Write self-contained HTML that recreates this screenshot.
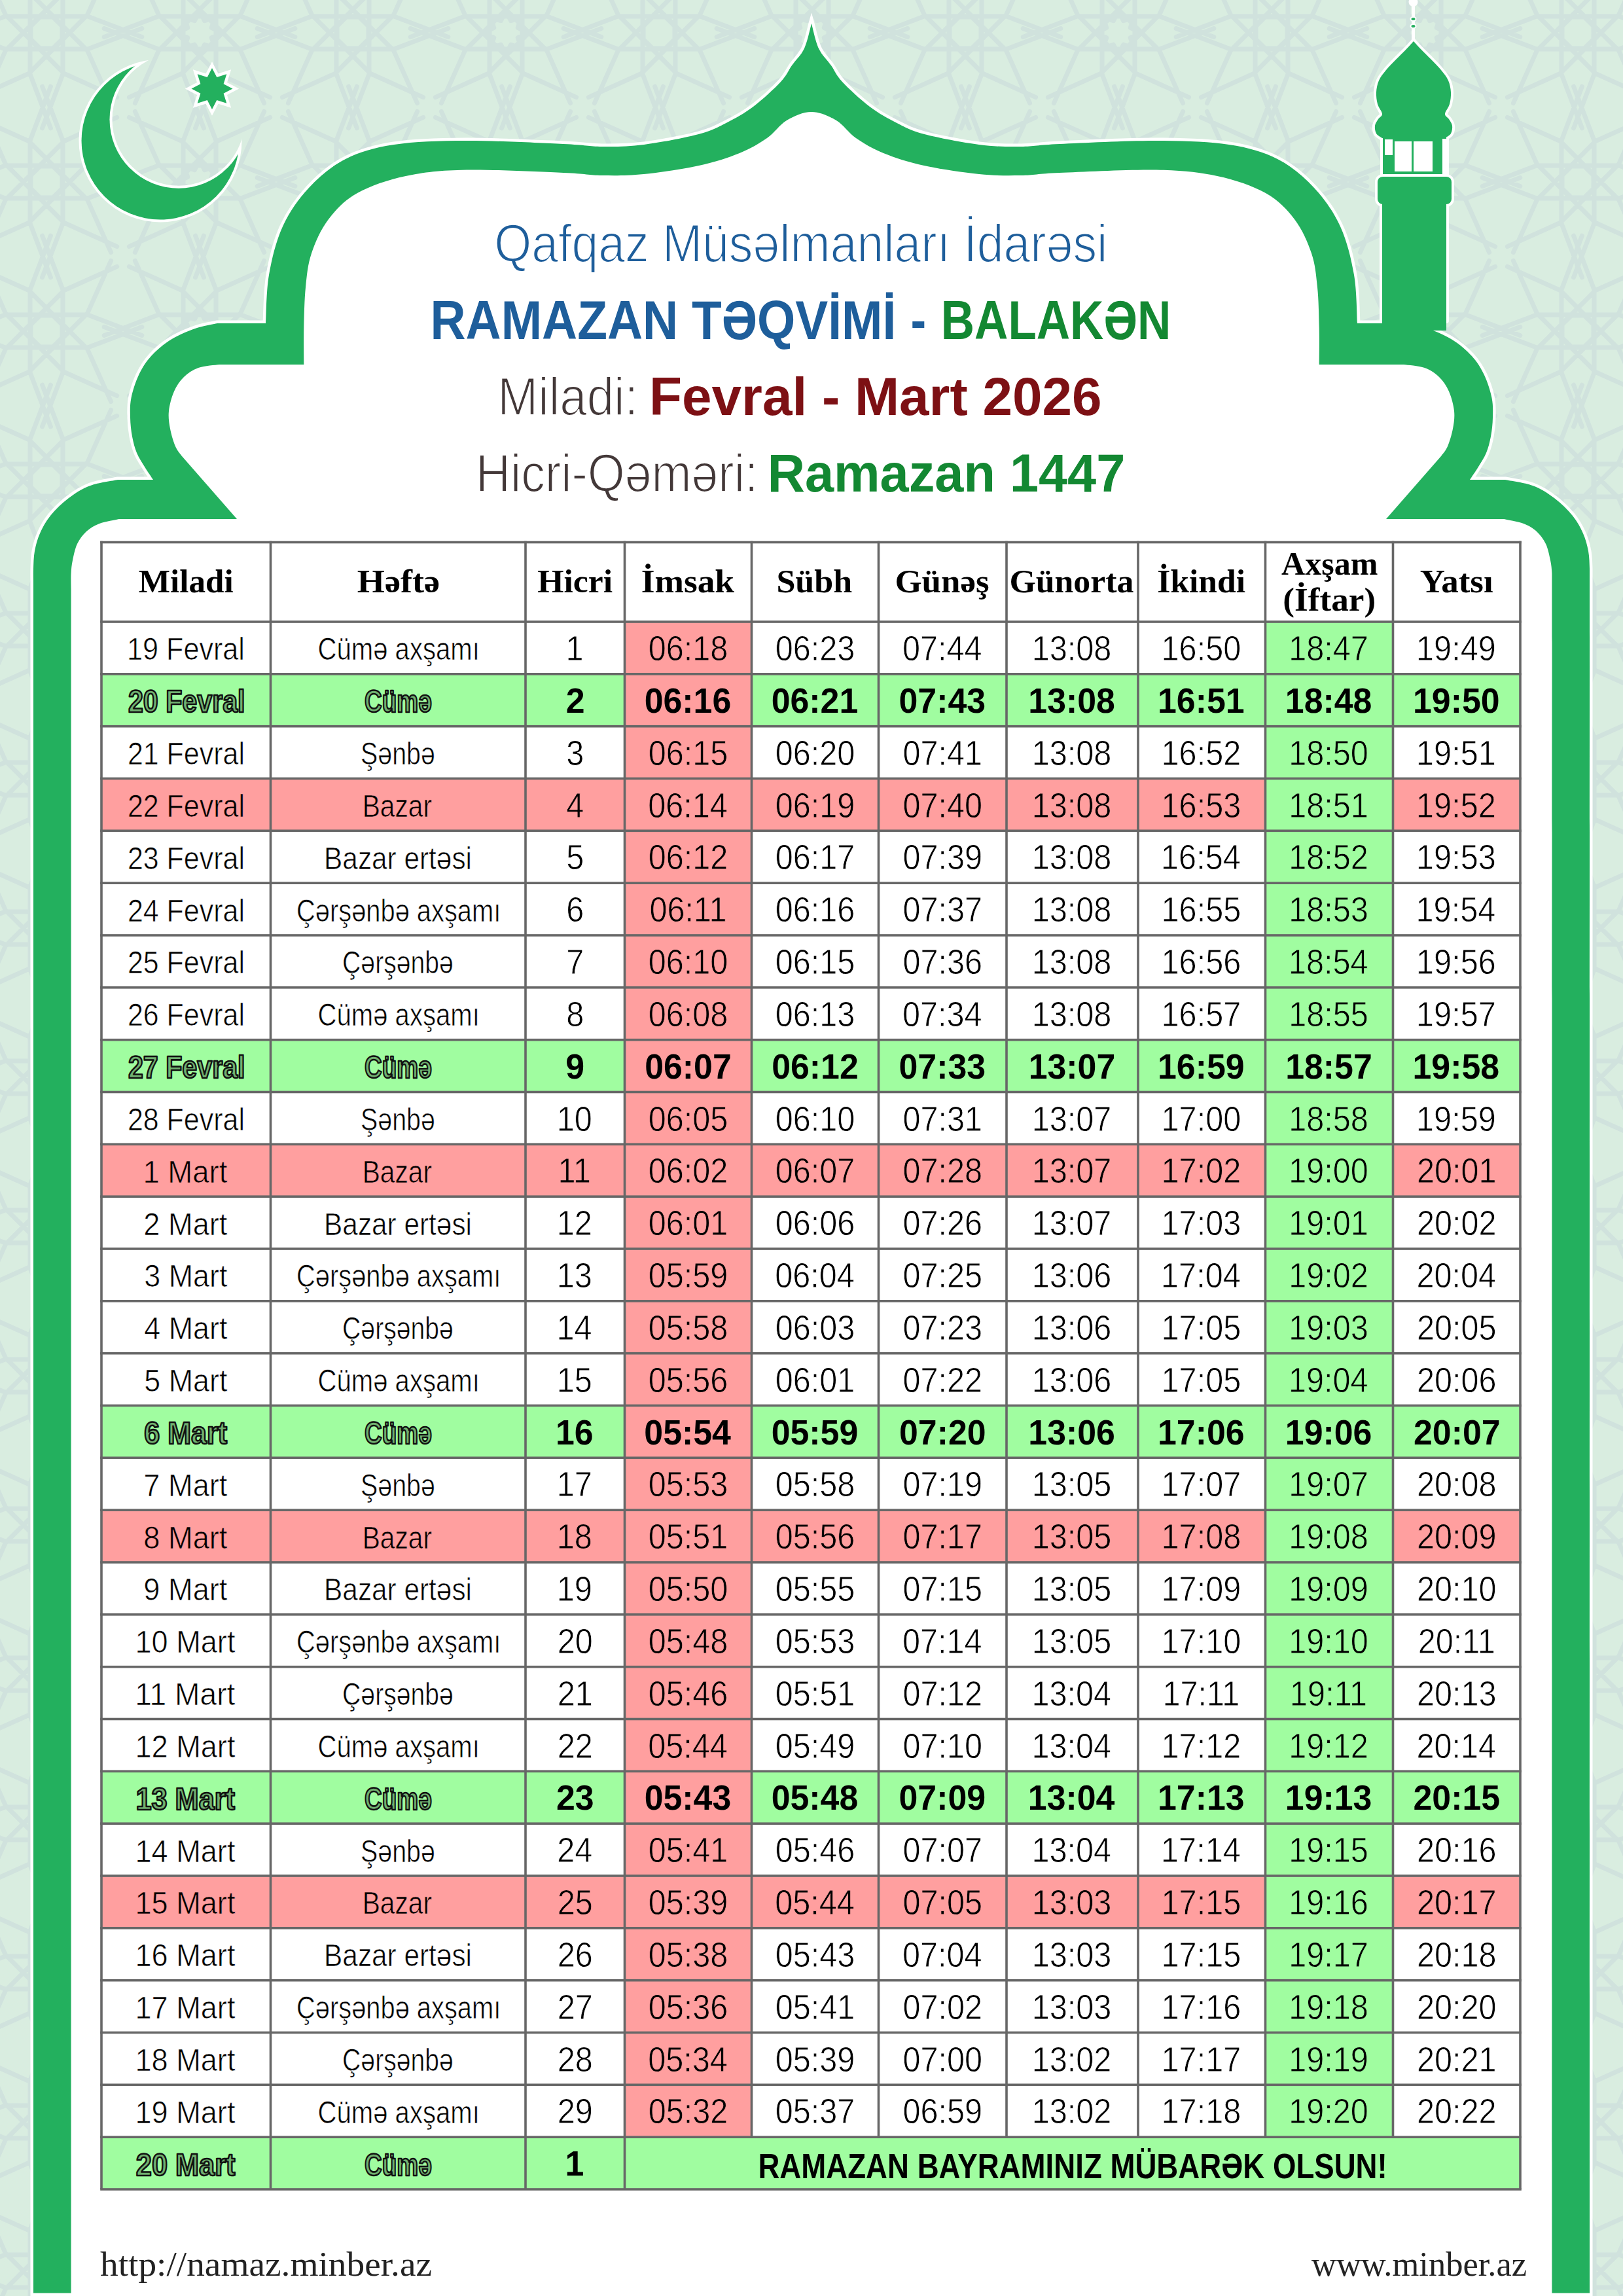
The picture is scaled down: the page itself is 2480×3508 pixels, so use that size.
<!DOCTYPE html>
<html><head><meta charset="utf-8"><style>
html,body{margin:0;padding:0;}
body{width:2480px;height:3508px;overflow:hidden;position:relative;background:#d9ede0;}
svg{position:absolute;left:0;top:0;}
</style></head><body>
<svg width="2480" height="3508" viewBox="0 0 2480 3508">
<rect width="2480" height="3508" fill="#d9ede0"/>
<path d="M-225 -153L-101 -153M-225 -203L-101 -203M-224.5 -204.2L-136.8 -116.5M-189.2 -239.5L-101.5 -151.8M-188 -240L-188 -116M-138 -240L-138 -116M-136.8 -239.5L-224.5 -151.8M-101.5 -204.2L-189.2 -116.5M-101.2 -152.4L-17.2 -184.4M-101.2 -152.4L-64.4 -70.4M-137.4 -116.2L-55.4 -79.4M-137.4 -116.2L-169.4 -32.2M-188.6 -116.2L-156.6 -32.2M-188.6 -116.2L-270.6 -79.4M-224.8 -152.4L-261.6 -70.4M-224.8 -152.4L-308.8 -184.4M-224.8 -203.6L-308.8 -171.6M-224.8 -203.6L-261.6 -285.6M-188.6 -239.8L-270.6 -276.6M-188.6 -239.8L-156.6 -323.8M-137.4 -239.8L-169.4 -323.8M-137.4 -239.8L-55.4 -276.6M-101.2 -203.6L-64.4 -285.6M-101.2 -203.6L-17.2 -171.6M-163 -211L-155.4 -196.3M-155.4 -196.3L-139.7 -201.3M-139.7 -201.3L-144.7 -185.6M-144.7 -185.6L-130 -178M-130 -178L-144.7 -170.4M-144.7 -170.4L-139.7 -154.7M-139.7 -154.7L-155.4 -159.7M-155.4 -159.7L-163 -145M-163 -145L-170.6 -159.7M-170.6 -159.7L-186.3 -154.7M-186.3 -154.7L-181.3 -170.4M-181.3 -170.4L-196 -178M-196 -178L-181.3 -185.6M-181.3 -185.6L-186.3 -201.3M-186.3 -201.3L-170.6 -196.3M-170.6 -196.3L-163 -211M-225 75L-101 75M-225 25L-101 25M-224.5 23.8L-136.8 111.5M-189.2 -11.5L-101.5 76.2M-188 -12L-188 112M-138 -12L-138 112M-136.8 -11.5L-224.5 76.2M-101.5 23.8L-189.2 111.5M-101.2 75.6L-17.2 43.6M-101.2 75.6L-64.4 157.6M-137.4 111.8L-55.4 148.6M-137.4 111.8L-169.4 195.8M-188.6 111.8L-156.6 195.8M-188.6 111.8L-270.6 148.6M-224.8 75.6L-261.6 157.6M-224.8 75.6L-308.8 43.6M-224.8 24.4L-308.8 56.4M-224.8 24.4L-261.6 -57.6M-188.6 -11.8L-270.6 -48.6M-188.6 -11.8L-156.6 -95.8M-137.4 -11.8L-169.4 -95.8M-137.4 -11.8L-55.4 -48.6M-101.2 24.4L-64.4 -57.6M-101.2 24.4L-17.2 56.4M-163 17L-155.4 31.7M-155.4 31.7L-139.7 26.7M-139.7 26.7L-144.7 42.4M-144.7 42.4L-130 50M-130 50L-144.7 57.6M-144.7 57.6L-139.7 73.3M-139.7 73.3L-155.4 68.3M-155.4 68.3L-163 83M-163 83L-170.6 68.3M-170.6 68.3L-186.3 73.3M-186.3 73.3L-181.3 57.6M-181.3 57.6L-196 50M-196 50L-181.3 42.4M-181.3 42.4L-186.3 26.7M-186.3 26.7L-170.6 31.7M-170.6 31.7L-163 17M-225 303L-101 303M-225 253L-101 253M-224.5 251.8L-136.8 339.5M-189.2 216.5L-101.5 304.2M-188 216L-188 340M-138 216L-138 340M-136.8 216.5L-224.5 304.2M-101.5 251.8L-189.2 339.5M-101.2 303.6L-17.2 271.6M-101.2 303.6L-64.4 385.6M-137.4 339.8L-55.4 376.6M-137.4 339.8L-169.4 423.8M-188.6 339.8L-156.6 423.8M-188.6 339.8L-270.6 376.6M-224.8 303.6L-261.6 385.6M-224.8 303.6L-308.8 271.6M-224.8 252.4L-308.8 284.4M-224.8 252.4L-261.6 170.4M-188.6 216.2L-270.6 179.4M-188.6 216.2L-156.6 132.2M-137.4 216.2L-169.4 132.2M-137.4 216.2L-55.4 179.4M-101.2 252.4L-64.4 170.4M-101.2 252.4L-17.2 284.4M-163 245L-155.4 259.7M-155.4 259.7L-139.7 254.7M-139.7 254.7L-144.7 270.4M-144.7 270.4L-130 278M-130 278L-144.7 285.6M-144.7 285.6L-139.7 301.3M-139.7 301.3L-155.4 296.3M-155.4 296.3L-163 311M-163 311L-170.6 296.3M-170.6 296.3L-186.3 301.3M-186.3 301.3L-181.3 285.6M-181.3 285.6L-196 278M-196 278L-181.3 270.4M-181.3 270.4L-186.3 254.7M-186.3 254.7L-170.6 259.7M-170.6 259.7L-163 245M-225 531L-101 531M-225 481L-101 481M-224.5 479.8L-136.8 567.5M-189.2 444.5L-101.5 532.2M-188 444L-188 568M-138 444L-138 568M-136.8 444.5L-224.5 532.2M-101.5 479.8L-189.2 567.5M-101.2 531.6L-17.2 499.6M-101.2 531.6L-64.4 613.6M-137.4 567.8L-55.4 604.6M-137.4 567.8L-169.4 651.8M-188.6 567.8L-156.6 651.8M-188.6 567.8L-270.6 604.6M-224.8 531.6L-261.6 613.6M-224.8 531.6L-308.8 499.6M-224.8 480.4L-308.8 512.4M-224.8 480.4L-261.6 398.4M-188.6 444.2L-270.6 407.4M-188.6 444.2L-156.6 360.2M-137.4 444.2L-169.4 360.2M-137.4 444.2L-55.4 407.4M-101.2 480.4L-64.4 398.4M-101.2 480.4L-17.2 512.4M-163 473L-155.4 487.7M-155.4 487.7L-139.7 482.7M-139.7 482.7L-144.7 498.4M-144.7 498.4L-130 506M-130 506L-144.7 513.6M-144.7 513.6L-139.7 529.3M-139.7 529.3L-155.4 524.3M-155.4 524.3L-163 539M-163 539L-170.6 524.3M-170.6 524.3L-186.3 529.3M-186.3 529.3L-181.3 513.6M-181.3 513.6L-196 506M-196 506L-181.3 498.4M-181.3 498.4L-186.3 482.7M-186.3 482.7L-170.6 487.7M-170.6 487.7L-163 473M-225 759L-101 759M-225 709L-101 709M-224.5 707.8L-136.8 795.5M-189.2 672.5L-101.5 760.2M-188 672L-188 796M-138 672L-138 796M-136.8 672.5L-224.5 760.2M-101.5 707.8L-189.2 795.5M-101.2 759.6L-17.2 727.6M-101.2 759.6L-64.4 841.6M-137.4 795.8L-55.4 832.6M-137.4 795.8L-169.4 879.8M-188.6 795.8L-156.6 879.8M-188.6 795.8L-270.6 832.6M-224.8 759.6L-261.6 841.6M-224.8 759.6L-308.8 727.6M-224.8 708.4L-308.8 740.4M-224.8 708.4L-261.6 626.4M-188.6 672.2L-270.6 635.4M-188.6 672.2L-156.6 588.2M-137.4 672.2L-169.4 588.2M-137.4 672.2L-55.4 635.4M-101.2 708.4L-64.4 626.4M-101.2 708.4L-17.2 740.4M-163 701L-155.4 715.7M-155.4 715.7L-139.7 710.7M-139.7 710.7L-144.7 726.4M-144.7 726.4L-130 734M-130 734L-144.7 741.6M-144.7 741.6L-139.7 757.3M-139.7 757.3L-155.4 752.3M-155.4 752.3L-163 767M-163 767L-170.6 752.3M-170.6 752.3L-186.3 757.3M-186.3 757.3L-181.3 741.6M-181.3 741.6L-196 734M-196 734L-181.3 726.4M-181.3 726.4L-186.3 710.7M-186.3 710.7L-170.6 715.7M-170.6 715.7L-163 701M-225 987L-101 987M-225 937L-101 937M-224.5 935.8L-136.8 1023.5M-189.2 900.5L-101.5 988.2M-188 900L-188 1024M-138 900L-138 1024M-136.8 900.5L-224.5 988.2M-101.5 935.8L-189.2 1023.5M-101.2 987.6L-17.2 955.6M-101.2 987.6L-64.4 1069.6M-137.4 1023.8L-55.4 1060.6M-137.4 1023.8L-169.4 1107.8M-188.6 1023.8L-156.6 1107.8M-188.6 1023.8L-270.6 1060.6M-224.8 987.6L-261.6 1069.6M-224.8 987.6L-308.8 955.6M-224.8 936.4L-308.8 968.4M-224.8 936.4L-261.6 854.4M-188.6 900.2L-270.6 863.4M-188.6 900.2L-156.6 816.2M-137.4 900.2L-169.4 816.2M-137.4 900.2L-55.4 863.4M-101.2 936.4L-64.4 854.4M-101.2 936.4L-17.2 968.4M-163 929L-155.4 943.7M-155.4 943.7L-139.7 938.7M-139.7 938.7L-144.7 954.4M-144.7 954.4L-130 962M-130 962L-144.7 969.6M-144.7 969.6L-139.7 985.3M-139.7 985.3L-155.4 980.3M-155.4 980.3L-163 995M-163 995L-170.6 980.3M-170.6 980.3L-186.3 985.3M-186.3 985.3L-181.3 969.6M-181.3 969.6L-196 962M-196 962L-181.3 954.4M-181.3 954.4L-186.3 938.7M-186.3 938.7L-170.6 943.7M-170.6 943.7L-163 929M-225 1215L-101 1215M-225 1165L-101 1165M-224.5 1163.8L-136.8 1251.5M-189.2 1128.5L-101.5 1216.2M-188 1128L-188 1252M-138 1128L-138 1252M-136.8 1128.5L-224.5 1216.2M-101.5 1163.8L-189.2 1251.5M-101.2 1215.6L-17.2 1183.6M-101.2 1215.6L-64.4 1297.6M-137.4 1251.8L-55.4 1288.6M-137.4 1251.8L-169.4 1335.8M-188.6 1251.8L-156.6 1335.8M-188.6 1251.8L-270.6 1288.6M-224.8 1215.6L-261.6 1297.6M-224.8 1215.6L-308.8 1183.6M-224.8 1164.4L-308.8 1196.4M-224.8 1164.4L-261.6 1082.4M-188.6 1128.2L-270.6 1091.4M-188.6 1128.2L-156.6 1044.2M-137.4 1128.2L-169.4 1044.2M-137.4 1128.2L-55.4 1091.4M-101.2 1164.4L-64.4 1082.4M-101.2 1164.4L-17.2 1196.4M-163 1157L-155.4 1171.7M-155.4 1171.7L-139.7 1166.7M-139.7 1166.7L-144.7 1182.4M-144.7 1182.4L-130 1190M-130 1190L-144.7 1197.6M-144.7 1197.6L-139.7 1213.3M-139.7 1213.3L-155.4 1208.3M-155.4 1208.3L-163 1223M-163 1223L-170.6 1208.3M-170.6 1208.3L-186.3 1213.3M-186.3 1213.3L-181.3 1197.6M-181.3 1197.6L-196 1190M-196 1190L-181.3 1182.4M-181.3 1182.4L-186.3 1166.7M-186.3 1166.7L-170.6 1171.7M-170.6 1171.7L-163 1157M-225 1443L-101 1443M-225 1393L-101 1393M-224.5 1391.8L-136.8 1479.5M-189.2 1356.5L-101.5 1444.2M-188 1356L-188 1480M-138 1356L-138 1480M-136.8 1356.5L-224.5 1444.2M-101.5 1391.8L-189.2 1479.5M-101.2 1443.6L-17.2 1411.6M-101.2 1443.6L-64.4 1525.6M-137.4 1479.8L-55.4 1516.6M-137.4 1479.8L-169.4 1563.8M-188.6 1479.8L-156.6 1563.8M-188.6 1479.8L-270.6 1516.6M-224.8 1443.6L-261.6 1525.6M-224.8 1443.6L-308.8 1411.6M-224.8 1392.4L-308.8 1424.4M-224.8 1392.4L-261.6 1310.4M-188.6 1356.2L-270.6 1319.4M-188.6 1356.2L-156.6 1272.2M-137.4 1356.2L-169.4 1272.2M-137.4 1356.2L-55.4 1319.4M-101.2 1392.4L-64.4 1310.4M-101.2 1392.4L-17.2 1424.4M-163 1385L-155.4 1399.7M-155.4 1399.7L-139.7 1394.7M-139.7 1394.7L-144.7 1410.4M-144.7 1410.4L-130 1418M-130 1418L-144.7 1425.6M-144.7 1425.6L-139.7 1441.3M-139.7 1441.3L-155.4 1436.3M-155.4 1436.3L-163 1451M-163 1451L-170.6 1436.3M-170.6 1436.3L-186.3 1441.3M-186.3 1441.3L-181.3 1425.6M-181.3 1425.6L-196 1418M-196 1418L-181.3 1410.4M-181.3 1410.4L-186.3 1394.7M-186.3 1394.7L-170.6 1399.7M-170.6 1399.7L-163 1385M-225 1671L-101 1671M-225 1621L-101 1621M-224.5 1619.8L-136.8 1707.5M-189.2 1584.5L-101.5 1672.2M-188 1584L-188 1708M-138 1584L-138 1708M-136.8 1584.5L-224.5 1672.2M-101.5 1619.8L-189.2 1707.5M-101.2 1671.6L-17.2 1639.6M-101.2 1671.6L-64.4 1753.6M-137.4 1707.8L-55.4 1744.6M-137.4 1707.8L-169.4 1791.8M-188.6 1707.8L-156.6 1791.8M-188.6 1707.8L-270.6 1744.6M-224.8 1671.6L-261.6 1753.6M-224.8 1671.6L-308.8 1639.6M-224.8 1620.4L-308.8 1652.4M-224.8 1620.4L-261.6 1538.4M-188.6 1584.2L-270.6 1547.4M-188.6 1584.2L-156.6 1500.2M-137.4 1584.2L-169.4 1500.2M-137.4 1584.2L-55.4 1547.4M-101.2 1620.4L-64.4 1538.4M-101.2 1620.4L-17.2 1652.4M-163 1613L-155.4 1627.7M-155.4 1627.7L-139.7 1622.7M-139.7 1622.7L-144.7 1638.4M-144.7 1638.4L-130 1646M-130 1646L-144.7 1653.6M-144.7 1653.6L-139.7 1669.3M-139.7 1669.3L-155.4 1664.3M-155.4 1664.3L-163 1679M-163 1679L-170.6 1664.3M-170.6 1664.3L-186.3 1669.3M-186.3 1669.3L-181.3 1653.6M-181.3 1653.6L-196 1646M-196 1646L-181.3 1638.4M-181.3 1638.4L-186.3 1622.7M-186.3 1622.7L-170.6 1627.7M-170.6 1627.7L-163 1613M-225 1899L-101 1899M-225 1849L-101 1849M-224.5 1847.8L-136.8 1935.5M-189.2 1812.5L-101.5 1900.2M-188 1812L-188 1936M-138 1812L-138 1936M-136.8 1812.5L-224.5 1900.2M-101.5 1847.8L-189.2 1935.5M-101.2 1899.6L-17.2 1867.6M-101.2 1899.6L-64.4 1981.6M-137.4 1935.8L-55.4 1972.6M-137.4 1935.8L-169.4 2019.8M-188.6 1935.8L-156.6 2019.8M-188.6 1935.8L-270.6 1972.6M-224.8 1899.6L-261.6 1981.6M-224.8 1899.6L-308.8 1867.6M-224.8 1848.4L-308.8 1880.4M-224.8 1848.4L-261.6 1766.4M-188.6 1812.2L-270.6 1775.4M-188.6 1812.2L-156.6 1728.2M-137.4 1812.2L-169.4 1728.2M-137.4 1812.2L-55.4 1775.4M-101.2 1848.4L-64.4 1766.4M-101.2 1848.4L-17.2 1880.4M-163 1841L-155.4 1855.7M-155.4 1855.7L-139.7 1850.7M-139.7 1850.7L-144.7 1866.4M-144.7 1866.4L-130 1874M-130 1874L-144.7 1881.6M-144.7 1881.6L-139.7 1897.3M-139.7 1897.3L-155.4 1892.3M-155.4 1892.3L-163 1907M-163 1907L-170.6 1892.3M-170.6 1892.3L-186.3 1897.3M-186.3 1897.3L-181.3 1881.6M-181.3 1881.6L-196 1874M-196 1874L-181.3 1866.4M-181.3 1866.4L-186.3 1850.7M-186.3 1850.7L-170.6 1855.7M-170.6 1855.7L-163 1841M-225 2127L-101 2127M-225 2077L-101 2077M-224.5 2075.8L-136.8 2163.5M-189.2 2040.5L-101.5 2128.2M-188 2040L-188 2164M-138 2040L-138 2164M-136.8 2040.5L-224.5 2128.2M-101.5 2075.8L-189.2 2163.5M-101.2 2127.6L-17.2 2095.6M-101.2 2127.6L-64.4 2209.6M-137.4 2163.8L-55.4 2200.6M-137.4 2163.8L-169.4 2247.8M-188.6 2163.8L-156.6 2247.8M-188.6 2163.8L-270.6 2200.6M-224.8 2127.6L-261.6 2209.6M-224.8 2127.6L-308.8 2095.6M-224.8 2076.4L-308.8 2108.4M-224.8 2076.4L-261.6 1994.4M-188.6 2040.2L-270.6 2003.4M-188.6 2040.2L-156.6 1956.2M-137.4 2040.2L-169.4 1956.2M-137.4 2040.2L-55.4 2003.4M-101.2 2076.4L-64.4 1994.4M-101.2 2076.4L-17.2 2108.4M-163 2069L-155.4 2083.7M-155.4 2083.7L-139.7 2078.7M-139.7 2078.7L-144.7 2094.4M-144.7 2094.4L-130 2102M-130 2102L-144.7 2109.6M-144.7 2109.6L-139.7 2125.3M-139.7 2125.3L-155.4 2120.3M-155.4 2120.3L-163 2135M-163 2135L-170.6 2120.3M-170.6 2120.3L-186.3 2125.3M-186.3 2125.3L-181.3 2109.6M-181.3 2109.6L-196 2102M-196 2102L-181.3 2094.4M-181.3 2094.4L-186.3 2078.7M-186.3 2078.7L-170.6 2083.7M-170.6 2083.7L-163 2069M-225 2355L-101 2355M-225 2305L-101 2305M-224.5 2303.8L-136.8 2391.5M-189.2 2268.5L-101.5 2356.2M-188 2268L-188 2392M-138 2268L-138 2392M-136.8 2268.5L-224.5 2356.2M-101.5 2303.8L-189.2 2391.5M-101.2 2355.6L-17.2 2323.6M-101.2 2355.6L-64.4 2437.6M-137.4 2391.8L-55.4 2428.6M-137.4 2391.8L-169.4 2475.8M-188.6 2391.8L-156.6 2475.8M-188.6 2391.8L-270.6 2428.6M-224.8 2355.6L-261.6 2437.6M-224.8 2355.6L-308.8 2323.6M-224.8 2304.4L-308.8 2336.4M-224.8 2304.4L-261.6 2222.4M-188.6 2268.2L-270.6 2231.4M-188.6 2268.2L-156.6 2184.2M-137.4 2268.2L-169.4 2184.2M-137.4 2268.2L-55.4 2231.4M-101.2 2304.4L-64.4 2222.4M-101.2 2304.4L-17.2 2336.4M-163 2297L-155.4 2311.7M-155.4 2311.7L-139.7 2306.7M-139.7 2306.7L-144.7 2322.4M-144.7 2322.4L-130 2330M-130 2330L-144.7 2337.6M-144.7 2337.6L-139.7 2353.3M-139.7 2353.3L-155.4 2348.3M-155.4 2348.3L-163 2363M-163 2363L-170.6 2348.3M-170.6 2348.3L-186.3 2353.3M-186.3 2353.3L-181.3 2337.6M-181.3 2337.6L-196 2330M-196 2330L-181.3 2322.4M-181.3 2322.4L-186.3 2306.7M-186.3 2306.7L-170.6 2311.7M-170.6 2311.7L-163 2297M-225 2583L-101 2583M-225 2533L-101 2533M-224.5 2531.8L-136.8 2619.5M-189.2 2496.5L-101.5 2584.2M-188 2496L-188 2620M-138 2496L-138 2620M-136.8 2496.5L-224.5 2584.2M-101.5 2531.8L-189.2 2619.5M-101.2 2583.6L-17.2 2551.6M-101.2 2583.6L-64.4 2665.6M-137.4 2619.8L-55.4 2656.6M-137.4 2619.8L-169.4 2703.8M-188.6 2619.8L-156.6 2703.8M-188.6 2619.8L-270.6 2656.6M-224.8 2583.6L-261.6 2665.6M-224.8 2583.6L-308.8 2551.6M-224.8 2532.4L-308.8 2564.4M-224.8 2532.4L-261.6 2450.4M-188.6 2496.2L-270.6 2459.4M-188.6 2496.2L-156.6 2412.2M-137.4 2496.2L-169.4 2412.2M-137.4 2496.2L-55.4 2459.4M-101.2 2532.4L-64.4 2450.4M-101.2 2532.4L-17.2 2564.4M-163 2525L-155.4 2539.7M-155.4 2539.7L-139.7 2534.7M-139.7 2534.7L-144.7 2550.4M-144.7 2550.4L-130 2558M-130 2558L-144.7 2565.6M-144.7 2565.6L-139.7 2581.3M-139.7 2581.3L-155.4 2576.3M-155.4 2576.3L-163 2591M-163 2591L-170.6 2576.3M-170.6 2576.3L-186.3 2581.3M-186.3 2581.3L-181.3 2565.6M-181.3 2565.6L-196 2558M-196 2558L-181.3 2550.4M-181.3 2550.4L-186.3 2534.7M-186.3 2534.7L-170.6 2539.7M-170.6 2539.7L-163 2525M-225 2811L-101 2811M-225 2761L-101 2761M-224.5 2759.8L-136.8 2847.5M-189.2 2724.5L-101.5 2812.2M-188 2724L-188 2848M-138 2724L-138 2848M-136.8 2724.5L-224.5 2812.2M-101.5 2759.8L-189.2 2847.5M-101.2 2811.6L-17.2 2779.6M-101.2 2811.6L-64.4 2893.6M-137.4 2847.8L-55.4 2884.6M-137.4 2847.8L-169.4 2931.8M-188.6 2847.8L-156.6 2931.8M-188.6 2847.8L-270.6 2884.6M-224.8 2811.6L-261.6 2893.6M-224.8 2811.6L-308.8 2779.6M-224.8 2760.4L-308.8 2792.4M-224.8 2760.4L-261.6 2678.4M-188.6 2724.2L-270.6 2687.4M-188.6 2724.2L-156.6 2640.2M-137.4 2724.2L-169.4 2640.2M-137.4 2724.2L-55.4 2687.4M-101.2 2760.4L-64.4 2678.4M-101.2 2760.4L-17.2 2792.4M-163 2753L-155.4 2767.7M-155.4 2767.7L-139.7 2762.7M-139.7 2762.7L-144.7 2778.4M-144.7 2778.4L-130 2786M-130 2786L-144.7 2793.6M-144.7 2793.6L-139.7 2809.3M-139.7 2809.3L-155.4 2804.3M-155.4 2804.3L-163 2819M-163 2819L-170.6 2804.3M-170.6 2804.3L-186.3 2809.3M-186.3 2809.3L-181.3 2793.6M-181.3 2793.6L-196 2786M-196 2786L-181.3 2778.4M-181.3 2778.4L-186.3 2762.7M-186.3 2762.7L-170.6 2767.7M-170.6 2767.7L-163 2753M-225 3039L-101 3039M-225 2989L-101 2989M-224.5 2987.8L-136.8 3075.5M-189.2 2952.5L-101.5 3040.2M-188 2952L-188 3076M-138 2952L-138 3076M-136.8 2952.5L-224.5 3040.2M-101.5 2987.8L-189.2 3075.5M-101.2 3039.6L-17.2 3007.6M-101.2 3039.6L-64.4 3121.6M-137.4 3075.8L-55.4 3112.6M-137.4 3075.8L-169.4 3159.8M-188.6 3075.8L-156.6 3159.8M-188.6 3075.8L-270.6 3112.6M-224.8 3039.6L-261.6 3121.6M-224.8 3039.6L-308.8 3007.6M-224.8 2988.4L-308.8 3020.4M-224.8 2988.4L-261.6 2906.4M-188.6 2952.2L-270.6 2915.4M-188.6 2952.2L-156.6 2868.2M-137.4 2952.2L-169.4 2868.2M-137.4 2952.2L-55.4 2915.4M-101.2 2988.4L-64.4 2906.4M-101.2 2988.4L-17.2 3020.4M-163 2981L-155.4 2995.7M-155.4 2995.7L-139.7 2990.7M-139.7 2990.7L-144.7 3006.4M-144.7 3006.4L-130 3014M-130 3014L-144.7 3021.6M-144.7 3021.6L-139.7 3037.3M-139.7 3037.3L-155.4 3032.3M-155.4 3032.3L-163 3047M-163 3047L-170.6 3032.3M-170.6 3032.3L-186.3 3037.3M-186.3 3037.3L-181.3 3021.6M-181.3 3021.6L-196 3014M-196 3014L-181.3 3006.4M-181.3 3006.4L-186.3 2990.7M-186.3 2990.7L-170.6 2995.7M-170.6 2995.7L-163 2981M-225 3267L-101 3267M-225 3217L-101 3217M-224.5 3215.8L-136.8 3303.5M-189.2 3180.5L-101.5 3268.2M-188 3180L-188 3304M-138 3180L-138 3304M-136.8 3180.5L-224.5 3268.2M-101.5 3215.8L-189.2 3303.5M-101.2 3267.6L-17.2 3235.6M-101.2 3267.6L-64.4 3349.6M-137.4 3303.8L-55.4 3340.6M-137.4 3303.8L-169.4 3387.8M-188.6 3303.8L-156.6 3387.8M-188.6 3303.8L-270.6 3340.6M-224.8 3267.6L-261.6 3349.6M-224.8 3267.6L-308.8 3235.6M-224.8 3216.4L-308.8 3248.4M-224.8 3216.4L-261.6 3134.4M-188.6 3180.2L-270.6 3143.4M-188.6 3180.2L-156.6 3096.2M-137.4 3180.2L-169.4 3096.2M-137.4 3180.2L-55.4 3143.4M-101.2 3216.4L-64.4 3134.4M-101.2 3216.4L-17.2 3248.4M-163 3209L-155.4 3223.7M-155.4 3223.7L-139.7 3218.7M-139.7 3218.7L-144.7 3234.4M-144.7 3234.4L-130 3242M-130 3242L-144.7 3249.6M-144.7 3249.6L-139.7 3265.3M-139.7 3265.3L-155.4 3260.3M-155.4 3260.3L-163 3275M-163 3275L-170.6 3260.3M-170.6 3260.3L-186.3 3265.3M-186.3 3265.3L-181.3 3249.6M-181.3 3249.6L-196 3242M-196 3242L-181.3 3234.4M-181.3 3234.4L-186.3 3218.7M-186.3 3218.7L-170.6 3223.7M-170.6 3223.7L-163 3209M-225 3495L-101 3495M-225 3445L-101 3445M-224.5 3443.8L-136.8 3531.5M-189.2 3408.5L-101.5 3496.2M-188 3408L-188 3532M-138 3408L-138 3532M-136.8 3408.5L-224.5 3496.2M-101.5 3443.8L-189.2 3531.5M-101.2 3495.6L-17.2 3463.6M-101.2 3495.6L-64.4 3577.6M-137.4 3531.8L-55.4 3568.6M-137.4 3531.8L-169.4 3615.8M-188.6 3531.8L-156.6 3615.8M-188.6 3531.8L-270.6 3568.6M-224.8 3495.6L-261.6 3577.6M-224.8 3495.6L-308.8 3463.6M-224.8 3444.4L-308.8 3476.4M-224.8 3444.4L-261.6 3362.4M-188.6 3408.2L-270.6 3371.4M-188.6 3408.2L-156.6 3324.2M-137.4 3408.2L-169.4 3324.2M-137.4 3408.2L-55.4 3371.4M-101.2 3444.4L-64.4 3362.4M-101.2 3444.4L-17.2 3476.4M-163 3437L-155.4 3451.7M-155.4 3451.7L-139.7 3446.7M-139.7 3446.7L-144.7 3462.4M-144.7 3462.4L-130 3470M-130 3470L-144.7 3477.6M-144.7 3477.6L-139.7 3493.3M-139.7 3493.3L-155.4 3488.3M-155.4 3488.3L-163 3503M-163 3503L-170.6 3488.3M-170.6 3488.3L-186.3 3493.3M-186.3 3493.3L-181.3 3477.6M-181.3 3477.6L-196 3470M-196 3470L-181.3 3462.4M-181.3 3462.4L-186.3 3446.7M-186.3 3446.7L-170.6 3451.7M-170.6 3451.7L-163 3437M-225 3723L-101 3723M-225 3673L-101 3673M-224.5 3671.8L-136.8 3759.5M-189.2 3636.5L-101.5 3724.2M-188 3636L-188 3760M-138 3636L-138 3760M-136.8 3636.5L-224.5 3724.2M-101.5 3671.8L-189.2 3759.5M-101.2 3723.6L-17.2 3691.6M-101.2 3723.6L-64.4 3805.6M-137.4 3759.8L-55.4 3796.6M-137.4 3759.8L-169.4 3843.8M-188.6 3759.8L-156.6 3843.8M-188.6 3759.8L-270.6 3796.6M-224.8 3723.6L-261.6 3805.6M-224.8 3723.6L-308.8 3691.6M-224.8 3672.4L-308.8 3704.4M-224.8 3672.4L-261.6 3590.4M-188.6 3636.2L-270.6 3599.4M-188.6 3636.2L-156.6 3552.2M-137.4 3636.2L-169.4 3552.2M-137.4 3636.2L-55.4 3599.4M-101.2 3672.4L-64.4 3590.4M-101.2 3672.4L-17.2 3704.4M-163 3665L-155.4 3679.7M-155.4 3679.7L-139.7 3674.7M-139.7 3674.7L-144.7 3690.4M-144.7 3690.4L-130 3698M-130 3698L-144.7 3705.6M-144.7 3705.6L-139.7 3721.3M-139.7 3721.3L-155.4 3716.3M-155.4 3716.3L-163 3731M-163 3731L-170.6 3716.3M-170.6 3716.3L-186.3 3721.3M-186.3 3721.3L-181.3 3705.6M-181.3 3705.6L-196 3698M-196 3698L-181.3 3690.4M-181.3 3690.4L-186.3 3674.7M-186.3 3674.7L-170.6 3679.7M-170.6 3679.7L-163 3665M9 -153L133 -153M9 -203L133 -203M9.5 -204.2L97.2 -116.5M44.8 -239.5L132.5 -151.8M46 -240L46 -116M96 -240L96 -116M97.2 -239.5L9.5 -151.8M132.5 -204.2L44.8 -116.5M132.8 -152.4L216.8 -184.4M132.8 -152.4L169.6 -70.4M96.6 -116.2L178.6 -79.4M96.6 -116.2L64.6 -32.2M45.4 -116.2L77.4 -32.2M45.4 -116.2L-36.6 -79.4M9.2 -152.4L-27.6 -70.4M9.2 -152.4L-74.8 -184.4M9.2 -203.6L-74.8 -171.6M9.2 -203.6L-27.6 -285.6M45.4 -239.8L-36.6 -276.6M45.4 -239.8L77.4 -323.8M96.6 -239.8L64.6 -323.8M96.6 -239.8L178.6 -276.6M132.8 -203.6L169.6 -285.6M132.8 -203.6L216.8 -171.6M95 -168.1L80.9 -154M80.9 -154L61.1 -154M61.1 -154L47 -168.1M47 -168.1L47 -187.9M47 -187.9L61.1 -202M61.1 -202L80.9 -202M80.9 -202L95 -187.9M95 -187.9L95 -168.1M9 75L133 75M9 25L133 25M9.5 23.8L97.2 111.5M44.8 -11.5L132.5 76.2M46 -12L46 112M96 -12L96 112M97.2 -11.5L9.5 76.2M132.5 23.8L44.8 111.5M132.8 75.6L216.8 43.6M132.8 75.6L169.6 157.6M96.6 111.8L178.6 148.6M96.6 111.8L64.6 195.8M45.4 111.8L77.4 195.8M45.4 111.8L-36.6 148.6M9.2 75.6L-27.6 157.6M9.2 75.6L-74.8 43.6M9.2 24.4L-74.8 56.4M9.2 24.4L-27.6 -57.6M45.4 -11.8L-36.6 -48.6M45.4 -11.8L77.4 -95.8M96.6 -11.8L64.6 -95.8M96.6 -11.8L178.6 -48.6M132.8 24.4L169.6 -57.6M132.8 24.4L216.8 56.4M95 59.9L80.9 74M80.9 74L61.1 74M61.1 74L47 59.9M47 59.9L47 40.1M47 40.1L61.1 26M61.1 26L80.9 26M80.9 26L95 40.1M95 40.1L95 59.9M9 303L133 303M9 253L133 253M9.5 251.8L97.2 339.5M44.8 216.5L132.5 304.2M46 216L46 340M96 216L96 340M97.2 216.5L9.5 304.2M132.5 251.8L44.8 339.5M132.8 303.6L216.8 271.6M132.8 303.6L169.6 385.6M96.6 339.8L178.6 376.6M96.6 339.8L64.6 423.8M45.4 339.8L77.4 423.8M45.4 339.8L-36.6 376.6M9.2 303.6L-27.6 385.6M9.2 303.6L-74.8 271.6M9.2 252.4L-74.8 284.4M9.2 252.4L-27.6 170.4M45.4 216.2L-36.6 179.4M45.4 216.2L77.4 132.2M96.6 216.2L64.6 132.2M96.6 216.2L178.6 179.4M132.8 252.4L169.6 170.4M132.8 252.4L216.8 284.4M95 287.9L80.9 302M80.9 302L61.1 302M61.1 302L47 287.9M47 287.9L47 268.1M47 268.1L61.1 254M61.1 254L80.9 254M80.9 254L95 268.1M95 268.1L95 287.9M9 531L133 531M9 481L133 481M9.5 479.8L97.2 567.5M44.8 444.5L132.5 532.2M46 444L46 568M96 444L96 568M97.2 444.5L9.5 532.2M132.5 479.8L44.8 567.5M132.8 531.6L216.8 499.6M132.8 531.6L169.6 613.6M96.6 567.8L178.6 604.6M96.6 567.8L64.6 651.8M45.4 567.8L77.4 651.8M45.4 567.8L-36.6 604.6M9.2 531.6L-27.6 613.6M9.2 531.6L-74.8 499.6M9.2 480.4L-74.8 512.4M9.2 480.4L-27.6 398.4M45.4 444.2L-36.6 407.4M45.4 444.2L77.4 360.2M96.6 444.2L64.6 360.2M96.6 444.2L178.6 407.4M132.8 480.4L169.6 398.4M132.8 480.4L216.8 512.4M95 515.9L80.9 530M80.9 530L61.1 530M61.1 530L47 515.9M47 515.9L47 496.1M47 496.1L61.1 482M61.1 482L80.9 482M80.9 482L95 496.1M95 496.1L95 515.9M9 759L133 759M9 709L133 709M9.5 707.8L97.2 795.5M44.8 672.5L132.5 760.2M46 672L46 796M96 672L96 796M97.2 672.5L9.5 760.2M132.5 707.8L44.8 795.5M132.8 759.6L216.8 727.6M132.8 759.6L169.6 841.6M96.6 795.8L178.6 832.6M96.6 795.8L64.6 879.8M45.4 795.8L77.4 879.8M45.4 795.8L-36.6 832.6M9.2 759.6L-27.6 841.6M9.2 759.6L-74.8 727.6M9.2 708.4L-74.8 740.4M9.2 708.4L-27.6 626.4M45.4 672.2L-36.6 635.4M45.4 672.2L77.4 588.2M96.6 672.2L64.6 588.2M96.6 672.2L178.6 635.4M132.8 708.4L169.6 626.4M132.8 708.4L216.8 740.4M95 743.9L80.9 758M80.9 758L61.1 758M61.1 758L47 743.9M47 743.9L47 724.1M47 724.1L61.1 710M61.1 710L80.9 710M80.9 710L95 724.1M95 724.1L95 743.9M9 987L133 987M9 937L133 937M9.5 935.8L97.2 1023.5M44.8 900.5L132.5 988.2M46 900L46 1024M96 900L96 1024M97.2 900.5L9.5 988.2M132.5 935.8L44.8 1023.5M132.8 987.6L216.8 955.6M132.8 987.6L169.6 1069.6M96.6 1023.8L178.6 1060.6M96.6 1023.8L64.6 1107.8M45.4 1023.8L77.4 1107.8M45.4 1023.8L-36.6 1060.6M9.2 987.6L-27.6 1069.6M9.2 987.6L-74.8 955.6M9.2 936.4L-74.8 968.4M9.2 936.4L-27.6 854.4M45.4 900.2L-36.6 863.4M45.4 900.2L77.4 816.2M96.6 900.2L64.6 816.2M96.6 900.2L178.6 863.4M132.8 936.4L169.6 854.4M132.8 936.4L216.8 968.4M95 971.9L80.9 986M80.9 986L61.1 986M61.1 986L47 971.9M47 971.9L47 952.1M47 952.1L61.1 938M61.1 938L80.9 938M80.9 938L95 952.1M95 952.1L95 971.9M9 1215L133 1215M9 1165L133 1165M9.5 1163.8L97.2 1251.5M44.8 1128.5L132.5 1216.2M46 1128L46 1252M96 1128L96 1252M97.2 1128.5L9.5 1216.2M132.5 1163.8L44.8 1251.5M132.8 1215.6L216.8 1183.6M132.8 1215.6L169.6 1297.6M96.6 1251.8L178.6 1288.6M96.6 1251.8L64.6 1335.8M45.4 1251.8L77.4 1335.8M45.4 1251.8L-36.6 1288.6M9.2 1215.6L-27.6 1297.6M9.2 1215.6L-74.8 1183.6M9.2 1164.4L-74.8 1196.4M9.2 1164.4L-27.6 1082.4M45.4 1128.2L-36.6 1091.4M45.4 1128.2L77.4 1044.2M96.6 1128.2L64.6 1044.2M96.6 1128.2L178.6 1091.4M132.8 1164.4L169.6 1082.4M132.8 1164.4L216.8 1196.4M95 1199.9L80.9 1214M80.9 1214L61.1 1214M61.1 1214L47 1199.9M47 1199.9L47 1180.1M47 1180.1L61.1 1166M61.1 1166L80.9 1166M80.9 1166L95 1180.1M95 1180.1L95 1199.9M9 1443L133 1443M9 1393L133 1393M9.5 1391.8L97.2 1479.5M44.8 1356.5L132.5 1444.2M46 1356L46 1480M96 1356L96 1480M97.2 1356.5L9.5 1444.2M132.5 1391.8L44.8 1479.5M132.8 1443.6L216.8 1411.6M132.8 1443.6L169.6 1525.6M96.6 1479.8L178.6 1516.6M96.6 1479.8L64.6 1563.8M45.4 1479.8L77.4 1563.8M45.4 1479.8L-36.6 1516.6M9.2 1443.6L-27.6 1525.6M9.2 1443.6L-74.8 1411.6M9.2 1392.4L-74.8 1424.4M9.2 1392.4L-27.6 1310.4M45.4 1356.2L-36.6 1319.4M45.4 1356.2L77.4 1272.2M96.6 1356.2L64.6 1272.2M96.6 1356.2L178.6 1319.4M132.8 1392.4L169.6 1310.4M132.8 1392.4L216.8 1424.4M95 1427.9L80.9 1442M80.9 1442L61.1 1442M61.1 1442L47 1427.9M47 1427.9L47 1408.1M47 1408.1L61.1 1394M61.1 1394L80.9 1394M80.9 1394L95 1408.1M95 1408.1L95 1427.9M9 1671L133 1671M9 1621L133 1621M9.5 1619.8L97.2 1707.5M44.8 1584.5L132.5 1672.2M46 1584L46 1708M96 1584L96 1708M97.2 1584.5L9.5 1672.2M132.5 1619.8L44.8 1707.5M132.8 1671.6L216.8 1639.6M132.8 1671.6L169.6 1753.6M96.6 1707.8L178.6 1744.6M96.6 1707.8L64.6 1791.8M45.4 1707.8L77.4 1791.8M45.4 1707.8L-36.6 1744.6M9.2 1671.6L-27.6 1753.6M9.2 1671.6L-74.8 1639.6M9.2 1620.4L-74.8 1652.4M9.2 1620.4L-27.6 1538.4M45.4 1584.2L-36.6 1547.4M45.4 1584.2L77.4 1500.2M96.6 1584.2L64.6 1500.2M96.6 1584.2L178.6 1547.4M132.8 1620.4L169.6 1538.4M132.8 1620.4L216.8 1652.4M95 1655.9L80.9 1670M80.9 1670L61.1 1670M61.1 1670L47 1655.9M47 1655.9L47 1636.1M47 1636.1L61.1 1622M61.1 1622L80.9 1622M80.9 1622L95 1636.1M95 1636.1L95 1655.9M9 1899L133 1899M9 1849L133 1849M9.5 1847.8L97.2 1935.5M44.8 1812.5L132.5 1900.2M46 1812L46 1936M96 1812L96 1936M97.2 1812.5L9.5 1900.2M132.5 1847.8L44.8 1935.5M132.8 1899.6L216.8 1867.6M132.8 1899.6L169.6 1981.6M96.6 1935.8L178.6 1972.6M96.6 1935.8L64.6 2019.8M45.4 1935.8L77.4 2019.8M45.4 1935.8L-36.6 1972.6M9.2 1899.6L-27.6 1981.6M9.2 1899.6L-74.8 1867.6M9.2 1848.4L-74.8 1880.4M9.2 1848.4L-27.6 1766.4M45.4 1812.2L-36.6 1775.4M45.4 1812.2L77.4 1728.2M96.6 1812.2L64.6 1728.2M96.6 1812.2L178.6 1775.4M132.8 1848.4L169.6 1766.4M132.8 1848.4L216.8 1880.4M95 1883.9L80.9 1898M80.9 1898L61.1 1898M61.1 1898L47 1883.9M47 1883.9L47 1864.1M47 1864.1L61.1 1850M61.1 1850L80.9 1850M80.9 1850L95 1864.1M95 1864.1L95 1883.9M9 2127L133 2127M9 2077L133 2077M9.5 2075.8L97.2 2163.5M44.8 2040.5L132.5 2128.2M46 2040L46 2164M96 2040L96 2164M97.2 2040.5L9.5 2128.2M132.5 2075.8L44.8 2163.5M132.8 2127.6L216.8 2095.6M132.8 2127.6L169.6 2209.6M96.6 2163.8L178.6 2200.6M96.6 2163.8L64.6 2247.8M45.4 2163.8L77.4 2247.8M45.4 2163.8L-36.6 2200.6M9.2 2127.6L-27.6 2209.6M9.2 2127.6L-74.8 2095.6M9.2 2076.4L-74.8 2108.4M9.2 2076.4L-27.6 1994.4M45.4 2040.2L-36.6 2003.4M45.4 2040.2L77.4 1956.2M96.6 2040.2L64.6 1956.2M96.6 2040.2L178.6 2003.4M132.8 2076.4L169.6 1994.4M132.8 2076.4L216.8 2108.4M95 2111.9L80.9 2126M80.9 2126L61.1 2126M61.1 2126L47 2111.9M47 2111.9L47 2092.1M47 2092.1L61.1 2078M61.1 2078L80.9 2078M80.9 2078L95 2092.1M95 2092.1L95 2111.9M9 2355L133 2355M9 2305L133 2305M9.5 2303.8L97.2 2391.5M44.8 2268.5L132.5 2356.2M46 2268L46 2392M96 2268L96 2392M97.2 2268.5L9.5 2356.2M132.5 2303.8L44.8 2391.5M132.8 2355.6L216.8 2323.6M132.8 2355.6L169.6 2437.6M96.6 2391.8L178.6 2428.6M96.6 2391.8L64.6 2475.8M45.4 2391.8L77.4 2475.8M45.4 2391.8L-36.6 2428.6M9.2 2355.6L-27.6 2437.6M9.2 2355.6L-74.8 2323.6M9.2 2304.4L-74.8 2336.4M9.2 2304.4L-27.6 2222.4M45.4 2268.2L-36.6 2231.4M45.4 2268.2L77.4 2184.2M96.6 2268.2L64.6 2184.2M96.6 2268.2L178.6 2231.4M132.8 2304.4L169.6 2222.4M132.8 2304.4L216.8 2336.4M95 2339.9L80.9 2354M80.9 2354L61.1 2354M61.1 2354L47 2339.9M47 2339.9L47 2320.1M47 2320.1L61.1 2306M61.1 2306L80.9 2306M80.9 2306L95 2320.1M95 2320.1L95 2339.9M9 2583L133 2583M9 2533L133 2533M9.5 2531.8L97.2 2619.5M44.8 2496.5L132.5 2584.2M46 2496L46 2620M96 2496L96 2620M97.2 2496.5L9.5 2584.2M132.5 2531.8L44.8 2619.5M132.8 2583.6L216.8 2551.6M132.8 2583.6L169.6 2665.6M96.6 2619.8L178.6 2656.6M96.6 2619.8L64.6 2703.8M45.4 2619.8L77.4 2703.8M45.4 2619.8L-36.6 2656.6M9.2 2583.6L-27.6 2665.6M9.2 2583.6L-74.8 2551.6M9.2 2532.4L-74.8 2564.4M9.2 2532.4L-27.6 2450.4M45.4 2496.2L-36.6 2459.4M45.4 2496.2L77.4 2412.2M96.6 2496.2L64.6 2412.2M96.6 2496.2L178.6 2459.4M132.8 2532.4L169.6 2450.4M132.8 2532.4L216.8 2564.4M95 2567.9L80.9 2582M80.9 2582L61.1 2582M61.1 2582L47 2567.9M47 2567.9L47 2548.1M47 2548.1L61.1 2534M61.1 2534L80.9 2534M80.9 2534L95 2548.1M95 2548.1L95 2567.9M9 2811L133 2811M9 2761L133 2761M9.5 2759.8L97.2 2847.5M44.8 2724.5L132.5 2812.2M46 2724L46 2848M96 2724L96 2848M97.2 2724.5L9.5 2812.2M132.5 2759.8L44.8 2847.5M132.8 2811.6L216.8 2779.6M132.8 2811.6L169.6 2893.6M96.6 2847.8L178.6 2884.6M96.6 2847.8L64.6 2931.8M45.4 2847.8L77.4 2931.8M45.4 2847.8L-36.6 2884.6M9.2 2811.6L-27.6 2893.6M9.2 2811.6L-74.8 2779.6M9.2 2760.4L-74.8 2792.4M9.2 2760.4L-27.6 2678.4M45.4 2724.2L-36.6 2687.4M45.4 2724.2L77.4 2640.2M96.6 2724.2L64.6 2640.2M96.6 2724.2L178.6 2687.4M132.8 2760.4L169.6 2678.4M132.8 2760.4L216.8 2792.4M95 2795.9L80.9 2810M80.9 2810L61.1 2810M61.1 2810L47 2795.9M47 2795.9L47 2776.1M47 2776.1L61.1 2762M61.1 2762L80.9 2762M80.9 2762L95 2776.1M95 2776.1L95 2795.9M9 3039L133 3039M9 2989L133 2989M9.5 2987.8L97.2 3075.5M44.8 2952.5L132.5 3040.2M46 2952L46 3076M96 2952L96 3076M97.2 2952.5L9.5 3040.2M132.5 2987.8L44.8 3075.5M132.8 3039.6L216.8 3007.6M132.8 3039.6L169.6 3121.6M96.6 3075.8L178.6 3112.6M96.6 3075.8L64.6 3159.8M45.4 3075.8L77.4 3159.8M45.4 3075.8L-36.6 3112.6M9.2 3039.6L-27.6 3121.6M9.2 3039.6L-74.8 3007.6M9.2 2988.4L-74.8 3020.4M9.2 2988.4L-27.6 2906.4M45.4 2952.2L-36.6 2915.4M45.4 2952.2L77.4 2868.2M96.6 2952.2L64.6 2868.2M96.6 2952.2L178.6 2915.4M132.8 2988.4L169.6 2906.4M132.8 2988.4L216.8 3020.4M95 3023.9L80.9 3038M80.9 3038L61.1 3038M61.1 3038L47 3023.9M47 3023.9L47 3004.1M47 3004.1L61.1 2990M61.1 2990L80.9 2990M80.9 2990L95 3004.1M95 3004.1L95 3023.9M9 3267L133 3267M9 3217L133 3217M9.5 3215.8L97.2 3303.5M44.8 3180.5L132.5 3268.2M46 3180L46 3304M96 3180L96 3304M97.2 3180.5L9.5 3268.2M132.5 3215.8L44.8 3303.5M132.8 3267.6L216.8 3235.6M132.8 3267.6L169.6 3349.6M96.6 3303.8L178.6 3340.6M96.6 3303.8L64.6 3387.8M45.4 3303.8L77.4 3387.8M45.4 3303.8L-36.6 3340.6M9.2 3267.6L-27.6 3349.6M9.2 3267.6L-74.8 3235.6M9.2 3216.4L-74.8 3248.4M9.2 3216.4L-27.6 3134.4M45.4 3180.2L-36.6 3143.4M45.4 3180.2L77.4 3096.2M96.6 3180.2L64.6 3096.2M96.6 3180.2L178.6 3143.4M132.8 3216.4L169.6 3134.4M132.8 3216.4L216.8 3248.4M95 3251.9L80.9 3266M80.9 3266L61.1 3266M61.1 3266L47 3251.9M47 3251.9L47 3232.1M47 3232.1L61.1 3218M61.1 3218L80.9 3218M80.9 3218L95 3232.1M95 3232.1L95 3251.9M9 3495L133 3495M9 3445L133 3445M9.5 3443.8L97.2 3531.5M44.8 3408.5L132.5 3496.2M46 3408L46 3532M96 3408L96 3532M97.2 3408.5L9.5 3496.2M132.5 3443.8L44.8 3531.5M132.8 3495.6L216.8 3463.6M132.8 3495.6L169.6 3577.6M96.6 3531.8L178.6 3568.6M96.6 3531.8L64.6 3615.8M45.4 3531.8L77.4 3615.8M45.4 3531.8L-36.6 3568.6M9.2 3495.6L-27.6 3577.6M9.2 3495.6L-74.8 3463.6M9.2 3444.4L-74.8 3476.4M9.2 3444.4L-27.6 3362.4M45.4 3408.2L-36.6 3371.4M45.4 3408.2L77.4 3324.2M96.6 3408.2L64.6 3324.2M96.6 3408.2L178.6 3371.4M132.8 3444.4L169.6 3362.4M132.8 3444.4L216.8 3476.4M95 3479.9L80.9 3494M80.9 3494L61.1 3494M61.1 3494L47 3479.9M47 3479.9L47 3460.1M47 3460.1L61.1 3446M61.1 3446L80.9 3446M80.9 3446L95 3460.1M95 3460.1L95 3479.9M9 3723L133 3723M9 3673L133 3673M9.5 3671.8L97.2 3759.5M44.8 3636.5L132.5 3724.2M46 3636L46 3760M96 3636L96 3760M97.2 3636.5L9.5 3724.2M132.5 3671.8L44.8 3759.5M132.8 3723.6L216.8 3691.6M132.8 3723.6L169.6 3805.6M96.6 3759.8L178.6 3796.6M96.6 3759.8L64.6 3843.8M45.4 3759.8L77.4 3843.8M45.4 3759.8L-36.6 3796.6M9.2 3723.6L-27.6 3805.6M9.2 3723.6L-74.8 3691.6M9.2 3672.4L-74.8 3704.4M9.2 3672.4L-27.6 3590.4M45.4 3636.2L-36.6 3599.4M45.4 3636.2L77.4 3552.2M96.6 3636.2L64.6 3552.2M96.6 3636.2L178.6 3599.4M132.8 3672.4L169.6 3590.4M132.8 3672.4L216.8 3704.4M95 3707.9L80.9 3722M80.9 3722L61.1 3722M61.1 3722L47 3707.9M47 3707.9L47 3688.1M47 3688.1L61.1 3674M61.1 3674L80.9 3674M80.9 3674L95 3688.1M95 3688.1L95 3707.9M243 -153L367 -153M243 -203L367 -203M243.5 -204.2L331.2 -116.5M278.8 -239.5L366.5 -151.8M280 -240L280 -116M330 -240L330 -116M331.2 -239.5L243.5 -151.8M366.5 -204.2L278.8 -116.5M366.8 -152.4L450.8 -184.4M366.8 -152.4L403.6 -70.4M330.6 -116.2L412.6 -79.4M330.6 -116.2L298.6 -32.2M279.4 -116.2L311.4 -32.2M279.4 -116.2L197.4 -79.4M243.2 -152.4L206.4 -70.4M243.2 -152.4L159.2 -184.4M243.2 -203.6L159.2 -171.6M243.2 -203.6L206.4 -285.6M279.4 -239.8L197.4 -276.6M279.4 -239.8L311.4 -323.8M330.6 -239.8L298.6 -323.8M330.6 -239.8L412.6 -276.6M366.8 -203.6L403.6 -285.6M366.8 -203.6L450.8 -171.6M305 -211L312.6 -196.3M312.6 -196.3L328.3 -201.3M328.3 -201.3L323.3 -185.6M323.3 -185.6L338 -178M338 -178L323.3 -170.4M323.3 -170.4L328.3 -154.7M328.3 -154.7L312.6 -159.7M312.6 -159.7L305 -145M305 -145L297.4 -159.7M297.4 -159.7L281.7 -154.7M281.7 -154.7L286.7 -170.4M286.7 -170.4L272 -178M272 -178L286.7 -185.6M286.7 -185.6L281.7 -201.3M281.7 -201.3L297.4 -196.3M297.4 -196.3L305 -211M243 75L367 75M243 25L367 25M243.5 23.8L331.2 111.5M278.8 -11.5L366.5 76.2M280 -12L280 112M330 -12L330 112M331.2 -11.5L243.5 76.2M366.5 23.8L278.8 111.5M366.8 75.6L450.8 43.6M366.8 75.6L403.6 157.6M330.6 111.8L412.6 148.6M330.6 111.8L298.6 195.8M279.4 111.8L311.4 195.8M279.4 111.8L197.4 148.6M243.2 75.6L206.4 157.6M243.2 75.6L159.2 43.6M243.2 24.4L159.2 56.4M243.2 24.4L206.4 -57.6M279.4 -11.8L197.4 -48.6M279.4 -11.8L311.4 -95.8M330.6 -11.8L298.6 -95.8M330.6 -11.8L412.6 -48.6M366.8 24.4L403.6 -57.6M366.8 24.4L450.8 56.4M305 17L312.6 31.7M312.6 31.7L328.3 26.7M328.3 26.7L323.3 42.4M323.3 42.4L338 50M338 50L323.3 57.6M323.3 57.6L328.3 73.3M328.3 73.3L312.6 68.3M312.6 68.3L305 83M305 83L297.4 68.3M297.4 68.3L281.7 73.3M281.7 73.3L286.7 57.6M286.7 57.6L272 50M272 50L286.7 42.4M286.7 42.4L281.7 26.7M281.7 26.7L297.4 31.7M297.4 31.7L305 17M243 303L367 303M243 253L367 253M243.5 251.8L331.2 339.5M278.8 216.5L366.5 304.2M280 216L280 340M330 216L330 340M331.2 216.5L243.5 304.2M366.5 251.8L278.8 339.5M366.8 303.6L450.8 271.6M366.8 303.6L403.6 385.6M330.6 339.8L412.6 376.6M330.6 339.8L298.6 423.8M279.4 339.8L311.4 423.8M279.4 339.8L197.4 376.6M243.2 303.6L206.4 385.6M243.2 303.6L159.2 271.6M243.2 252.4L159.2 284.4M243.2 252.4L206.4 170.4M279.4 216.2L197.4 179.4M279.4 216.2L311.4 132.2M330.6 216.2L298.6 132.2M330.6 216.2L412.6 179.4M366.8 252.4L403.6 170.4M366.8 252.4L450.8 284.4M305 245L312.6 259.7M312.6 259.7L328.3 254.7M328.3 254.7L323.3 270.4M323.3 270.4L338 278M338 278L323.3 285.6M323.3 285.6L328.3 301.3M328.3 301.3L312.6 296.3M312.6 296.3L305 311M305 311L297.4 296.3M297.4 296.3L281.7 301.3M281.7 301.3L286.7 285.6M286.7 285.6L272 278M272 278L286.7 270.4M286.7 270.4L281.7 254.7M281.7 254.7L297.4 259.7M297.4 259.7L305 245M243 531L367 531M243 481L367 481M243.5 479.8L331.2 567.5M278.8 444.5L366.5 532.2M280 444L280 568M330 444L330 568M331.2 444.5L243.5 532.2M366.5 479.8L278.8 567.5M366.8 531.6L450.8 499.6M366.8 531.6L403.6 613.6M330.6 567.8L412.6 604.6M330.6 567.8L298.6 651.8M279.4 567.8L311.4 651.8M279.4 567.8L197.4 604.6M243.2 531.6L206.4 613.6M243.2 531.6L159.2 499.6M243.2 480.4L159.2 512.4M243.2 480.4L206.4 398.4M279.4 444.2L197.4 407.4M279.4 444.2L311.4 360.2M330.6 444.2L298.6 360.2M330.6 444.2L412.6 407.4M366.8 480.4L403.6 398.4M366.8 480.4L450.8 512.4M305 473L312.6 487.7M312.6 487.7L328.3 482.7M328.3 482.7L323.3 498.4M323.3 498.4L338 506M338 506L323.3 513.6M323.3 513.6L328.3 529.3M328.3 529.3L312.6 524.3M312.6 524.3L305 539M305 539L297.4 524.3M297.4 524.3L281.7 529.3M281.7 529.3L286.7 513.6M286.7 513.6L272 506M272 506L286.7 498.4M286.7 498.4L281.7 482.7M281.7 482.7L297.4 487.7M297.4 487.7L305 473M243 759L367 759M243 709L367 709M243.5 707.8L331.2 795.5M278.8 672.5L366.5 760.2M280 672L280 796M330 672L330 796M331.2 672.5L243.5 760.2M366.5 707.8L278.8 795.5M366.8 759.6L450.8 727.6M366.8 759.6L403.6 841.6M330.6 795.8L412.6 832.6M330.6 795.8L298.6 879.8M279.4 795.8L311.4 879.8M279.4 795.8L197.4 832.6M243.2 759.6L206.4 841.6M243.2 759.6L159.2 727.6M243.2 708.4L159.2 740.4M243.2 708.4L206.4 626.4M279.4 672.2L197.4 635.4M279.4 672.2L311.4 588.2M330.6 672.2L298.6 588.2M330.6 672.2L412.6 635.4M366.8 708.4L403.6 626.4M366.8 708.4L450.8 740.4M305 701L312.6 715.7M312.6 715.7L328.3 710.7M328.3 710.7L323.3 726.4M323.3 726.4L338 734M338 734L323.3 741.6M323.3 741.6L328.3 757.3M328.3 757.3L312.6 752.3M312.6 752.3L305 767M305 767L297.4 752.3M297.4 752.3L281.7 757.3M281.7 757.3L286.7 741.6M286.7 741.6L272 734M272 734L286.7 726.4M286.7 726.4L281.7 710.7M281.7 710.7L297.4 715.7M297.4 715.7L305 701M243 987L367 987M243 937L367 937M243.5 935.8L331.2 1023.5M278.8 900.5L366.5 988.2M280 900L280 1024M330 900L330 1024M331.2 900.5L243.5 988.2M366.5 935.8L278.8 1023.5M366.8 987.6L450.8 955.6M366.8 987.6L403.6 1069.6M330.6 1023.8L412.6 1060.6M330.6 1023.8L298.6 1107.8M279.4 1023.8L311.4 1107.8M279.4 1023.8L197.4 1060.6M243.2 987.6L206.4 1069.6M243.2 987.6L159.2 955.6M243.2 936.4L159.2 968.4M243.2 936.4L206.4 854.4M279.4 900.2L197.4 863.4M279.4 900.2L311.4 816.2M330.6 900.2L298.6 816.2M330.6 900.2L412.6 863.4M366.8 936.4L403.6 854.4M366.8 936.4L450.8 968.4M305 929L312.6 943.7M312.6 943.7L328.3 938.7M328.3 938.7L323.3 954.4M323.3 954.4L338 962M338 962L323.3 969.6M323.3 969.6L328.3 985.3M328.3 985.3L312.6 980.3M312.6 980.3L305 995M305 995L297.4 980.3M297.4 980.3L281.7 985.3M281.7 985.3L286.7 969.6M286.7 969.6L272 962M272 962L286.7 954.4M286.7 954.4L281.7 938.7M281.7 938.7L297.4 943.7M297.4 943.7L305 929M243 1215L367 1215M243 1165L367 1165M243.5 1163.8L331.2 1251.5M278.8 1128.5L366.5 1216.2M280 1128L280 1252M330 1128L330 1252M331.2 1128.5L243.5 1216.2M366.5 1163.8L278.8 1251.5M366.8 1215.6L450.8 1183.6M366.8 1215.6L403.6 1297.6M330.6 1251.8L412.6 1288.6M330.6 1251.8L298.6 1335.8M279.4 1251.8L311.4 1335.8M279.4 1251.8L197.4 1288.6M243.2 1215.6L206.4 1297.6M243.2 1215.6L159.2 1183.6M243.2 1164.4L159.2 1196.4M243.2 1164.4L206.4 1082.4M279.4 1128.2L197.4 1091.4M279.4 1128.2L311.4 1044.2M330.6 1128.2L298.6 1044.2M330.6 1128.2L412.6 1091.4M366.8 1164.4L403.6 1082.4M366.8 1164.4L450.8 1196.4M305 1157L312.6 1171.7M312.6 1171.7L328.3 1166.7M328.3 1166.7L323.3 1182.4M323.3 1182.4L338 1190M338 1190L323.3 1197.6M323.3 1197.6L328.3 1213.3M328.3 1213.3L312.6 1208.3M312.6 1208.3L305 1223M305 1223L297.4 1208.3M297.4 1208.3L281.7 1213.3M281.7 1213.3L286.7 1197.6M286.7 1197.6L272 1190M272 1190L286.7 1182.4M286.7 1182.4L281.7 1166.7M281.7 1166.7L297.4 1171.7M297.4 1171.7L305 1157M243 1443L367 1443M243 1393L367 1393M243.5 1391.8L331.2 1479.5M278.8 1356.5L366.5 1444.2M280 1356L280 1480M330 1356L330 1480M331.2 1356.5L243.5 1444.2M366.5 1391.8L278.8 1479.5M366.8 1443.6L450.8 1411.6M366.8 1443.6L403.6 1525.6M330.6 1479.8L412.6 1516.6M330.6 1479.8L298.6 1563.8M279.4 1479.8L311.4 1563.8M279.4 1479.8L197.4 1516.6M243.2 1443.6L206.4 1525.6M243.2 1443.6L159.2 1411.6M243.2 1392.4L159.2 1424.4M243.2 1392.4L206.4 1310.4M279.4 1356.2L197.4 1319.4M279.4 1356.2L311.4 1272.2M330.6 1356.2L298.6 1272.2M330.6 1356.2L412.6 1319.4M366.8 1392.4L403.6 1310.4M366.8 1392.4L450.8 1424.4M305 1385L312.6 1399.7M312.6 1399.7L328.3 1394.7M328.3 1394.7L323.3 1410.4M323.3 1410.4L338 1418M338 1418L323.3 1425.6M323.3 1425.6L328.3 1441.3M328.3 1441.3L312.6 1436.3M312.6 1436.3L305 1451M305 1451L297.4 1436.3M297.4 1436.3L281.7 1441.3M281.7 1441.3L286.7 1425.6M286.7 1425.6L272 1418M272 1418L286.7 1410.4M286.7 1410.4L281.7 1394.7M281.7 1394.7L297.4 1399.7M297.4 1399.7L305 1385M243 1671L367 1671M243 1621L367 1621M243.5 1619.8L331.2 1707.5M278.8 1584.5L366.5 1672.2M280 1584L280 1708M330 1584L330 1708M331.2 1584.5L243.5 1672.2M366.5 1619.8L278.8 1707.5M366.8 1671.6L450.8 1639.6M366.8 1671.6L403.6 1753.6M330.6 1707.8L412.6 1744.6M330.6 1707.8L298.6 1791.8M279.4 1707.8L311.4 1791.8M279.4 1707.8L197.4 1744.6M243.2 1671.6L206.4 1753.6M243.2 1671.6L159.2 1639.6M243.2 1620.4L159.2 1652.4M243.2 1620.4L206.4 1538.4M279.4 1584.2L197.4 1547.4M279.4 1584.2L311.4 1500.2M330.6 1584.2L298.6 1500.2M330.6 1584.2L412.6 1547.4M366.8 1620.4L403.6 1538.4M366.8 1620.4L450.8 1652.4M305 1613L312.6 1627.7M312.6 1627.7L328.3 1622.7M328.3 1622.7L323.3 1638.4M323.3 1638.4L338 1646M338 1646L323.3 1653.6M323.3 1653.6L328.3 1669.3M328.3 1669.3L312.6 1664.3M312.6 1664.3L305 1679M305 1679L297.4 1664.3M297.4 1664.3L281.7 1669.3M281.7 1669.3L286.7 1653.6M286.7 1653.6L272 1646M272 1646L286.7 1638.4M286.7 1638.4L281.7 1622.7M281.7 1622.7L297.4 1627.7M297.4 1627.7L305 1613M243 1899L367 1899M243 1849L367 1849M243.5 1847.8L331.2 1935.5M278.8 1812.5L366.5 1900.2M280 1812L280 1936M330 1812L330 1936M331.2 1812.5L243.5 1900.2M366.5 1847.8L278.8 1935.5M366.8 1899.6L450.8 1867.6M366.8 1899.6L403.6 1981.6M330.6 1935.8L412.6 1972.6M330.6 1935.8L298.6 2019.8M279.4 1935.8L311.4 2019.8M279.4 1935.8L197.4 1972.6M243.2 1899.6L206.4 1981.6M243.2 1899.6L159.2 1867.6M243.2 1848.4L159.2 1880.4M243.2 1848.4L206.4 1766.4M279.4 1812.2L197.4 1775.4M279.4 1812.2L311.4 1728.2M330.6 1812.2L298.6 1728.2M330.6 1812.2L412.6 1775.4M366.8 1848.4L403.6 1766.4M366.8 1848.4L450.8 1880.4M305 1841L312.6 1855.7M312.6 1855.7L328.3 1850.7M328.3 1850.7L323.3 1866.4M323.3 1866.4L338 1874M338 1874L323.3 1881.6M323.3 1881.6L328.3 1897.3M328.3 1897.3L312.6 1892.3M312.6 1892.3L305 1907M305 1907L297.4 1892.3M297.4 1892.3L281.7 1897.3M281.7 1897.3L286.7 1881.6M286.7 1881.6L272 1874M272 1874L286.7 1866.4M286.7 1866.4L281.7 1850.7M281.7 1850.7L297.4 1855.7M297.4 1855.7L305 1841M243 2127L367 2127M243 2077L367 2077M243.5 2075.8L331.2 2163.5M278.8 2040.5L366.5 2128.2M280 2040L280 2164M330 2040L330 2164M331.2 2040.5L243.5 2128.2M366.5 2075.8L278.8 2163.5M366.8 2127.6L450.8 2095.6M366.8 2127.6L403.6 2209.6M330.6 2163.8L412.6 2200.6M330.6 2163.8L298.6 2247.8M279.4 2163.8L311.4 2247.8M279.4 2163.8L197.4 2200.6M243.2 2127.6L206.4 2209.6M243.2 2127.6L159.2 2095.6M243.2 2076.4L159.2 2108.4M243.2 2076.4L206.4 1994.4M279.4 2040.2L197.4 2003.4M279.4 2040.2L311.4 1956.2M330.6 2040.2L298.6 1956.2M330.6 2040.2L412.6 2003.4M366.8 2076.4L403.6 1994.4M366.8 2076.4L450.8 2108.4M305 2069L312.6 2083.7M312.6 2083.7L328.3 2078.7M328.3 2078.7L323.3 2094.4M323.3 2094.4L338 2102M338 2102L323.3 2109.6M323.3 2109.6L328.3 2125.3M328.3 2125.3L312.6 2120.3M312.6 2120.3L305 2135M305 2135L297.4 2120.3M297.4 2120.3L281.7 2125.3M281.7 2125.3L286.7 2109.6M286.7 2109.6L272 2102M272 2102L286.7 2094.4M286.7 2094.4L281.7 2078.7M281.7 2078.7L297.4 2083.7M297.4 2083.7L305 2069M243 2355L367 2355M243 2305L367 2305M243.5 2303.8L331.2 2391.5M278.8 2268.5L366.5 2356.2M280 2268L280 2392M330 2268L330 2392M331.2 2268.5L243.5 2356.2M366.5 2303.8L278.8 2391.5M366.8 2355.6L450.8 2323.6M366.8 2355.6L403.6 2437.6M330.6 2391.8L412.6 2428.6M330.6 2391.8L298.6 2475.8M279.4 2391.8L311.4 2475.8M279.4 2391.8L197.4 2428.6M243.2 2355.6L206.4 2437.6M243.2 2355.6L159.2 2323.6M243.2 2304.4L159.2 2336.4M243.2 2304.4L206.4 2222.4M279.4 2268.2L197.4 2231.4M279.4 2268.2L311.4 2184.2M330.6 2268.2L298.6 2184.2M330.6 2268.2L412.6 2231.4M366.8 2304.4L403.6 2222.4M366.8 2304.4L450.8 2336.4M305 2297L312.6 2311.7M312.6 2311.7L328.3 2306.7M328.3 2306.7L323.3 2322.4M323.3 2322.4L338 2330M338 2330L323.3 2337.6M323.3 2337.6L328.3 2353.3M328.3 2353.3L312.6 2348.3M312.6 2348.3L305 2363M305 2363L297.4 2348.3M297.4 2348.3L281.7 2353.3M281.7 2353.3L286.7 2337.6M286.7 2337.6L272 2330M272 2330L286.7 2322.4M286.7 2322.4L281.7 2306.7M281.7 2306.7L297.4 2311.7M297.4 2311.7L305 2297M243 2583L367 2583M243 2533L367 2533M243.5 2531.8L331.2 2619.5M278.8 2496.5L366.5 2584.2M280 2496L280 2620M330 2496L330 2620M331.2 2496.5L243.5 2584.2M366.5 2531.8L278.8 2619.5M366.8 2583.6L450.8 2551.6M366.8 2583.6L403.6 2665.6M330.6 2619.8L412.6 2656.6M330.6 2619.8L298.6 2703.8M279.4 2619.8L311.4 2703.8M279.4 2619.8L197.4 2656.6M243.2 2583.6L206.4 2665.6M243.2 2583.6L159.2 2551.6M243.2 2532.4L159.2 2564.4M243.2 2532.4L206.4 2450.4M279.4 2496.2L197.4 2459.4M279.4 2496.2L311.4 2412.2M330.6 2496.2L298.6 2412.2M330.6 2496.2L412.6 2459.4M366.8 2532.4L403.6 2450.4M366.8 2532.4L450.8 2564.4M305 2525L312.6 2539.7M312.6 2539.7L328.3 2534.7M328.3 2534.7L323.3 2550.4M323.3 2550.4L338 2558M338 2558L323.3 2565.6M323.3 2565.6L328.3 2581.3M328.3 2581.3L312.6 2576.3M312.6 2576.3L305 2591M305 2591L297.4 2576.3M297.4 2576.3L281.7 2581.3M281.7 2581.3L286.7 2565.6M286.7 2565.6L272 2558M272 2558L286.7 2550.4M286.7 2550.4L281.7 2534.7M281.7 2534.7L297.4 2539.7M297.4 2539.7L305 2525M243 2811L367 2811M243 2761L367 2761M243.5 2759.8L331.2 2847.5M278.8 2724.5L366.5 2812.2M280 2724L280 2848M330 2724L330 2848M331.2 2724.5L243.5 2812.2M366.5 2759.8L278.8 2847.5M366.8 2811.6L450.8 2779.6M366.8 2811.6L403.6 2893.6M330.6 2847.8L412.6 2884.6M330.6 2847.8L298.6 2931.8M279.4 2847.8L311.4 2931.8M279.4 2847.8L197.4 2884.6M243.2 2811.6L206.4 2893.6M243.2 2811.6L159.2 2779.6M243.2 2760.4L159.2 2792.4M243.2 2760.4L206.4 2678.4M279.4 2724.2L197.4 2687.4M279.4 2724.2L311.4 2640.2M330.6 2724.2L298.6 2640.2M330.6 2724.2L412.6 2687.4M366.8 2760.4L403.6 2678.4M366.8 2760.4L450.8 2792.4M305 2753L312.6 2767.7M312.6 2767.7L328.3 2762.7M328.3 2762.7L323.3 2778.4M323.3 2778.4L338 2786M338 2786L323.3 2793.6M323.3 2793.6L328.3 2809.3M328.3 2809.3L312.6 2804.3M312.6 2804.3L305 2819M305 2819L297.4 2804.3M297.4 2804.3L281.7 2809.3M281.7 2809.3L286.7 2793.6M286.7 2793.6L272 2786M272 2786L286.7 2778.4M286.7 2778.4L281.7 2762.7M281.7 2762.7L297.4 2767.7M297.4 2767.7L305 2753M243 3039L367 3039M243 2989L367 2989M243.5 2987.8L331.2 3075.5M278.8 2952.5L366.5 3040.2M280 2952L280 3076M330 2952L330 3076M331.2 2952.5L243.5 3040.2M366.5 2987.8L278.8 3075.5M366.8 3039.6L450.8 3007.6M366.8 3039.6L403.6 3121.6M330.6 3075.8L412.6 3112.6M330.6 3075.8L298.6 3159.8M279.4 3075.8L311.4 3159.8M279.4 3075.8L197.4 3112.6M243.2 3039.6L206.4 3121.6M243.2 3039.6L159.2 3007.6M243.2 2988.4L159.2 3020.4M243.2 2988.4L206.4 2906.4M279.4 2952.2L197.4 2915.4M279.4 2952.2L311.4 2868.2M330.6 2952.2L298.6 2868.2M330.6 2952.2L412.6 2915.4M366.8 2988.4L403.6 2906.4M366.8 2988.4L450.8 3020.4M305 2981L312.6 2995.7M312.6 2995.7L328.3 2990.7M328.3 2990.7L323.3 3006.4M323.3 3006.4L338 3014M338 3014L323.3 3021.6M323.3 3021.6L328.3 3037.3M328.3 3037.3L312.6 3032.3M312.6 3032.3L305 3047M305 3047L297.4 3032.3M297.4 3032.3L281.7 3037.3M281.7 3037.3L286.7 3021.6M286.7 3021.6L272 3014M272 3014L286.7 3006.4M286.7 3006.4L281.7 2990.7M281.7 2990.7L297.4 2995.7M297.4 2995.7L305 2981M243 3267L367 3267M243 3217L367 3217M243.5 3215.8L331.2 3303.5M278.8 3180.5L366.5 3268.2M280 3180L280 3304M330 3180L330 3304M331.2 3180.5L243.5 3268.2M366.5 3215.8L278.8 3303.5M366.8 3267.6L450.8 3235.6M366.8 3267.6L403.6 3349.6M330.6 3303.8L412.6 3340.6M330.6 3303.8L298.6 3387.8M279.4 3303.8L311.4 3387.8M279.4 3303.8L197.4 3340.6M243.2 3267.6L206.4 3349.6M243.2 3267.6L159.2 3235.6M243.2 3216.4L159.2 3248.4M243.2 3216.4L206.4 3134.4M279.4 3180.2L197.4 3143.4M279.4 3180.2L311.4 3096.2M330.6 3180.2L298.6 3096.2M330.6 3180.2L412.6 3143.4M366.8 3216.4L403.6 3134.4M366.8 3216.4L450.8 3248.4M305 3209L312.6 3223.7M312.6 3223.7L328.3 3218.7M328.3 3218.7L323.3 3234.4M323.3 3234.4L338 3242M338 3242L323.3 3249.6M323.3 3249.6L328.3 3265.3M328.3 3265.3L312.6 3260.3M312.6 3260.3L305 3275M305 3275L297.4 3260.3M297.4 3260.3L281.7 3265.3M281.7 3265.3L286.7 3249.6M286.7 3249.6L272 3242M272 3242L286.7 3234.4M286.7 3234.4L281.7 3218.7M281.7 3218.7L297.4 3223.7M297.4 3223.7L305 3209M243 3495L367 3495M243 3445L367 3445M243.5 3443.8L331.2 3531.5M278.8 3408.5L366.5 3496.2M280 3408L280 3532M330 3408L330 3532M331.2 3408.5L243.5 3496.2M366.5 3443.8L278.8 3531.5M366.8 3495.6L450.8 3463.6M366.8 3495.6L403.6 3577.6M330.6 3531.8L412.6 3568.6M330.6 3531.8L298.6 3615.8M279.4 3531.8L311.4 3615.8M279.4 3531.8L197.4 3568.6M243.2 3495.6L206.4 3577.6M243.2 3495.6L159.2 3463.6M243.2 3444.4L159.2 3476.4M243.2 3444.4L206.4 3362.4M279.4 3408.2L197.4 3371.4M279.4 3408.2L311.4 3324.2M330.6 3408.2L298.6 3324.2M330.6 3408.2L412.6 3371.4M366.8 3444.4L403.6 3362.4M366.8 3444.4L450.8 3476.4M305 3437L312.6 3451.7M312.6 3451.7L328.3 3446.7M328.3 3446.7L323.3 3462.4M323.3 3462.4L338 3470M338 3470L323.3 3477.6M323.3 3477.6L328.3 3493.3M328.3 3493.3L312.6 3488.3M312.6 3488.3L305 3503M305 3503L297.4 3488.3M297.4 3488.3L281.7 3493.3M281.7 3493.3L286.7 3477.6M286.7 3477.6L272 3470M272 3470L286.7 3462.4M286.7 3462.4L281.7 3446.7M281.7 3446.7L297.4 3451.7M297.4 3451.7L305 3437M243 3723L367 3723M243 3673L367 3673M243.5 3671.8L331.2 3759.5M278.8 3636.5L366.5 3724.2M280 3636L280 3760M330 3636L330 3760M331.2 3636.5L243.5 3724.2M366.5 3671.8L278.8 3759.5M366.8 3723.6L450.8 3691.6M366.8 3723.6L403.6 3805.6M330.6 3759.8L412.6 3796.6M330.6 3759.8L298.6 3843.8M279.4 3759.8L311.4 3843.8M279.4 3759.8L197.4 3796.6M243.2 3723.6L206.4 3805.6M243.2 3723.6L159.2 3691.6M243.2 3672.4L159.2 3704.4M243.2 3672.4L206.4 3590.4M279.4 3636.2L197.4 3599.4M279.4 3636.2L311.4 3552.2M330.6 3636.2L298.6 3552.2M330.6 3636.2L412.6 3599.4M366.8 3672.4L403.6 3590.4M366.8 3672.4L450.8 3704.4M305 3665L312.6 3679.7M312.6 3679.7L328.3 3674.7M328.3 3674.7L323.3 3690.4M323.3 3690.4L338 3698M338 3698L323.3 3705.6M323.3 3705.6L328.3 3721.3M328.3 3721.3L312.6 3716.3M312.6 3716.3L305 3731M305 3731L297.4 3716.3M297.4 3716.3L281.7 3721.3M281.7 3721.3L286.7 3705.6M286.7 3705.6L272 3698M272 3698L286.7 3690.4M286.7 3690.4L281.7 3674.7M281.7 3674.7L297.4 3679.7M297.4 3679.7L305 3665M477 -153L601 -153M477 -203L601 -203M477.5 -204.2L565.2 -116.5M512.8 -239.5L600.5 -151.8M514 -240L514 -116M564 -240L564 -116M565.2 -239.5L477.5 -151.8M600.5 -204.2L512.8 -116.5M600.8 -152.4L684.8 -184.4M600.8 -152.4L637.6 -70.4M564.6 -116.2L646.6 -79.4M564.6 -116.2L532.6 -32.2M513.4 -116.2L545.4 -32.2M513.4 -116.2L431.4 -79.4M477.2 -152.4L440.4 -70.4M477.2 -152.4L393.2 -184.4M477.2 -203.6L393.2 -171.6M477.2 -203.6L440.4 -285.6M513.4 -239.8L431.4 -276.6M513.4 -239.8L545.4 -323.8M564.6 -239.8L532.6 -323.8M564.6 -239.8L646.6 -276.6M600.8 -203.6L637.6 -285.6M600.8 -203.6L684.8 -171.6M563 -168.1L548.9 -154M548.9 -154L529.1 -154M529.1 -154L515 -168.1M515 -168.1L515 -187.9M515 -187.9L529.1 -202M529.1 -202L548.9 -202M548.9 -202L563 -187.9M563 -187.9L563 -168.1M477 75L601 75M477 25L601 25M477.5 23.8L565.2 111.5M512.8 -11.5L600.5 76.2M514 -12L514 112M564 -12L564 112M565.2 -11.5L477.5 76.2M600.5 23.8L512.8 111.5M600.8 75.6L684.8 43.6M600.8 75.6L637.6 157.6M564.6 111.8L646.6 148.6M564.6 111.8L532.6 195.8M513.4 111.8L545.4 195.8M513.4 111.8L431.4 148.6M477.2 75.6L440.4 157.6M477.2 75.6L393.2 43.6M477.2 24.4L393.2 56.4M477.2 24.4L440.4 -57.6M513.4 -11.8L431.4 -48.6M513.4 -11.8L545.4 -95.8M564.6 -11.8L532.6 -95.8M564.6 -11.8L646.6 -48.6M600.8 24.4L637.6 -57.6M600.8 24.4L684.8 56.4M563 59.9L548.9 74M548.9 74L529.1 74M529.1 74L515 59.9M515 59.9L515 40.1M515 40.1L529.1 26M529.1 26L548.9 26M548.9 26L563 40.1M563 40.1L563 59.9M477 303L601 303M477 253L601 253M477.5 251.8L565.2 339.5M512.8 216.5L600.5 304.2M514 216L514 340M564 216L564 340M565.2 216.5L477.5 304.2M600.5 251.8L512.8 339.5M600.8 303.6L684.8 271.6M600.8 303.6L637.6 385.6M564.6 339.8L646.6 376.6M564.6 339.8L532.6 423.8M513.4 339.8L545.4 423.8M513.4 339.8L431.4 376.6M477.2 303.6L440.4 385.6M477.2 303.6L393.2 271.6M477.2 252.4L393.2 284.4M477.2 252.4L440.4 170.4M513.4 216.2L431.4 179.4M513.4 216.2L545.4 132.2M564.6 216.2L532.6 132.2M564.6 216.2L646.6 179.4M600.8 252.4L637.6 170.4M600.8 252.4L684.8 284.4M563 287.9L548.9 302M548.9 302L529.1 302M529.1 302L515 287.9M515 287.9L515 268.1M515 268.1L529.1 254M529.1 254L548.9 254M548.9 254L563 268.1M563 268.1L563 287.9M477 531L601 531M477 481L601 481M477.5 479.8L565.2 567.5M512.8 444.5L600.5 532.2M514 444L514 568M564 444L564 568M565.2 444.5L477.5 532.2M600.5 479.8L512.8 567.5M600.8 531.6L684.8 499.6M600.8 531.6L637.6 613.6M564.6 567.8L646.6 604.6M564.6 567.8L532.6 651.8M513.4 567.8L545.4 651.8M513.4 567.8L431.4 604.6M477.2 531.6L440.4 613.6M477.2 531.6L393.2 499.6M477.2 480.4L393.2 512.4M477.2 480.4L440.4 398.4M513.4 444.2L431.4 407.4M513.4 444.2L545.4 360.2M564.6 444.2L532.6 360.2M564.6 444.2L646.6 407.4M600.8 480.4L637.6 398.4M600.8 480.4L684.8 512.4M563 515.9L548.9 530M548.9 530L529.1 530M529.1 530L515 515.9M515 515.9L515 496.1M515 496.1L529.1 482M529.1 482L548.9 482M548.9 482L563 496.1M563 496.1L563 515.9M477 759L601 759M477 709L601 709M477.5 707.8L565.2 795.5M512.8 672.5L600.5 760.2M514 672L514 796M564 672L564 796M565.2 672.5L477.5 760.2M600.5 707.8L512.8 795.5M600.8 759.6L684.8 727.6M600.8 759.6L637.6 841.6M564.6 795.8L646.6 832.6M564.6 795.8L532.6 879.8M513.4 795.8L545.4 879.8M513.4 795.8L431.4 832.6M477.2 759.6L440.4 841.6M477.2 759.6L393.2 727.6M477.2 708.4L393.2 740.4M477.2 708.4L440.4 626.4M513.4 672.2L431.4 635.4M513.4 672.2L545.4 588.2M564.6 672.2L532.6 588.2M564.6 672.2L646.6 635.4M600.8 708.4L637.6 626.4M600.8 708.4L684.8 740.4M563 743.9L548.9 758M548.9 758L529.1 758M529.1 758L515 743.9M515 743.9L515 724.1M515 724.1L529.1 710M529.1 710L548.9 710M548.9 710L563 724.1M563 724.1L563 743.9M477 987L601 987M477 937L601 937M477.5 935.8L565.2 1023.5M512.8 900.5L600.5 988.2M514 900L514 1024M564 900L564 1024M565.2 900.5L477.5 988.2M600.5 935.8L512.8 1023.5M600.8 987.6L684.8 955.6M600.8 987.6L637.6 1069.6M564.6 1023.8L646.6 1060.6M564.6 1023.8L532.6 1107.8M513.4 1023.8L545.4 1107.8M513.4 1023.8L431.4 1060.6M477.2 987.6L440.4 1069.6M477.2 987.6L393.2 955.6M477.2 936.4L393.2 968.4M477.2 936.4L440.4 854.4M513.4 900.2L431.4 863.4M513.4 900.2L545.4 816.2M564.6 900.2L532.6 816.2M564.6 900.2L646.6 863.4M600.8 936.4L637.6 854.4M600.8 936.4L684.8 968.4M563 971.9L548.9 986M548.9 986L529.1 986M529.1 986L515 971.9M515 971.9L515 952.1M515 952.1L529.1 938M529.1 938L548.9 938M548.9 938L563 952.1M563 952.1L563 971.9M477 1215L601 1215M477 1165L601 1165M477.5 1163.8L565.2 1251.5M512.8 1128.5L600.5 1216.2M514 1128L514 1252M564 1128L564 1252M565.2 1128.5L477.5 1216.2M600.5 1163.8L512.8 1251.5M600.8 1215.6L684.8 1183.6M600.8 1215.6L637.6 1297.6M564.6 1251.8L646.6 1288.6M564.6 1251.8L532.6 1335.8M513.4 1251.8L545.4 1335.8M513.4 1251.8L431.4 1288.6M477.2 1215.6L440.4 1297.6M477.2 1215.6L393.2 1183.6M477.2 1164.4L393.2 1196.4M477.2 1164.4L440.4 1082.4M513.4 1128.2L431.4 1091.4M513.4 1128.2L545.4 1044.2M564.6 1128.2L532.6 1044.2M564.6 1128.2L646.6 1091.4M600.8 1164.4L637.6 1082.4M600.8 1164.4L684.8 1196.4M563 1199.9L548.9 1214M548.9 1214L529.1 1214M529.1 1214L515 1199.9M515 1199.9L515 1180.1M515 1180.1L529.1 1166M529.1 1166L548.9 1166M548.9 1166L563 1180.1M563 1180.1L563 1199.9M477 1443L601 1443M477 1393L601 1393M477.5 1391.8L565.2 1479.5M512.8 1356.5L600.5 1444.2M514 1356L514 1480M564 1356L564 1480M565.2 1356.5L477.5 1444.2M600.5 1391.8L512.8 1479.5M600.8 1443.6L684.8 1411.6M600.8 1443.6L637.6 1525.6M564.6 1479.8L646.6 1516.6M564.6 1479.8L532.6 1563.8M513.4 1479.8L545.4 1563.8M513.4 1479.8L431.4 1516.6M477.2 1443.6L440.4 1525.6M477.2 1443.6L393.2 1411.6M477.2 1392.4L393.2 1424.4M477.2 1392.4L440.4 1310.4M513.4 1356.2L431.4 1319.4M513.4 1356.2L545.4 1272.2M564.6 1356.2L532.6 1272.2M564.6 1356.2L646.6 1319.4M600.8 1392.4L637.6 1310.4M600.8 1392.4L684.8 1424.4M563 1427.9L548.9 1442M548.9 1442L529.1 1442M529.1 1442L515 1427.9M515 1427.9L515 1408.1M515 1408.1L529.1 1394M529.1 1394L548.9 1394M548.9 1394L563 1408.1M563 1408.1L563 1427.9M477 1671L601 1671M477 1621L601 1621M477.5 1619.8L565.2 1707.5M512.8 1584.5L600.5 1672.2M514 1584L514 1708M564 1584L564 1708M565.2 1584.5L477.5 1672.2M600.5 1619.8L512.8 1707.5M600.8 1671.6L684.8 1639.6M600.8 1671.6L637.6 1753.6M564.6 1707.8L646.6 1744.6M564.6 1707.8L532.6 1791.8M513.4 1707.8L545.4 1791.8M513.4 1707.8L431.4 1744.6M477.2 1671.6L440.4 1753.6M477.2 1671.6L393.2 1639.6M477.2 1620.4L393.2 1652.4M477.2 1620.4L440.4 1538.4M513.4 1584.2L431.4 1547.4M513.4 1584.2L545.4 1500.2M564.6 1584.2L532.6 1500.2M564.6 1584.2L646.6 1547.4M600.8 1620.4L637.6 1538.4M600.8 1620.4L684.8 1652.4M563 1655.9L548.9 1670M548.9 1670L529.1 1670M529.1 1670L515 1655.9M515 1655.9L515 1636.1M515 1636.1L529.1 1622M529.1 1622L548.9 1622M548.9 1622L563 1636.1M563 1636.1L563 1655.9M477 1899L601 1899M477 1849L601 1849M477.5 1847.8L565.2 1935.5M512.8 1812.5L600.5 1900.2M514 1812L514 1936M564 1812L564 1936M565.2 1812.5L477.5 1900.2M600.5 1847.8L512.8 1935.5M600.8 1899.6L684.8 1867.6M600.8 1899.6L637.6 1981.6M564.6 1935.8L646.6 1972.6M564.6 1935.8L532.6 2019.8M513.4 1935.8L545.4 2019.8M513.4 1935.8L431.4 1972.6M477.2 1899.6L440.4 1981.6M477.2 1899.6L393.2 1867.6M477.2 1848.4L393.2 1880.4M477.2 1848.4L440.4 1766.4M513.4 1812.2L431.4 1775.4M513.4 1812.2L545.4 1728.2M564.6 1812.2L532.6 1728.2M564.6 1812.2L646.6 1775.4M600.8 1848.4L637.6 1766.4M600.8 1848.4L684.8 1880.4M563 1883.9L548.9 1898M548.9 1898L529.1 1898M529.1 1898L515 1883.9M515 1883.9L515 1864.1M515 1864.1L529.1 1850M529.1 1850L548.9 1850M548.9 1850L563 1864.1M563 1864.1L563 1883.9M477 2127L601 2127M477 2077L601 2077M477.5 2075.8L565.2 2163.5M512.8 2040.5L600.5 2128.2M514 2040L514 2164M564 2040L564 2164M565.2 2040.5L477.5 2128.2M600.5 2075.8L512.8 2163.5M600.8 2127.6L684.8 2095.6M600.8 2127.6L637.6 2209.6M564.6 2163.8L646.6 2200.6M564.6 2163.8L532.6 2247.8M513.4 2163.8L545.4 2247.8M513.4 2163.8L431.4 2200.6M477.2 2127.6L440.4 2209.6M477.2 2127.6L393.2 2095.6M477.2 2076.4L393.2 2108.4M477.2 2076.4L440.4 1994.4M513.4 2040.2L431.4 2003.4M513.4 2040.2L545.4 1956.2M564.6 2040.2L532.6 1956.2M564.6 2040.2L646.6 2003.4M600.8 2076.4L637.6 1994.4M600.8 2076.4L684.8 2108.4M563 2111.9L548.9 2126M548.9 2126L529.1 2126M529.1 2126L515 2111.9M515 2111.9L515 2092.1M515 2092.1L529.1 2078M529.1 2078L548.9 2078M548.9 2078L563 2092.1M563 2092.1L563 2111.9M477 2355L601 2355M477 2305L601 2305M477.5 2303.8L565.2 2391.5M512.8 2268.5L600.5 2356.2M514 2268L514 2392M564 2268L564 2392M565.2 2268.5L477.5 2356.2M600.5 2303.8L512.8 2391.5M600.8 2355.6L684.8 2323.6M600.8 2355.6L637.6 2437.6M564.6 2391.8L646.6 2428.6M564.6 2391.8L532.6 2475.8M513.4 2391.8L545.4 2475.8M513.4 2391.8L431.4 2428.6M477.2 2355.6L440.4 2437.6M477.2 2355.6L393.2 2323.6M477.2 2304.4L393.2 2336.4M477.2 2304.4L440.4 2222.4M513.4 2268.2L431.4 2231.4M513.4 2268.2L545.4 2184.2M564.6 2268.2L532.6 2184.2M564.6 2268.2L646.6 2231.4M600.8 2304.4L637.6 2222.4M600.8 2304.4L684.8 2336.4M563 2339.9L548.9 2354M548.9 2354L529.1 2354M529.1 2354L515 2339.9M515 2339.9L515 2320.1M515 2320.1L529.1 2306M529.1 2306L548.9 2306M548.9 2306L563 2320.1M563 2320.1L563 2339.9M477 2583L601 2583M477 2533L601 2533M477.5 2531.8L565.2 2619.5M512.8 2496.5L600.5 2584.2M514 2496L514 2620M564 2496L564 2620M565.2 2496.5L477.5 2584.2M600.5 2531.8L512.8 2619.5M600.8 2583.6L684.8 2551.6M600.8 2583.6L637.6 2665.6M564.6 2619.8L646.6 2656.6M564.6 2619.8L532.6 2703.8M513.4 2619.8L545.4 2703.8M513.4 2619.8L431.4 2656.6M477.2 2583.6L440.4 2665.6M477.2 2583.6L393.2 2551.6M477.2 2532.4L393.2 2564.4M477.2 2532.4L440.4 2450.4M513.4 2496.2L431.4 2459.4M513.4 2496.2L545.4 2412.2M564.6 2496.2L532.6 2412.2M564.6 2496.2L646.6 2459.4M600.8 2532.4L637.6 2450.4M600.8 2532.4L684.8 2564.4M563 2567.9L548.9 2582M548.9 2582L529.1 2582M529.1 2582L515 2567.9M515 2567.9L515 2548.1M515 2548.1L529.1 2534M529.1 2534L548.9 2534M548.9 2534L563 2548.1M563 2548.1L563 2567.9M477 2811L601 2811M477 2761L601 2761M477.5 2759.8L565.2 2847.5M512.8 2724.5L600.5 2812.2M514 2724L514 2848M564 2724L564 2848M565.2 2724.5L477.5 2812.2M600.5 2759.8L512.8 2847.5M600.8 2811.6L684.8 2779.6M600.8 2811.6L637.6 2893.6M564.6 2847.8L646.6 2884.6M564.6 2847.8L532.6 2931.8M513.4 2847.8L545.4 2931.8M513.4 2847.8L431.4 2884.6M477.2 2811.6L440.4 2893.6M477.2 2811.6L393.2 2779.6M477.2 2760.4L393.2 2792.4M477.2 2760.4L440.4 2678.4M513.4 2724.2L431.4 2687.4M513.4 2724.2L545.4 2640.2M564.6 2724.2L532.6 2640.2M564.6 2724.2L646.6 2687.4M600.8 2760.4L637.6 2678.4M600.8 2760.4L684.8 2792.4M563 2795.9L548.9 2810M548.9 2810L529.1 2810M529.1 2810L515 2795.9M515 2795.9L515 2776.1M515 2776.1L529.1 2762M529.1 2762L548.9 2762M548.9 2762L563 2776.1M563 2776.1L563 2795.9M477 3039L601 3039M477 2989L601 2989M477.5 2987.8L565.2 3075.5M512.8 2952.5L600.5 3040.2M514 2952L514 3076M564 2952L564 3076M565.2 2952.5L477.5 3040.2M600.5 2987.8L512.8 3075.5M600.8 3039.6L684.8 3007.6M600.8 3039.6L637.6 3121.6M564.6 3075.8L646.6 3112.6M564.6 3075.8L532.6 3159.8M513.4 3075.8L545.4 3159.8M513.4 3075.8L431.4 3112.6M477.2 3039.6L440.4 3121.6M477.2 3039.6L393.2 3007.6M477.2 2988.4L393.2 3020.4M477.2 2988.4L440.4 2906.4M513.4 2952.2L431.4 2915.4M513.4 2952.2L545.4 2868.2M564.6 2952.2L532.6 2868.2M564.6 2952.2L646.6 2915.4M600.8 2988.4L637.6 2906.4M600.8 2988.4L684.8 3020.4M563 3023.9L548.9 3038M548.9 3038L529.1 3038M529.1 3038L515 3023.9M515 3023.9L515 3004.1M515 3004.1L529.1 2990M529.1 2990L548.9 2990M548.9 2990L563 3004.1M563 3004.1L563 3023.9M477 3267L601 3267M477 3217L601 3217M477.5 3215.8L565.2 3303.5M512.8 3180.5L600.5 3268.2M514 3180L514 3304M564 3180L564 3304M565.2 3180.5L477.5 3268.2M600.5 3215.8L512.8 3303.5M600.8 3267.6L684.8 3235.6M600.8 3267.6L637.6 3349.6M564.6 3303.8L646.6 3340.6M564.6 3303.8L532.6 3387.8M513.4 3303.8L545.4 3387.8M513.4 3303.8L431.4 3340.6M477.2 3267.6L440.4 3349.6M477.2 3267.6L393.2 3235.6M477.2 3216.4L393.2 3248.4M477.2 3216.4L440.4 3134.4M513.4 3180.2L431.4 3143.4M513.4 3180.2L545.4 3096.2M564.6 3180.2L532.6 3096.2M564.6 3180.2L646.6 3143.4M600.8 3216.4L637.6 3134.4M600.8 3216.4L684.8 3248.4M563 3251.9L548.9 3266M548.9 3266L529.1 3266M529.1 3266L515 3251.9M515 3251.9L515 3232.1M515 3232.1L529.1 3218M529.1 3218L548.9 3218M548.9 3218L563 3232.1M563 3232.1L563 3251.9M477 3495L601 3495M477 3445L601 3445M477.5 3443.8L565.2 3531.5M512.8 3408.5L600.5 3496.2M514 3408L514 3532M564 3408L564 3532M565.2 3408.5L477.5 3496.2M600.5 3443.8L512.8 3531.5M600.8 3495.6L684.8 3463.6M600.8 3495.6L637.6 3577.6M564.6 3531.8L646.6 3568.6M564.6 3531.8L532.6 3615.8M513.4 3531.8L545.4 3615.8M513.4 3531.8L431.4 3568.6M477.2 3495.6L440.4 3577.6M477.2 3495.6L393.2 3463.6M477.2 3444.4L393.2 3476.4M477.2 3444.4L440.4 3362.4M513.4 3408.2L431.4 3371.4M513.4 3408.2L545.4 3324.2M564.6 3408.2L532.6 3324.2M564.6 3408.2L646.6 3371.4M600.8 3444.4L637.6 3362.4M600.8 3444.4L684.8 3476.4M563 3479.9L548.9 3494M548.9 3494L529.1 3494M529.1 3494L515 3479.9M515 3479.9L515 3460.1M515 3460.1L529.1 3446M529.1 3446L548.9 3446M548.9 3446L563 3460.1M563 3460.1L563 3479.9M477 3723L601 3723M477 3673L601 3673M477.5 3671.8L565.2 3759.5M512.8 3636.5L600.5 3724.2M514 3636L514 3760M564 3636L564 3760M565.2 3636.5L477.5 3724.2M600.5 3671.8L512.8 3759.5M600.8 3723.6L684.8 3691.6M600.8 3723.6L637.6 3805.6M564.6 3759.8L646.6 3796.6M564.6 3759.8L532.6 3843.8M513.4 3759.8L545.4 3843.8M513.4 3759.8L431.4 3796.6M477.2 3723.6L440.4 3805.6M477.2 3723.6L393.2 3691.6M477.2 3672.4L393.2 3704.4M477.2 3672.4L440.4 3590.4M513.4 3636.2L431.4 3599.4M513.4 3636.2L545.4 3552.2M564.6 3636.2L532.6 3552.2M564.6 3636.2L646.6 3599.4M600.8 3672.4L637.6 3590.4M600.8 3672.4L684.8 3704.4M563 3707.9L548.9 3722M548.9 3722L529.1 3722M529.1 3722L515 3707.9M515 3707.9L515 3688.1M515 3688.1L529.1 3674M529.1 3674L548.9 3674M548.9 3674L563 3688.1M563 3688.1L563 3707.9M711 -153L835 -153M711 -203L835 -203M711.5 -204.2L799.2 -116.5M746.8 -239.5L834.5 -151.8M748 -240L748 -116M798 -240L798 -116M799.2 -239.5L711.5 -151.8M834.5 -204.2L746.8 -116.5M834.8 -152.4L918.8 -184.4M834.8 -152.4L871.6 -70.4M798.6 -116.2L880.6 -79.4M798.6 -116.2L766.6 -32.2M747.4 -116.2L779.4 -32.2M747.4 -116.2L665.4 -79.4M711.2 -152.4L674.4 -70.4M711.2 -152.4L627.2 -184.4M711.2 -203.6L627.2 -171.6M711.2 -203.6L674.4 -285.6M747.4 -239.8L665.4 -276.6M747.4 -239.8L779.4 -323.8M798.6 -239.8L766.6 -323.8M798.6 -239.8L880.6 -276.6M834.8 -203.6L871.6 -285.6M834.8 -203.6L918.8 -171.6M773 -211L780.6 -196.3M780.6 -196.3L796.3 -201.3M796.3 -201.3L791.3 -185.6M791.3 -185.6L806 -178M806 -178L791.3 -170.4M791.3 -170.4L796.3 -154.7M796.3 -154.7L780.6 -159.7M780.6 -159.7L773 -145M773 -145L765.4 -159.7M765.4 -159.7L749.7 -154.7M749.7 -154.7L754.7 -170.4M754.7 -170.4L740 -178M740 -178L754.7 -185.6M754.7 -185.6L749.7 -201.3M749.7 -201.3L765.4 -196.3M765.4 -196.3L773 -211M711 75L835 75M711 25L835 25M711.5 23.8L799.2 111.5M746.8 -11.5L834.5 76.2M748 -12L748 112M798 -12L798 112M799.2 -11.5L711.5 76.2M834.5 23.8L746.8 111.5M834.8 75.6L918.8 43.6M834.8 75.6L871.6 157.6M798.6 111.8L880.6 148.6M798.6 111.8L766.6 195.8M747.4 111.8L779.4 195.8M747.4 111.8L665.4 148.6M711.2 75.6L674.4 157.6M711.2 75.6L627.2 43.6M711.2 24.4L627.2 56.4M711.2 24.4L674.4 -57.6M747.4 -11.8L665.4 -48.6M747.4 -11.8L779.4 -95.8M798.6 -11.8L766.6 -95.8M798.6 -11.8L880.6 -48.6M834.8 24.4L871.6 -57.6M834.8 24.4L918.8 56.4M773 17L780.6 31.7M780.6 31.7L796.3 26.7M796.3 26.7L791.3 42.4M791.3 42.4L806 50M806 50L791.3 57.6M791.3 57.6L796.3 73.3M796.3 73.3L780.6 68.3M780.6 68.3L773 83M773 83L765.4 68.3M765.4 68.3L749.7 73.3M749.7 73.3L754.7 57.6M754.7 57.6L740 50M740 50L754.7 42.4M754.7 42.4L749.7 26.7M749.7 26.7L765.4 31.7M765.4 31.7L773 17M711 303L835 303M711 253L835 253M711.5 251.8L799.2 339.5M746.8 216.5L834.5 304.2M748 216L748 340M798 216L798 340M799.2 216.5L711.5 304.2M834.5 251.8L746.8 339.5M834.8 303.6L918.8 271.6M834.8 303.6L871.6 385.6M798.6 339.8L880.6 376.6M798.6 339.8L766.6 423.8M747.4 339.8L779.4 423.8M747.4 339.8L665.4 376.6M711.2 303.6L674.4 385.6M711.2 303.6L627.2 271.6M711.2 252.4L627.2 284.4M711.2 252.4L674.4 170.4M747.4 216.2L665.4 179.4M747.4 216.2L779.4 132.2M798.6 216.2L766.6 132.2M798.6 216.2L880.6 179.4M834.8 252.4L871.6 170.4M834.8 252.4L918.8 284.4M773 245L780.6 259.7M780.6 259.7L796.3 254.7M796.3 254.7L791.3 270.4M791.3 270.4L806 278M806 278L791.3 285.6M791.3 285.6L796.3 301.3M796.3 301.3L780.6 296.3M780.6 296.3L773 311M773 311L765.4 296.3M765.4 296.3L749.7 301.3M749.7 301.3L754.7 285.6M754.7 285.6L740 278M740 278L754.7 270.4M754.7 270.4L749.7 254.7M749.7 254.7L765.4 259.7M765.4 259.7L773 245M711 531L835 531M711 481L835 481M711.5 479.8L799.2 567.5M746.8 444.5L834.5 532.2M748 444L748 568M798 444L798 568M799.2 444.5L711.5 532.2M834.5 479.8L746.8 567.5M834.8 531.6L918.8 499.6M834.8 531.6L871.6 613.6M798.6 567.8L880.6 604.6M798.6 567.8L766.6 651.8M747.4 567.8L779.4 651.8M747.4 567.8L665.4 604.6M711.2 531.6L674.4 613.6M711.2 531.6L627.2 499.6M711.2 480.4L627.2 512.4M711.2 480.4L674.4 398.4M747.4 444.2L665.4 407.4M747.4 444.2L779.4 360.2M798.6 444.2L766.6 360.2M798.6 444.2L880.6 407.4M834.8 480.4L871.6 398.4M834.8 480.4L918.8 512.4M773 473L780.6 487.7M780.6 487.7L796.3 482.7M796.3 482.7L791.3 498.4M791.3 498.4L806 506M806 506L791.3 513.6M791.3 513.6L796.3 529.3M796.3 529.3L780.6 524.3M780.6 524.3L773 539M773 539L765.4 524.3M765.4 524.3L749.7 529.3M749.7 529.3L754.7 513.6M754.7 513.6L740 506M740 506L754.7 498.4M754.7 498.4L749.7 482.7M749.7 482.7L765.4 487.7M765.4 487.7L773 473M711 759L835 759M711 709L835 709M711.5 707.8L799.2 795.5M746.8 672.5L834.5 760.2M748 672L748 796M798 672L798 796M799.2 672.5L711.5 760.2M834.5 707.8L746.8 795.5M834.8 759.6L918.8 727.6M834.8 759.6L871.6 841.6M798.6 795.8L880.6 832.6M798.6 795.8L766.6 879.8M747.4 795.8L779.4 879.8M747.4 795.8L665.4 832.6M711.2 759.6L674.4 841.6M711.2 759.6L627.2 727.6M711.2 708.4L627.2 740.4M711.2 708.4L674.4 626.4M747.4 672.2L665.4 635.4M747.4 672.2L779.4 588.2M798.6 672.2L766.6 588.2M798.6 672.2L880.6 635.4M834.8 708.4L871.6 626.4M834.8 708.4L918.8 740.4M773 701L780.6 715.7M780.6 715.7L796.3 710.7M796.3 710.7L791.3 726.4M791.3 726.4L806 734M806 734L791.3 741.6M791.3 741.6L796.3 757.3M796.3 757.3L780.6 752.3M780.6 752.3L773 767M773 767L765.4 752.3M765.4 752.3L749.7 757.3M749.7 757.3L754.7 741.6M754.7 741.6L740 734M740 734L754.7 726.4M754.7 726.4L749.7 710.7M749.7 710.7L765.4 715.7M765.4 715.7L773 701M711 987L835 987M711 937L835 937M711.5 935.8L799.2 1023.5M746.8 900.5L834.5 988.2M748 900L748 1024M798 900L798 1024M799.2 900.5L711.5 988.2M834.5 935.8L746.8 1023.5M834.8 987.6L918.8 955.6M834.8 987.6L871.6 1069.6M798.6 1023.8L880.6 1060.6M798.6 1023.8L766.6 1107.8M747.4 1023.8L779.4 1107.8M747.4 1023.8L665.4 1060.6M711.2 987.6L674.4 1069.6M711.2 987.6L627.2 955.6M711.2 936.4L627.2 968.4M711.2 936.4L674.4 854.4M747.4 900.2L665.4 863.4M747.4 900.2L779.4 816.2M798.6 900.2L766.6 816.2M798.6 900.2L880.6 863.4M834.8 936.4L871.6 854.4M834.8 936.4L918.8 968.4M773 929L780.6 943.7M780.6 943.7L796.3 938.7M796.3 938.7L791.3 954.4M791.3 954.4L806 962M806 962L791.3 969.6M791.3 969.6L796.3 985.3M796.3 985.3L780.6 980.3M780.6 980.3L773 995M773 995L765.4 980.3M765.4 980.3L749.7 985.3M749.7 985.3L754.7 969.6M754.7 969.6L740 962M740 962L754.7 954.4M754.7 954.4L749.7 938.7M749.7 938.7L765.4 943.7M765.4 943.7L773 929M711 1215L835 1215M711 1165L835 1165M711.5 1163.8L799.2 1251.5M746.8 1128.5L834.5 1216.2M748 1128L748 1252M798 1128L798 1252M799.2 1128.5L711.5 1216.2M834.5 1163.8L746.8 1251.5M834.8 1215.6L918.8 1183.6M834.8 1215.6L871.6 1297.6M798.6 1251.8L880.6 1288.6M798.6 1251.8L766.6 1335.8M747.4 1251.8L779.4 1335.8M747.4 1251.8L665.4 1288.6M711.2 1215.6L674.4 1297.6M711.2 1215.6L627.2 1183.6M711.2 1164.4L627.2 1196.4M711.2 1164.4L674.4 1082.4M747.4 1128.2L665.4 1091.4M747.4 1128.2L779.4 1044.2M798.6 1128.2L766.6 1044.2M798.6 1128.2L880.6 1091.4M834.8 1164.4L871.6 1082.4M834.8 1164.4L918.8 1196.4M773 1157L780.6 1171.7M780.6 1171.7L796.3 1166.7M796.3 1166.7L791.3 1182.4M791.3 1182.4L806 1190M806 1190L791.3 1197.6M791.3 1197.6L796.3 1213.3M796.3 1213.3L780.6 1208.3M780.6 1208.3L773 1223M773 1223L765.4 1208.3M765.4 1208.3L749.7 1213.3M749.7 1213.3L754.7 1197.6M754.7 1197.6L740 1190M740 1190L754.7 1182.4M754.7 1182.4L749.7 1166.7M749.7 1166.7L765.4 1171.7M765.4 1171.7L773 1157M711 1443L835 1443M711 1393L835 1393M711.5 1391.8L799.2 1479.5M746.8 1356.5L834.5 1444.2M748 1356L748 1480M798 1356L798 1480M799.2 1356.5L711.5 1444.2M834.5 1391.8L746.8 1479.5M834.8 1443.6L918.8 1411.6M834.8 1443.6L871.6 1525.6M798.6 1479.8L880.6 1516.6M798.6 1479.8L766.6 1563.8M747.4 1479.8L779.4 1563.8M747.4 1479.8L665.4 1516.6M711.2 1443.6L674.4 1525.6M711.2 1443.6L627.2 1411.6M711.2 1392.4L627.2 1424.4M711.2 1392.4L674.4 1310.4M747.4 1356.2L665.4 1319.4M747.4 1356.2L779.4 1272.2M798.6 1356.2L766.6 1272.2M798.6 1356.2L880.6 1319.4M834.8 1392.4L871.6 1310.4M834.8 1392.4L918.8 1424.4M773 1385L780.6 1399.7M780.6 1399.7L796.3 1394.7M796.3 1394.7L791.3 1410.4M791.3 1410.4L806 1418M806 1418L791.3 1425.6M791.3 1425.6L796.3 1441.3M796.3 1441.3L780.6 1436.3M780.6 1436.3L773 1451M773 1451L765.4 1436.3M765.4 1436.3L749.7 1441.3M749.7 1441.3L754.7 1425.6M754.7 1425.6L740 1418M740 1418L754.7 1410.4M754.7 1410.4L749.7 1394.7M749.7 1394.7L765.4 1399.7M765.4 1399.7L773 1385M711 1671L835 1671M711 1621L835 1621M711.5 1619.8L799.2 1707.5M746.8 1584.5L834.5 1672.2M748 1584L748 1708M798 1584L798 1708M799.2 1584.5L711.5 1672.2M834.5 1619.8L746.8 1707.5M834.8 1671.6L918.8 1639.6M834.8 1671.6L871.6 1753.6M798.6 1707.8L880.6 1744.6M798.6 1707.8L766.6 1791.8M747.4 1707.8L779.4 1791.8M747.4 1707.8L665.4 1744.6M711.2 1671.6L674.4 1753.6M711.2 1671.6L627.2 1639.6M711.2 1620.4L627.2 1652.4M711.2 1620.4L674.4 1538.4M747.4 1584.2L665.4 1547.4M747.4 1584.2L779.4 1500.2M798.6 1584.2L766.6 1500.2M798.6 1584.2L880.6 1547.4M834.8 1620.4L871.6 1538.4M834.8 1620.4L918.8 1652.4M773 1613L780.6 1627.7M780.6 1627.7L796.3 1622.7M796.3 1622.7L791.3 1638.4M791.3 1638.4L806 1646M806 1646L791.3 1653.6M791.3 1653.6L796.3 1669.3M796.3 1669.3L780.6 1664.3M780.6 1664.3L773 1679M773 1679L765.4 1664.3M765.4 1664.3L749.7 1669.3M749.7 1669.3L754.7 1653.6M754.7 1653.6L740 1646M740 1646L754.7 1638.4M754.7 1638.4L749.7 1622.7M749.7 1622.7L765.4 1627.7M765.4 1627.7L773 1613M711 1899L835 1899M711 1849L835 1849M711.5 1847.8L799.2 1935.5M746.8 1812.5L834.5 1900.2M748 1812L748 1936M798 1812L798 1936M799.2 1812.5L711.5 1900.2M834.5 1847.8L746.8 1935.5M834.8 1899.6L918.8 1867.6M834.8 1899.6L871.6 1981.6M798.6 1935.8L880.6 1972.6M798.6 1935.8L766.6 2019.8M747.4 1935.8L779.4 2019.8M747.4 1935.8L665.4 1972.6M711.2 1899.6L674.4 1981.6M711.2 1899.6L627.2 1867.6M711.2 1848.4L627.2 1880.4M711.2 1848.4L674.4 1766.4M747.4 1812.2L665.4 1775.4M747.4 1812.2L779.4 1728.2M798.6 1812.2L766.6 1728.2M798.6 1812.2L880.6 1775.4M834.8 1848.4L871.6 1766.4M834.8 1848.4L918.8 1880.4M773 1841L780.6 1855.7M780.6 1855.7L796.3 1850.7M796.3 1850.7L791.3 1866.4M791.3 1866.4L806 1874M806 1874L791.3 1881.6M791.3 1881.6L796.3 1897.3M796.3 1897.3L780.6 1892.3M780.6 1892.3L773 1907M773 1907L765.4 1892.3M765.4 1892.3L749.7 1897.3M749.7 1897.3L754.7 1881.6M754.7 1881.6L740 1874M740 1874L754.7 1866.4M754.7 1866.4L749.7 1850.7M749.7 1850.7L765.4 1855.7M765.4 1855.7L773 1841M711 2127L835 2127M711 2077L835 2077M711.5 2075.8L799.2 2163.5M746.8 2040.5L834.5 2128.2M748 2040L748 2164M798 2040L798 2164M799.2 2040.5L711.5 2128.2M834.5 2075.8L746.8 2163.5M834.8 2127.6L918.8 2095.6M834.8 2127.6L871.6 2209.6M798.6 2163.8L880.6 2200.6M798.6 2163.8L766.6 2247.8M747.4 2163.8L779.4 2247.8M747.4 2163.8L665.4 2200.6M711.2 2127.6L674.4 2209.6M711.2 2127.6L627.2 2095.6M711.2 2076.4L627.2 2108.4M711.2 2076.4L674.4 1994.4M747.4 2040.2L665.4 2003.4M747.4 2040.2L779.4 1956.2M798.6 2040.2L766.6 1956.2M798.6 2040.2L880.6 2003.4M834.8 2076.4L871.6 1994.4M834.8 2076.4L918.8 2108.4M773 2069L780.6 2083.7M780.6 2083.7L796.3 2078.7M796.3 2078.7L791.3 2094.4M791.3 2094.4L806 2102M806 2102L791.3 2109.6M791.3 2109.6L796.3 2125.3M796.3 2125.3L780.6 2120.3M780.6 2120.3L773 2135M773 2135L765.4 2120.3M765.4 2120.3L749.7 2125.3M749.7 2125.3L754.7 2109.6M754.7 2109.6L740 2102M740 2102L754.7 2094.4M754.7 2094.4L749.7 2078.7M749.7 2078.7L765.4 2083.7M765.4 2083.7L773 2069M711 2355L835 2355M711 2305L835 2305M711.5 2303.8L799.2 2391.5M746.8 2268.5L834.5 2356.2M748 2268L748 2392M798 2268L798 2392M799.2 2268.5L711.5 2356.2M834.5 2303.8L746.8 2391.5M834.8 2355.6L918.8 2323.6M834.8 2355.6L871.6 2437.6M798.6 2391.8L880.6 2428.6M798.6 2391.8L766.6 2475.8M747.4 2391.8L779.4 2475.8M747.4 2391.8L665.4 2428.6M711.2 2355.6L674.4 2437.6M711.2 2355.6L627.2 2323.6M711.2 2304.4L627.2 2336.4M711.2 2304.4L674.4 2222.4M747.4 2268.2L665.4 2231.4M747.4 2268.2L779.4 2184.2M798.6 2268.2L766.6 2184.2M798.6 2268.2L880.6 2231.4M834.8 2304.4L871.6 2222.4M834.8 2304.4L918.8 2336.4M773 2297L780.6 2311.7M780.6 2311.7L796.3 2306.7M796.3 2306.7L791.3 2322.4M791.3 2322.4L806 2330M806 2330L791.3 2337.6M791.3 2337.6L796.3 2353.3M796.3 2353.3L780.6 2348.3M780.6 2348.3L773 2363M773 2363L765.4 2348.3M765.4 2348.3L749.7 2353.3M749.7 2353.3L754.7 2337.6M754.7 2337.6L740 2330M740 2330L754.7 2322.4M754.7 2322.4L749.7 2306.7M749.7 2306.7L765.4 2311.7M765.4 2311.7L773 2297M711 2583L835 2583M711 2533L835 2533M711.5 2531.8L799.2 2619.5M746.8 2496.5L834.5 2584.2M748 2496L748 2620M798 2496L798 2620M799.2 2496.5L711.5 2584.2M834.5 2531.8L746.8 2619.5M834.8 2583.6L918.8 2551.6M834.8 2583.6L871.6 2665.6M798.6 2619.8L880.6 2656.6M798.6 2619.8L766.6 2703.8M747.4 2619.8L779.4 2703.8M747.4 2619.8L665.4 2656.6M711.2 2583.6L674.4 2665.6M711.2 2583.6L627.2 2551.6M711.2 2532.4L627.2 2564.4M711.2 2532.4L674.4 2450.4M747.4 2496.2L665.4 2459.4M747.4 2496.2L779.4 2412.2M798.6 2496.2L766.6 2412.2M798.6 2496.2L880.6 2459.4M834.8 2532.4L871.6 2450.4M834.8 2532.4L918.8 2564.4M773 2525L780.6 2539.7M780.6 2539.7L796.3 2534.7M796.3 2534.7L791.3 2550.4M791.3 2550.4L806 2558M806 2558L791.3 2565.6M791.3 2565.6L796.3 2581.3M796.3 2581.3L780.6 2576.3M780.6 2576.3L773 2591M773 2591L765.4 2576.3M765.4 2576.3L749.7 2581.3M749.7 2581.3L754.7 2565.6M754.7 2565.6L740 2558M740 2558L754.7 2550.4M754.7 2550.4L749.7 2534.7M749.7 2534.7L765.4 2539.7M765.4 2539.7L773 2525M711 2811L835 2811M711 2761L835 2761M711.5 2759.8L799.2 2847.5M746.8 2724.5L834.5 2812.2M748 2724L748 2848M798 2724L798 2848M799.2 2724.5L711.5 2812.2M834.5 2759.8L746.8 2847.5M834.8 2811.6L918.8 2779.6M834.8 2811.6L871.6 2893.6M798.6 2847.8L880.6 2884.6M798.6 2847.8L766.6 2931.8M747.4 2847.8L779.4 2931.8M747.4 2847.8L665.4 2884.6M711.2 2811.6L674.4 2893.6M711.2 2811.6L627.2 2779.6M711.2 2760.4L627.2 2792.4M711.2 2760.4L674.4 2678.4M747.4 2724.2L665.4 2687.4M747.4 2724.2L779.4 2640.2M798.6 2724.2L766.6 2640.2M798.6 2724.2L880.6 2687.4M834.8 2760.4L871.6 2678.4M834.8 2760.4L918.8 2792.4M773 2753L780.6 2767.7M780.6 2767.7L796.3 2762.7M796.3 2762.7L791.3 2778.4M791.3 2778.4L806 2786M806 2786L791.3 2793.6M791.3 2793.6L796.3 2809.3M796.3 2809.3L780.6 2804.3M780.6 2804.3L773 2819M773 2819L765.4 2804.3M765.4 2804.3L749.7 2809.3M749.7 2809.3L754.7 2793.6M754.7 2793.6L740 2786M740 2786L754.7 2778.4M754.7 2778.4L749.7 2762.7M749.7 2762.7L765.4 2767.7M765.4 2767.7L773 2753M711 3039L835 3039M711 2989L835 2989M711.5 2987.8L799.2 3075.5M746.8 2952.5L834.5 3040.2M748 2952L748 3076M798 2952L798 3076M799.2 2952.5L711.5 3040.2M834.5 2987.8L746.8 3075.5M834.8 3039.6L918.8 3007.6M834.8 3039.6L871.6 3121.6M798.6 3075.8L880.6 3112.6M798.6 3075.8L766.6 3159.8M747.4 3075.8L779.4 3159.8M747.4 3075.8L665.4 3112.6M711.2 3039.6L674.4 3121.6M711.2 3039.6L627.2 3007.6M711.2 2988.4L627.2 3020.4M711.2 2988.4L674.4 2906.4M747.4 2952.2L665.4 2915.4M747.4 2952.2L779.4 2868.2M798.6 2952.2L766.6 2868.2M798.6 2952.2L880.6 2915.4M834.8 2988.4L871.6 2906.4M834.8 2988.4L918.8 3020.4M773 2981L780.6 2995.7M780.6 2995.7L796.3 2990.7M796.3 2990.7L791.3 3006.4M791.3 3006.4L806 3014M806 3014L791.3 3021.6M791.3 3021.6L796.3 3037.3M796.3 3037.3L780.6 3032.3M780.6 3032.3L773 3047M773 3047L765.4 3032.3M765.4 3032.3L749.7 3037.3M749.7 3037.3L754.7 3021.6M754.7 3021.6L740 3014M740 3014L754.7 3006.4M754.7 3006.4L749.7 2990.7M749.7 2990.7L765.4 2995.7M765.4 2995.7L773 2981M711 3267L835 3267M711 3217L835 3217M711.5 3215.8L799.2 3303.5M746.8 3180.5L834.5 3268.2M748 3180L748 3304M798 3180L798 3304M799.2 3180.5L711.5 3268.2M834.5 3215.8L746.8 3303.5M834.8 3267.6L918.8 3235.6M834.8 3267.6L871.6 3349.6M798.6 3303.8L880.6 3340.6M798.6 3303.8L766.6 3387.8M747.4 3303.8L779.4 3387.8M747.4 3303.8L665.4 3340.6M711.2 3267.6L674.4 3349.6M711.2 3267.6L627.2 3235.6M711.2 3216.4L627.2 3248.4M711.2 3216.4L674.4 3134.4M747.4 3180.2L665.4 3143.4M747.4 3180.2L779.4 3096.2M798.6 3180.2L766.6 3096.2M798.6 3180.2L880.6 3143.4M834.8 3216.4L871.6 3134.4M834.8 3216.4L918.8 3248.4M773 3209L780.6 3223.7M780.6 3223.7L796.3 3218.7M796.3 3218.7L791.3 3234.4M791.3 3234.4L806 3242M806 3242L791.3 3249.6M791.3 3249.6L796.3 3265.3M796.3 3265.3L780.6 3260.3M780.6 3260.3L773 3275M773 3275L765.4 3260.3M765.4 3260.3L749.7 3265.3M749.7 3265.3L754.7 3249.6M754.7 3249.6L740 3242M740 3242L754.7 3234.4M754.7 3234.4L749.7 3218.7M749.7 3218.7L765.4 3223.7M765.4 3223.7L773 3209M711 3495L835 3495M711 3445L835 3445M711.5 3443.8L799.2 3531.5M746.8 3408.5L834.5 3496.2M748 3408L748 3532M798 3408L798 3532M799.2 3408.5L711.5 3496.2M834.5 3443.8L746.8 3531.5M834.8 3495.6L918.8 3463.6M834.8 3495.6L871.6 3577.6M798.6 3531.8L880.6 3568.6M798.6 3531.8L766.6 3615.8M747.4 3531.8L779.4 3615.8M747.4 3531.8L665.4 3568.6M711.2 3495.6L674.4 3577.6M711.2 3495.6L627.2 3463.6M711.2 3444.4L627.2 3476.4M711.2 3444.4L674.4 3362.4M747.4 3408.2L665.4 3371.4M747.4 3408.2L779.4 3324.2M798.6 3408.2L766.6 3324.2M798.6 3408.2L880.6 3371.4M834.8 3444.4L871.6 3362.4M834.8 3444.4L918.8 3476.4M773 3437L780.6 3451.7M780.6 3451.7L796.3 3446.7M796.3 3446.7L791.3 3462.4M791.3 3462.4L806 3470M806 3470L791.3 3477.6M791.3 3477.6L796.3 3493.3M796.3 3493.3L780.6 3488.3M780.6 3488.3L773 3503M773 3503L765.4 3488.3M765.4 3488.3L749.7 3493.3M749.7 3493.3L754.7 3477.6M754.7 3477.6L740 3470M740 3470L754.7 3462.4M754.7 3462.4L749.7 3446.7M749.7 3446.7L765.4 3451.7M765.4 3451.7L773 3437M711 3723L835 3723M711 3673L835 3673M711.5 3671.8L799.2 3759.5M746.8 3636.5L834.5 3724.2M748 3636L748 3760M798 3636L798 3760M799.2 3636.5L711.5 3724.2M834.5 3671.8L746.8 3759.5M834.8 3723.6L918.8 3691.6M834.8 3723.6L871.6 3805.6M798.6 3759.8L880.6 3796.6M798.6 3759.8L766.6 3843.8M747.4 3759.8L779.4 3843.8M747.4 3759.8L665.4 3796.6M711.2 3723.6L674.4 3805.6M711.2 3723.6L627.2 3691.6M711.2 3672.4L627.2 3704.4M711.2 3672.4L674.4 3590.4M747.4 3636.2L665.4 3599.4M747.4 3636.2L779.4 3552.2M798.6 3636.2L766.6 3552.2M798.6 3636.2L880.6 3599.4M834.8 3672.4L871.6 3590.4M834.8 3672.4L918.8 3704.4M773 3665L780.6 3679.7M780.6 3679.7L796.3 3674.7M796.3 3674.7L791.3 3690.4M791.3 3690.4L806 3698M806 3698L791.3 3705.6M791.3 3705.6L796.3 3721.3M796.3 3721.3L780.6 3716.3M780.6 3716.3L773 3731M773 3731L765.4 3716.3M765.4 3716.3L749.7 3721.3M749.7 3721.3L754.7 3705.6M754.7 3705.6L740 3698M740 3698L754.7 3690.4M754.7 3690.4L749.7 3674.7M749.7 3674.7L765.4 3679.7M765.4 3679.7L773 3665M945 -153L1069 -153M945 -203L1069 -203M945.5 -204.2L1033.2 -116.5M980.8 -239.5L1068.5 -151.8M982 -240L982 -116M1032 -240L1032 -116M1033.2 -239.5L945.5 -151.8M1068.5 -204.2L980.8 -116.5M1068.8 -152.4L1152.8 -184.4M1068.8 -152.4L1105.6 -70.4M1032.6 -116.2L1114.6 -79.4M1032.6 -116.2L1000.6 -32.2M981.4 -116.2L1013.4 -32.2M981.4 -116.2L899.4 -79.4M945.2 -152.4L908.4 -70.4M945.2 -152.4L861.2 -184.4M945.2 -203.6L861.2 -171.6M945.2 -203.6L908.4 -285.6M981.4 -239.8L899.4 -276.6M981.4 -239.8L1013.4 -323.8M1032.6 -239.8L1000.6 -323.8M1032.6 -239.8L1114.6 -276.6M1068.8 -203.6L1105.6 -285.6M1068.8 -203.6L1152.8 -171.6M1031 -168.1L1016.9 -154M1016.9 -154L997.1 -154M997.1 -154L983 -168.1M983 -168.1L983 -187.9M983 -187.9L997.1 -202M997.1 -202L1016.9 -202M1016.9 -202L1031 -187.9M1031 -187.9L1031 -168.1M945 75L1069 75M945 25L1069 25M945.5 23.8L1033.2 111.5M980.8 -11.5L1068.5 76.2M982 -12L982 112M1032 -12L1032 112M1033.2 -11.5L945.5 76.2M1068.5 23.8L980.8 111.5M1068.8 75.6L1152.8 43.6M1068.8 75.6L1105.6 157.6M1032.6 111.8L1114.6 148.6M1032.6 111.8L1000.6 195.8M981.4 111.8L1013.4 195.8M981.4 111.8L899.4 148.6M945.2 75.6L908.4 157.6M945.2 75.6L861.2 43.6M945.2 24.4L861.2 56.4M945.2 24.4L908.4 -57.6M981.4 -11.8L899.4 -48.6M981.4 -11.8L1013.4 -95.8M1032.6 -11.8L1000.6 -95.8M1032.6 -11.8L1114.6 -48.6M1068.8 24.4L1105.6 -57.6M1068.8 24.4L1152.8 56.4M1031 59.9L1016.9 74M1016.9 74L997.1 74M997.1 74L983 59.9M983 59.9L983 40.1M983 40.1L997.1 26M997.1 26L1016.9 26M1016.9 26L1031 40.1M1031 40.1L1031 59.9M945 303L1069 303M945 253L1069 253M945.5 251.8L1033.2 339.5M980.8 216.5L1068.5 304.2M982 216L982 340M1032 216L1032 340M1033.2 216.5L945.5 304.2M1068.5 251.8L980.8 339.5M1068.8 303.6L1152.8 271.6M1068.8 303.6L1105.6 385.6M1032.6 339.8L1114.6 376.6M1032.6 339.8L1000.6 423.8M981.4 339.8L1013.4 423.8M981.4 339.8L899.4 376.6M945.2 303.6L908.4 385.6M945.2 303.6L861.2 271.6M945.2 252.4L861.2 284.4M945.2 252.4L908.4 170.4M981.4 216.2L899.4 179.4M981.4 216.2L1013.4 132.2M1032.6 216.2L1000.6 132.2M1032.6 216.2L1114.6 179.4M1068.8 252.4L1105.6 170.4M1068.8 252.4L1152.8 284.4M1031 287.9L1016.9 302M1016.9 302L997.1 302M997.1 302L983 287.9M983 287.9L983 268.1M983 268.1L997.1 254M997.1 254L1016.9 254M1016.9 254L1031 268.1M1031 268.1L1031 287.9M945 531L1069 531M945 481L1069 481M945.5 479.8L1033.2 567.5M980.8 444.5L1068.5 532.2M982 444L982 568M1032 444L1032 568M1033.2 444.5L945.5 532.2M1068.5 479.8L980.8 567.5M1068.8 531.6L1152.8 499.6M1068.8 531.6L1105.6 613.6M1032.6 567.8L1114.6 604.6M1032.6 567.8L1000.6 651.8M981.4 567.8L1013.4 651.8M981.4 567.8L899.4 604.6M945.2 531.6L908.4 613.6M945.2 531.6L861.2 499.6M945.2 480.4L861.2 512.4M945.2 480.4L908.4 398.4M981.4 444.2L899.4 407.4M981.4 444.2L1013.4 360.2M1032.6 444.2L1000.6 360.2M1032.6 444.2L1114.6 407.4M1068.8 480.4L1105.6 398.4M1068.8 480.4L1152.8 512.4M1031 515.9L1016.9 530M1016.9 530L997.1 530M997.1 530L983 515.9M983 515.9L983 496.1M983 496.1L997.1 482M997.1 482L1016.9 482M1016.9 482L1031 496.1M1031 496.1L1031 515.9M945 759L1069 759M945 709L1069 709M945.5 707.8L1033.2 795.5M980.8 672.5L1068.5 760.2M982 672L982 796M1032 672L1032 796M1033.2 672.5L945.5 760.2M1068.5 707.8L980.8 795.5M1068.8 759.6L1152.8 727.6M1068.8 759.6L1105.6 841.6M1032.6 795.8L1114.6 832.6M1032.6 795.8L1000.6 879.8M981.4 795.8L1013.4 879.8M981.4 795.8L899.4 832.6M945.2 759.6L908.4 841.6M945.2 759.6L861.2 727.6M945.2 708.4L861.2 740.4M945.2 708.4L908.4 626.4M981.4 672.2L899.4 635.4M981.4 672.2L1013.4 588.2M1032.6 672.2L1000.6 588.2M1032.6 672.2L1114.6 635.4M1068.8 708.4L1105.6 626.4M1068.8 708.4L1152.8 740.4M1031 743.9L1016.9 758M1016.9 758L997.1 758M997.1 758L983 743.9M983 743.9L983 724.1M983 724.1L997.1 710M997.1 710L1016.9 710M1016.9 710L1031 724.1M1031 724.1L1031 743.9M945 987L1069 987M945 937L1069 937M945.5 935.8L1033.2 1023.5M980.8 900.5L1068.5 988.2M982 900L982 1024M1032 900L1032 1024M1033.2 900.5L945.5 988.2M1068.5 935.8L980.8 1023.5M1068.8 987.6L1152.8 955.6M1068.8 987.6L1105.6 1069.6M1032.6 1023.8L1114.6 1060.6M1032.6 1023.8L1000.6 1107.8M981.4 1023.8L1013.4 1107.8M981.4 1023.8L899.4 1060.6M945.2 987.6L908.4 1069.6M945.2 987.6L861.2 955.6M945.2 936.4L861.2 968.4M945.2 936.4L908.4 854.4M981.4 900.2L899.4 863.4M981.4 900.2L1013.4 816.2M1032.6 900.2L1000.6 816.2M1032.6 900.2L1114.6 863.4M1068.8 936.4L1105.6 854.4M1068.8 936.4L1152.8 968.4M1031 971.9L1016.9 986M1016.9 986L997.1 986M997.1 986L983 971.9M983 971.9L983 952.1M983 952.1L997.1 938M997.1 938L1016.9 938M1016.9 938L1031 952.1M1031 952.1L1031 971.9M945 1215L1069 1215M945 1165L1069 1165M945.5 1163.8L1033.2 1251.5M980.8 1128.5L1068.5 1216.2M982 1128L982 1252M1032 1128L1032 1252M1033.2 1128.5L945.5 1216.2M1068.5 1163.8L980.8 1251.5M1068.8 1215.6L1152.8 1183.6M1068.8 1215.6L1105.6 1297.6M1032.6 1251.8L1114.6 1288.6M1032.6 1251.8L1000.6 1335.8M981.4 1251.8L1013.4 1335.8M981.4 1251.8L899.4 1288.6M945.2 1215.6L908.4 1297.6M945.2 1215.6L861.2 1183.6M945.2 1164.4L861.2 1196.4M945.2 1164.4L908.4 1082.4M981.4 1128.2L899.4 1091.4M981.4 1128.2L1013.4 1044.2M1032.6 1128.2L1000.6 1044.2M1032.6 1128.2L1114.6 1091.4M1068.8 1164.4L1105.6 1082.4M1068.8 1164.4L1152.8 1196.4M1031 1199.9L1016.9 1214M1016.9 1214L997.1 1214M997.1 1214L983 1199.9M983 1199.9L983 1180.1M983 1180.1L997.1 1166M997.1 1166L1016.9 1166M1016.9 1166L1031 1180.1M1031 1180.1L1031 1199.9M945 1443L1069 1443M945 1393L1069 1393M945.5 1391.8L1033.2 1479.5M980.8 1356.5L1068.5 1444.2M982 1356L982 1480M1032 1356L1032 1480M1033.2 1356.5L945.5 1444.2M1068.5 1391.8L980.8 1479.5M1068.8 1443.6L1152.8 1411.6M1068.8 1443.6L1105.6 1525.6M1032.6 1479.8L1114.6 1516.6M1032.6 1479.8L1000.6 1563.8M981.4 1479.8L1013.4 1563.8M981.4 1479.8L899.4 1516.6M945.2 1443.6L908.4 1525.6M945.2 1443.6L861.2 1411.6M945.2 1392.4L861.2 1424.4M945.2 1392.4L908.4 1310.4M981.4 1356.2L899.4 1319.4M981.4 1356.2L1013.4 1272.2M1032.6 1356.2L1000.6 1272.2M1032.6 1356.2L1114.6 1319.4M1068.8 1392.4L1105.6 1310.4M1068.8 1392.4L1152.8 1424.4M1031 1427.9L1016.9 1442M1016.9 1442L997.1 1442M997.1 1442L983 1427.9M983 1427.9L983 1408.1M983 1408.1L997.1 1394M997.1 1394L1016.9 1394M1016.9 1394L1031 1408.1M1031 1408.1L1031 1427.9M945 1671L1069 1671M945 1621L1069 1621M945.5 1619.8L1033.2 1707.5M980.8 1584.5L1068.5 1672.2M982 1584L982 1708M1032 1584L1032 1708M1033.2 1584.5L945.5 1672.2M1068.5 1619.8L980.8 1707.5M1068.8 1671.6L1152.8 1639.6M1068.8 1671.6L1105.6 1753.6M1032.6 1707.8L1114.6 1744.6M1032.6 1707.8L1000.6 1791.8M981.4 1707.8L1013.4 1791.8M981.4 1707.8L899.4 1744.6M945.2 1671.6L908.4 1753.6M945.2 1671.6L861.2 1639.6M945.2 1620.4L861.2 1652.4M945.2 1620.4L908.4 1538.4M981.4 1584.2L899.4 1547.4M981.4 1584.2L1013.4 1500.2M1032.6 1584.2L1000.6 1500.2M1032.6 1584.2L1114.6 1547.4M1068.8 1620.4L1105.6 1538.4M1068.8 1620.4L1152.8 1652.4M1031 1655.9L1016.9 1670M1016.9 1670L997.1 1670M997.1 1670L983 1655.9M983 1655.9L983 1636.1M983 1636.1L997.1 1622M997.1 1622L1016.9 1622M1016.9 1622L1031 1636.1M1031 1636.1L1031 1655.9M945 1899L1069 1899M945 1849L1069 1849M945.5 1847.8L1033.2 1935.5M980.8 1812.5L1068.5 1900.2M982 1812L982 1936M1032 1812L1032 1936M1033.2 1812.5L945.5 1900.2M1068.5 1847.8L980.8 1935.5M1068.8 1899.6L1152.8 1867.6M1068.8 1899.6L1105.6 1981.6M1032.6 1935.8L1114.6 1972.6M1032.6 1935.8L1000.6 2019.8M981.4 1935.8L1013.4 2019.8M981.4 1935.8L899.4 1972.6M945.2 1899.6L908.4 1981.6M945.2 1899.6L861.2 1867.6M945.2 1848.4L861.2 1880.4M945.2 1848.4L908.4 1766.4M981.4 1812.2L899.4 1775.4M981.4 1812.2L1013.4 1728.2M1032.6 1812.2L1000.6 1728.2M1032.6 1812.2L1114.6 1775.4M1068.8 1848.4L1105.6 1766.4M1068.8 1848.4L1152.8 1880.4M1031 1883.9L1016.9 1898M1016.9 1898L997.1 1898M997.1 1898L983 1883.9M983 1883.9L983 1864.1M983 1864.1L997.1 1850M997.1 1850L1016.9 1850M1016.9 1850L1031 1864.1M1031 1864.1L1031 1883.9M945 2127L1069 2127M945 2077L1069 2077M945.5 2075.8L1033.2 2163.5M980.8 2040.5L1068.5 2128.2M982 2040L982 2164M1032 2040L1032 2164M1033.2 2040.5L945.5 2128.2M1068.5 2075.8L980.8 2163.5M1068.8 2127.6L1152.8 2095.6M1068.8 2127.6L1105.6 2209.6M1032.6 2163.8L1114.6 2200.6M1032.6 2163.8L1000.6 2247.8M981.4 2163.8L1013.4 2247.8M981.4 2163.8L899.4 2200.6M945.2 2127.6L908.4 2209.6M945.2 2127.6L861.2 2095.6M945.2 2076.4L861.2 2108.4M945.2 2076.4L908.4 1994.4M981.4 2040.2L899.4 2003.4M981.4 2040.2L1013.4 1956.2M1032.6 2040.2L1000.6 1956.2M1032.6 2040.2L1114.6 2003.4M1068.8 2076.4L1105.6 1994.4M1068.8 2076.4L1152.8 2108.4M1031 2111.9L1016.9 2126M1016.9 2126L997.1 2126M997.1 2126L983 2111.9M983 2111.9L983 2092.1M983 2092.1L997.1 2078M997.1 2078L1016.9 2078M1016.9 2078L1031 2092.1M1031 2092.1L1031 2111.9M945 2355L1069 2355M945 2305L1069 2305M945.5 2303.8L1033.2 2391.5M980.8 2268.5L1068.5 2356.2M982 2268L982 2392M1032 2268L1032 2392M1033.2 2268.5L945.5 2356.2M1068.5 2303.8L980.8 2391.5M1068.8 2355.6L1152.8 2323.6M1068.8 2355.6L1105.6 2437.6M1032.6 2391.8L1114.6 2428.6M1032.6 2391.8L1000.6 2475.8M981.4 2391.8L1013.4 2475.8M981.4 2391.8L899.4 2428.6M945.2 2355.6L908.4 2437.6M945.2 2355.6L861.2 2323.6M945.2 2304.4L861.2 2336.4M945.2 2304.4L908.4 2222.4M981.4 2268.2L899.4 2231.4M981.4 2268.2L1013.4 2184.2M1032.6 2268.2L1000.6 2184.2M1032.6 2268.2L1114.6 2231.4M1068.8 2304.4L1105.6 2222.4M1068.8 2304.4L1152.8 2336.4M1031 2339.9L1016.9 2354M1016.9 2354L997.1 2354M997.1 2354L983 2339.9M983 2339.9L983 2320.1M983 2320.1L997.1 2306M997.1 2306L1016.9 2306M1016.9 2306L1031 2320.1M1031 2320.1L1031 2339.9M945 2583L1069 2583M945 2533L1069 2533M945.5 2531.8L1033.2 2619.5M980.8 2496.5L1068.5 2584.2M982 2496L982 2620M1032 2496L1032 2620M1033.2 2496.5L945.5 2584.2M1068.5 2531.8L980.8 2619.5M1068.8 2583.6L1152.8 2551.6M1068.8 2583.6L1105.6 2665.6M1032.6 2619.8L1114.6 2656.6M1032.6 2619.8L1000.6 2703.8M981.4 2619.8L1013.4 2703.8M981.4 2619.8L899.4 2656.6M945.2 2583.6L908.4 2665.6M945.2 2583.6L861.2 2551.6M945.2 2532.4L861.2 2564.4M945.2 2532.4L908.4 2450.4M981.4 2496.2L899.4 2459.4M981.4 2496.2L1013.4 2412.2M1032.6 2496.2L1000.6 2412.2M1032.6 2496.2L1114.6 2459.4M1068.8 2532.4L1105.6 2450.4M1068.8 2532.4L1152.8 2564.4M1031 2567.9L1016.9 2582M1016.9 2582L997.1 2582M997.1 2582L983 2567.9M983 2567.9L983 2548.1M983 2548.1L997.1 2534M997.1 2534L1016.9 2534M1016.9 2534L1031 2548.1M1031 2548.1L1031 2567.9M945 2811L1069 2811M945 2761L1069 2761M945.5 2759.8L1033.2 2847.5M980.8 2724.5L1068.5 2812.2M982 2724L982 2848M1032 2724L1032 2848M1033.2 2724.5L945.5 2812.2M1068.5 2759.8L980.8 2847.5M1068.8 2811.6L1152.8 2779.6M1068.8 2811.6L1105.6 2893.6M1032.6 2847.8L1114.6 2884.6M1032.6 2847.8L1000.6 2931.8M981.4 2847.8L1013.4 2931.8M981.4 2847.8L899.4 2884.6M945.2 2811.6L908.4 2893.6M945.2 2811.6L861.2 2779.6M945.2 2760.4L861.2 2792.4M945.2 2760.4L908.4 2678.4M981.4 2724.2L899.4 2687.4M981.4 2724.2L1013.4 2640.2M1032.6 2724.2L1000.6 2640.2M1032.6 2724.2L1114.6 2687.4M1068.8 2760.4L1105.6 2678.4M1068.8 2760.4L1152.8 2792.4M1031 2795.9L1016.9 2810M1016.9 2810L997.1 2810M997.1 2810L983 2795.9M983 2795.9L983 2776.1M983 2776.1L997.1 2762M997.1 2762L1016.9 2762M1016.9 2762L1031 2776.1M1031 2776.1L1031 2795.9M945 3039L1069 3039M945 2989L1069 2989M945.5 2987.8L1033.2 3075.5M980.8 2952.5L1068.5 3040.2M982 2952L982 3076M1032 2952L1032 3076M1033.2 2952.5L945.5 3040.2M1068.5 2987.8L980.8 3075.5M1068.8 3039.6L1152.8 3007.6M1068.8 3039.6L1105.6 3121.6M1032.6 3075.8L1114.6 3112.6M1032.6 3075.8L1000.6 3159.8M981.4 3075.8L1013.4 3159.8M981.4 3075.8L899.4 3112.6M945.2 3039.6L908.4 3121.6M945.2 3039.6L861.2 3007.6M945.2 2988.4L861.2 3020.4M945.2 2988.4L908.4 2906.4M981.4 2952.2L899.4 2915.4M981.4 2952.2L1013.4 2868.2M1032.6 2952.2L1000.6 2868.2M1032.6 2952.2L1114.6 2915.4M1068.8 2988.4L1105.6 2906.4M1068.8 2988.4L1152.8 3020.4M1031 3023.9L1016.9 3038M1016.9 3038L997.1 3038M997.1 3038L983 3023.9M983 3023.9L983 3004.1M983 3004.1L997.1 2990M997.1 2990L1016.9 2990M1016.9 2990L1031 3004.1M1031 3004.1L1031 3023.9M945 3267L1069 3267M945 3217L1069 3217M945.5 3215.8L1033.2 3303.5M980.8 3180.5L1068.5 3268.2M982 3180L982 3304M1032 3180L1032 3304M1033.2 3180.5L945.5 3268.2M1068.5 3215.8L980.8 3303.5M1068.8 3267.6L1152.8 3235.6M1068.8 3267.6L1105.6 3349.6M1032.6 3303.8L1114.6 3340.6M1032.6 3303.8L1000.6 3387.8M981.4 3303.8L1013.4 3387.8M981.4 3303.8L899.4 3340.6M945.2 3267.6L908.4 3349.6M945.2 3267.6L861.2 3235.6M945.2 3216.4L861.2 3248.4M945.2 3216.4L908.4 3134.4M981.4 3180.2L899.4 3143.4M981.4 3180.2L1013.4 3096.2M1032.6 3180.2L1000.6 3096.2M1032.6 3180.2L1114.6 3143.4M1068.8 3216.4L1105.6 3134.4M1068.8 3216.4L1152.8 3248.4M1031 3251.9L1016.9 3266M1016.9 3266L997.1 3266M997.1 3266L983 3251.9M983 3251.9L983 3232.1M983 3232.1L997.1 3218M997.1 3218L1016.9 3218M1016.9 3218L1031 3232.1M1031 3232.1L1031 3251.9M945 3495L1069 3495M945 3445L1069 3445M945.5 3443.8L1033.2 3531.5M980.8 3408.5L1068.5 3496.2M982 3408L982 3532M1032 3408L1032 3532M1033.2 3408.5L945.5 3496.2M1068.5 3443.8L980.8 3531.5M1068.8 3495.6L1152.8 3463.6M1068.8 3495.6L1105.6 3577.6M1032.6 3531.8L1114.6 3568.6M1032.6 3531.8L1000.6 3615.8M981.4 3531.8L1013.4 3615.8M981.4 3531.8L899.4 3568.6M945.2 3495.6L908.4 3577.6M945.2 3495.6L861.2 3463.6M945.2 3444.4L861.2 3476.4M945.2 3444.4L908.4 3362.4M981.4 3408.2L899.4 3371.4M981.4 3408.2L1013.4 3324.2M1032.6 3408.2L1000.6 3324.2M1032.6 3408.2L1114.6 3371.4M1068.8 3444.4L1105.6 3362.4M1068.8 3444.4L1152.8 3476.4M1031 3479.9L1016.9 3494M1016.9 3494L997.1 3494M997.1 3494L983 3479.9M983 3479.9L983 3460.1M983 3460.1L997.1 3446M997.1 3446L1016.9 3446M1016.9 3446L1031 3460.1M1031 3460.1L1031 3479.9M945 3723L1069 3723M945 3673L1069 3673M945.5 3671.8L1033.2 3759.5M980.8 3636.5L1068.5 3724.2M982 3636L982 3760M1032 3636L1032 3760M1033.2 3636.5L945.5 3724.2M1068.5 3671.8L980.8 3759.5M1068.8 3723.6L1152.8 3691.6M1068.8 3723.6L1105.6 3805.6M1032.6 3759.8L1114.6 3796.6M1032.6 3759.8L1000.6 3843.8M981.4 3759.8L1013.4 3843.8M981.4 3759.8L899.4 3796.6M945.2 3723.6L908.4 3805.6M945.2 3723.6L861.2 3691.6M945.2 3672.4L861.2 3704.4M945.2 3672.4L908.4 3590.4M981.4 3636.2L899.4 3599.4M981.4 3636.2L1013.4 3552.2M1032.6 3636.2L1000.6 3552.2M1032.6 3636.2L1114.6 3599.4M1068.8 3672.4L1105.6 3590.4M1068.8 3672.4L1152.8 3704.4M1031 3707.9L1016.9 3722M1016.9 3722L997.1 3722M997.1 3722L983 3707.9M983 3707.9L983 3688.1M983 3688.1L997.1 3674M997.1 3674L1016.9 3674M1016.9 3674L1031 3688.1M1031 3688.1L1031 3707.9M1179 -153L1303 -153M1179 -203L1303 -203M1179.5 -204.2L1267.2 -116.5M1214.8 -239.5L1302.5 -151.8M1216 -240L1216 -116M1266 -240L1266 -116M1267.2 -239.5L1179.5 -151.8M1302.5 -204.2L1214.8 -116.5M1302.8 -152.4L1386.8 -184.4M1302.8 -152.4L1339.6 -70.4M1266.6 -116.2L1348.6 -79.4M1266.6 -116.2L1234.6 -32.2M1215.4 -116.2L1247.4 -32.2M1215.4 -116.2L1133.4 -79.4M1179.2 -152.4L1142.4 -70.4M1179.2 -152.4L1095.2 -184.4M1179.2 -203.6L1095.2 -171.6M1179.2 -203.6L1142.4 -285.6M1215.4 -239.8L1133.4 -276.6M1215.4 -239.8L1247.4 -323.8M1266.6 -239.8L1234.6 -323.8M1266.6 -239.8L1348.6 -276.6M1302.8 -203.6L1339.6 -285.6M1302.8 -203.6L1386.8 -171.6M1241 -211L1248.6 -196.3M1248.6 -196.3L1264.3 -201.3M1264.3 -201.3L1259.3 -185.6M1259.3 -185.6L1274 -178M1274 -178L1259.3 -170.4M1259.3 -170.4L1264.3 -154.7M1264.3 -154.7L1248.6 -159.7M1248.6 -159.7L1241 -145M1241 -145L1233.4 -159.7M1233.4 -159.7L1217.7 -154.7M1217.7 -154.7L1222.7 -170.4M1222.7 -170.4L1208 -178M1208 -178L1222.7 -185.6M1222.7 -185.6L1217.7 -201.3M1217.7 -201.3L1233.4 -196.3M1233.4 -196.3L1241 -211M1179 75L1303 75M1179 25L1303 25M1179.5 23.8L1267.2 111.5M1214.8 -11.5L1302.5 76.2M1216 -12L1216 112M1266 -12L1266 112M1267.2 -11.5L1179.5 76.2M1302.5 23.8L1214.8 111.5M1302.8 75.6L1386.8 43.6M1302.8 75.6L1339.6 157.6M1266.6 111.8L1348.6 148.6M1266.6 111.8L1234.6 195.8M1215.4 111.8L1247.4 195.8M1215.4 111.8L1133.4 148.6M1179.2 75.6L1142.4 157.6M1179.2 75.6L1095.2 43.6M1179.2 24.4L1095.2 56.4M1179.2 24.4L1142.4 -57.6M1215.4 -11.8L1133.4 -48.6M1215.4 -11.8L1247.4 -95.8M1266.6 -11.8L1234.6 -95.8M1266.6 -11.8L1348.6 -48.6M1302.8 24.4L1339.6 -57.6M1302.8 24.4L1386.8 56.4M1241 17L1248.6 31.7M1248.6 31.7L1264.3 26.7M1264.3 26.7L1259.3 42.4M1259.3 42.4L1274 50M1274 50L1259.3 57.6M1259.3 57.6L1264.3 73.3M1264.3 73.3L1248.6 68.3M1248.6 68.3L1241 83M1241 83L1233.4 68.3M1233.4 68.3L1217.7 73.3M1217.7 73.3L1222.7 57.6M1222.7 57.6L1208 50M1208 50L1222.7 42.4M1222.7 42.4L1217.7 26.7M1217.7 26.7L1233.4 31.7M1233.4 31.7L1241 17M1179 303L1303 303M1179 253L1303 253M1179.5 251.8L1267.2 339.5M1214.8 216.5L1302.5 304.2M1216 216L1216 340M1266 216L1266 340M1267.2 216.5L1179.5 304.2M1302.5 251.8L1214.8 339.5M1302.8 303.6L1386.8 271.6M1302.8 303.6L1339.6 385.6M1266.6 339.8L1348.6 376.6M1266.6 339.8L1234.6 423.8M1215.4 339.8L1247.4 423.8M1215.4 339.8L1133.4 376.6M1179.2 303.6L1142.4 385.6M1179.2 303.6L1095.2 271.6M1179.2 252.4L1095.2 284.4M1179.2 252.4L1142.4 170.4M1215.4 216.2L1133.4 179.4M1215.4 216.2L1247.4 132.2M1266.6 216.2L1234.6 132.2M1266.6 216.2L1348.6 179.4M1302.8 252.4L1339.6 170.4M1302.8 252.4L1386.8 284.4M1241 245L1248.6 259.7M1248.6 259.7L1264.3 254.7M1264.3 254.7L1259.3 270.4M1259.3 270.4L1274 278M1274 278L1259.3 285.6M1259.3 285.6L1264.3 301.3M1264.3 301.3L1248.6 296.3M1248.6 296.3L1241 311M1241 311L1233.4 296.3M1233.4 296.3L1217.7 301.3M1217.7 301.3L1222.7 285.6M1222.7 285.6L1208 278M1208 278L1222.7 270.4M1222.7 270.4L1217.7 254.7M1217.7 254.7L1233.4 259.7M1233.4 259.7L1241 245M1179 531L1303 531M1179 481L1303 481M1179.5 479.8L1267.2 567.5M1214.8 444.5L1302.5 532.2M1216 444L1216 568M1266 444L1266 568M1267.2 444.5L1179.5 532.2M1302.5 479.8L1214.8 567.5M1302.8 531.6L1386.8 499.6M1302.8 531.6L1339.6 613.6M1266.6 567.8L1348.6 604.6M1266.6 567.8L1234.6 651.8M1215.4 567.8L1247.4 651.8M1215.4 567.8L1133.4 604.6M1179.2 531.6L1142.4 613.6M1179.2 531.6L1095.2 499.6M1179.2 480.4L1095.2 512.4M1179.2 480.4L1142.4 398.4M1215.4 444.2L1133.4 407.4M1215.4 444.2L1247.4 360.2M1266.6 444.2L1234.6 360.2M1266.6 444.2L1348.6 407.4M1302.8 480.4L1339.6 398.4M1302.8 480.4L1386.8 512.4M1241 473L1248.6 487.7M1248.6 487.7L1264.3 482.7M1264.3 482.7L1259.3 498.4M1259.3 498.4L1274 506M1274 506L1259.3 513.6M1259.3 513.6L1264.3 529.3M1264.3 529.3L1248.6 524.3M1248.6 524.3L1241 539M1241 539L1233.4 524.3M1233.4 524.3L1217.7 529.3M1217.7 529.3L1222.7 513.6M1222.7 513.6L1208 506M1208 506L1222.7 498.4M1222.7 498.4L1217.7 482.7M1217.7 482.7L1233.4 487.7M1233.4 487.7L1241 473M1179 759L1303 759M1179 709L1303 709M1179.5 707.8L1267.2 795.5M1214.8 672.5L1302.5 760.2M1216 672L1216 796M1266 672L1266 796M1267.2 672.5L1179.5 760.2M1302.5 707.8L1214.8 795.5M1302.8 759.6L1386.8 727.6M1302.8 759.6L1339.6 841.6M1266.6 795.8L1348.6 832.6M1266.6 795.8L1234.6 879.8M1215.4 795.8L1247.4 879.8M1215.4 795.8L1133.4 832.6M1179.2 759.6L1142.4 841.6M1179.2 759.6L1095.2 727.6M1179.2 708.4L1095.2 740.4M1179.2 708.4L1142.4 626.4M1215.4 672.2L1133.4 635.4M1215.4 672.2L1247.4 588.2M1266.6 672.2L1234.6 588.2M1266.6 672.2L1348.6 635.4M1302.8 708.4L1339.6 626.4M1302.8 708.4L1386.8 740.4M1241 701L1248.6 715.7M1248.6 715.7L1264.3 710.7M1264.3 710.7L1259.3 726.4M1259.3 726.4L1274 734M1274 734L1259.3 741.6M1259.3 741.6L1264.3 757.3M1264.3 757.3L1248.6 752.3M1248.6 752.3L1241 767M1241 767L1233.4 752.3M1233.4 752.3L1217.7 757.3M1217.7 757.3L1222.7 741.6M1222.7 741.6L1208 734M1208 734L1222.7 726.4M1222.7 726.4L1217.7 710.7M1217.7 710.7L1233.4 715.7M1233.4 715.7L1241 701M1179 987L1303 987M1179 937L1303 937M1179.5 935.8L1267.2 1023.5M1214.8 900.5L1302.5 988.2M1216 900L1216 1024M1266 900L1266 1024M1267.2 900.5L1179.5 988.2M1302.5 935.8L1214.8 1023.5M1302.8 987.6L1386.8 955.6M1302.8 987.6L1339.6 1069.6M1266.6 1023.8L1348.6 1060.6M1266.6 1023.8L1234.6 1107.8M1215.4 1023.8L1247.4 1107.8M1215.4 1023.8L1133.4 1060.6M1179.2 987.6L1142.4 1069.6M1179.2 987.6L1095.2 955.6M1179.2 936.4L1095.2 968.4M1179.2 936.4L1142.4 854.4M1215.4 900.2L1133.4 863.4M1215.4 900.2L1247.4 816.2M1266.6 900.2L1234.6 816.2M1266.6 900.2L1348.6 863.4M1302.8 936.4L1339.6 854.4M1302.8 936.4L1386.8 968.4M1241 929L1248.6 943.7M1248.6 943.7L1264.3 938.7M1264.3 938.7L1259.3 954.4M1259.3 954.4L1274 962M1274 962L1259.3 969.6M1259.3 969.6L1264.3 985.3M1264.3 985.3L1248.6 980.3M1248.6 980.3L1241 995M1241 995L1233.4 980.3M1233.4 980.3L1217.7 985.3M1217.7 985.3L1222.7 969.6M1222.7 969.6L1208 962M1208 962L1222.7 954.4M1222.7 954.4L1217.7 938.7M1217.7 938.7L1233.4 943.7M1233.4 943.7L1241 929M1179 1215L1303 1215M1179 1165L1303 1165M1179.5 1163.8L1267.2 1251.5M1214.8 1128.5L1302.5 1216.2M1216 1128L1216 1252M1266 1128L1266 1252M1267.2 1128.5L1179.5 1216.2M1302.5 1163.8L1214.8 1251.5M1302.8 1215.6L1386.8 1183.6M1302.8 1215.6L1339.6 1297.6M1266.6 1251.8L1348.6 1288.6M1266.6 1251.8L1234.6 1335.8M1215.4 1251.8L1247.4 1335.8M1215.4 1251.8L1133.4 1288.6M1179.2 1215.6L1142.4 1297.6M1179.2 1215.6L1095.2 1183.6M1179.2 1164.4L1095.2 1196.4M1179.2 1164.4L1142.4 1082.4M1215.4 1128.2L1133.4 1091.4M1215.4 1128.2L1247.4 1044.2M1266.6 1128.2L1234.6 1044.2M1266.6 1128.2L1348.6 1091.4M1302.8 1164.4L1339.6 1082.4M1302.8 1164.4L1386.8 1196.4M1241 1157L1248.6 1171.7M1248.6 1171.7L1264.3 1166.7M1264.3 1166.7L1259.3 1182.4M1259.3 1182.4L1274 1190M1274 1190L1259.3 1197.6M1259.3 1197.6L1264.3 1213.3M1264.3 1213.3L1248.6 1208.3M1248.6 1208.3L1241 1223M1241 1223L1233.4 1208.3M1233.4 1208.3L1217.7 1213.3M1217.7 1213.3L1222.7 1197.6M1222.7 1197.6L1208 1190M1208 1190L1222.7 1182.4M1222.7 1182.4L1217.7 1166.7M1217.7 1166.7L1233.4 1171.7M1233.4 1171.7L1241 1157M1179 1443L1303 1443M1179 1393L1303 1393M1179.5 1391.8L1267.2 1479.5M1214.8 1356.5L1302.5 1444.2M1216 1356L1216 1480M1266 1356L1266 1480M1267.2 1356.5L1179.5 1444.2M1302.5 1391.8L1214.8 1479.5M1302.8 1443.6L1386.8 1411.6M1302.8 1443.6L1339.6 1525.6M1266.6 1479.8L1348.6 1516.6M1266.6 1479.8L1234.6 1563.8M1215.4 1479.8L1247.4 1563.8M1215.4 1479.8L1133.4 1516.6M1179.2 1443.6L1142.4 1525.6M1179.2 1443.6L1095.2 1411.6M1179.2 1392.4L1095.2 1424.4M1179.2 1392.4L1142.4 1310.4M1215.4 1356.2L1133.4 1319.4M1215.4 1356.2L1247.4 1272.2M1266.6 1356.2L1234.6 1272.2M1266.6 1356.2L1348.6 1319.4M1302.8 1392.4L1339.6 1310.4M1302.8 1392.4L1386.8 1424.4M1241 1385L1248.6 1399.7M1248.6 1399.7L1264.3 1394.7M1264.3 1394.7L1259.3 1410.4M1259.3 1410.4L1274 1418M1274 1418L1259.3 1425.6M1259.3 1425.6L1264.3 1441.3M1264.3 1441.3L1248.6 1436.3M1248.6 1436.3L1241 1451M1241 1451L1233.4 1436.3M1233.4 1436.3L1217.7 1441.3M1217.7 1441.3L1222.7 1425.6M1222.7 1425.6L1208 1418M1208 1418L1222.7 1410.4M1222.7 1410.4L1217.7 1394.7M1217.7 1394.7L1233.4 1399.7M1233.4 1399.7L1241 1385M1179 1671L1303 1671M1179 1621L1303 1621M1179.5 1619.8L1267.2 1707.5M1214.8 1584.5L1302.5 1672.2M1216 1584L1216 1708M1266 1584L1266 1708M1267.2 1584.5L1179.5 1672.2M1302.5 1619.8L1214.8 1707.5M1302.8 1671.6L1386.8 1639.6M1302.8 1671.6L1339.6 1753.6M1266.6 1707.8L1348.6 1744.6M1266.6 1707.8L1234.6 1791.8M1215.4 1707.8L1247.4 1791.8M1215.4 1707.8L1133.4 1744.6M1179.2 1671.6L1142.4 1753.6M1179.2 1671.6L1095.2 1639.6M1179.2 1620.4L1095.2 1652.4M1179.2 1620.4L1142.4 1538.4M1215.4 1584.2L1133.4 1547.4M1215.4 1584.2L1247.4 1500.2M1266.6 1584.2L1234.6 1500.2M1266.6 1584.2L1348.6 1547.4M1302.8 1620.4L1339.6 1538.4M1302.8 1620.4L1386.8 1652.4M1241 1613L1248.6 1627.7M1248.6 1627.7L1264.3 1622.7M1264.3 1622.7L1259.3 1638.4M1259.3 1638.4L1274 1646M1274 1646L1259.3 1653.6M1259.3 1653.6L1264.3 1669.3M1264.3 1669.3L1248.6 1664.3M1248.6 1664.3L1241 1679M1241 1679L1233.4 1664.3M1233.4 1664.3L1217.7 1669.3M1217.7 1669.3L1222.7 1653.6M1222.7 1653.6L1208 1646M1208 1646L1222.7 1638.4M1222.7 1638.4L1217.7 1622.7M1217.7 1622.7L1233.4 1627.7M1233.4 1627.7L1241 1613M1179 1899L1303 1899M1179 1849L1303 1849M1179.5 1847.8L1267.2 1935.5M1214.8 1812.5L1302.5 1900.2M1216 1812L1216 1936M1266 1812L1266 1936M1267.2 1812.5L1179.5 1900.2M1302.5 1847.8L1214.8 1935.5M1302.8 1899.6L1386.8 1867.6M1302.8 1899.6L1339.6 1981.6M1266.6 1935.8L1348.6 1972.6M1266.6 1935.8L1234.6 2019.8M1215.4 1935.8L1247.4 2019.8M1215.4 1935.8L1133.4 1972.6M1179.2 1899.6L1142.4 1981.6M1179.2 1899.6L1095.2 1867.6M1179.2 1848.4L1095.2 1880.4M1179.2 1848.4L1142.4 1766.4M1215.4 1812.2L1133.4 1775.4M1215.4 1812.2L1247.4 1728.2M1266.6 1812.2L1234.6 1728.2M1266.6 1812.2L1348.6 1775.4M1302.8 1848.4L1339.6 1766.4M1302.8 1848.4L1386.8 1880.4M1241 1841L1248.6 1855.7M1248.6 1855.7L1264.3 1850.7M1264.3 1850.7L1259.3 1866.4M1259.3 1866.4L1274 1874M1274 1874L1259.3 1881.6M1259.3 1881.6L1264.3 1897.3M1264.3 1897.3L1248.6 1892.3M1248.6 1892.3L1241 1907M1241 1907L1233.4 1892.3M1233.4 1892.3L1217.7 1897.3M1217.7 1897.3L1222.7 1881.6M1222.7 1881.6L1208 1874M1208 1874L1222.7 1866.4M1222.7 1866.4L1217.7 1850.7M1217.7 1850.7L1233.4 1855.7M1233.4 1855.7L1241 1841M1179 2127L1303 2127M1179 2077L1303 2077M1179.5 2075.8L1267.2 2163.5M1214.8 2040.5L1302.5 2128.2M1216 2040L1216 2164M1266 2040L1266 2164M1267.2 2040.5L1179.5 2128.2M1302.5 2075.8L1214.8 2163.5M1302.8 2127.6L1386.8 2095.6M1302.8 2127.6L1339.6 2209.6M1266.6 2163.8L1348.6 2200.6M1266.6 2163.8L1234.6 2247.8M1215.4 2163.8L1247.4 2247.8M1215.4 2163.8L1133.4 2200.6M1179.2 2127.6L1142.4 2209.6M1179.2 2127.6L1095.2 2095.6M1179.2 2076.4L1095.2 2108.4M1179.2 2076.4L1142.4 1994.4M1215.4 2040.2L1133.4 2003.4M1215.4 2040.2L1247.4 1956.2M1266.6 2040.2L1234.6 1956.2M1266.6 2040.2L1348.6 2003.4M1302.8 2076.4L1339.6 1994.4M1302.8 2076.4L1386.8 2108.4M1241 2069L1248.6 2083.7M1248.6 2083.7L1264.3 2078.7M1264.3 2078.7L1259.3 2094.4M1259.3 2094.4L1274 2102M1274 2102L1259.3 2109.6M1259.3 2109.6L1264.3 2125.3M1264.3 2125.3L1248.6 2120.3M1248.6 2120.3L1241 2135M1241 2135L1233.4 2120.3M1233.4 2120.3L1217.7 2125.3M1217.7 2125.3L1222.7 2109.6M1222.7 2109.6L1208 2102M1208 2102L1222.7 2094.4M1222.7 2094.4L1217.7 2078.7M1217.7 2078.7L1233.4 2083.7M1233.4 2083.7L1241 2069M1179 2355L1303 2355M1179 2305L1303 2305M1179.5 2303.8L1267.2 2391.5M1214.8 2268.5L1302.5 2356.2M1216 2268L1216 2392M1266 2268L1266 2392M1267.2 2268.5L1179.5 2356.2M1302.5 2303.8L1214.8 2391.5M1302.8 2355.6L1386.8 2323.6M1302.8 2355.6L1339.6 2437.6M1266.6 2391.8L1348.6 2428.6M1266.6 2391.8L1234.6 2475.8M1215.4 2391.8L1247.4 2475.8M1215.4 2391.8L1133.4 2428.6M1179.2 2355.6L1142.4 2437.6M1179.2 2355.6L1095.2 2323.6M1179.2 2304.4L1095.2 2336.4M1179.2 2304.4L1142.4 2222.4M1215.4 2268.2L1133.4 2231.4M1215.4 2268.2L1247.4 2184.2M1266.6 2268.2L1234.6 2184.2M1266.6 2268.2L1348.6 2231.4M1302.8 2304.4L1339.6 2222.4M1302.8 2304.4L1386.8 2336.4M1241 2297L1248.6 2311.7M1248.6 2311.7L1264.3 2306.7M1264.3 2306.7L1259.3 2322.4M1259.3 2322.4L1274 2330M1274 2330L1259.3 2337.6M1259.3 2337.6L1264.3 2353.3M1264.3 2353.3L1248.6 2348.3M1248.6 2348.3L1241 2363M1241 2363L1233.4 2348.3M1233.4 2348.3L1217.7 2353.3M1217.7 2353.3L1222.7 2337.6M1222.7 2337.6L1208 2330M1208 2330L1222.7 2322.4M1222.7 2322.4L1217.7 2306.7M1217.7 2306.7L1233.4 2311.7M1233.4 2311.7L1241 2297M1179 2583L1303 2583M1179 2533L1303 2533M1179.5 2531.8L1267.2 2619.5M1214.8 2496.5L1302.5 2584.2M1216 2496L1216 2620M1266 2496L1266 2620M1267.2 2496.5L1179.5 2584.2M1302.5 2531.8L1214.8 2619.5M1302.8 2583.6L1386.8 2551.6M1302.8 2583.6L1339.6 2665.6M1266.6 2619.8L1348.6 2656.6M1266.6 2619.8L1234.6 2703.8M1215.4 2619.8L1247.4 2703.8M1215.4 2619.8L1133.4 2656.6M1179.2 2583.6L1142.4 2665.6M1179.2 2583.6L1095.2 2551.6M1179.2 2532.4L1095.2 2564.4M1179.2 2532.4L1142.4 2450.4M1215.4 2496.2L1133.4 2459.4M1215.4 2496.2L1247.4 2412.2M1266.6 2496.2L1234.6 2412.2M1266.6 2496.2L1348.6 2459.4M1302.8 2532.4L1339.6 2450.4M1302.8 2532.4L1386.8 2564.4M1241 2525L1248.6 2539.7M1248.6 2539.7L1264.3 2534.7M1264.3 2534.7L1259.3 2550.4M1259.3 2550.4L1274 2558M1274 2558L1259.3 2565.6M1259.3 2565.6L1264.3 2581.3M1264.3 2581.3L1248.6 2576.3M1248.6 2576.3L1241 2591M1241 2591L1233.4 2576.3M1233.4 2576.3L1217.7 2581.3M1217.7 2581.3L1222.7 2565.6M1222.7 2565.6L1208 2558M1208 2558L1222.7 2550.4M1222.7 2550.4L1217.7 2534.7M1217.7 2534.7L1233.4 2539.7M1233.4 2539.7L1241 2525M1179 2811L1303 2811M1179 2761L1303 2761M1179.5 2759.8L1267.2 2847.5M1214.8 2724.5L1302.5 2812.2M1216 2724L1216 2848M1266 2724L1266 2848M1267.2 2724.5L1179.5 2812.2M1302.5 2759.8L1214.8 2847.5M1302.8 2811.6L1386.8 2779.6M1302.8 2811.6L1339.6 2893.6M1266.6 2847.8L1348.6 2884.6M1266.6 2847.8L1234.6 2931.8M1215.4 2847.8L1247.4 2931.8M1215.4 2847.8L1133.4 2884.6M1179.2 2811.6L1142.4 2893.6M1179.2 2811.6L1095.2 2779.6M1179.2 2760.4L1095.2 2792.4M1179.2 2760.4L1142.4 2678.4M1215.4 2724.2L1133.4 2687.4M1215.4 2724.2L1247.4 2640.2M1266.6 2724.2L1234.6 2640.2M1266.6 2724.2L1348.6 2687.4M1302.8 2760.4L1339.6 2678.4M1302.8 2760.4L1386.8 2792.4M1241 2753L1248.6 2767.7M1248.6 2767.7L1264.3 2762.7M1264.3 2762.7L1259.3 2778.4M1259.3 2778.4L1274 2786M1274 2786L1259.3 2793.6M1259.3 2793.6L1264.3 2809.3M1264.3 2809.3L1248.6 2804.3M1248.6 2804.3L1241 2819M1241 2819L1233.4 2804.3M1233.4 2804.3L1217.7 2809.3M1217.7 2809.3L1222.7 2793.6M1222.7 2793.6L1208 2786M1208 2786L1222.7 2778.4M1222.7 2778.4L1217.7 2762.7M1217.7 2762.7L1233.4 2767.7M1233.4 2767.7L1241 2753M1179 3039L1303 3039M1179 2989L1303 2989M1179.5 2987.8L1267.2 3075.5M1214.8 2952.5L1302.5 3040.2M1216 2952L1216 3076M1266 2952L1266 3076M1267.2 2952.5L1179.5 3040.2M1302.5 2987.8L1214.8 3075.5M1302.8 3039.6L1386.8 3007.6M1302.8 3039.6L1339.6 3121.6M1266.6 3075.8L1348.6 3112.6M1266.6 3075.8L1234.6 3159.8M1215.4 3075.8L1247.4 3159.8M1215.4 3075.8L1133.4 3112.6M1179.2 3039.6L1142.4 3121.6M1179.2 3039.6L1095.2 3007.6M1179.2 2988.4L1095.2 3020.4M1179.2 2988.4L1142.4 2906.4M1215.4 2952.2L1133.4 2915.4M1215.4 2952.2L1247.4 2868.2M1266.6 2952.2L1234.6 2868.2M1266.6 2952.2L1348.6 2915.4M1302.8 2988.4L1339.6 2906.4M1302.8 2988.4L1386.8 3020.4M1241 2981L1248.6 2995.7M1248.6 2995.7L1264.3 2990.7M1264.3 2990.7L1259.3 3006.4M1259.3 3006.4L1274 3014M1274 3014L1259.3 3021.6M1259.3 3021.6L1264.3 3037.3M1264.3 3037.3L1248.6 3032.3M1248.6 3032.3L1241 3047M1241 3047L1233.4 3032.3M1233.4 3032.3L1217.7 3037.3M1217.7 3037.3L1222.7 3021.6M1222.7 3021.6L1208 3014M1208 3014L1222.7 3006.4M1222.7 3006.4L1217.7 2990.7M1217.7 2990.7L1233.4 2995.7M1233.4 2995.7L1241 2981M1179 3267L1303 3267M1179 3217L1303 3217M1179.5 3215.8L1267.2 3303.5M1214.8 3180.5L1302.5 3268.2M1216 3180L1216 3304M1266 3180L1266 3304M1267.2 3180.5L1179.5 3268.2M1302.5 3215.8L1214.8 3303.5M1302.8 3267.6L1386.8 3235.6M1302.8 3267.6L1339.6 3349.6M1266.6 3303.8L1348.6 3340.6M1266.6 3303.8L1234.6 3387.8M1215.4 3303.8L1247.4 3387.8M1215.4 3303.8L1133.4 3340.6M1179.2 3267.6L1142.4 3349.6M1179.2 3267.6L1095.2 3235.6M1179.2 3216.4L1095.2 3248.4M1179.2 3216.4L1142.4 3134.4M1215.4 3180.2L1133.4 3143.4M1215.4 3180.2L1247.4 3096.2M1266.6 3180.2L1234.6 3096.2M1266.6 3180.2L1348.6 3143.4M1302.8 3216.4L1339.6 3134.4M1302.8 3216.4L1386.8 3248.4M1241 3209L1248.6 3223.7M1248.6 3223.7L1264.3 3218.7M1264.3 3218.7L1259.3 3234.4M1259.3 3234.4L1274 3242M1274 3242L1259.3 3249.6M1259.3 3249.6L1264.3 3265.3M1264.3 3265.3L1248.6 3260.3M1248.6 3260.3L1241 3275M1241 3275L1233.4 3260.3M1233.4 3260.3L1217.7 3265.3M1217.7 3265.3L1222.7 3249.6M1222.7 3249.6L1208 3242M1208 3242L1222.7 3234.4M1222.7 3234.4L1217.7 3218.7M1217.7 3218.7L1233.4 3223.7M1233.4 3223.7L1241 3209M1179 3495L1303 3495M1179 3445L1303 3445M1179.5 3443.8L1267.2 3531.5M1214.8 3408.5L1302.5 3496.2M1216 3408L1216 3532M1266 3408L1266 3532M1267.2 3408.5L1179.5 3496.2M1302.5 3443.8L1214.8 3531.5M1302.8 3495.6L1386.8 3463.6M1302.8 3495.6L1339.6 3577.6M1266.6 3531.8L1348.6 3568.6M1266.6 3531.8L1234.6 3615.8M1215.4 3531.8L1247.4 3615.8M1215.4 3531.8L1133.4 3568.6M1179.2 3495.6L1142.4 3577.6M1179.2 3495.6L1095.2 3463.6M1179.2 3444.4L1095.2 3476.4M1179.2 3444.4L1142.4 3362.4M1215.4 3408.2L1133.4 3371.4M1215.4 3408.2L1247.4 3324.2M1266.6 3408.2L1234.6 3324.2M1266.6 3408.2L1348.6 3371.4M1302.8 3444.4L1339.6 3362.4M1302.8 3444.4L1386.8 3476.4M1241 3437L1248.6 3451.7M1248.6 3451.7L1264.3 3446.7M1264.3 3446.7L1259.3 3462.4M1259.3 3462.4L1274 3470M1274 3470L1259.3 3477.6M1259.3 3477.6L1264.3 3493.3M1264.3 3493.3L1248.6 3488.3M1248.6 3488.3L1241 3503M1241 3503L1233.4 3488.3M1233.4 3488.3L1217.7 3493.3M1217.7 3493.3L1222.7 3477.6M1222.7 3477.6L1208 3470M1208 3470L1222.7 3462.4M1222.7 3462.4L1217.7 3446.7M1217.7 3446.7L1233.4 3451.7M1233.4 3451.7L1241 3437M1179 3723L1303 3723M1179 3673L1303 3673M1179.5 3671.8L1267.2 3759.5M1214.8 3636.5L1302.5 3724.2M1216 3636L1216 3760M1266 3636L1266 3760M1267.2 3636.5L1179.5 3724.2M1302.5 3671.8L1214.8 3759.5M1302.8 3723.6L1386.8 3691.6M1302.8 3723.6L1339.6 3805.6M1266.6 3759.8L1348.6 3796.6M1266.6 3759.8L1234.6 3843.8M1215.4 3759.8L1247.4 3843.8M1215.4 3759.8L1133.4 3796.6M1179.2 3723.6L1142.4 3805.6M1179.2 3723.6L1095.2 3691.6M1179.2 3672.4L1095.2 3704.4M1179.2 3672.4L1142.4 3590.4M1215.4 3636.2L1133.4 3599.4M1215.4 3636.2L1247.4 3552.2M1266.6 3636.2L1234.6 3552.2M1266.6 3636.2L1348.6 3599.4M1302.8 3672.4L1339.6 3590.4M1302.8 3672.4L1386.8 3704.4M1241 3665L1248.6 3679.7M1248.6 3679.7L1264.3 3674.7M1264.3 3674.7L1259.3 3690.4M1259.3 3690.4L1274 3698M1274 3698L1259.3 3705.6M1259.3 3705.6L1264.3 3721.3M1264.3 3721.3L1248.6 3716.3M1248.6 3716.3L1241 3731M1241 3731L1233.4 3716.3M1233.4 3716.3L1217.7 3721.3M1217.7 3721.3L1222.7 3705.6M1222.7 3705.6L1208 3698M1208 3698L1222.7 3690.4M1222.7 3690.4L1217.7 3674.7M1217.7 3674.7L1233.4 3679.7M1233.4 3679.7L1241 3665M1413 -153L1537 -153M1413 -203L1537 -203M1413.5 -204.2L1501.2 -116.5M1448.8 -239.5L1536.5 -151.8M1450 -240L1450 -116M1500 -240L1500 -116M1501.2 -239.5L1413.5 -151.8M1536.5 -204.2L1448.8 -116.5M1536.8 -152.4L1620.8 -184.4M1536.8 -152.4L1573.6 -70.4M1500.6 -116.2L1582.6 -79.4M1500.6 -116.2L1468.6 -32.2M1449.4 -116.2L1481.4 -32.2M1449.4 -116.2L1367.4 -79.4M1413.2 -152.4L1376.4 -70.4M1413.2 -152.4L1329.2 -184.4M1413.2 -203.6L1329.2 -171.6M1413.2 -203.6L1376.4 -285.6M1449.4 -239.8L1367.4 -276.6M1449.4 -239.8L1481.4 -323.8M1500.6 -239.8L1468.6 -323.8M1500.6 -239.8L1582.6 -276.6M1536.8 -203.6L1573.6 -285.6M1536.8 -203.6L1620.8 -171.6M1499 -168.1L1484.9 -154M1484.9 -154L1465.1 -154M1465.1 -154L1451 -168.1M1451 -168.1L1451 -187.9M1451 -187.9L1465.1 -202M1465.1 -202L1484.9 -202M1484.9 -202L1499 -187.9M1499 -187.9L1499 -168.1M1413 75L1537 75M1413 25L1537 25M1413.5 23.8L1501.2 111.5M1448.8 -11.5L1536.5 76.2M1450 -12L1450 112M1500 -12L1500 112M1501.2 -11.5L1413.5 76.2M1536.5 23.8L1448.8 111.5M1536.8 75.6L1620.8 43.6M1536.8 75.6L1573.6 157.6M1500.6 111.8L1582.6 148.6M1500.6 111.8L1468.6 195.8M1449.4 111.8L1481.4 195.8M1449.4 111.8L1367.4 148.6M1413.2 75.6L1376.4 157.6M1413.2 75.6L1329.2 43.6M1413.2 24.4L1329.2 56.4M1413.2 24.4L1376.4 -57.6M1449.4 -11.8L1367.4 -48.6M1449.4 -11.8L1481.4 -95.8M1500.6 -11.8L1468.6 -95.8M1500.6 -11.8L1582.6 -48.6M1536.8 24.4L1573.6 -57.6M1536.8 24.4L1620.8 56.4M1499 59.9L1484.9 74M1484.9 74L1465.1 74M1465.1 74L1451 59.9M1451 59.9L1451 40.1M1451 40.1L1465.1 26M1465.1 26L1484.9 26M1484.9 26L1499 40.1M1499 40.1L1499 59.9M1413 303L1537 303M1413 253L1537 253M1413.5 251.8L1501.2 339.5M1448.8 216.5L1536.5 304.2M1450 216L1450 340M1500 216L1500 340M1501.2 216.5L1413.5 304.2M1536.5 251.8L1448.8 339.5M1536.8 303.6L1620.8 271.6M1536.8 303.6L1573.6 385.6M1500.6 339.8L1582.6 376.6M1500.6 339.8L1468.6 423.8M1449.4 339.8L1481.4 423.8M1449.4 339.8L1367.4 376.6M1413.2 303.6L1376.4 385.6M1413.2 303.6L1329.2 271.6M1413.2 252.4L1329.2 284.4M1413.2 252.4L1376.4 170.4M1449.4 216.2L1367.4 179.4M1449.4 216.2L1481.4 132.2M1500.6 216.2L1468.6 132.2M1500.6 216.2L1582.6 179.4M1536.8 252.4L1573.6 170.4M1536.8 252.4L1620.8 284.4M1499 287.9L1484.9 302M1484.9 302L1465.1 302M1465.1 302L1451 287.9M1451 287.9L1451 268.1M1451 268.1L1465.1 254M1465.1 254L1484.9 254M1484.9 254L1499 268.1M1499 268.1L1499 287.9M1413 531L1537 531M1413 481L1537 481M1413.5 479.8L1501.2 567.5M1448.8 444.5L1536.5 532.2M1450 444L1450 568M1500 444L1500 568M1501.2 444.5L1413.5 532.2M1536.5 479.8L1448.8 567.5M1536.8 531.6L1620.8 499.6M1536.8 531.6L1573.6 613.6M1500.6 567.8L1582.6 604.6M1500.6 567.8L1468.6 651.8M1449.4 567.8L1481.4 651.8M1449.4 567.8L1367.4 604.6M1413.2 531.6L1376.4 613.6M1413.2 531.6L1329.2 499.6M1413.2 480.4L1329.2 512.4M1413.2 480.4L1376.4 398.4M1449.4 444.2L1367.4 407.4M1449.4 444.2L1481.4 360.2M1500.6 444.2L1468.6 360.2M1500.6 444.2L1582.6 407.4M1536.8 480.4L1573.6 398.4M1536.8 480.4L1620.8 512.4M1499 515.9L1484.9 530M1484.9 530L1465.1 530M1465.1 530L1451 515.9M1451 515.9L1451 496.1M1451 496.1L1465.1 482M1465.1 482L1484.9 482M1484.9 482L1499 496.1M1499 496.1L1499 515.9M1413 759L1537 759M1413 709L1537 709M1413.5 707.8L1501.2 795.5M1448.8 672.5L1536.5 760.2M1450 672L1450 796M1500 672L1500 796M1501.2 672.5L1413.5 760.2M1536.5 707.8L1448.8 795.5M1536.8 759.6L1620.8 727.6M1536.8 759.6L1573.6 841.6M1500.6 795.8L1582.6 832.6M1500.6 795.8L1468.6 879.8M1449.4 795.8L1481.4 879.8M1449.4 795.8L1367.4 832.6M1413.2 759.6L1376.4 841.6M1413.2 759.6L1329.2 727.6M1413.2 708.4L1329.2 740.4M1413.2 708.4L1376.4 626.4M1449.4 672.2L1367.4 635.4M1449.4 672.2L1481.4 588.2M1500.6 672.2L1468.6 588.2M1500.6 672.2L1582.6 635.4M1536.8 708.4L1573.6 626.4M1536.8 708.4L1620.8 740.4M1499 743.9L1484.9 758M1484.9 758L1465.1 758M1465.1 758L1451 743.9M1451 743.9L1451 724.1M1451 724.1L1465.1 710M1465.1 710L1484.9 710M1484.9 710L1499 724.1M1499 724.1L1499 743.9M1413 987L1537 987M1413 937L1537 937M1413.5 935.8L1501.2 1023.5M1448.8 900.5L1536.5 988.2M1450 900L1450 1024M1500 900L1500 1024M1501.2 900.5L1413.5 988.2M1536.5 935.8L1448.8 1023.5M1536.8 987.6L1620.8 955.6M1536.8 987.6L1573.6 1069.6M1500.6 1023.8L1582.6 1060.6M1500.6 1023.8L1468.6 1107.8M1449.4 1023.8L1481.4 1107.8M1449.4 1023.8L1367.4 1060.6M1413.2 987.6L1376.4 1069.6M1413.2 987.6L1329.2 955.6M1413.2 936.4L1329.2 968.4M1413.2 936.4L1376.4 854.4M1449.4 900.2L1367.4 863.4M1449.4 900.2L1481.4 816.2M1500.6 900.2L1468.6 816.2M1500.6 900.2L1582.6 863.4M1536.8 936.4L1573.6 854.4M1536.8 936.4L1620.8 968.4M1499 971.9L1484.9 986M1484.9 986L1465.1 986M1465.1 986L1451 971.9M1451 971.9L1451 952.1M1451 952.1L1465.1 938M1465.1 938L1484.9 938M1484.9 938L1499 952.1M1499 952.1L1499 971.9M1413 1215L1537 1215M1413 1165L1537 1165M1413.5 1163.8L1501.2 1251.5M1448.8 1128.5L1536.5 1216.2M1450 1128L1450 1252M1500 1128L1500 1252M1501.2 1128.5L1413.5 1216.2M1536.5 1163.8L1448.8 1251.5M1536.8 1215.6L1620.8 1183.6M1536.8 1215.6L1573.6 1297.6M1500.6 1251.8L1582.6 1288.6M1500.6 1251.8L1468.6 1335.8M1449.4 1251.8L1481.4 1335.8M1449.4 1251.8L1367.4 1288.6M1413.2 1215.6L1376.4 1297.6M1413.2 1215.6L1329.2 1183.6M1413.2 1164.4L1329.2 1196.4M1413.2 1164.4L1376.4 1082.4M1449.4 1128.2L1367.4 1091.4M1449.4 1128.2L1481.4 1044.2M1500.6 1128.2L1468.6 1044.2M1500.6 1128.2L1582.6 1091.4M1536.8 1164.4L1573.6 1082.4M1536.8 1164.4L1620.8 1196.4M1499 1199.9L1484.9 1214M1484.9 1214L1465.1 1214M1465.1 1214L1451 1199.9M1451 1199.9L1451 1180.1M1451 1180.1L1465.1 1166M1465.1 1166L1484.9 1166M1484.9 1166L1499 1180.1M1499 1180.1L1499 1199.9M1413 1443L1537 1443M1413 1393L1537 1393M1413.5 1391.8L1501.2 1479.5M1448.8 1356.5L1536.5 1444.2M1450 1356L1450 1480M1500 1356L1500 1480M1501.2 1356.5L1413.5 1444.2M1536.5 1391.8L1448.8 1479.5M1536.8 1443.6L1620.8 1411.6M1536.8 1443.6L1573.6 1525.6M1500.6 1479.8L1582.6 1516.6M1500.6 1479.8L1468.6 1563.8M1449.4 1479.8L1481.4 1563.8M1449.4 1479.8L1367.4 1516.6M1413.2 1443.6L1376.4 1525.6M1413.2 1443.6L1329.2 1411.6M1413.2 1392.4L1329.2 1424.4M1413.2 1392.4L1376.4 1310.4M1449.4 1356.2L1367.4 1319.4M1449.4 1356.2L1481.4 1272.2M1500.6 1356.2L1468.6 1272.2M1500.6 1356.2L1582.6 1319.4M1536.8 1392.4L1573.6 1310.4M1536.8 1392.4L1620.8 1424.4M1499 1427.9L1484.9 1442M1484.9 1442L1465.1 1442M1465.1 1442L1451 1427.9M1451 1427.9L1451 1408.1M1451 1408.1L1465.1 1394M1465.1 1394L1484.9 1394M1484.9 1394L1499 1408.1M1499 1408.1L1499 1427.9M1413 1671L1537 1671M1413 1621L1537 1621M1413.5 1619.8L1501.2 1707.5M1448.8 1584.5L1536.5 1672.2M1450 1584L1450 1708M1500 1584L1500 1708M1501.2 1584.5L1413.5 1672.2M1536.5 1619.8L1448.8 1707.5M1536.8 1671.6L1620.8 1639.6M1536.8 1671.6L1573.6 1753.6M1500.6 1707.8L1582.6 1744.6M1500.6 1707.8L1468.6 1791.8M1449.4 1707.8L1481.4 1791.8M1449.4 1707.8L1367.4 1744.6M1413.2 1671.6L1376.4 1753.6M1413.2 1671.6L1329.2 1639.6M1413.2 1620.4L1329.2 1652.4M1413.2 1620.4L1376.4 1538.4M1449.4 1584.2L1367.4 1547.4M1449.4 1584.2L1481.4 1500.2M1500.6 1584.2L1468.6 1500.2M1500.6 1584.2L1582.6 1547.4M1536.8 1620.4L1573.6 1538.4M1536.8 1620.4L1620.8 1652.4M1499 1655.9L1484.9 1670M1484.9 1670L1465.1 1670M1465.1 1670L1451 1655.9M1451 1655.9L1451 1636.1M1451 1636.1L1465.1 1622M1465.1 1622L1484.9 1622M1484.9 1622L1499 1636.1M1499 1636.1L1499 1655.9M1413 1899L1537 1899M1413 1849L1537 1849M1413.5 1847.8L1501.2 1935.5M1448.8 1812.5L1536.5 1900.2M1450 1812L1450 1936M1500 1812L1500 1936M1501.2 1812.5L1413.5 1900.2M1536.5 1847.8L1448.8 1935.5M1536.8 1899.6L1620.8 1867.6M1536.8 1899.6L1573.6 1981.6M1500.6 1935.8L1582.6 1972.6M1500.6 1935.8L1468.6 2019.8M1449.4 1935.8L1481.4 2019.8M1449.4 1935.8L1367.4 1972.6M1413.2 1899.6L1376.4 1981.6M1413.2 1899.6L1329.2 1867.6M1413.2 1848.4L1329.2 1880.4M1413.2 1848.4L1376.4 1766.4M1449.4 1812.2L1367.4 1775.4M1449.4 1812.2L1481.4 1728.2M1500.6 1812.2L1468.6 1728.2M1500.6 1812.2L1582.6 1775.4M1536.8 1848.4L1573.6 1766.4M1536.8 1848.4L1620.8 1880.4M1499 1883.9L1484.9 1898M1484.9 1898L1465.1 1898M1465.1 1898L1451 1883.9M1451 1883.9L1451 1864.1M1451 1864.1L1465.1 1850M1465.1 1850L1484.9 1850M1484.9 1850L1499 1864.1M1499 1864.1L1499 1883.9M1413 2127L1537 2127M1413 2077L1537 2077M1413.5 2075.8L1501.2 2163.5M1448.8 2040.5L1536.5 2128.2M1450 2040L1450 2164M1500 2040L1500 2164M1501.2 2040.5L1413.5 2128.2M1536.5 2075.8L1448.8 2163.5M1536.8 2127.6L1620.8 2095.6M1536.8 2127.6L1573.6 2209.6M1500.6 2163.8L1582.6 2200.6M1500.6 2163.8L1468.6 2247.8M1449.4 2163.8L1481.4 2247.8M1449.4 2163.8L1367.4 2200.6M1413.2 2127.6L1376.4 2209.6M1413.2 2127.6L1329.2 2095.6M1413.2 2076.4L1329.2 2108.4M1413.2 2076.4L1376.4 1994.4M1449.4 2040.2L1367.4 2003.4M1449.4 2040.2L1481.4 1956.2M1500.6 2040.2L1468.6 1956.2M1500.6 2040.2L1582.6 2003.4M1536.8 2076.4L1573.6 1994.4M1536.8 2076.4L1620.8 2108.4M1499 2111.9L1484.9 2126M1484.9 2126L1465.1 2126M1465.1 2126L1451 2111.9M1451 2111.9L1451 2092.1M1451 2092.1L1465.1 2078M1465.1 2078L1484.9 2078M1484.9 2078L1499 2092.1M1499 2092.1L1499 2111.9M1413 2355L1537 2355M1413 2305L1537 2305M1413.5 2303.8L1501.2 2391.5M1448.8 2268.5L1536.5 2356.2M1450 2268L1450 2392M1500 2268L1500 2392M1501.2 2268.5L1413.5 2356.2M1536.5 2303.8L1448.8 2391.5M1536.8 2355.6L1620.8 2323.6M1536.8 2355.6L1573.6 2437.6M1500.6 2391.8L1582.6 2428.6M1500.6 2391.8L1468.6 2475.8M1449.4 2391.8L1481.4 2475.8M1449.4 2391.8L1367.4 2428.6M1413.2 2355.6L1376.4 2437.6M1413.2 2355.6L1329.2 2323.6M1413.2 2304.4L1329.2 2336.4M1413.2 2304.4L1376.4 2222.4M1449.4 2268.2L1367.4 2231.4M1449.4 2268.2L1481.4 2184.2M1500.6 2268.2L1468.6 2184.2M1500.6 2268.2L1582.6 2231.4M1536.8 2304.4L1573.6 2222.4M1536.8 2304.4L1620.8 2336.4M1499 2339.9L1484.9 2354M1484.9 2354L1465.1 2354M1465.1 2354L1451 2339.9M1451 2339.9L1451 2320.1M1451 2320.1L1465.1 2306M1465.1 2306L1484.9 2306M1484.9 2306L1499 2320.1M1499 2320.1L1499 2339.9M1413 2583L1537 2583M1413 2533L1537 2533M1413.5 2531.8L1501.2 2619.5M1448.8 2496.5L1536.5 2584.2M1450 2496L1450 2620M1500 2496L1500 2620M1501.2 2496.5L1413.5 2584.2M1536.5 2531.8L1448.8 2619.5M1536.8 2583.6L1620.8 2551.6M1536.8 2583.6L1573.6 2665.6M1500.6 2619.8L1582.6 2656.6M1500.6 2619.8L1468.6 2703.8M1449.4 2619.8L1481.4 2703.8M1449.4 2619.8L1367.4 2656.6M1413.2 2583.6L1376.4 2665.6M1413.2 2583.6L1329.2 2551.6M1413.2 2532.4L1329.2 2564.4M1413.2 2532.4L1376.4 2450.4M1449.4 2496.2L1367.4 2459.4M1449.4 2496.2L1481.4 2412.2M1500.6 2496.2L1468.6 2412.2M1500.6 2496.2L1582.6 2459.4M1536.8 2532.4L1573.6 2450.4M1536.8 2532.4L1620.8 2564.4M1499 2567.9L1484.9 2582M1484.9 2582L1465.1 2582M1465.1 2582L1451 2567.9M1451 2567.9L1451 2548.1M1451 2548.1L1465.1 2534M1465.1 2534L1484.9 2534M1484.9 2534L1499 2548.1M1499 2548.1L1499 2567.9M1413 2811L1537 2811M1413 2761L1537 2761M1413.5 2759.8L1501.2 2847.5M1448.8 2724.5L1536.5 2812.2M1450 2724L1450 2848M1500 2724L1500 2848M1501.2 2724.5L1413.5 2812.2M1536.5 2759.8L1448.8 2847.5M1536.8 2811.6L1620.8 2779.6M1536.8 2811.6L1573.6 2893.6M1500.6 2847.8L1582.6 2884.6M1500.6 2847.8L1468.6 2931.8M1449.4 2847.8L1481.4 2931.8M1449.4 2847.8L1367.4 2884.6M1413.2 2811.6L1376.4 2893.6M1413.2 2811.6L1329.2 2779.6M1413.2 2760.4L1329.2 2792.4M1413.2 2760.4L1376.4 2678.4M1449.4 2724.2L1367.4 2687.4M1449.4 2724.2L1481.4 2640.2M1500.6 2724.2L1468.6 2640.2M1500.6 2724.2L1582.6 2687.4M1536.8 2760.4L1573.6 2678.4M1536.8 2760.4L1620.8 2792.4M1499 2795.9L1484.9 2810M1484.9 2810L1465.1 2810M1465.1 2810L1451 2795.9M1451 2795.9L1451 2776.1M1451 2776.1L1465.1 2762M1465.1 2762L1484.9 2762M1484.9 2762L1499 2776.1M1499 2776.1L1499 2795.9M1413 3039L1537 3039M1413 2989L1537 2989M1413.5 2987.8L1501.2 3075.5M1448.8 2952.5L1536.5 3040.2M1450 2952L1450 3076M1500 2952L1500 3076M1501.2 2952.5L1413.5 3040.2M1536.5 2987.8L1448.8 3075.5M1536.8 3039.6L1620.8 3007.6M1536.8 3039.6L1573.6 3121.6M1500.6 3075.8L1582.6 3112.6M1500.6 3075.8L1468.6 3159.8M1449.4 3075.8L1481.4 3159.8M1449.4 3075.8L1367.4 3112.6M1413.2 3039.6L1376.4 3121.6M1413.2 3039.6L1329.2 3007.6M1413.2 2988.4L1329.2 3020.4M1413.2 2988.4L1376.4 2906.4M1449.4 2952.2L1367.4 2915.4M1449.4 2952.2L1481.4 2868.2M1500.6 2952.2L1468.6 2868.2M1500.6 2952.2L1582.6 2915.4M1536.8 2988.4L1573.6 2906.4M1536.8 2988.4L1620.8 3020.4M1499 3023.9L1484.9 3038M1484.9 3038L1465.1 3038M1465.1 3038L1451 3023.9M1451 3023.9L1451 3004.1M1451 3004.1L1465.1 2990M1465.1 2990L1484.9 2990M1484.9 2990L1499 3004.1M1499 3004.1L1499 3023.9M1413 3267L1537 3267M1413 3217L1537 3217M1413.5 3215.8L1501.2 3303.5M1448.8 3180.5L1536.5 3268.2M1450 3180L1450 3304M1500 3180L1500 3304M1501.2 3180.5L1413.5 3268.2M1536.5 3215.8L1448.8 3303.5M1536.8 3267.6L1620.8 3235.6M1536.8 3267.6L1573.6 3349.6M1500.6 3303.8L1582.6 3340.6M1500.6 3303.8L1468.6 3387.8M1449.4 3303.8L1481.4 3387.8M1449.4 3303.8L1367.4 3340.6M1413.2 3267.6L1376.4 3349.6M1413.2 3267.6L1329.2 3235.6M1413.2 3216.4L1329.2 3248.4M1413.2 3216.4L1376.4 3134.4M1449.4 3180.2L1367.4 3143.4M1449.4 3180.2L1481.4 3096.2M1500.6 3180.2L1468.6 3096.2M1500.6 3180.2L1582.6 3143.4M1536.8 3216.4L1573.6 3134.4M1536.8 3216.4L1620.8 3248.4M1499 3251.9L1484.9 3266M1484.9 3266L1465.1 3266M1465.1 3266L1451 3251.9M1451 3251.9L1451 3232.1M1451 3232.1L1465.1 3218M1465.1 3218L1484.9 3218M1484.9 3218L1499 3232.1M1499 3232.1L1499 3251.9M1413 3495L1537 3495M1413 3445L1537 3445M1413.5 3443.8L1501.2 3531.5M1448.8 3408.5L1536.5 3496.2M1450 3408L1450 3532M1500 3408L1500 3532M1501.2 3408.5L1413.5 3496.2M1536.5 3443.8L1448.8 3531.5M1536.8 3495.6L1620.8 3463.6M1536.8 3495.6L1573.6 3577.6M1500.6 3531.8L1582.6 3568.6M1500.6 3531.8L1468.6 3615.8M1449.4 3531.8L1481.4 3615.8M1449.4 3531.8L1367.4 3568.6M1413.2 3495.6L1376.4 3577.6M1413.2 3495.6L1329.2 3463.6M1413.2 3444.4L1329.2 3476.4M1413.2 3444.4L1376.4 3362.4M1449.4 3408.2L1367.4 3371.4M1449.4 3408.2L1481.4 3324.2M1500.6 3408.2L1468.6 3324.2M1500.6 3408.2L1582.6 3371.4M1536.8 3444.4L1573.6 3362.4M1536.8 3444.4L1620.8 3476.4M1499 3479.9L1484.9 3494M1484.9 3494L1465.1 3494M1465.1 3494L1451 3479.9M1451 3479.9L1451 3460.1M1451 3460.1L1465.1 3446M1465.1 3446L1484.9 3446M1484.9 3446L1499 3460.1M1499 3460.1L1499 3479.9M1413 3723L1537 3723M1413 3673L1537 3673M1413.5 3671.8L1501.2 3759.5M1448.8 3636.5L1536.5 3724.2M1450 3636L1450 3760M1500 3636L1500 3760M1501.2 3636.5L1413.5 3724.2M1536.5 3671.8L1448.8 3759.5M1536.8 3723.6L1620.8 3691.6M1536.8 3723.6L1573.6 3805.6M1500.6 3759.8L1582.6 3796.6M1500.6 3759.8L1468.6 3843.8M1449.4 3759.8L1481.4 3843.8M1449.4 3759.8L1367.4 3796.6M1413.2 3723.6L1376.4 3805.6M1413.2 3723.6L1329.2 3691.6M1413.2 3672.4L1329.2 3704.4M1413.2 3672.4L1376.4 3590.4M1449.4 3636.2L1367.4 3599.4M1449.4 3636.2L1481.4 3552.2M1500.6 3636.2L1468.6 3552.2M1500.6 3636.2L1582.6 3599.4M1536.8 3672.4L1573.6 3590.4M1536.8 3672.4L1620.8 3704.4M1499 3707.9L1484.9 3722M1484.9 3722L1465.1 3722M1465.1 3722L1451 3707.9M1451 3707.9L1451 3688.1M1451 3688.1L1465.1 3674M1465.1 3674L1484.9 3674M1484.9 3674L1499 3688.1M1499 3688.1L1499 3707.9M1647 -153L1771 -153M1647 -203L1771 -203M1647.5 -204.2L1735.2 -116.5M1682.8 -239.5L1770.5 -151.8M1684 -240L1684 -116M1734 -240L1734 -116M1735.2 -239.5L1647.5 -151.8M1770.5 -204.2L1682.8 -116.5M1770.8 -152.4L1854.8 -184.4M1770.8 -152.4L1807.6 -70.4M1734.6 -116.2L1816.6 -79.4M1734.6 -116.2L1702.6 -32.2M1683.4 -116.2L1715.4 -32.2M1683.4 -116.2L1601.4 -79.4M1647.2 -152.4L1610.4 -70.4M1647.2 -152.4L1563.2 -184.4M1647.2 -203.6L1563.2 -171.6M1647.2 -203.6L1610.4 -285.6M1683.4 -239.8L1601.4 -276.6M1683.4 -239.8L1715.4 -323.8M1734.6 -239.8L1702.6 -323.8M1734.6 -239.8L1816.6 -276.6M1770.8 -203.6L1807.6 -285.6M1770.8 -203.6L1854.8 -171.6M1709 -211L1716.6 -196.3M1716.6 -196.3L1732.3 -201.3M1732.3 -201.3L1727.3 -185.6M1727.3 -185.6L1742 -178M1742 -178L1727.3 -170.4M1727.3 -170.4L1732.3 -154.7M1732.3 -154.7L1716.6 -159.7M1716.6 -159.7L1709 -145M1709 -145L1701.4 -159.7M1701.4 -159.7L1685.7 -154.7M1685.7 -154.7L1690.7 -170.4M1690.7 -170.4L1676 -178M1676 -178L1690.7 -185.6M1690.7 -185.6L1685.7 -201.3M1685.7 -201.3L1701.4 -196.3M1701.4 -196.3L1709 -211M1647 75L1771 75M1647 25L1771 25M1647.5 23.8L1735.2 111.5M1682.8 -11.5L1770.5 76.2M1684 -12L1684 112M1734 -12L1734 112M1735.2 -11.5L1647.5 76.2M1770.5 23.8L1682.8 111.5M1770.8 75.6L1854.8 43.6M1770.8 75.6L1807.6 157.6M1734.6 111.8L1816.6 148.6M1734.6 111.8L1702.6 195.8M1683.4 111.8L1715.4 195.8M1683.4 111.8L1601.4 148.6M1647.2 75.6L1610.4 157.6M1647.2 75.6L1563.2 43.6M1647.2 24.4L1563.2 56.4M1647.2 24.4L1610.4 -57.6M1683.4 -11.8L1601.4 -48.6M1683.4 -11.8L1715.4 -95.8M1734.6 -11.8L1702.6 -95.8M1734.6 -11.8L1816.6 -48.6M1770.8 24.4L1807.6 -57.6M1770.8 24.4L1854.8 56.4M1709 17L1716.6 31.7M1716.6 31.7L1732.3 26.7M1732.3 26.7L1727.3 42.4M1727.3 42.4L1742 50M1742 50L1727.3 57.6M1727.3 57.6L1732.3 73.3M1732.3 73.3L1716.6 68.3M1716.6 68.3L1709 83M1709 83L1701.4 68.3M1701.4 68.3L1685.7 73.3M1685.7 73.3L1690.7 57.6M1690.7 57.6L1676 50M1676 50L1690.7 42.4M1690.7 42.4L1685.7 26.7M1685.7 26.7L1701.4 31.7M1701.4 31.7L1709 17M1647 303L1771 303M1647 253L1771 253M1647.5 251.8L1735.2 339.5M1682.8 216.5L1770.5 304.2M1684 216L1684 340M1734 216L1734 340M1735.2 216.5L1647.5 304.2M1770.5 251.8L1682.8 339.5M1770.8 303.6L1854.8 271.6M1770.8 303.6L1807.6 385.6M1734.6 339.8L1816.6 376.6M1734.6 339.8L1702.6 423.8M1683.4 339.8L1715.4 423.8M1683.4 339.8L1601.4 376.6M1647.2 303.6L1610.4 385.6M1647.2 303.6L1563.2 271.6M1647.2 252.4L1563.2 284.4M1647.2 252.4L1610.4 170.4M1683.4 216.2L1601.4 179.4M1683.4 216.2L1715.4 132.2M1734.6 216.2L1702.6 132.2M1734.6 216.2L1816.6 179.4M1770.8 252.4L1807.6 170.4M1770.8 252.4L1854.8 284.4M1709 245L1716.6 259.7M1716.6 259.7L1732.3 254.7M1732.3 254.7L1727.3 270.4M1727.3 270.4L1742 278M1742 278L1727.3 285.6M1727.3 285.6L1732.3 301.3M1732.3 301.3L1716.6 296.3M1716.6 296.3L1709 311M1709 311L1701.4 296.3M1701.4 296.3L1685.7 301.3M1685.7 301.3L1690.7 285.6M1690.7 285.6L1676 278M1676 278L1690.7 270.4M1690.7 270.4L1685.7 254.7M1685.7 254.7L1701.4 259.7M1701.4 259.7L1709 245M1647 531L1771 531M1647 481L1771 481M1647.5 479.8L1735.2 567.5M1682.8 444.5L1770.5 532.2M1684 444L1684 568M1734 444L1734 568M1735.2 444.5L1647.5 532.2M1770.5 479.8L1682.8 567.5M1770.8 531.6L1854.8 499.6M1770.8 531.6L1807.6 613.6M1734.6 567.8L1816.6 604.6M1734.6 567.8L1702.6 651.8M1683.4 567.8L1715.4 651.8M1683.4 567.8L1601.4 604.6M1647.2 531.6L1610.4 613.6M1647.2 531.6L1563.2 499.6M1647.2 480.4L1563.2 512.4M1647.2 480.4L1610.4 398.4M1683.4 444.2L1601.4 407.4M1683.4 444.2L1715.4 360.2M1734.6 444.2L1702.6 360.2M1734.6 444.2L1816.6 407.4M1770.8 480.4L1807.6 398.4M1770.8 480.4L1854.8 512.4M1709 473L1716.6 487.7M1716.6 487.7L1732.3 482.7M1732.3 482.7L1727.3 498.4M1727.3 498.4L1742 506M1742 506L1727.3 513.6M1727.3 513.6L1732.3 529.3M1732.3 529.3L1716.6 524.3M1716.6 524.3L1709 539M1709 539L1701.4 524.3M1701.4 524.3L1685.7 529.3M1685.7 529.3L1690.7 513.6M1690.7 513.6L1676 506M1676 506L1690.7 498.4M1690.7 498.4L1685.7 482.7M1685.7 482.7L1701.4 487.7M1701.4 487.7L1709 473M1647 759L1771 759M1647 709L1771 709M1647.5 707.8L1735.2 795.5M1682.8 672.5L1770.5 760.2M1684 672L1684 796M1734 672L1734 796M1735.2 672.5L1647.5 760.2M1770.5 707.8L1682.8 795.5M1770.8 759.6L1854.8 727.6M1770.8 759.6L1807.6 841.6M1734.6 795.8L1816.6 832.6M1734.6 795.8L1702.6 879.8M1683.4 795.8L1715.4 879.8M1683.4 795.8L1601.4 832.6M1647.2 759.6L1610.4 841.6M1647.2 759.6L1563.2 727.6M1647.2 708.4L1563.2 740.4M1647.2 708.4L1610.4 626.4M1683.4 672.2L1601.4 635.4M1683.4 672.2L1715.4 588.2M1734.6 672.2L1702.6 588.2M1734.6 672.2L1816.6 635.4M1770.8 708.4L1807.6 626.4M1770.8 708.4L1854.8 740.4M1709 701L1716.6 715.7M1716.6 715.7L1732.3 710.7M1732.3 710.7L1727.3 726.4M1727.3 726.4L1742 734M1742 734L1727.3 741.6M1727.3 741.6L1732.3 757.3M1732.3 757.3L1716.6 752.3M1716.6 752.3L1709 767M1709 767L1701.4 752.3M1701.4 752.3L1685.7 757.3M1685.7 757.3L1690.7 741.6M1690.7 741.6L1676 734M1676 734L1690.7 726.4M1690.7 726.4L1685.7 710.7M1685.7 710.7L1701.4 715.7M1701.4 715.7L1709 701M1647 987L1771 987M1647 937L1771 937M1647.5 935.8L1735.2 1023.5M1682.8 900.5L1770.5 988.2M1684 900L1684 1024M1734 900L1734 1024M1735.2 900.5L1647.5 988.2M1770.5 935.8L1682.8 1023.5M1770.8 987.6L1854.8 955.6M1770.8 987.6L1807.6 1069.6M1734.6 1023.8L1816.6 1060.6M1734.6 1023.8L1702.6 1107.8M1683.4 1023.8L1715.4 1107.8M1683.4 1023.8L1601.4 1060.6M1647.2 987.6L1610.4 1069.6M1647.2 987.6L1563.2 955.6M1647.2 936.4L1563.2 968.4M1647.2 936.4L1610.4 854.4M1683.4 900.2L1601.4 863.4M1683.4 900.2L1715.4 816.2M1734.6 900.2L1702.6 816.2M1734.6 900.2L1816.6 863.4M1770.8 936.4L1807.6 854.4M1770.8 936.4L1854.8 968.4M1709 929L1716.6 943.7M1716.6 943.7L1732.3 938.7M1732.3 938.7L1727.3 954.4M1727.3 954.4L1742 962M1742 962L1727.3 969.6M1727.3 969.6L1732.3 985.3M1732.3 985.3L1716.6 980.3M1716.6 980.3L1709 995M1709 995L1701.4 980.3M1701.4 980.3L1685.7 985.3M1685.7 985.3L1690.7 969.6M1690.7 969.6L1676 962M1676 962L1690.7 954.4M1690.7 954.4L1685.7 938.7M1685.7 938.7L1701.4 943.7M1701.4 943.7L1709 929M1647 1215L1771 1215M1647 1165L1771 1165M1647.5 1163.8L1735.2 1251.5M1682.8 1128.5L1770.5 1216.2M1684 1128L1684 1252M1734 1128L1734 1252M1735.2 1128.5L1647.5 1216.2M1770.5 1163.8L1682.8 1251.5M1770.8 1215.6L1854.8 1183.6M1770.8 1215.6L1807.6 1297.6M1734.6 1251.8L1816.6 1288.6M1734.6 1251.8L1702.6 1335.8M1683.4 1251.8L1715.4 1335.8M1683.4 1251.8L1601.4 1288.6M1647.2 1215.6L1610.4 1297.6M1647.2 1215.6L1563.2 1183.6M1647.2 1164.4L1563.2 1196.4M1647.2 1164.4L1610.4 1082.4M1683.4 1128.2L1601.4 1091.4M1683.4 1128.2L1715.4 1044.2M1734.6 1128.2L1702.6 1044.2M1734.6 1128.2L1816.6 1091.4M1770.8 1164.4L1807.6 1082.4M1770.8 1164.4L1854.8 1196.4M1709 1157L1716.6 1171.7M1716.6 1171.7L1732.3 1166.7M1732.3 1166.7L1727.3 1182.4M1727.3 1182.4L1742 1190M1742 1190L1727.3 1197.6M1727.3 1197.6L1732.3 1213.3M1732.3 1213.3L1716.6 1208.3M1716.6 1208.3L1709 1223M1709 1223L1701.4 1208.3M1701.4 1208.3L1685.7 1213.3M1685.7 1213.3L1690.7 1197.6M1690.7 1197.6L1676 1190M1676 1190L1690.7 1182.4M1690.7 1182.4L1685.7 1166.7M1685.7 1166.7L1701.4 1171.7M1701.4 1171.7L1709 1157M1647 1443L1771 1443M1647 1393L1771 1393M1647.5 1391.8L1735.2 1479.5M1682.8 1356.5L1770.5 1444.2M1684 1356L1684 1480M1734 1356L1734 1480M1735.2 1356.5L1647.5 1444.2M1770.5 1391.8L1682.8 1479.5M1770.8 1443.6L1854.8 1411.6M1770.8 1443.6L1807.6 1525.6M1734.6 1479.8L1816.6 1516.6M1734.6 1479.8L1702.6 1563.8M1683.4 1479.8L1715.4 1563.8M1683.4 1479.8L1601.4 1516.6M1647.2 1443.6L1610.4 1525.6M1647.2 1443.6L1563.2 1411.6M1647.2 1392.4L1563.2 1424.4M1647.2 1392.4L1610.4 1310.4M1683.4 1356.2L1601.4 1319.4M1683.4 1356.2L1715.4 1272.2M1734.6 1356.2L1702.6 1272.2M1734.6 1356.2L1816.6 1319.4M1770.8 1392.4L1807.6 1310.4M1770.8 1392.4L1854.8 1424.4M1709 1385L1716.6 1399.7M1716.6 1399.7L1732.3 1394.7M1732.3 1394.7L1727.3 1410.4M1727.3 1410.4L1742 1418M1742 1418L1727.3 1425.6M1727.3 1425.6L1732.3 1441.3M1732.3 1441.3L1716.6 1436.3M1716.6 1436.3L1709 1451M1709 1451L1701.4 1436.3M1701.4 1436.3L1685.7 1441.3M1685.7 1441.3L1690.7 1425.6M1690.7 1425.6L1676 1418M1676 1418L1690.7 1410.4M1690.7 1410.4L1685.7 1394.7M1685.7 1394.7L1701.4 1399.7M1701.4 1399.7L1709 1385M1647 1671L1771 1671M1647 1621L1771 1621M1647.5 1619.8L1735.2 1707.5M1682.8 1584.5L1770.5 1672.2M1684 1584L1684 1708M1734 1584L1734 1708M1735.2 1584.5L1647.5 1672.2M1770.5 1619.8L1682.8 1707.5M1770.8 1671.6L1854.8 1639.6M1770.8 1671.6L1807.6 1753.6M1734.6 1707.8L1816.6 1744.6M1734.6 1707.8L1702.6 1791.8M1683.4 1707.8L1715.4 1791.8M1683.4 1707.8L1601.4 1744.6M1647.2 1671.6L1610.4 1753.6M1647.2 1671.6L1563.2 1639.6M1647.2 1620.4L1563.2 1652.4M1647.2 1620.4L1610.4 1538.4M1683.4 1584.2L1601.4 1547.4M1683.4 1584.2L1715.4 1500.2M1734.6 1584.2L1702.6 1500.2M1734.6 1584.2L1816.6 1547.4M1770.8 1620.4L1807.6 1538.4M1770.8 1620.4L1854.8 1652.4M1709 1613L1716.6 1627.7M1716.6 1627.7L1732.3 1622.7M1732.3 1622.7L1727.3 1638.4M1727.3 1638.4L1742 1646M1742 1646L1727.3 1653.6M1727.3 1653.6L1732.3 1669.3M1732.3 1669.3L1716.6 1664.3M1716.6 1664.3L1709 1679M1709 1679L1701.4 1664.3M1701.4 1664.3L1685.7 1669.3M1685.7 1669.3L1690.7 1653.6M1690.7 1653.6L1676 1646M1676 1646L1690.7 1638.4M1690.7 1638.4L1685.7 1622.7M1685.7 1622.7L1701.4 1627.7M1701.4 1627.7L1709 1613M1647 1899L1771 1899M1647 1849L1771 1849M1647.5 1847.8L1735.2 1935.5M1682.8 1812.5L1770.5 1900.2M1684 1812L1684 1936M1734 1812L1734 1936M1735.2 1812.5L1647.5 1900.2M1770.5 1847.8L1682.8 1935.5M1770.8 1899.6L1854.8 1867.6M1770.8 1899.6L1807.6 1981.6M1734.6 1935.8L1816.6 1972.6M1734.6 1935.8L1702.6 2019.8M1683.4 1935.8L1715.4 2019.8M1683.4 1935.8L1601.4 1972.6M1647.2 1899.6L1610.4 1981.6M1647.2 1899.6L1563.2 1867.6M1647.2 1848.4L1563.2 1880.4M1647.2 1848.4L1610.4 1766.4M1683.4 1812.2L1601.4 1775.4M1683.4 1812.2L1715.4 1728.2M1734.6 1812.2L1702.6 1728.2M1734.6 1812.2L1816.6 1775.4M1770.8 1848.4L1807.6 1766.4M1770.8 1848.4L1854.8 1880.4M1709 1841L1716.6 1855.7M1716.6 1855.7L1732.3 1850.7M1732.3 1850.7L1727.3 1866.4M1727.3 1866.4L1742 1874M1742 1874L1727.3 1881.6M1727.3 1881.6L1732.3 1897.3M1732.3 1897.3L1716.6 1892.3M1716.6 1892.3L1709 1907M1709 1907L1701.4 1892.3M1701.4 1892.3L1685.7 1897.3M1685.7 1897.3L1690.7 1881.6M1690.7 1881.6L1676 1874M1676 1874L1690.7 1866.4M1690.7 1866.4L1685.7 1850.7M1685.7 1850.7L1701.4 1855.7M1701.4 1855.7L1709 1841M1647 2127L1771 2127M1647 2077L1771 2077M1647.5 2075.8L1735.2 2163.5M1682.8 2040.5L1770.5 2128.2M1684 2040L1684 2164M1734 2040L1734 2164M1735.2 2040.5L1647.5 2128.2M1770.5 2075.8L1682.8 2163.5M1770.8 2127.6L1854.8 2095.6M1770.8 2127.6L1807.6 2209.6M1734.6 2163.8L1816.6 2200.6M1734.6 2163.8L1702.6 2247.8M1683.4 2163.8L1715.4 2247.8M1683.4 2163.8L1601.4 2200.6M1647.2 2127.6L1610.4 2209.6M1647.2 2127.6L1563.2 2095.6M1647.2 2076.4L1563.2 2108.4M1647.2 2076.4L1610.4 1994.4M1683.4 2040.2L1601.4 2003.4M1683.4 2040.2L1715.4 1956.2M1734.6 2040.2L1702.6 1956.2M1734.6 2040.2L1816.6 2003.4M1770.8 2076.4L1807.6 1994.4M1770.8 2076.4L1854.8 2108.4M1709 2069L1716.6 2083.7M1716.6 2083.7L1732.3 2078.7M1732.3 2078.7L1727.3 2094.4M1727.3 2094.4L1742 2102M1742 2102L1727.3 2109.6M1727.3 2109.6L1732.3 2125.3M1732.3 2125.3L1716.6 2120.3M1716.6 2120.3L1709 2135M1709 2135L1701.4 2120.3M1701.4 2120.3L1685.7 2125.3M1685.7 2125.3L1690.7 2109.6M1690.7 2109.6L1676 2102M1676 2102L1690.7 2094.4M1690.7 2094.4L1685.7 2078.7M1685.7 2078.7L1701.4 2083.7M1701.4 2083.7L1709 2069M1647 2355L1771 2355M1647 2305L1771 2305M1647.5 2303.8L1735.2 2391.5M1682.8 2268.5L1770.5 2356.2M1684 2268L1684 2392M1734 2268L1734 2392M1735.2 2268.5L1647.5 2356.2M1770.5 2303.8L1682.8 2391.5M1770.8 2355.6L1854.8 2323.6M1770.8 2355.6L1807.6 2437.6M1734.6 2391.8L1816.6 2428.6M1734.6 2391.8L1702.6 2475.8M1683.4 2391.8L1715.4 2475.8M1683.4 2391.8L1601.4 2428.6M1647.2 2355.6L1610.4 2437.6M1647.2 2355.6L1563.2 2323.6M1647.2 2304.4L1563.2 2336.4M1647.2 2304.4L1610.4 2222.4M1683.4 2268.2L1601.4 2231.4M1683.4 2268.2L1715.4 2184.2M1734.6 2268.2L1702.6 2184.2M1734.6 2268.2L1816.6 2231.4M1770.8 2304.4L1807.6 2222.4M1770.8 2304.4L1854.8 2336.4M1709 2297L1716.6 2311.7M1716.6 2311.7L1732.3 2306.7M1732.3 2306.7L1727.3 2322.4M1727.3 2322.4L1742 2330M1742 2330L1727.3 2337.6M1727.3 2337.6L1732.3 2353.3M1732.3 2353.3L1716.6 2348.3M1716.6 2348.3L1709 2363M1709 2363L1701.4 2348.3M1701.4 2348.3L1685.7 2353.3M1685.7 2353.3L1690.7 2337.6M1690.7 2337.6L1676 2330M1676 2330L1690.7 2322.4M1690.7 2322.4L1685.7 2306.7M1685.7 2306.7L1701.4 2311.7M1701.4 2311.7L1709 2297M1647 2583L1771 2583M1647 2533L1771 2533M1647.5 2531.8L1735.2 2619.5M1682.8 2496.5L1770.5 2584.2M1684 2496L1684 2620M1734 2496L1734 2620M1735.2 2496.5L1647.5 2584.2M1770.5 2531.8L1682.8 2619.5M1770.8 2583.6L1854.8 2551.6M1770.8 2583.6L1807.6 2665.6M1734.6 2619.8L1816.6 2656.6M1734.6 2619.8L1702.6 2703.8M1683.4 2619.8L1715.4 2703.8M1683.4 2619.8L1601.4 2656.6M1647.2 2583.6L1610.4 2665.6M1647.2 2583.6L1563.2 2551.6M1647.2 2532.4L1563.2 2564.4M1647.2 2532.4L1610.4 2450.4M1683.4 2496.2L1601.4 2459.4M1683.4 2496.2L1715.4 2412.2M1734.6 2496.2L1702.6 2412.2M1734.6 2496.2L1816.6 2459.4M1770.8 2532.4L1807.6 2450.4M1770.8 2532.4L1854.8 2564.4M1709 2525L1716.6 2539.7M1716.6 2539.7L1732.3 2534.7M1732.3 2534.7L1727.3 2550.4M1727.3 2550.4L1742 2558M1742 2558L1727.3 2565.6M1727.3 2565.6L1732.3 2581.3M1732.3 2581.3L1716.6 2576.3M1716.6 2576.3L1709 2591M1709 2591L1701.4 2576.3M1701.4 2576.3L1685.7 2581.3M1685.7 2581.3L1690.7 2565.6M1690.7 2565.6L1676 2558M1676 2558L1690.7 2550.4M1690.7 2550.4L1685.7 2534.7M1685.7 2534.7L1701.4 2539.7M1701.4 2539.7L1709 2525M1647 2811L1771 2811M1647 2761L1771 2761M1647.5 2759.8L1735.2 2847.5M1682.8 2724.5L1770.5 2812.2M1684 2724L1684 2848M1734 2724L1734 2848M1735.2 2724.5L1647.5 2812.2M1770.5 2759.8L1682.8 2847.5M1770.8 2811.6L1854.8 2779.6M1770.8 2811.6L1807.6 2893.6M1734.6 2847.8L1816.6 2884.6M1734.6 2847.8L1702.6 2931.8M1683.4 2847.8L1715.4 2931.8M1683.4 2847.8L1601.4 2884.6M1647.2 2811.6L1610.4 2893.6M1647.2 2811.6L1563.2 2779.6M1647.2 2760.4L1563.2 2792.4M1647.2 2760.4L1610.4 2678.4M1683.4 2724.2L1601.4 2687.4M1683.4 2724.2L1715.4 2640.2M1734.6 2724.2L1702.6 2640.2M1734.6 2724.2L1816.6 2687.4M1770.8 2760.4L1807.6 2678.4M1770.8 2760.4L1854.8 2792.4M1709 2753L1716.6 2767.7M1716.6 2767.7L1732.3 2762.7M1732.3 2762.7L1727.3 2778.4M1727.3 2778.4L1742 2786M1742 2786L1727.3 2793.6M1727.3 2793.6L1732.3 2809.3M1732.3 2809.3L1716.6 2804.3M1716.6 2804.3L1709 2819M1709 2819L1701.4 2804.3M1701.4 2804.3L1685.7 2809.3M1685.7 2809.3L1690.7 2793.6M1690.7 2793.6L1676 2786M1676 2786L1690.7 2778.4M1690.7 2778.4L1685.7 2762.7M1685.7 2762.7L1701.4 2767.7M1701.4 2767.7L1709 2753M1647 3039L1771 3039M1647 2989L1771 2989M1647.5 2987.8L1735.2 3075.5M1682.8 2952.5L1770.5 3040.2M1684 2952L1684 3076M1734 2952L1734 3076M1735.2 2952.5L1647.5 3040.2M1770.5 2987.8L1682.8 3075.5M1770.8 3039.6L1854.8 3007.6M1770.8 3039.6L1807.6 3121.6M1734.6 3075.8L1816.6 3112.6M1734.6 3075.8L1702.6 3159.8M1683.4 3075.8L1715.4 3159.8M1683.4 3075.8L1601.4 3112.6M1647.2 3039.6L1610.4 3121.6M1647.2 3039.6L1563.2 3007.6M1647.2 2988.4L1563.2 3020.4M1647.2 2988.4L1610.4 2906.4M1683.4 2952.2L1601.4 2915.4M1683.4 2952.2L1715.4 2868.2M1734.6 2952.2L1702.6 2868.2M1734.6 2952.2L1816.6 2915.4M1770.8 2988.4L1807.6 2906.4M1770.8 2988.4L1854.8 3020.4M1709 2981L1716.6 2995.7M1716.6 2995.7L1732.3 2990.7M1732.3 2990.7L1727.3 3006.4M1727.3 3006.4L1742 3014M1742 3014L1727.3 3021.6M1727.3 3021.6L1732.3 3037.3M1732.3 3037.3L1716.6 3032.3M1716.6 3032.3L1709 3047M1709 3047L1701.4 3032.3M1701.4 3032.3L1685.7 3037.3M1685.7 3037.3L1690.7 3021.6M1690.7 3021.6L1676 3014M1676 3014L1690.7 3006.4M1690.7 3006.4L1685.7 2990.7M1685.7 2990.7L1701.4 2995.7M1701.4 2995.7L1709 2981M1647 3267L1771 3267M1647 3217L1771 3217M1647.5 3215.8L1735.2 3303.5M1682.8 3180.5L1770.5 3268.2M1684 3180L1684 3304M1734 3180L1734 3304M1735.2 3180.5L1647.5 3268.2M1770.5 3215.8L1682.8 3303.5M1770.8 3267.6L1854.8 3235.6M1770.8 3267.6L1807.6 3349.6M1734.6 3303.8L1816.6 3340.6M1734.6 3303.8L1702.6 3387.8M1683.4 3303.8L1715.4 3387.8M1683.4 3303.8L1601.4 3340.6M1647.2 3267.6L1610.4 3349.6M1647.2 3267.6L1563.2 3235.6M1647.2 3216.4L1563.2 3248.4M1647.2 3216.4L1610.4 3134.4M1683.4 3180.2L1601.4 3143.4M1683.4 3180.2L1715.4 3096.2M1734.6 3180.2L1702.6 3096.2M1734.6 3180.2L1816.6 3143.4M1770.8 3216.4L1807.6 3134.4M1770.8 3216.4L1854.8 3248.4M1709 3209L1716.6 3223.7M1716.6 3223.7L1732.3 3218.7M1732.3 3218.7L1727.3 3234.4M1727.3 3234.4L1742 3242M1742 3242L1727.3 3249.6M1727.3 3249.6L1732.3 3265.3M1732.3 3265.3L1716.6 3260.3M1716.6 3260.3L1709 3275M1709 3275L1701.4 3260.3M1701.4 3260.3L1685.7 3265.3M1685.7 3265.3L1690.7 3249.6M1690.7 3249.6L1676 3242M1676 3242L1690.7 3234.4M1690.7 3234.4L1685.7 3218.7M1685.7 3218.7L1701.4 3223.7M1701.4 3223.7L1709 3209M1647 3495L1771 3495M1647 3445L1771 3445M1647.5 3443.8L1735.2 3531.5M1682.8 3408.5L1770.5 3496.2M1684 3408L1684 3532M1734 3408L1734 3532M1735.2 3408.5L1647.5 3496.2M1770.5 3443.8L1682.8 3531.5M1770.8 3495.6L1854.8 3463.6M1770.8 3495.6L1807.6 3577.6M1734.6 3531.8L1816.6 3568.6M1734.6 3531.8L1702.6 3615.8M1683.4 3531.8L1715.4 3615.8M1683.4 3531.8L1601.4 3568.6M1647.2 3495.6L1610.4 3577.6M1647.2 3495.6L1563.2 3463.6M1647.2 3444.4L1563.2 3476.4M1647.2 3444.4L1610.4 3362.4M1683.4 3408.2L1601.4 3371.4M1683.4 3408.2L1715.4 3324.2M1734.6 3408.2L1702.6 3324.2M1734.6 3408.2L1816.6 3371.4M1770.8 3444.4L1807.6 3362.4M1770.8 3444.4L1854.8 3476.4M1709 3437L1716.6 3451.7M1716.6 3451.7L1732.3 3446.7M1732.3 3446.7L1727.3 3462.4M1727.3 3462.4L1742 3470M1742 3470L1727.3 3477.6M1727.3 3477.6L1732.3 3493.3M1732.3 3493.3L1716.6 3488.3M1716.6 3488.3L1709 3503M1709 3503L1701.4 3488.3M1701.4 3488.3L1685.7 3493.3M1685.7 3493.3L1690.7 3477.6M1690.7 3477.6L1676 3470M1676 3470L1690.7 3462.4M1690.7 3462.4L1685.7 3446.7M1685.7 3446.7L1701.4 3451.7M1701.4 3451.7L1709 3437M1647 3723L1771 3723M1647 3673L1771 3673M1647.5 3671.8L1735.2 3759.5M1682.8 3636.5L1770.5 3724.2M1684 3636L1684 3760M1734 3636L1734 3760M1735.2 3636.5L1647.5 3724.2M1770.5 3671.8L1682.8 3759.5M1770.8 3723.6L1854.8 3691.6M1770.8 3723.6L1807.6 3805.6M1734.6 3759.8L1816.6 3796.6M1734.6 3759.8L1702.6 3843.8M1683.4 3759.8L1715.4 3843.8M1683.4 3759.8L1601.4 3796.6M1647.2 3723.6L1610.4 3805.6M1647.2 3723.6L1563.2 3691.6M1647.2 3672.4L1563.2 3704.4M1647.2 3672.4L1610.4 3590.4M1683.4 3636.2L1601.4 3599.4M1683.4 3636.2L1715.4 3552.2M1734.6 3636.2L1702.6 3552.2M1734.6 3636.2L1816.6 3599.4M1770.8 3672.4L1807.6 3590.4M1770.8 3672.4L1854.8 3704.4M1709 3665L1716.6 3679.7M1716.6 3679.7L1732.3 3674.7M1732.3 3674.7L1727.3 3690.4M1727.3 3690.4L1742 3698M1742 3698L1727.3 3705.6M1727.3 3705.6L1732.3 3721.3M1732.3 3721.3L1716.6 3716.3M1716.6 3716.3L1709 3731M1709 3731L1701.4 3716.3M1701.4 3716.3L1685.7 3721.3M1685.7 3721.3L1690.7 3705.6M1690.7 3705.6L1676 3698M1676 3698L1690.7 3690.4M1690.7 3690.4L1685.7 3674.7M1685.7 3674.7L1701.4 3679.7M1701.4 3679.7L1709 3665M1881 -153L2005 -153M1881 -203L2005 -203M1881.5 -204.2L1969.2 -116.5M1916.8 -239.5L2004.5 -151.8M1918 -240L1918 -116M1968 -240L1968 -116M1969.2 -239.5L1881.5 -151.8M2004.5 -204.2L1916.8 -116.5M2004.8 -152.4L2088.8 -184.4M2004.8 -152.4L2041.6 -70.4M1968.6 -116.2L2050.6 -79.4M1968.6 -116.2L1936.6 -32.2M1917.4 -116.2L1949.4 -32.2M1917.4 -116.2L1835.4 -79.4M1881.2 -152.4L1844.4 -70.4M1881.2 -152.4L1797.2 -184.4M1881.2 -203.6L1797.2 -171.6M1881.2 -203.6L1844.4 -285.6M1917.4 -239.8L1835.4 -276.6M1917.4 -239.8L1949.4 -323.8M1968.6 -239.8L1936.6 -323.8M1968.6 -239.8L2050.6 -276.6M2004.8 -203.6L2041.6 -285.6M2004.8 -203.6L2088.8 -171.6M1967 -168.1L1952.9 -154M1952.9 -154L1933.1 -154M1933.1 -154L1919 -168.1M1919 -168.1L1919 -187.9M1919 -187.9L1933.1 -202M1933.1 -202L1952.9 -202M1952.9 -202L1967 -187.9M1967 -187.9L1967 -168.1M1881 75L2005 75M1881 25L2005 25M1881.5 23.8L1969.2 111.5M1916.8 -11.5L2004.5 76.2M1918 -12L1918 112M1968 -12L1968 112M1969.2 -11.5L1881.5 76.2M2004.5 23.8L1916.8 111.5M2004.8 75.6L2088.8 43.6M2004.8 75.6L2041.6 157.6M1968.6 111.8L2050.6 148.6M1968.6 111.8L1936.6 195.8M1917.4 111.8L1949.4 195.8M1917.4 111.8L1835.4 148.6M1881.2 75.6L1844.4 157.6M1881.2 75.6L1797.2 43.6M1881.2 24.4L1797.2 56.4M1881.2 24.4L1844.4 -57.6M1917.4 -11.8L1835.4 -48.6M1917.4 -11.8L1949.4 -95.8M1968.6 -11.8L1936.6 -95.8M1968.6 -11.8L2050.6 -48.6M2004.8 24.4L2041.6 -57.6M2004.8 24.4L2088.8 56.4M1967 59.9L1952.9 74M1952.9 74L1933.1 74M1933.1 74L1919 59.9M1919 59.9L1919 40.1M1919 40.1L1933.1 26M1933.1 26L1952.9 26M1952.9 26L1967 40.1M1967 40.1L1967 59.9M1881 303L2005 303M1881 253L2005 253M1881.5 251.8L1969.2 339.5M1916.8 216.5L2004.5 304.2M1918 216L1918 340M1968 216L1968 340M1969.2 216.5L1881.5 304.2M2004.5 251.8L1916.8 339.5M2004.8 303.6L2088.8 271.6M2004.8 303.6L2041.6 385.6M1968.6 339.8L2050.6 376.6M1968.6 339.8L1936.6 423.8M1917.4 339.8L1949.4 423.8M1917.4 339.8L1835.4 376.6M1881.2 303.6L1844.4 385.6M1881.2 303.6L1797.2 271.6M1881.2 252.4L1797.2 284.4M1881.2 252.4L1844.4 170.4M1917.4 216.2L1835.4 179.4M1917.4 216.2L1949.4 132.2M1968.6 216.2L1936.6 132.2M1968.6 216.2L2050.6 179.4M2004.8 252.4L2041.6 170.4M2004.8 252.4L2088.8 284.4M1967 287.9L1952.9 302M1952.9 302L1933.1 302M1933.1 302L1919 287.9M1919 287.9L1919 268.1M1919 268.1L1933.1 254M1933.1 254L1952.9 254M1952.9 254L1967 268.1M1967 268.1L1967 287.9M1881 531L2005 531M1881 481L2005 481M1881.5 479.8L1969.2 567.5M1916.8 444.5L2004.5 532.2M1918 444L1918 568M1968 444L1968 568M1969.2 444.5L1881.5 532.2M2004.5 479.8L1916.8 567.5M2004.8 531.6L2088.8 499.6M2004.8 531.6L2041.6 613.6M1968.6 567.8L2050.6 604.6M1968.6 567.8L1936.6 651.8M1917.4 567.8L1949.4 651.8M1917.4 567.8L1835.4 604.6M1881.2 531.6L1844.4 613.6M1881.2 531.6L1797.2 499.6M1881.2 480.4L1797.2 512.4M1881.2 480.4L1844.4 398.4M1917.4 444.2L1835.4 407.4M1917.4 444.2L1949.4 360.2M1968.6 444.2L1936.6 360.2M1968.6 444.2L2050.6 407.4M2004.8 480.4L2041.6 398.4M2004.8 480.4L2088.8 512.4M1967 515.9L1952.9 530M1952.9 530L1933.1 530M1933.1 530L1919 515.9M1919 515.9L1919 496.1M1919 496.1L1933.1 482M1933.1 482L1952.9 482M1952.9 482L1967 496.1M1967 496.1L1967 515.9M1881 759L2005 759M1881 709L2005 709M1881.5 707.8L1969.2 795.5M1916.8 672.5L2004.5 760.2M1918 672L1918 796M1968 672L1968 796M1969.2 672.5L1881.5 760.2M2004.5 707.8L1916.8 795.5M2004.8 759.6L2088.8 727.6M2004.8 759.6L2041.6 841.6M1968.6 795.8L2050.6 832.6M1968.6 795.8L1936.6 879.8M1917.4 795.8L1949.4 879.8M1917.4 795.8L1835.4 832.6M1881.2 759.6L1844.4 841.6M1881.2 759.6L1797.2 727.6M1881.2 708.4L1797.2 740.4M1881.2 708.4L1844.4 626.4M1917.4 672.2L1835.4 635.4M1917.4 672.2L1949.4 588.2M1968.6 672.2L1936.6 588.2M1968.6 672.2L2050.6 635.4M2004.8 708.4L2041.6 626.4M2004.8 708.4L2088.8 740.4M1967 743.9L1952.9 758M1952.9 758L1933.1 758M1933.1 758L1919 743.9M1919 743.9L1919 724.1M1919 724.1L1933.1 710M1933.1 710L1952.9 710M1952.9 710L1967 724.1M1967 724.1L1967 743.9M1881 987L2005 987M1881 937L2005 937M1881.5 935.8L1969.2 1023.5M1916.8 900.5L2004.5 988.2M1918 900L1918 1024M1968 900L1968 1024M1969.2 900.5L1881.5 988.2M2004.5 935.8L1916.8 1023.5M2004.8 987.6L2088.8 955.6M2004.8 987.6L2041.6 1069.6M1968.6 1023.8L2050.6 1060.6M1968.6 1023.8L1936.6 1107.8M1917.4 1023.8L1949.4 1107.8M1917.4 1023.8L1835.4 1060.6M1881.2 987.6L1844.4 1069.6M1881.2 987.6L1797.2 955.6M1881.2 936.4L1797.2 968.4M1881.2 936.4L1844.4 854.4M1917.4 900.2L1835.4 863.4M1917.4 900.2L1949.4 816.2M1968.6 900.2L1936.6 816.2M1968.6 900.2L2050.6 863.4M2004.8 936.4L2041.6 854.4M2004.8 936.4L2088.8 968.4M1967 971.9L1952.9 986M1952.9 986L1933.1 986M1933.1 986L1919 971.9M1919 971.9L1919 952.1M1919 952.1L1933.1 938M1933.1 938L1952.9 938M1952.9 938L1967 952.1M1967 952.1L1967 971.9M1881 1215L2005 1215M1881 1165L2005 1165M1881.5 1163.8L1969.2 1251.5M1916.8 1128.5L2004.5 1216.2M1918 1128L1918 1252M1968 1128L1968 1252M1969.2 1128.5L1881.5 1216.2M2004.5 1163.8L1916.8 1251.5M2004.8 1215.6L2088.8 1183.6M2004.8 1215.6L2041.6 1297.6M1968.6 1251.8L2050.6 1288.6M1968.6 1251.8L1936.6 1335.8M1917.4 1251.8L1949.4 1335.8M1917.4 1251.8L1835.4 1288.6M1881.2 1215.6L1844.4 1297.6M1881.2 1215.6L1797.2 1183.6M1881.2 1164.4L1797.2 1196.4M1881.2 1164.4L1844.4 1082.4M1917.4 1128.2L1835.4 1091.4M1917.4 1128.2L1949.4 1044.2M1968.6 1128.2L1936.6 1044.2M1968.6 1128.2L2050.6 1091.4M2004.8 1164.4L2041.6 1082.4M2004.8 1164.4L2088.8 1196.4M1967 1199.9L1952.9 1214M1952.9 1214L1933.1 1214M1933.1 1214L1919 1199.9M1919 1199.9L1919 1180.1M1919 1180.1L1933.1 1166M1933.1 1166L1952.9 1166M1952.9 1166L1967 1180.1M1967 1180.1L1967 1199.9M1881 1443L2005 1443M1881 1393L2005 1393M1881.5 1391.8L1969.2 1479.5M1916.8 1356.5L2004.5 1444.2M1918 1356L1918 1480M1968 1356L1968 1480M1969.2 1356.5L1881.5 1444.2M2004.5 1391.8L1916.8 1479.5M2004.8 1443.6L2088.8 1411.6M2004.8 1443.6L2041.6 1525.6M1968.6 1479.8L2050.6 1516.6M1968.6 1479.8L1936.6 1563.8M1917.4 1479.8L1949.4 1563.8M1917.4 1479.8L1835.4 1516.6M1881.2 1443.6L1844.4 1525.6M1881.2 1443.6L1797.2 1411.6M1881.2 1392.4L1797.2 1424.4M1881.2 1392.4L1844.4 1310.4M1917.4 1356.2L1835.4 1319.4M1917.4 1356.2L1949.4 1272.2M1968.6 1356.2L1936.6 1272.2M1968.6 1356.2L2050.6 1319.4M2004.8 1392.4L2041.6 1310.4M2004.8 1392.4L2088.8 1424.4M1967 1427.9L1952.9 1442M1952.9 1442L1933.1 1442M1933.1 1442L1919 1427.9M1919 1427.9L1919 1408.1M1919 1408.1L1933.1 1394M1933.1 1394L1952.9 1394M1952.9 1394L1967 1408.1M1967 1408.1L1967 1427.9M1881 1671L2005 1671M1881 1621L2005 1621M1881.5 1619.8L1969.2 1707.5M1916.8 1584.5L2004.5 1672.2M1918 1584L1918 1708M1968 1584L1968 1708M1969.2 1584.5L1881.5 1672.2M2004.5 1619.8L1916.8 1707.5M2004.8 1671.6L2088.8 1639.6M2004.8 1671.6L2041.6 1753.6M1968.6 1707.8L2050.6 1744.6M1968.6 1707.8L1936.6 1791.8M1917.4 1707.8L1949.4 1791.8M1917.4 1707.8L1835.4 1744.6M1881.2 1671.6L1844.4 1753.6M1881.2 1671.6L1797.2 1639.6M1881.2 1620.4L1797.2 1652.4M1881.2 1620.4L1844.4 1538.4M1917.4 1584.2L1835.4 1547.4M1917.4 1584.2L1949.4 1500.2M1968.6 1584.2L1936.6 1500.2M1968.6 1584.2L2050.6 1547.4M2004.8 1620.4L2041.6 1538.4M2004.8 1620.4L2088.8 1652.4M1967 1655.9L1952.9 1670M1952.9 1670L1933.1 1670M1933.1 1670L1919 1655.9M1919 1655.9L1919 1636.1M1919 1636.1L1933.1 1622M1933.1 1622L1952.9 1622M1952.9 1622L1967 1636.1M1967 1636.1L1967 1655.9M1881 1899L2005 1899M1881 1849L2005 1849M1881.5 1847.8L1969.2 1935.5M1916.8 1812.5L2004.5 1900.2M1918 1812L1918 1936M1968 1812L1968 1936M1969.2 1812.5L1881.5 1900.2M2004.5 1847.8L1916.8 1935.5M2004.8 1899.6L2088.8 1867.6M2004.8 1899.6L2041.6 1981.6M1968.6 1935.8L2050.6 1972.6M1968.6 1935.8L1936.6 2019.8M1917.4 1935.8L1949.4 2019.8M1917.4 1935.8L1835.4 1972.6M1881.2 1899.6L1844.4 1981.6M1881.2 1899.6L1797.2 1867.6M1881.2 1848.4L1797.2 1880.4M1881.2 1848.4L1844.4 1766.4M1917.4 1812.2L1835.4 1775.4M1917.4 1812.2L1949.4 1728.2M1968.6 1812.2L1936.6 1728.2M1968.6 1812.2L2050.6 1775.4M2004.8 1848.4L2041.6 1766.4M2004.8 1848.4L2088.8 1880.4M1967 1883.9L1952.9 1898M1952.9 1898L1933.1 1898M1933.1 1898L1919 1883.9M1919 1883.9L1919 1864.1M1919 1864.1L1933.1 1850M1933.1 1850L1952.9 1850M1952.9 1850L1967 1864.1M1967 1864.1L1967 1883.9M1881 2127L2005 2127M1881 2077L2005 2077M1881.5 2075.8L1969.2 2163.5M1916.8 2040.5L2004.5 2128.2M1918 2040L1918 2164M1968 2040L1968 2164M1969.2 2040.5L1881.5 2128.2M2004.5 2075.8L1916.8 2163.5M2004.8 2127.6L2088.8 2095.6M2004.8 2127.6L2041.6 2209.6M1968.6 2163.8L2050.6 2200.6M1968.6 2163.8L1936.6 2247.8M1917.4 2163.8L1949.4 2247.8M1917.4 2163.8L1835.4 2200.6M1881.2 2127.6L1844.4 2209.6M1881.2 2127.6L1797.2 2095.6M1881.2 2076.4L1797.2 2108.4M1881.2 2076.4L1844.4 1994.4M1917.4 2040.2L1835.4 2003.4M1917.4 2040.2L1949.4 1956.2M1968.6 2040.2L1936.6 1956.2M1968.6 2040.2L2050.6 2003.4M2004.8 2076.4L2041.6 1994.4M2004.8 2076.4L2088.8 2108.4M1967 2111.9L1952.9 2126M1952.9 2126L1933.1 2126M1933.1 2126L1919 2111.9M1919 2111.9L1919 2092.1M1919 2092.1L1933.1 2078M1933.1 2078L1952.9 2078M1952.9 2078L1967 2092.1M1967 2092.1L1967 2111.9M1881 2355L2005 2355M1881 2305L2005 2305M1881.5 2303.8L1969.2 2391.5M1916.8 2268.5L2004.5 2356.2M1918 2268L1918 2392M1968 2268L1968 2392M1969.2 2268.5L1881.5 2356.2M2004.5 2303.8L1916.8 2391.5M2004.8 2355.6L2088.8 2323.6M2004.8 2355.6L2041.6 2437.6M1968.6 2391.8L2050.6 2428.6M1968.6 2391.8L1936.6 2475.8M1917.4 2391.8L1949.4 2475.8M1917.4 2391.8L1835.4 2428.6M1881.2 2355.6L1844.4 2437.6M1881.2 2355.6L1797.2 2323.6M1881.2 2304.4L1797.2 2336.4M1881.2 2304.4L1844.4 2222.4M1917.4 2268.2L1835.4 2231.4M1917.4 2268.2L1949.4 2184.2M1968.6 2268.2L1936.6 2184.2M1968.6 2268.2L2050.6 2231.4M2004.8 2304.4L2041.6 2222.4M2004.8 2304.4L2088.8 2336.4M1967 2339.9L1952.9 2354M1952.9 2354L1933.1 2354M1933.1 2354L1919 2339.9M1919 2339.9L1919 2320.1M1919 2320.1L1933.1 2306M1933.1 2306L1952.9 2306M1952.9 2306L1967 2320.1M1967 2320.1L1967 2339.9M1881 2583L2005 2583M1881 2533L2005 2533M1881.5 2531.8L1969.2 2619.5M1916.8 2496.5L2004.5 2584.2M1918 2496L1918 2620M1968 2496L1968 2620M1969.2 2496.5L1881.5 2584.2M2004.5 2531.8L1916.8 2619.5M2004.8 2583.6L2088.8 2551.6M2004.8 2583.6L2041.6 2665.6M1968.6 2619.8L2050.6 2656.6M1968.6 2619.8L1936.6 2703.8M1917.4 2619.8L1949.4 2703.8M1917.4 2619.8L1835.4 2656.6M1881.2 2583.6L1844.4 2665.6M1881.2 2583.6L1797.2 2551.6M1881.2 2532.4L1797.2 2564.4M1881.2 2532.4L1844.4 2450.4M1917.4 2496.2L1835.4 2459.4M1917.4 2496.2L1949.4 2412.2M1968.6 2496.2L1936.6 2412.2M1968.6 2496.2L2050.6 2459.4M2004.8 2532.4L2041.6 2450.4M2004.8 2532.4L2088.8 2564.4M1967 2567.9L1952.9 2582M1952.9 2582L1933.1 2582M1933.1 2582L1919 2567.9M1919 2567.9L1919 2548.1M1919 2548.1L1933.1 2534M1933.1 2534L1952.9 2534M1952.9 2534L1967 2548.1M1967 2548.1L1967 2567.9M1881 2811L2005 2811M1881 2761L2005 2761M1881.5 2759.8L1969.2 2847.5M1916.8 2724.5L2004.5 2812.2M1918 2724L1918 2848M1968 2724L1968 2848M1969.2 2724.5L1881.5 2812.2M2004.5 2759.8L1916.8 2847.5M2004.8 2811.6L2088.8 2779.6M2004.8 2811.6L2041.6 2893.6M1968.6 2847.8L2050.6 2884.6M1968.6 2847.8L1936.6 2931.8M1917.4 2847.8L1949.4 2931.8M1917.4 2847.8L1835.4 2884.6M1881.2 2811.6L1844.4 2893.6M1881.2 2811.6L1797.2 2779.6M1881.2 2760.4L1797.2 2792.4M1881.2 2760.4L1844.4 2678.4M1917.4 2724.2L1835.4 2687.4M1917.4 2724.2L1949.4 2640.2M1968.6 2724.2L1936.6 2640.2M1968.6 2724.2L2050.6 2687.4M2004.8 2760.4L2041.6 2678.4M2004.8 2760.4L2088.8 2792.4M1967 2795.9L1952.9 2810M1952.9 2810L1933.1 2810M1933.1 2810L1919 2795.9M1919 2795.9L1919 2776.1M1919 2776.1L1933.1 2762M1933.1 2762L1952.9 2762M1952.9 2762L1967 2776.1M1967 2776.1L1967 2795.9M1881 3039L2005 3039M1881 2989L2005 2989M1881.5 2987.8L1969.2 3075.5M1916.8 2952.5L2004.5 3040.2M1918 2952L1918 3076M1968 2952L1968 3076M1969.2 2952.5L1881.5 3040.2M2004.5 2987.8L1916.8 3075.5M2004.8 3039.6L2088.8 3007.6M2004.8 3039.6L2041.6 3121.6M1968.6 3075.8L2050.6 3112.6M1968.6 3075.8L1936.6 3159.8M1917.4 3075.8L1949.4 3159.8M1917.4 3075.8L1835.4 3112.6M1881.2 3039.6L1844.4 3121.6M1881.2 3039.6L1797.2 3007.6M1881.2 2988.4L1797.2 3020.4M1881.2 2988.4L1844.4 2906.4M1917.4 2952.2L1835.4 2915.4M1917.4 2952.2L1949.4 2868.2M1968.6 2952.2L1936.6 2868.2M1968.6 2952.2L2050.6 2915.4M2004.8 2988.4L2041.6 2906.4M2004.8 2988.4L2088.8 3020.4M1967 3023.9L1952.9 3038M1952.9 3038L1933.1 3038M1933.1 3038L1919 3023.9M1919 3023.9L1919 3004.1M1919 3004.1L1933.1 2990M1933.1 2990L1952.9 2990M1952.9 2990L1967 3004.1M1967 3004.1L1967 3023.9M1881 3267L2005 3267M1881 3217L2005 3217M1881.5 3215.8L1969.2 3303.5M1916.8 3180.5L2004.5 3268.2M1918 3180L1918 3304M1968 3180L1968 3304M1969.2 3180.5L1881.5 3268.2M2004.5 3215.8L1916.8 3303.5M2004.8 3267.6L2088.8 3235.6M2004.8 3267.6L2041.6 3349.6M1968.6 3303.8L2050.6 3340.6M1968.6 3303.8L1936.6 3387.8M1917.4 3303.8L1949.4 3387.8M1917.4 3303.8L1835.4 3340.6M1881.2 3267.6L1844.4 3349.6M1881.2 3267.6L1797.2 3235.6M1881.2 3216.4L1797.2 3248.4M1881.2 3216.4L1844.4 3134.4M1917.4 3180.2L1835.4 3143.4M1917.4 3180.2L1949.4 3096.2M1968.6 3180.2L1936.6 3096.2M1968.6 3180.2L2050.6 3143.4M2004.8 3216.4L2041.6 3134.4M2004.8 3216.4L2088.8 3248.4M1967 3251.9L1952.9 3266M1952.9 3266L1933.1 3266M1933.1 3266L1919 3251.9M1919 3251.9L1919 3232.1M1919 3232.1L1933.1 3218M1933.1 3218L1952.9 3218M1952.9 3218L1967 3232.1M1967 3232.1L1967 3251.9M1881 3495L2005 3495M1881 3445L2005 3445M1881.5 3443.8L1969.2 3531.5M1916.8 3408.5L2004.5 3496.2M1918 3408L1918 3532M1968 3408L1968 3532M1969.2 3408.5L1881.5 3496.2M2004.5 3443.8L1916.8 3531.5M2004.8 3495.6L2088.8 3463.6M2004.8 3495.6L2041.6 3577.6M1968.6 3531.8L2050.6 3568.6M1968.6 3531.8L1936.6 3615.8M1917.4 3531.8L1949.4 3615.8M1917.4 3531.8L1835.4 3568.6M1881.2 3495.6L1844.4 3577.6M1881.2 3495.6L1797.2 3463.6M1881.2 3444.4L1797.2 3476.4M1881.2 3444.4L1844.4 3362.4M1917.4 3408.2L1835.4 3371.4M1917.4 3408.2L1949.4 3324.2M1968.6 3408.2L1936.6 3324.2M1968.6 3408.2L2050.6 3371.4M2004.8 3444.4L2041.6 3362.4M2004.8 3444.4L2088.8 3476.4M1967 3479.9L1952.9 3494M1952.9 3494L1933.1 3494M1933.1 3494L1919 3479.9M1919 3479.9L1919 3460.1M1919 3460.1L1933.1 3446M1933.1 3446L1952.9 3446M1952.9 3446L1967 3460.1M1967 3460.1L1967 3479.9M1881 3723L2005 3723M1881 3673L2005 3673M1881.5 3671.8L1969.2 3759.5M1916.8 3636.5L2004.5 3724.2M1918 3636L1918 3760M1968 3636L1968 3760M1969.2 3636.5L1881.5 3724.2M2004.5 3671.8L1916.8 3759.5M2004.8 3723.6L2088.8 3691.6M2004.8 3723.6L2041.6 3805.6M1968.6 3759.8L2050.6 3796.6M1968.6 3759.8L1936.6 3843.8M1917.4 3759.8L1949.4 3843.8M1917.4 3759.8L1835.4 3796.6M1881.2 3723.6L1844.4 3805.6M1881.2 3723.6L1797.2 3691.6M1881.2 3672.4L1797.2 3704.4M1881.2 3672.4L1844.4 3590.4M1917.4 3636.2L1835.4 3599.4M1917.4 3636.2L1949.4 3552.2M1968.6 3636.2L1936.6 3552.2M1968.6 3636.2L2050.6 3599.4M2004.8 3672.4L2041.6 3590.4M2004.8 3672.4L2088.8 3704.4M1967 3707.9L1952.9 3722M1952.9 3722L1933.1 3722M1933.1 3722L1919 3707.9M1919 3707.9L1919 3688.1M1919 3688.1L1933.1 3674M1933.1 3674L1952.9 3674M1952.9 3674L1967 3688.1M1967 3688.1L1967 3707.9M2115 -153L2239 -153M2115 -203L2239 -203M2115.5 -204.2L2203.2 -116.5M2150.8 -239.5L2238.5 -151.8M2152 -240L2152 -116M2202 -240L2202 -116M2203.2 -239.5L2115.5 -151.8M2238.5 -204.2L2150.8 -116.5M2238.8 -152.4L2322.8 -184.4M2238.8 -152.4L2275.6 -70.4M2202.6 -116.2L2284.6 -79.4M2202.6 -116.2L2170.6 -32.2M2151.4 -116.2L2183.4 -32.2M2151.4 -116.2L2069.4 -79.4M2115.2 -152.4L2078.4 -70.4M2115.2 -152.4L2031.2 -184.4M2115.2 -203.6L2031.2 -171.6M2115.2 -203.6L2078.4 -285.6M2151.4 -239.8L2069.4 -276.6M2151.4 -239.8L2183.4 -323.8M2202.6 -239.8L2170.6 -323.8M2202.6 -239.8L2284.6 -276.6M2238.8 -203.6L2275.6 -285.6M2238.8 -203.6L2322.8 -171.6M2177 -211L2184.6 -196.3M2184.6 -196.3L2200.3 -201.3M2200.3 -201.3L2195.3 -185.6M2195.3 -185.6L2210 -178M2210 -178L2195.3 -170.4M2195.3 -170.4L2200.3 -154.7M2200.3 -154.7L2184.6 -159.7M2184.6 -159.7L2177 -145M2177 -145L2169.4 -159.7M2169.4 -159.7L2153.7 -154.7M2153.7 -154.7L2158.7 -170.4M2158.7 -170.4L2144 -178M2144 -178L2158.7 -185.6M2158.7 -185.6L2153.7 -201.3M2153.7 -201.3L2169.4 -196.3M2169.4 -196.3L2177 -211M2115 75L2239 75M2115 25L2239 25M2115.5 23.8L2203.2 111.5M2150.8 -11.5L2238.5 76.2M2152 -12L2152 112M2202 -12L2202 112M2203.2 -11.5L2115.5 76.2M2238.5 23.8L2150.8 111.5M2238.8 75.6L2322.8 43.6M2238.8 75.6L2275.6 157.6M2202.6 111.8L2284.6 148.6M2202.6 111.8L2170.6 195.8M2151.4 111.8L2183.4 195.8M2151.4 111.8L2069.4 148.6M2115.2 75.6L2078.4 157.6M2115.2 75.6L2031.2 43.6M2115.2 24.4L2031.2 56.4M2115.2 24.4L2078.4 -57.6M2151.4 -11.8L2069.4 -48.6M2151.4 -11.8L2183.4 -95.8M2202.6 -11.8L2170.6 -95.8M2202.6 -11.8L2284.6 -48.6M2238.8 24.4L2275.6 -57.6M2238.8 24.4L2322.8 56.4M2177 17L2184.6 31.7M2184.6 31.7L2200.3 26.7M2200.3 26.7L2195.3 42.4M2195.3 42.4L2210 50M2210 50L2195.3 57.6M2195.3 57.6L2200.3 73.3M2200.3 73.3L2184.6 68.3M2184.6 68.3L2177 83M2177 83L2169.4 68.3M2169.4 68.3L2153.7 73.3M2153.7 73.3L2158.7 57.6M2158.7 57.6L2144 50M2144 50L2158.7 42.4M2158.7 42.4L2153.7 26.7M2153.7 26.7L2169.4 31.7M2169.4 31.7L2177 17M2115 303L2239 303M2115 253L2239 253M2115.5 251.8L2203.2 339.5M2150.8 216.5L2238.5 304.2M2152 216L2152 340M2202 216L2202 340M2203.2 216.5L2115.5 304.2M2238.5 251.8L2150.8 339.5M2238.8 303.6L2322.8 271.6M2238.8 303.6L2275.6 385.6M2202.6 339.8L2284.6 376.6M2202.6 339.8L2170.6 423.8M2151.4 339.8L2183.4 423.8M2151.4 339.8L2069.4 376.6M2115.2 303.6L2078.4 385.6M2115.2 303.6L2031.2 271.6M2115.2 252.4L2031.2 284.4M2115.2 252.4L2078.4 170.4M2151.4 216.2L2069.4 179.4M2151.4 216.2L2183.4 132.2M2202.6 216.2L2170.6 132.2M2202.6 216.2L2284.6 179.4M2238.8 252.4L2275.6 170.4M2238.8 252.4L2322.8 284.4M2177 245L2184.6 259.7M2184.6 259.7L2200.3 254.7M2200.3 254.7L2195.3 270.4M2195.3 270.4L2210 278M2210 278L2195.3 285.6M2195.3 285.6L2200.3 301.3M2200.3 301.3L2184.6 296.3M2184.6 296.3L2177 311M2177 311L2169.4 296.3M2169.4 296.3L2153.7 301.3M2153.7 301.3L2158.7 285.6M2158.7 285.6L2144 278M2144 278L2158.7 270.4M2158.7 270.4L2153.7 254.7M2153.7 254.7L2169.4 259.7M2169.4 259.7L2177 245M2115 531L2239 531M2115 481L2239 481M2115.5 479.8L2203.2 567.5M2150.8 444.5L2238.5 532.2M2152 444L2152 568M2202 444L2202 568M2203.2 444.5L2115.5 532.2M2238.5 479.8L2150.8 567.5M2238.8 531.6L2322.8 499.6M2238.8 531.6L2275.6 613.6M2202.6 567.8L2284.6 604.6M2202.6 567.8L2170.6 651.8M2151.4 567.8L2183.4 651.8M2151.4 567.8L2069.4 604.6M2115.2 531.6L2078.4 613.6M2115.2 531.6L2031.2 499.6M2115.2 480.4L2031.2 512.4M2115.2 480.4L2078.4 398.4M2151.4 444.2L2069.4 407.4M2151.4 444.2L2183.4 360.2M2202.6 444.2L2170.6 360.2M2202.6 444.2L2284.6 407.4M2238.8 480.4L2275.6 398.4M2238.8 480.4L2322.8 512.4M2177 473L2184.6 487.7M2184.6 487.7L2200.3 482.7M2200.3 482.7L2195.3 498.4M2195.3 498.4L2210 506M2210 506L2195.3 513.6M2195.3 513.6L2200.3 529.3M2200.3 529.3L2184.6 524.3M2184.6 524.3L2177 539M2177 539L2169.4 524.3M2169.4 524.3L2153.7 529.3M2153.7 529.3L2158.7 513.6M2158.7 513.6L2144 506M2144 506L2158.7 498.4M2158.7 498.4L2153.7 482.7M2153.7 482.7L2169.4 487.7M2169.4 487.7L2177 473M2115 759L2239 759M2115 709L2239 709M2115.5 707.8L2203.2 795.5M2150.8 672.5L2238.5 760.2M2152 672L2152 796M2202 672L2202 796M2203.2 672.5L2115.5 760.2M2238.5 707.8L2150.8 795.5M2238.8 759.6L2322.8 727.6M2238.8 759.6L2275.6 841.6M2202.6 795.8L2284.6 832.6M2202.6 795.8L2170.6 879.8M2151.4 795.8L2183.4 879.8M2151.4 795.8L2069.4 832.6M2115.2 759.6L2078.4 841.6M2115.2 759.6L2031.2 727.6M2115.2 708.4L2031.2 740.4M2115.2 708.4L2078.4 626.4M2151.4 672.2L2069.4 635.4M2151.4 672.2L2183.4 588.2M2202.6 672.2L2170.6 588.2M2202.6 672.2L2284.6 635.4M2238.8 708.4L2275.6 626.4M2238.8 708.4L2322.8 740.4M2177 701L2184.6 715.7M2184.6 715.7L2200.3 710.7M2200.3 710.7L2195.3 726.4M2195.3 726.4L2210 734M2210 734L2195.3 741.6M2195.3 741.6L2200.3 757.3M2200.3 757.3L2184.6 752.3M2184.6 752.3L2177 767M2177 767L2169.4 752.3M2169.4 752.3L2153.7 757.3M2153.7 757.3L2158.7 741.6M2158.7 741.6L2144 734M2144 734L2158.7 726.4M2158.7 726.4L2153.7 710.7M2153.7 710.7L2169.4 715.7M2169.4 715.7L2177 701M2115 987L2239 987M2115 937L2239 937M2115.5 935.8L2203.2 1023.5M2150.8 900.5L2238.5 988.2M2152 900L2152 1024M2202 900L2202 1024M2203.2 900.5L2115.5 988.2M2238.5 935.8L2150.8 1023.5M2238.8 987.6L2322.8 955.6M2238.8 987.6L2275.6 1069.6M2202.6 1023.8L2284.6 1060.6M2202.6 1023.8L2170.6 1107.8M2151.4 1023.8L2183.4 1107.8M2151.4 1023.8L2069.4 1060.6M2115.2 987.6L2078.4 1069.6M2115.2 987.6L2031.2 955.6M2115.2 936.4L2031.2 968.4M2115.2 936.4L2078.4 854.4M2151.4 900.2L2069.4 863.4M2151.4 900.2L2183.4 816.2M2202.6 900.2L2170.6 816.2M2202.6 900.2L2284.6 863.4M2238.8 936.4L2275.6 854.4M2238.8 936.4L2322.8 968.4M2177 929L2184.6 943.7M2184.6 943.7L2200.3 938.7M2200.3 938.7L2195.3 954.4M2195.3 954.4L2210 962M2210 962L2195.3 969.6M2195.3 969.6L2200.3 985.3M2200.3 985.3L2184.6 980.3M2184.6 980.3L2177 995M2177 995L2169.4 980.3M2169.4 980.3L2153.7 985.3M2153.7 985.3L2158.7 969.6M2158.7 969.6L2144 962M2144 962L2158.7 954.4M2158.7 954.4L2153.7 938.7M2153.7 938.7L2169.4 943.7M2169.4 943.7L2177 929M2115 1215L2239 1215M2115 1165L2239 1165M2115.5 1163.8L2203.2 1251.5M2150.8 1128.5L2238.5 1216.2M2152 1128L2152 1252M2202 1128L2202 1252M2203.2 1128.5L2115.5 1216.2M2238.5 1163.8L2150.8 1251.5M2238.8 1215.6L2322.8 1183.6M2238.8 1215.6L2275.6 1297.6M2202.6 1251.8L2284.6 1288.6M2202.6 1251.8L2170.6 1335.8M2151.4 1251.8L2183.4 1335.8M2151.4 1251.8L2069.4 1288.6M2115.2 1215.6L2078.4 1297.6M2115.2 1215.6L2031.2 1183.6M2115.2 1164.4L2031.2 1196.4M2115.2 1164.4L2078.4 1082.4M2151.4 1128.2L2069.4 1091.4M2151.4 1128.2L2183.4 1044.2M2202.6 1128.2L2170.6 1044.2M2202.6 1128.2L2284.6 1091.4M2238.8 1164.4L2275.6 1082.4M2238.8 1164.4L2322.8 1196.4M2177 1157L2184.6 1171.7M2184.6 1171.7L2200.3 1166.7M2200.3 1166.7L2195.3 1182.4M2195.3 1182.4L2210 1190M2210 1190L2195.3 1197.6M2195.3 1197.6L2200.3 1213.3M2200.3 1213.3L2184.6 1208.3M2184.6 1208.3L2177 1223M2177 1223L2169.4 1208.3M2169.4 1208.3L2153.7 1213.3M2153.7 1213.3L2158.7 1197.6M2158.7 1197.6L2144 1190M2144 1190L2158.7 1182.4M2158.7 1182.4L2153.7 1166.7M2153.7 1166.7L2169.4 1171.7M2169.4 1171.7L2177 1157M2115 1443L2239 1443M2115 1393L2239 1393M2115.5 1391.8L2203.2 1479.5M2150.8 1356.5L2238.5 1444.2M2152 1356L2152 1480M2202 1356L2202 1480M2203.2 1356.5L2115.5 1444.2M2238.5 1391.8L2150.8 1479.5M2238.8 1443.6L2322.8 1411.6M2238.8 1443.6L2275.6 1525.6M2202.6 1479.8L2284.6 1516.6M2202.6 1479.8L2170.6 1563.8M2151.4 1479.8L2183.4 1563.8M2151.4 1479.8L2069.4 1516.6M2115.2 1443.6L2078.4 1525.6M2115.2 1443.6L2031.2 1411.6M2115.2 1392.4L2031.2 1424.4M2115.2 1392.4L2078.4 1310.4M2151.4 1356.2L2069.4 1319.4M2151.4 1356.2L2183.4 1272.2M2202.6 1356.2L2170.6 1272.2M2202.6 1356.2L2284.6 1319.4M2238.8 1392.4L2275.6 1310.4M2238.8 1392.4L2322.8 1424.4M2177 1385L2184.6 1399.7M2184.6 1399.7L2200.3 1394.7M2200.3 1394.7L2195.3 1410.4M2195.3 1410.4L2210 1418M2210 1418L2195.3 1425.6M2195.3 1425.6L2200.3 1441.3M2200.3 1441.3L2184.6 1436.3M2184.6 1436.3L2177 1451M2177 1451L2169.4 1436.3M2169.4 1436.3L2153.7 1441.3M2153.7 1441.3L2158.7 1425.6M2158.7 1425.6L2144 1418M2144 1418L2158.7 1410.4M2158.7 1410.4L2153.7 1394.7M2153.7 1394.7L2169.4 1399.7M2169.4 1399.7L2177 1385M2115 1671L2239 1671M2115 1621L2239 1621M2115.5 1619.8L2203.2 1707.5M2150.8 1584.5L2238.5 1672.2M2152 1584L2152 1708M2202 1584L2202 1708M2203.2 1584.5L2115.5 1672.2M2238.5 1619.8L2150.8 1707.5M2238.8 1671.6L2322.8 1639.6M2238.8 1671.6L2275.6 1753.6M2202.6 1707.8L2284.6 1744.6M2202.6 1707.8L2170.6 1791.8M2151.4 1707.8L2183.4 1791.8M2151.4 1707.8L2069.4 1744.6M2115.2 1671.6L2078.4 1753.6M2115.2 1671.6L2031.2 1639.6M2115.2 1620.4L2031.2 1652.4M2115.2 1620.4L2078.4 1538.4M2151.4 1584.2L2069.4 1547.4M2151.4 1584.2L2183.4 1500.2M2202.6 1584.2L2170.6 1500.2M2202.6 1584.2L2284.6 1547.4M2238.8 1620.4L2275.6 1538.4M2238.8 1620.4L2322.8 1652.4M2177 1613L2184.6 1627.7M2184.6 1627.7L2200.3 1622.7M2200.3 1622.7L2195.3 1638.4M2195.3 1638.4L2210 1646M2210 1646L2195.3 1653.6M2195.3 1653.6L2200.3 1669.3M2200.3 1669.3L2184.6 1664.3M2184.6 1664.3L2177 1679M2177 1679L2169.4 1664.3M2169.4 1664.3L2153.7 1669.3M2153.7 1669.3L2158.7 1653.6M2158.7 1653.6L2144 1646M2144 1646L2158.7 1638.4M2158.7 1638.4L2153.7 1622.7M2153.7 1622.7L2169.4 1627.7M2169.4 1627.7L2177 1613M2115 1899L2239 1899M2115 1849L2239 1849M2115.5 1847.8L2203.2 1935.5M2150.8 1812.5L2238.5 1900.2M2152 1812L2152 1936M2202 1812L2202 1936M2203.2 1812.5L2115.5 1900.2M2238.5 1847.8L2150.8 1935.5M2238.8 1899.6L2322.8 1867.6M2238.8 1899.6L2275.6 1981.6M2202.6 1935.8L2284.6 1972.6M2202.6 1935.8L2170.6 2019.8M2151.4 1935.8L2183.4 2019.8M2151.4 1935.8L2069.4 1972.6M2115.2 1899.6L2078.4 1981.6M2115.2 1899.6L2031.2 1867.6M2115.2 1848.4L2031.2 1880.4M2115.2 1848.4L2078.4 1766.4M2151.4 1812.2L2069.4 1775.4M2151.4 1812.2L2183.4 1728.2M2202.6 1812.2L2170.6 1728.2M2202.6 1812.2L2284.6 1775.4M2238.8 1848.4L2275.6 1766.4M2238.8 1848.4L2322.8 1880.4M2177 1841L2184.6 1855.7M2184.6 1855.7L2200.3 1850.7M2200.3 1850.7L2195.3 1866.4M2195.3 1866.4L2210 1874M2210 1874L2195.3 1881.6M2195.3 1881.6L2200.3 1897.3M2200.3 1897.3L2184.6 1892.3M2184.6 1892.3L2177 1907M2177 1907L2169.4 1892.3M2169.4 1892.3L2153.7 1897.3M2153.7 1897.3L2158.7 1881.6M2158.7 1881.6L2144 1874M2144 1874L2158.7 1866.4M2158.7 1866.4L2153.7 1850.7M2153.7 1850.7L2169.4 1855.7M2169.4 1855.7L2177 1841M2115 2127L2239 2127M2115 2077L2239 2077M2115.5 2075.8L2203.2 2163.5M2150.8 2040.5L2238.5 2128.2M2152 2040L2152 2164M2202 2040L2202 2164M2203.2 2040.5L2115.5 2128.2M2238.5 2075.8L2150.8 2163.5M2238.8 2127.6L2322.8 2095.6M2238.8 2127.6L2275.6 2209.6M2202.6 2163.8L2284.6 2200.6M2202.6 2163.8L2170.6 2247.8M2151.4 2163.8L2183.4 2247.8M2151.4 2163.8L2069.4 2200.6M2115.2 2127.6L2078.4 2209.6M2115.2 2127.6L2031.2 2095.6M2115.2 2076.4L2031.2 2108.4M2115.2 2076.4L2078.4 1994.4M2151.4 2040.2L2069.4 2003.4M2151.4 2040.2L2183.4 1956.2M2202.6 2040.2L2170.6 1956.2M2202.6 2040.2L2284.6 2003.4M2238.8 2076.4L2275.6 1994.4M2238.8 2076.4L2322.8 2108.4M2177 2069L2184.6 2083.7M2184.6 2083.7L2200.3 2078.7M2200.3 2078.7L2195.3 2094.4M2195.3 2094.4L2210 2102M2210 2102L2195.3 2109.6M2195.3 2109.6L2200.3 2125.3M2200.3 2125.3L2184.6 2120.3M2184.6 2120.3L2177 2135M2177 2135L2169.4 2120.3M2169.4 2120.3L2153.7 2125.3M2153.7 2125.3L2158.7 2109.6M2158.7 2109.6L2144 2102M2144 2102L2158.7 2094.4M2158.7 2094.4L2153.7 2078.7M2153.7 2078.7L2169.4 2083.7M2169.4 2083.7L2177 2069M2115 2355L2239 2355M2115 2305L2239 2305M2115.5 2303.8L2203.2 2391.5M2150.8 2268.5L2238.5 2356.2M2152 2268L2152 2392M2202 2268L2202 2392M2203.2 2268.5L2115.5 2356.2M2238.5 2303.8L2150.8 2391.5M2238.8 2355.6L2322.8 2323.6M2238.8 2355.6L2275.6 2437.6M2202.6 2391.8L2284.6 2428.6M2202.6 2391.8L2170.6 2475.8M2151.4 2391.8L2183.4 2475.8M2151.4 2391.8L2069.4 2428.6M2115.2 2355.6L2078.4 2437.6M2115.2 2355.6L2031.2 2323.6M2115.2 2304.4L2031.2 2336.4M2115.2 2304.4L2078.4 2222.4M2151.4 2268.2L2069.4 2231.4M2151.4 2268.2L2183.4 2184.2M2202.6 2268.2L2170.6 2184.2M2202.6 2268.2L2284.6 2231.4M2238.8 2304.4L2275.6 2222.4M2238.8 2304.4L2322.8 2336.4M2177 2297L2184.6 2311.7M2184.6 2311.7L2200.3 2306.7M2200.3 2306.7L2195.3 2322.4M2195.3 2322.4L2210 2330M2210 2330L2195.3 2337.6M2195.3 2337.6L2200.3 2353.3M2200.3 2353.3L2184.6 2348.3M2184.6 2348.3L2177 2363M2177 2363L2169.4 2348.3M2169.4 2348.3L2153.7 2353.3M2153.7 2353.3L2158.7 2337.6M2158.7 2337.6L2144 2330M2144 2330L2158.7 2322.4M2158.7 2322.4L2153.7 2306.7M2153.7 2306.7L2169.4 2311.7M2169.4 2311.7L2177 2297M2115 2583L2239 2583M2115 2533L2239 2533M2115.5 2531.8L2203.2 2619.5M2150.8 2496.5L2238.5 2584.2M2152 2496L2152 2620M2202 2496L2202 2620M2203.2 2496.5L2115.5 2584.2M2238.5 2531.8L2150.8 2619.5M2238.8 2583.6L2322.8 2551.6M2238.8 2583.6L2275.6 2665.6M2202.6 2619.8L2284.6 2656.6M2202.6 2619.8L2170.6 2703.8M2151.4 2619.8L2183.4 2703.8M2151.4 2619.8L2069.4 2656.6M2115.2 2583.6L2078.4 2665.6M2115.2 2583.6L2031.2 2551.6M2115.2 2532.4L2031.2 2564.4M2115.2 2532.4L2078.4 2450.4M2151.4 2496.2L2069.4 2459.4M2151.4 2496.2L2183.4 2412.2M2202.6 2496.2L2170.6 2412.2M2202.6 2496.2L2284.6 2459.4M2238.8 2532.4L2275.6 2450.4M2238.8 2532.4L2322.8 2564.4M2177 2525L2184.6 2539.7M2184.6 2539.7L2200.3 2534.7M2200.3 2534.7L2195.3 2550.4M2195.3 2550.4L2210 2558M2210 2558L2195.3 2565.6M2195.3 2565.6L2200.3 2581.3M2200.3 2581.3L2184.6 2576.3M2184.6 2576.3L2177 2591M2177 2591L2169.4 2576.3M2169.4 2576.3L2153.7 2581.3M2153.7 2581.3L2158.7 2565.6M2158.7 2565.6L2144 2558M2144 2558L2158.7 2550.4M2158.7 2550.4L2153.7 2534.7M2153.7 2534.7L2169.4 2539.7M2169.4 2539.7L2177 2525M2115 2811L2239 2811M2115 2761L2239 2761M2115.5 2759.8L2203.2 2847.5M2150.8 2724.5L2238.5 2812.2M2152 2724L2152 2848M2202 2724L2202 2848M2203.2 2724.5L2115.5 2812.2M2238.5 2759.8L2150.8 2847.5M2238.8 2811.6L2322.8 2779.6M2238.8 2811.6L2275.6 2893.6M2202.6 2847.8L2284.6 2884.6M2202.6 2847.8L2170.6 2931.8M2151.4 2847.8L2183.4 2931.8M2151.4 2847.8L2069.4 2884.6M2115.2 2811.6L2078.4 2893.6M2115.2 2811.6L2031.2 2779.6M2115.2 2760.4L2031.2 2792.4M2115.2 2760.4L2078.4 2678.4M2151.4 2724.2L2069.4 2687.4M2151.4 2724.2L2183.4 2640.2M2202.6 2724.2L2170.6 2640.2M2202.6 2724.2L2284.6 2687.4M2238.8 2760.4L2275.6 2678.4M2238.8 2760.4L2322.8 2792.4M2177 2753L2184.6 2767.7M2184.6 2767.7L2200.3 2762.7M2200.3 2762.7L2195.3 2778.4M2195.3 2778.4L2210 2786M2210 2786L2195.3 2793.6M2195.3 2793.6L2200.3 2809.3M2200.3 2809.3L2184.6 2804.3M2184.6 2804.3L2177 2819M2177 2819L2169.4 2804.3M2169.4 2804.3L2153.7 2809.3M2153.7 2809.3L2158.7 2793.6M2158.7 2793.6L2144 2786M2144 2786L2158.7 2778.4M2158.7 2778.4L2153.7 2762.7M2153.7 2762.7L2169.4 2767.7M2169.4 2767.7L2177 2753M2115 3039L2239 3039M2115 2989L2239 2989M2115.5 2987.8L2203.2 3075.5M2150.8 2952.5L2238.5 3040.2M2152 2952L2152 3076M2202 2952L2202 3076M2203.2 2952.5L2115.5 3040.2M2238.5 2987.8L2150.8 3075.5M2238.8 3039.6L2322.8 3007.6M2238.8 3039.6L2275.6 3121.6M2202.6 3075.8L2284.6 3112.6M2202.6 3075.8L2170.6 3159.8M2151.4 3075.8L2183.4 3159.8M2151.4 3075.8L2069.4 3112.6M2115.2 3039.6L2078.4 3121.6M2115.2 3039.6L2031.2 3007.6M2115.2 2988.4L2031.2 3020.4M2115.2 2988.4L2078.4 2906.4M2151.4 2952.2L2069.4 2915.4M2151.4 2952.2L2183.4 2868.2M2202.6 2952.2L2170.6 2868.2M2202.6 2952.2L2284.6 2915.4M2238.8 2988.4L2275.6 2906.4M2238.8 2988.4L2322.8 3020.4M2177 2981L2184.6 2995.7M2184.6 2995.7L2200.3 2990.7M2200.3 2990.7L2195.3 3006.4M2195.3 3006.4L2210 3014M2210 3014L2195.3 3021.6M2195.3 3021.6L2200.3 3037.3M2200.3 3037.3L2184.6 3032.3M2184.6 3032.3L2177 3047M2177 3047L2169.4 3032.3M2169.4 3032.3L2153.7 3037.3M2153.7 3037.3L2158.7 3021.6M2158.7 3021.6L2144 3014M2144 3014L2158.7 3006.4M2158.7 3006.4L2153.7 2990.7M2153.7 2990.7L2169.4 2995.7M2169.4 2995.7L2177 2981M2115 3267L2239 3267M2115 3217L2239 3217M2115.5 3215.8L2203.2 3303.5M2150.8 3180.5L2238.5 3268.2M2152 3180L2152 3304M2202 3180L2202 3304M2203.2 3180.5L2115.5 3268.2M2238.5 3215.8L2150.8 3303.5M2238.8 3267.6L2322.8 3235.6M2238.8 3267.6L2275.6 3349.6M2202.6 3303.8L2284.6 3340.6M2202.6 3303.8L2170.6 3387.8M2151.4 3303.8L2183.4 3387.8M2151.4 3303.8L2069.4 3340.6M2115.2 3267.6L2078.4 3349.6M2115.2 3267.6L2031.2 3235.6M2115.2 3216.4L2031.2 3248.4M2115.2 3216.4L2078.4 3134.4M2151.4 3180.2L2069.4 3143.4M2151.4 3180.2L2183.4 3096.2M2202.6 3180.2L2170.6 3096.2M2202.6 3180.2L2284.6 3143.4M2238.8 3216.4L2275.6 3134.4M2238.8 3216.4L2322.8 3248.4M2177 3209L2184.6 3223.7M2184.6 3223.7L2200.3 3218.7M2200.3 3218.7L2195.3 3234.4M2195.3 3234.4L2210 3242M2210 3242L2195.3 3249.6M2195.3 3249.6L2200.3 3265.3M2200.3 3265.3L2184.6 3260.3M2184.6 3260.3L2177 3275M2177 3275L2169.4 3260.3M2169.4 3260.3L2153.7 3265.3M2153.7 3265.3L2158.7 3249.6M2158.7 3249.6L2144 3242M2144 3242L2158.7 3234.4M2158.7 3234.4L2153.7 3218.7M2153.7 3218.7L2169.4 3223.7M2169.4 3223.7L2177 3209M2115 3495L2239 3495M2115 3445L2239 3445M2115.5 3443.8L2203.2 3531.5M2150.8 3408.5L2238.5 3496.2M2152 3408L2152 3532M2202 3408L2202 3532M2203.2 3408.5L2115.5 3496.2M2238.5 3443.8L2150.8 3531.5M2238.8 3495.6L2322.8 3463.6M2238.8 3495.6L2275.6 3577.6M2202.6 3531.8L2284.6 3568.6M2202.6 3531.8L2170.6 3615.8M2151.4 3531.8L2183.4 3615.8M2151.4 3531.8L2069.4 3568.6M2115.2 3495.6L2078.4 3577.6M2115.2 3495.6L2031.2 3463.6M2115.2 3444.4L2031.2 3476.4M2115.2 3444.4L2078.4 3362.4M2151.4 3408.2L2069.4 3371.4M2151.4 3408.2L2183.4 3324.2M2202.6 3408.2L2170.6 3324.2M2202.6 3408.2L2284.6 3371.4M2238.8 3444.4L2275.6 3362.4M2238.8 3444.4L2322.8 3476.4M2177 3437L2184.6 3451.7M2184.6 3451.7L2200.3 3446.7M2200.3 3446.7L2195.3 3462.4M2195.3 3462.4L2210 3470M2210 3470L2195.3 3477.6M2195.3 3477.6L2200.3 3493.3M2200.3 3493.3L2184.6 3488.3M2184.6 3488.3L2177 3503M2177 3503L2169.4 3488.3M2169.4 3488.3L2153.7 3493.3M2153.7 3493.3L2158.7 3477.6M2158.7 3477.6L2144 3470M2144 3470L2158.7 3462.4M2158.7 3462.4L2153.7 3446.7M2153.7 3446.7L2169.4 3451.7M2169.4 3451.7L2177 3437M2115 3723L2239 3723M2115 3673L2239 3673M2115.5 3671.8L2203.2 3759.5M2150.8 3636.5L2238.5 3724.2M2152 3636L2152 3760M2202 3636L2202 3760M2203.2 3636.5L2115.5 3724.2M2238.5 3671.8L2150.8 3759.5M2238.8 3723.6L2322.8 3691.6M2238.8 3723.6L2275.6 3805.6M2202.6 3759.8L2284.6 3796.6M2202.6 3759.8L2170.6 3843.8M2151.4 3759.8L2183.4 3843.8M2151.4 3759.8L2069.4 3796.6M2115.2 3723.6L2078.4 3805.6M2115.2 3723.6L2031.2 3691.6M2115.2 3672.4L2031.2 3704.4M2115.2 3672.4L2078.4 3590.4M2151.4 3636.2L2069.4 3599.4M2151.4 3636.2L2183.4 3552.2M2202.6 3636.2L2170.6 3552.2M2202.6 3636.2L2284.6 3599.4M2238.8 3672.4L2275.6 3590.4M2238.8 3672.4L2322.8 3704.4M2177 3665L2184.6 3679.7M2184.6 3679.7L2200.3 3674.7M2200.3 3674.7L2195.3 3690.4M2195.3 3690.4L2210 3698M2210 3698L2195.3 3705.6M2195.3 3705.6L2200.3 3721.3M2200.3 3721.3L2184.6 3716.3M2184.6 3716.3L2177 3731M2177 3731L2169.4 3716.3M2169.4 3716.3L2153.7 3721.3M2153.7 3721.3L2158.7 3705.6M2158.7 3705.6L2144 3698M2144 3698L2158.7 3690.4M2158.7 3690.4L2153.7 3674.7M2153.7 3674.7L2169.4 3679.7M2169.4 3679.7L2177 3665M2349 -153L2473 -153M2349 -203L2473 -203M2349.5 -204.2L2437.2 -116.5M2384.8 -239.5L2472.5 -151.8M2386 -240L2386 -116M2436 -240L2436 -116M2437.2 -239.5L2349.5 -151.8M2472.5 -204.2L2384.8 -116.5M2472.8 -152.4L2556.8 -184.4M2472.8 -152.4L2509.6 -70.4M2436.6 -116.2L2518.6 -79.4M2436.6 -116.2L2404.6 -32.2M2385.4 -116.2L2417.4 -32.2M2385.4 -116.2L2303.4 -79.4M2349.2 -152.4L2312.4 -70.4M2349.2 -152.4L2265.2 -184.4M2349.2 -203.6L2265.2 -171.6M2349.2 -203.6L2312.4 -285.6M2385.4 -239.8L2303.4 -276.6M2385.4 -239.8L2417.4 -323.8M2436.6 -239.8L2404.6 -323.8M2436.6 -239.8L2518.6 -276.6M2472.8 -203.6L2509.6 -285.6M2472.8 -203.6L2556.8 -171.6M2435 -168.1L2420.9 -154M2420.9 -154L2401.1 -154M2401.1 -154L2387 -168.1M2387 -168.1L2387 -187.9M2387 -187.9L2401.1 -202M2401.1 -202L2420.9 -202M2420.9 -202L2435 -187.9M2435 -187.9L2435 -168.1M2349 75L2473 75M2349 25L2473 25M2349.5 23.8L2437.2 111.5M2384.8 -11.5L2472.5 76.2M2386 -12L2386 112M2436 -12L2436 112M2437.2 -11.5L2349.5 76.2M2472.5 23.8L2384.8 111.5M2472.8 75.6L2556.8 43.6M2472.8 75.6L2509.6 157.6M2436.6 111.8L2518.6 148.6M2436.6 111.8L2404.6 195.8M2385.4 111.8L2417.4 195.8M2385.4 111.8L2303.4 148.6M2349.2 75.6L2312.4 157.6M2349.2 75.6L2265.2 43.6M2349.2 24.4L2265.2 56.4M2349.2 24.4L2312.4 -57.6M2385.4 -11.8L2303.4 -48.6M2385.4 -11.8L2417.4 -95.8M2436.6 -11.8L2404.6 -95.8M2436.6 -11.8L2518.6 -48.6M2472.8 24.4L2509.6 -57.6M2472.8 24.4L2556.8 56.4M2435 59.9L2420.9 74M2420.9 74L2401.1 74M2401.1 74L2387 59.9M2387 59.9L2387 40.1M2387 40.1L2401.1 26M2401.1 26L2420.9 26M2420.9 26L2435 40.1M2435 40.1L2435 59.9M2349 303L2473 303M2349 253L2473 253M2349.5 251.8L2437.2 339.5M2384.8 216.5L2472.5 304.2M2386 216L2386 340M2436 216L2436 340M2437.2 216.5L2349.5 304.2M2472.5 251.8L2384.8 339.5M2472.8 303.6L2556.8 271.6M2472.8 303.6L2509.6 385.6M2436.6 339.8L2518.6 376.6M2436.6 339.8L2404.6 423.8M2385.4 339.8L2417.4 423.8M2385.4 339.8L2303.4 376.6M2349.2 303.6L2312.4 385.6M2349.2 303.6L2265.2 271.6M2349.2 252.4L2265.2 284.4M2349.2 252.4L2312.4 170.4M2385.4 216.2L2303.4 179.4M2385.4 216.2L2417.4 132.2M2436.6 216.2L2404.6 132.2M2436.6 216.2L2518.6 179.4M2472.8 252.4L2509.6 170.4M2472.8 252.4L2556.8 284.4M2435 287.9L2420.9 302M2420.9 302L2401.1 302M2401.1 302L2387 287.9M2387 287.9L2387 268.1M2387 268.1L2401.1 254M2401.1 254L2420.9 254M2420.9 254L2435 268.1M2435 268.1L2435 287.9M2349 531L2473 531M2349 481L2473 481M2349.5 479.8L2437.2 567.5M2384.8 444.5L2472.5 532.2M2386 444L2386 568M2436 444L2436 568M2437.2 444.5L2349.5 532.2M2472.5 479.8L2384.8 567.5M2472.8 531.6L2556.8 499.6M2472.8 531.6L2509.6 613.6M2436.6 567.8L2518.6 604.6M2436.6 567.8L2404.6 651.8M2385.4 567.8L2417.4 651.8M2385.4 567.8L2303.4 604.6M2349.2 531.6L2312.4 613.6M2349.2 531.6L2265.2 499.6M2349.2 480.4L2265.2 512.4M2349.2 480.4L2312.4 398.4M2385.4 444.2L2303.4 407.4M2385.4 444.2L2417.4 360.2M2436.6 444.2L2404.6 360.2M2436.6 444.2L2518.6 407.4M2472.8 480.4L2509.6 398.4M2472.8 480.4L2556.8 512.4M2435 515.9L2420.9 530M2420.9 530L2401.1 530M2401.1 530L2387 515.9M2387 515.9L2387 496.1M2387 496.1L2401.1 482M2401.1 482L2420.9 482M2420.9 482L2435 496.1M2435 496.1L2435 515.9M2349 759L2473 759M2349 709L2473 709M2349.5 707.8L2437.2 795.5M2384.8 672.5L2472.5 760.2M2386 672L2386 796M2436 672L2436 796M2437.2 672.5L2349.5 760.2M2472.5 707.8L2384.8 795.5M2472.8 759.6L2556.8 727.6M2472.8 759.6L2509.6 841.6M2436.6 795.8L2518.6 832.6M2436.6 795.8L2404.6 879.8M2385.4 795.8L2417.4 879.8M2385.4 795.8L2303.4 832.6M2349.2 759.6L2312.4 841.6M2349.2 759.6L2265.2 727.6M2349.2 708.4L2265.2 740.4M2349.2 708.4L2312.4 626.4M2385.4 672.2L2303.4 635.4M2385.4 672.2L2417.4 588.2M2436.6 672.2L2404.6 588.2M2436.6 672.2L2518.6 635.4M2472.8 708.4L2509.6 626.4M2472.8 708.4L2556.8 740.4M2435 743.9L2420.9 758M2420.9 758L2401.1 758M2401.1 758L2387 743.9M2387 743.9L2387 724.1M2387 724.1L2401.1 710M2401.1 710L2420.9 710M2420.9 710L2435 724.1M2435 724.1L2435 743.9M2349 987L2473 987M2349 937L2473 937M2349.5 935.8L2437.2 1023.5M2384.8 900.5L2472.5 988.2M2386 900L2386 1024M2436 900L2436 1024M2437.2 900.5L2349.5 988.2M2472.5 935.8L2384.8 1023.5M2472.8 987.6L2556.8 955.6M2472.8 987.6L2509.6 1069.6M2436.6 1023.8L2518.6 1060.6M2436.6 1023.8L2404.6 1107.8M2385.4 1023.8L2417.4 1107.8M2385.4 1023.8L2303.4 1060.6M2349.2 987.6L2312.4 1069.6M2349.2 987.6L2265.2 955.6M2349.2 936.4L2265.2 968.4M2349.2 936.4L2312.4 854.4M2385.4 900.2L2303.4 863.4M2385.4 900.2L2417.4 816.2M2436.6 900.2L2404.6 816.2M2436.6 900.2L2518.6 863.4M2472.8 936.4L2509.6 854.4M2472.8 936.4L2556.8 968.4M2435 971.9L2420.9 986M2420.9 986L2401.1 986M2401.1 986L2387 971.9M2387 971.9L2387 952.1M2387 952.1L2401.1 938M2401.1 938L2420.9 938M2420.9 938L2435 952.1M2435 952.1L2435 971.9M2349 1215L2473 1215M2349 1165L2473 1165M2349.5 1163.8L2437.2 1251.5M2384.8 1128.5L2472.5 1216.2M2386 1128L2386 1252M2436 1128L2436 1252M2437.2 1128.5L2349.5 1216.2M2472.5 1163.8L2384.8 1251.5M2472.8 1215.6L2556.8 1183.6M2472.8 1215.6L2509.6 1297.6M2436.6 1251.8L2518.6 1288.6M2436.6 1251.8L2404.6 1335.8M2385.4 1251.8L2417.4 1335.8M2385.4 1251.8L2303.4 1288.6M2349.2 1215.6L2312.4 1297.6M2349.2 1215.6L2265.2 1183.6M2349.2 1164.4L2265.2 1196.4M2349.2 1164.4L2312.4 1082.4M2385.4 1128.2L2303.4 1091.4M2385.4 1128.2L2417.4 1044.2M2436.6 1128.2L2404.6 1044.2M2436.6 1128.2L2518.6 1091.4M2472.8 1164.4L2509.6 1082.4M2472.8 1164.4L2556.8 1196.4M2435 1199.9L2420.9 1214M2420.9 1214L2401.1 1214M2401.1 1214L2387 1199.9M2387 1199.9L2387 1180.1M2387 1180.1L2401.1 1166M2401.1 1166L2420.9 1166M2420.9 1166L2435 1180.1M2435 1180.1L2435 1199.9M2349 1443L2473 1443M2349 1393L2473 1393M2349.5 1391.8L2437.2 1479.5M2384.8 1356.5L2472.5 1444.2M2386 1356L2386 1480M2436 1356L2436 1480M2437.2 1356.5L2349.5 1444.2M2472.5 1391.8L2384.8 1479.5M2472.8 1443.6L2556.8 1411.6M2472.8 1443.6L2509.6 1525.6M2436.6 1479.8L2518.6 1516.6M2436.6 1479.8L2404.6 1563.8M2385.4 1479.8L2417.4 1563.8M2385.4 1479.8L2303.4 1516.6M2349.2 1443.6L2312.4 1525.6M2349.2 1443.6L2265.2 1411.6M2349.2 1392.4L2265.2 1424.4M2349.2 1392.4L2312.4 1310.4M2385.4 1356.2L2303.4 1319.4M2385.4 1356.2L2417.4 1272.2M2436.6 1356.2L2404.6 1272.2M2436.6 1356.2L2518.6 1319.4M2472.8 1392.4L2509.6 1310.4M2472.8 1392.4L2556.8 1424.4M2435 1427.9L2420.9 1442M2420.9 1442L2401.1 1442M2401.1 1442L2387 1427.9M2387 1427.9L2387 1408.1M2387 1408.1L2401.1 1394M2401.1 1394L2420.9 1394M2420.9 1394L2435 1408.1M2435 1408.1L2435 1427.9M2349 1671L2473 1671M2349 1621L2473 1621M2349.5 1619.8L2437.2 1707.5M2384.8 1584.5L2472.5 1672.2M2386 1584L2386 1708M2436 1584L2436 1708M2437.2 1584.5L2349.5 1672.2M2472.5 1619.8L2384.8 1707.5M2472.8 1671.6L2556.8 1639.6M2472.8 1671.6L2509.6 1753.6M2436.6 1707.8L2518.6 1744.6M2436.6 1707.8L2404.6 1791.8M2385.4 1707.8L2417.4 1791.8M2385.4 1707.8L2303.4 1744.6M2349.2 1671.6L2312.4 1753.6M2349.2 1671.6L2265.2 1639.6M2349.2 1620.4L2265.2 1652.4M2349.2 1620.4L2312.4 1538.4M2385.4 1584.2L2303.4 1547.4M2385.4 1584.2L2417.4 1500.2M2436.6 1584.2L2404.6 1500.2M2436.6 1584.2L2518.6 1547.4M2472.8 1620.4L2509.6 1538.4M2472.8 1620.4L2556.8 1652.4M2435 1655.9L2420.9 1670M2420.9 1670L2401.1 1670M2401.1 1670L2387 1655.9M2387 1655.9L2387 1636.1M2387 1636.1L2401.1 1622M2401.1 1622L2420.9 1622M2420.9 1622L2435 1636.1M2435 1636.1L2435 1655.9M2349 1899L2473 1899M2349 1849L2473 1849M2349.5 1847.8L2437.2 1935.5M2384.8 1812.5L2472.5 1900.2M2386 1812L2386 1936M2436 1812L2436 1936M2437.2 1812.5L2349.5 1900.2M2472.5 1847.8L2384.8 1935.5M2472.8 1899.6L2556.8 1867.6M2472.8 1899.6L2509.6 1981.6M2436.6 1935.8L2518.6 1972.6M2436.6 1935.8L2404.6 2019.8M2385.4 1935.8L2417.4 2019.8M2385.4 1935.8L2303.4 1972.6M2349.2 1899.6L2312.4 1981.6M2349.2 1899.6L2265.2 1867.6M2349.2 1848.4L2265.2 1880.4M2349.2 1848.4L2312.4 1766.4M2385.4 1812.2L2303.4 1775.4M2385.4 1812.2L2417.4 1728.2M2436.6 1812.2L2404.6 1728.2M2436.6 1812.2L2518.6 1775.4M2472.8 1848.4L2509.6 1766.4M2472.8 1848.4L2556.8 1880.4M2435 1883.9L2420.9 1898M2420.9 1898L2401.1 1898M2401.1 1898L2387 1883.9M2387 1883.9L2387 1864.1M2387 1864.1L2401.1 1850M2401.1 1850L2420.9 1850M2420.9 1850L2435 1864.1M2435 1864.1L2435 1883.9M2349 2127L2473 2127M2349 2077L2473 2077M2349.5 2075.8L2437.2 2163.5M2384.8 2040.5L2472.5 2128.2M2386 2040L2386 2164M2436 2040L2436 2164M2437.2 2040.5L2349.5 2128.2M2472.5 2075.8L2384.8 2163.5M2472.8 2127.6L2556.8 2095.6M2472.8 2127.6L2509.6 2209.6M2436.6 2163.8L2518.6 2200.6M2436.6 2163.8L2404.6 2247.8M2385.4 2163.8L2417.4 2247.8M2385.4 2163.8L2303.4 2200.6M2349.2 2127.6L2312.4 2209.6M2349.2 2127.6L2265.2 2095.6M2349.2 2076.4L2265.2 2108.4M2349.2 2076.4L2312.4 1994.4M2385.4 2040.2L2303.4 2003.4M2385.4 2040.2L2417.4 1956.2M2436.6 2040.2L2404.6 1956.2M2436.6 2040.2L2518.6 2003.4M2472.8 2076.4L2509.6 1994.4M2472.8 2076.4L2556.8 2108.4M2435 2111.9L2420.9 2126M2420.9 2126L2401.1 2126M2401.1 2126L2387 2111.9M2387 2111.9L2387 2092.1M2387 2092.1L2401.1 2078M2401.1 2078L2420.9 2078M2420.9 2078L2435 2092.1M2435 2092.1L2435 2111.9M2349 2355L2473 2355M2349 2305L2473 2305M2349.5 2303.8L2437.2 2391.5M2384.8 2268.5L2472.5 2356.2M2386 2268L2386 2392M2436 2268L2436 2392M2437.2 2268.5L2349.5 2356.2M2472.5 2303.8L2384.8 2391.5M2472.8 2355.6L2556.8 2323.6M2472.8 2355.6L2509.6 2437.6M2436.6 2391.8L2518.6 2428.6M2436.6 2391.8L2404.6 2475.8M2385.4 2391.8L2417.4 2475.8M2385.4 2391.8L2303.4 2428.6M2349.2 2355.6L2312.4 2437.6M2349.2 2355.6L2265.2 2323.6M2349.2 2304.4L2265.2 2336.4M2349.2 2304.4L2312.4 2222.4M2385.4 2268.2L2303.4 2231.4M2385.4 2268.2L2417.4 2184.2M2436.6 2268.2L2404.6 2184.2M2436.6 2268.2L2518.6 2231.4M2472.8 2304.4L2509.6 2222.4M2472.8 2304.4L2556.8 2336.4M2435 2339.9L2420.9 2354M2420.9 2354L2401.1 2354M2401.1 2354L2387 2339.9M2387 2339.9L2387 2320.1M2387 2320.1L2401.1 2306M2401.1 2306L2420.9 2306M2420.9 2306L2435 2320.1M2435 2320.1L2435 2339.9M2349 2583L2473 2583M2349 2533L2473 2533M2349.5 2531.8L2437.2 2619.5M2384.8 2496.5L2472.5 2584.2M2386 2496L2386 2620M2436 2496L2436 2620M2437.2 2496.5L2349.5 2584.2M2472.5 2531.8L2384.8 2619.5M2472.8 2583.6L2556.8 2551.6M2472.8 2583.6L2509.6 2665.6M2436.6 2619.8L2518.6 2656.6M2436.6 2619.8L2404.6 2703.8M2385.4 2619.8L2417.4 2703.8M2385.4 2619.8L2303.4 2656.6M2349.2 2583.6L2312.4 2665.6M2349.2 2583.6L2265.2 2551.6M2349.2 2532.4L2265.2 2564.4M2349.2 2532.4L2312.4 2450.4M2385.4 2496.2L2303.4 2459.4M2385.4 2496.2L2417.4 2412.2M2436.6 2496.2L2404.6 2412.2M2436.6 2496.2L2518.6 2459.4M2472.8 2532.4L2509.6 2450.4M2472.8 2532.4L2556.8 2564.4M2435 2567.9L2420.9 2582M2420.9 2582L2401.1 2582M2401.1 2582L2387 2567.9M2387 2567.9L2387 2548.1M2387 2548.1L2401.1 2534M2401.1 2534L2420.9 2534M2420.9 2534L2435 2548.1M2435 2548.1L2435 2567.9M2349 2811L2473 2811M2349 2761L2473 2761M2349.5 2759.8L2437.2 2847.5M2384.8 2724.5L2472.5 2812.2M2386 2724L2386 2848M2436 2724L2436 2848M2437.2 2724.5L2349.5 2812.2M2472.5 2759.8L2384.8 2847.5M2472.8 2811.6L2556.8 2779.6M2472.8 2811.6L2509.6 2893.6M2436.6 2847.8L2518.6 2884.6M2436.6 2847.8L2404.6 2931.8M2385.4 2847.8L2417.4 2931.8M2385.4 2847.8L2303.4 2884.6M2349.2 2811.6L2312.4 2893.6M2349.2 2811.6L2265.2 2779.6M2349.2 2760.4L2265.2 2792.4M2349.2 2760.4L2312.4 2678.4M2385.4 2724.2L2303.4 2687.4M2385.4 2724.2L2417.4 2640.2M2436.6 2724.2L2404.6 2640.2M2436.6 2724.2L2518.6 2687.4M2472.8 2760.4L2509.6 2678.4M2472.8 2760.4L2556.8 2792.4M2435 2795.9L2420.9 2810M2420.9 2810L2401.1 2810M2401.1 2810L2387 2795.9M2387 2795.9L2387 2776.1M2387 2776.1L2401.1 2762M2401.1 2762L2420.9 2762M2420.9 2762L2435 2776.1M2435 2776.1L2435 2795.9M2349 3039L2473 3039M2349 2989L2473 2989M2349.5 2987.8L2437.2 3075.5M2384.8 2952.5L2472.5 3040.2M2386 2952L2386 3076M2436 2952L2436 3076M2437.2 2952.5L2349.5 3040.2M2472.5 2987.8L2384.8 3075.5M2472.8 3039.6L2556.8 3007.6M2472.8 3039.6L2509.6 3121.6M2436.6 3075.8L2518.6 3112.6M2436.6 3075.8L2404.6 3159.8M2385.4 3075.8L2417.4 3159.8M2385.4 3075.8L2303.4 3112.6M2349.2 3039.6L2312.4 3121.6M2349.2 3039.6L2265.2 3007.6M2349.2 2988.4L2265.2 3020.4M2349.2 2988.4L2312.4 2906.4M2385.4 2952.2L2303.4 2915.4M2385.4 2952.2L2417.4 2868.2M2436.6 2952.2L2404.6 2868.2M2436.6 2952.2L2518.6 2915.4M2472.8 2988.4L2509.6 2906.4M2472.8 2988.4L2556.8 3020.4M2435 3023.9L2420.9 3038M2420.9 3038L2401.1 3038M2401.1 3038L2387 3023.9M2387 3023.9L2387 3004.1M2387 3004.1L2401.1 2990M2401.1 2990L2420.9 2990M2420.9 2990L2435 3004.1M2435 3004.1L2435 3023.9M2349 3267L2473 3267M2349 3217L2473 3217M2349.5 3215.8L2437.2 3303.5M2384.8 3180.5L2472.5 3268.2M2386 3180L2386 3304M2436 3180L2436 3304M2437.2 3180.5L2349.5 3268.2M2472.5 3215.8L2384.8 3303.5M2472.8 3267.6L2556.8 3235.6M2472.8 3267.6L2509.6 3349.6M2436.6 3303.8L2518.6 3340.6M2436.6 3303.8L2404.6 3387.8M2385.4 3303.8L2417.4 3387.8M2385.4 3303.8L2303.4 3340.6M2349.2 3267.6L2312.4 3349.6M2349.2 3267.6L2265.2 3235.6M2349.2 3216.4L2265.2 3248.4M2349.2 3216.4L2312.4 3134.4M2385.4 3180.2L2303.4 3143.4M2385.4 3180.2L2417.4 3096.2M2436.6 3180.2L2404.6 3096.2M2436.6 3180.2L2518.6 3143.4M2472.8 3216.4L2509.6 3134.4M2472.8 3216.4L2556.8 3248.4M2435 3251.9L2420.9 3266M2420.9 3266L2401.1 3266M2401.1 3266L2387 3251.9M2387 3251.9L2387 3232.1M2387 3232.1L2401.1 3218M2401.1 3218L2420.9 3218M2420.9 3218L2435 3232.1M2435 3232.1L2435 3251.9M2349 3495L2473 3495M2349 3445L2473 3445M2349.5 3443.8L2437.2 3531.5M2384.8 3408.5L2472.5 3496.2M2386 3408L2386 3532M2436 3408L2436 3532M2437.2 3408.5L2349.5 3496.2M2472.5 3443.8L2384.8 3531.5M2472.8 3495.6L2556.8 3463.6M2472.8 3495.6L2509.6 3577.6M2436.6 3531.8L2518.6 3568.6M2436.6 3531.8L2404.6 3615.8M2385.4 3531.8L2417.4 3615.8M2385.4 3531.8L2303.4 3568.6M2349.2 3495.6L2312.4 3577.6M2349.2 3495.6L2265.2 3463.6M2349.2 3444.4L2265.2 3476.4M2349.2 3444.4L2312.4 3362.4M2385.4 3408.2L2303.4 3371.4M2385.4 3408.2L2417.4 3324.2M2436.6 3408.2L2404.6 3324.2M2436.6 3408.2L2518.6 3371.4M2472.8 3444.4L2509.6 3362.4M2472.8 3444.4L2556.8 3476.4M2435 3479.9L2420.9 3494M2420.9 3494L2401.1 3494M2401.1 3494L2387 3479.9M2387 3479.9L2387 3460.1M2387 3460.1L2401.1 3446M2401.1 3446L2420.9 3446M2420.9 3446L2435 3460.1M2435 3460.1L2435 3479.9M2349 3723L2473 3723M2349 3673L2473 3673M2349.5 3671.8L2437.2 3759.5M2384.8 3636.5L2472.5 3724.2M2386 3636L2386 3760M2436 3636L2436 3760M2437.2 3636.5L2349.5 3724.2M2472.5 3671.8L2384.8 3759.5M2472.8 3723.6L2556.8 3691.6M2472.8 3723.6L2509.6 3805.6M2436.6 3759.8L2518.6 3796.6M2436.6 3759.8L2404.6 3843.8M2385.4 3759.8L2417.4 3843.8M2385.4 3759.8L2303.4 3796.6M2349.2 3723.6L2312.4 3805.6M2349.2 3723.6L2265.2 3691.6M2349.2 3672.4L2265.2 3704.4M2349.2 3672.4L2312.4 3590.4M2385.4 3636.2L2303.4 3599.4M2385.4 3636.2L2417.4 3552.2M2436.6 3636.2L2404.6 3552.2M2436.6 3636.2L2518.6 3599.4M2472.8 3672.4L2509.6 3590.4M2472.8 3672.4L2556.8 3704.4M2435 3707.9L2420.9 3722M2420.9 3722L2401.1 3722M2401.1 3722L2387 3707.9M2387 3707.9L2387 3688.1M2387 3688.1L2401.1 3674M2401.1 3674L2420.9 3674M2420.9 3674L2435 3688.1M2435 3688.1L2435 3707.9M2583 -153L2707 -153M2583 -203L2707 -203M2583.5 -204.2L2671.2 -116.5M2618.8 -239.5L2706.5 -151.8M2620 -240L2620 -116M2670 -240L2670 -116M2671.2 -239.5L2583.5 -151.8M2706.5 -204.2L2618.8 -116.5M2706.8 -152.4L2790.8 -184.4M2706.8 -152.4L2743.6 -70.4M2670.6 -116.2L2752.6 -79.4M2670.6 -116.2L2638.6 -32.2M2619.4 -116.2L2651.4 -32.2M2619.4 -116.2L2537.4 -79.4M2583.2 -152.4L2546.4 -70.4M2583.2 -152.4L2499.2 -184.4M2583.2 -203.6L2499.2 -171.6M2583.2 -203.6L2546.4 -285.6M2619.4 -239.8L2537.4 -276.6M2619.4 -239.8L2651.4 -323.8M2670.6 -239.8L2638.6 -323.8M2670.6 -239.8L2752.6 -276.6M2706.8 -203.6L2743.6 -285.6M2706.8 -203.6L2790.8 -171.6M2645 -211L2652.6 -196.3M2652.6 -196.3L2668.3 -201.3M2668.3 -201.3L2663.3 -185.6M2663.3 -185.6L2678 -178M2678 -178L2663.3 -170.4M2663.3 -170.4L2668.3 -154.7M2668.3 -154.7L2652.6 -159.7M2652.6 -159.7L2645 -145M2645 -145L2637.4 -159.7M2637.4 -159.7L2621.7 -154.7M2621.7 -154.7L2626.7 -170.4M2626.7 -170.4L2612 -178M2612 -178L2626.7 -185.6M2626.7 -185.6L2621.7 -201.3M2621.7 -201.3L2637.4 -196.3M2637.4 -196.3L2645 -211M2583 75L2707 75M2583 25L2707 25M2583.5 23.8L2671.2 111.5M2618.8 -11.5L2706.5 76.2M2620 -12L2620 112M2670 -12L2670 112M2671.2 -11.5L2583.5 76.2M2706.5 23.8L2618.8 111.5M2706.8 75.6L2790.8 43.6M2706.8 75.6L2743.6 157.6M2670.6 111.8L2752.6 148.6M2670.6 111.8L2638.6 195.8M2619.4 111.8L2651.4 195.8M2619.4 111.8L2537.4 148.6M2583.2 75.6L2546.4 157.6M2583.2 75.6L2499.2 43.6M2583.2 24.4L2499.2 56.4M2583.2 24.4L2546.4 -57.6M2619.4 -11.8L2537.4 -48.6M2619.4 -11.8L2651.4 -95.8M2670.6 -11.8L2638.6 -95.8M2670.6 -11.8L2752.6 -48.6M2706.8 24.4L2743.6 -57.6M2706.8 24.4L2790.8 56.4M2645 17L2652.6 31.7M2652.6 31.7L2668.3 26.7M2668.3 26.7L2663.3 42.4M2663.3 42.4L2678 50M2678 50L2663.3 57.6M2663.3 57.6L2668.3 73.3M2668.3 73.3L2652.6 68.3M2652.6 68.3L2645 83M2645 83L2637.4 68.3M2637.4 68.3L2621.7 73.3M2621.7 73.3L2626.7 57.6M2626.7 57.6L2612 50M2612 50L2626.7 42.4M2626.7 42.4L2621.7 26.7M2621.7 26.7L2637.4 31.7M2637.4 31.7L2645 17M2583 303L2707 303M2583 253L2707 253M2583.5 251.8L2671.2 339.5M2618.8 216.5L2706.5 304.2M2620 216L2620 340M2670 216L2670 340M2671.2 216.5L2583.5 304.2M2706.5 251.8L2618.8 339.5M2706.8 303.6L2790.8 271.6M2706.8 303.6L2743.6 385.6M2670.6 339.8L2752.6 376.6M2670.6 339.8L2638.6 423.8M2619.4 339.8L2651.4 423.8M2619.4 339.8L2537.4 376.6M2583.2 303.6L2546.4 385.6M2583.2 303.6L2499.2 271.6M2583.2 252.4L2499.2 284.4M2583.2 252.4L2546.4 170.4M2619.4 216.2L2537.4 179.4M2619.4 216.2L2651.4 132.2M2670.6 216.2L2638.6 132.2M2670.6 216.2L2752.6 179.4M2706.8 252.4L2743.6 170.4M2706.8 252.4L2790.8 284.4M2645 245L2652.6 259.7M2652.6 259.7L2668.3 254.7M2668.3 254.7L2663.3 270.4M2663.3 270.4L2678 278M2678 278L2663.3 285.6M2663.3 285.6L2668.3 301.3M2668.3 301.3L2652.6 296.3M2652.6 296.3L2645 311M2645 311L2637.4 296.3M2637.4 296.3L2621.7 301.3M2621.7 301.3L2626.7 285.6M2626.7 285.6L2612 278M2612 278L2626.7 270.4M2626.7 270.4L2621.7 254.7M2621.7 254.7L2637.4 259.7M2637.4 259.7L2645 245M2583 531L2707 531M2583 481L2707 481M2583.5 479.8L2671.2 567.5M2618.8 444.5L2706.5 532.2M2620 444L2620 568M2670 444L2670 568M2671.2 444.5L2583.5 532.2M2706.5 479.8L2618.8 567.5M2706.8 531.6L2790.8 499.6M2706.8 531.6L2743.6 613.6M2670.6 567.8L2752.6 604.6M2670.6 567.8L2638.6 651.8M2619.4 567.8L2651.4 651.8M2619.4 567.8L2537.4 604.6M2583.2 531.6L2546.4 613.6M2583.2 531.6L2499.2 499.6M2583.2 480.4L2499.2 512.4M2583.2 480.4L2546.4 398.4M2619.4 444.2L2537.4 407.4M2619.4 444.2L2651.4 360.2M2670.6 444.2L2638.6 360.2M2670.6 444.2L2752.6 407.4M2706.8 480.4L2743.6 398.4M2706.8 480.4L2790.8 512.4M2645 473L2652.6 487.7M2652.6 487.7L2668.3 482.7M2668.3 482.7L2663.3 498.4M2663.3 498.4L2678 506M2678 506L2663.3 513.6M2663.3 513.6L2668.3 529.3M2668.3 529.3L2652.6 524.3M2652.6 524.3L2645 539M2645 539L2637.4 524.3M2637.4 524.3L2621.7 529.3M2621.7 529.3L2626.7 513.6M2626.7 513.6L2612 506M2612 506L2626.7 498.4M2626.7 498.4L2621.7 482.7M2621.7 482.7L2637.4 487.7M2637.4 487.7L2645 473M2583 759L2707 759M2583 709L2707 709M2583.5 707.8L2671.2 795.5M2618.8 672.5L2706.5 760.2M2620 672L2620 796M2670 672L2670 796M2671.2 672.5L2583.5 760.2M2706.5 707.8L2618.8 795.5M2706.8 759.6L2790.8 727.6M2706.8 759.6L2743.6 841.6M2670.6 795.8L2752.6 832.6M2670.6 795.8L2638.6 879.8M2619.4 795.8L2651.4 879.8M2619.4 795.8L2537.4 832.6M2583.2 759.6L2546.4 841.6M2583.2 759.6L2499.2 727.6M2583.2 708.4L2499.2 740.4M2583.2 708.4L2546.4 626.4M2619.4 672.2L2537.4 635.4M2619.4 672.2L2651.4 588.2M2670.6 672.2L2638.6 588.2M2670.6 672.2L2752.6 635.4M2706.8 708.4L2743.6 626.4M2706.8 708.4L2790.8 740.4M2645 701L2652.6 715.7M2652.6 715.7L2668.3 710.7M2668.3 710.7L2663.3 726.4M2663.3 726.4L2678 734M2678 734L2663.3 741.6M2663.3 741.6L2668.3 757.3M2668.3 757.3L2652.6 752.3M2652.6 752.3L2645 767M2645 767L2637.4 752.3M2637.4 752.3L2621.7 757.3M2621.7 757.3L2626.7 741.6M2626.7 741.6L2612 734M2612 734L2626.7 726.4M2626.7 726.4L2621.7 710.7M2621.7 710.7L2637.4 715.7M2637.4 715.7L2645 701M2583 987L2707 987M2583 937L2707 937M2583.5 935.8L2671.2 1023.5M2618.8 900.5L2706.5 988.2M2620 900L2620 1024M2670 900L2670 1024M2671.2 900.5L2583.5 988.2M2706.5 935.8L2618.8 1023.5M2706.8 987.6L2790.8 955.6M2706.8 987.6L2743.6 1069.6M2670.6 1023.8L2752.6 1060.6M2670.6 1023.8L2638.6 1107.8M2619.4 1023.8L2651.4 1107.8M2619.4 1023.8L2537.4 1060.6M2583.2 987.6L2546.4 1069.6M2583.2 987.6L2499.2 955.6M2583.2 936.4L2499.2 968.4M2583.2 936.4L2546.4 854.4M2619.4 900.2L2537.4 863.4M2619.4 900.2L2651.4 816.2M2670.6 900.2L2638.6 816.2M2670.6 900.2L2752.6 863.4M2706.8 936.4L2743.6 854.4M2706.8 936.4L2790.8 968.4M2645 929L2652.6 943.7M2652.6 943.7L2668.3 938.7M2668.3 938.7L2663.3 954.4M2663.3 954.4L2678 962M2678 962L2663.3 969.6M2663.3 969.6L2668.3 985.3M2668.3 985.3L2652.6 980.3M2652.6 980.3L2645 995M2645 995L2637.4 980.3M2637.4 980.3L2621.7 985.3M2621.7 985.3L2626.7 969.6M2626.7 969.6L2612 962M2612 962L2626.7 954.4M2626.7 954.4L2621.7 938.7M2621.7 938.7L2637.4 943.7M2637.4 943.7L2645 929M2583 1215L2707 1215M2583 1165L2707 1165M2583.5 1163.8L2671.2 1251.5M2618.8 1128.5L2706.5 1216.2M2620 1128L2620 1252M2670 1128L2670 1252M2671.2 1128.5L2583.5 1216.2M2706.5 1163.8L2618.8 1251.5M2706.8 1215.6L2790.8 1183.6M2706.8 1215.6L2743.6 1297.6M2670.6 1251.8L2752.6 1288.6M2670.6 1251.8L2638.6 1335.8M2619.4 1251.8L2651.4 1335.8M2619.4 1251.8L2537.4 1288.6M2583.2 1215.6L2546.4 1297.6M2583.2 1215.6L2499.2 1183.6M2583.2 1164.4L2499.2 1196.4M2583.2 1164.4L2546.4 1082.4M2619.4 1128.2L2537.4 1091.4M2619.4 1128.2L2651.4 1044.2M2670.6 1128.2L2638.6 1044.2M2670.6 1128.2L2752.6 1091.4M2706.8 1164.4L2743.6 1082.4M2706.8 1164.4L2790.8 1196.4M2645 1157L2652.6 1171.7M2652.6 1171.7L2668.3 1166.7M2668.3 1166.7L2663.3 1182.4M2663.3 1182.4L2678 1190M2678 1190L2663.3 1197.6M2663.3 1197.6L2668.3 1213.3M2668.3 1213.3L2652.6 1208.3M2652.6 1208.3L2645 1223M2645 1223L2637.4 1208.3M2637.4 1208.3L2621.7 1213.3M2621.7 1213.3L2626.7 1197.6M2626.7 1197.6L2612 1190M2612 1190L2626.7 1182.4M2626.7 1182.4L2621.7 1166.7M2621.7 1166.7L2637.4 1171.7M2637.4 1171.7L2645 1157M2583 1443L2707 1443M2583 1393L2707 1393M2583.5 1391.8L2671.2 1479.5M2618.8 1356.5L2706.5 1444.2M2620 1356L2620 1480M2670 1356L2670 1480M2671.2 1356.5L2583.5 1444.2M2706.5 1391.8L2618.8 1479.5M2706.8 1443.6L2790.8 1411.6M2706.8 1443.6L2743.6 1525.6M2670.6 1479.8L2752.6 1516.6M2670.6 1479.8L2638.6 1563.8M2619.4 1479.8L2651.4 1563.8M2619.4 1479.8L2537.4 1516.6M2583.2 1443.6L2546.4 1525.6M2583.2 1443.6L2499.2 1411.6M2583.2 1392.4L2499.2 1424.4M2583.2 1392.4L2546.4 1310.4M2619.4 1356.2L2537.4 1319.4M2619.4 1356.2L2651.4 1272.2M2670.6 1356.2L2638.6 1272.2M2670.6 1356.2L2752.6 1319.4M2706.8 1392.4L2743.6 1310.4M2706.8 1392.4L2790.8 1424.4M2645 1385L2652.6 1399.7M2652.6 1399.7L2668.3 1394.7M2668.3 1394.7L2663.3 1410.4M2663.3 1410.4L2678 1418M2678 1418L2663.3 1425.6M2663.3 1425.6L2668.3 1441.3M2668.3 1441.3L2652.6 1436.3M2652.6 1436.3L2645 1451M2645 1451L2637.4 1436.3M2637.4 1436.3L2621.7 1441.3M2621.7 1441.3L2626.7 1425.6M2626.7 1425.6L2612 1418M2612 1418L2626.7 1410.4M2626.7 1410.4L2621.7 1394.7M2621.7 1394.7L2637.4 1399.7M2637.4 1399.7L2645 1385M2583 1671L2707 1671M2583 1621L2707 1621M2583.5 1619.8L2671.2 1707.5M2618.8 1584.5L2706.5 1672.2M2620 1584L2620 1708M2670 1584L2670 1708M2671.2 1584.5L2583.5 1672.2M2706.5 1619.8L2618.8 1707.5M2706.8 1671.6L2790.8 1639.6M2706.8 1671.6L2743.6 1753.6M2670.6 1707.8L2752.6 1744.6M2670.6 1707.8L2638.6 1791.8M2619.4 1707.8L2651.4 1791.8M2619.4 1707.8L2537.4 1744.6M2583.2 1671.6L2546.4 1753.6M2583.2 1671.6L2499.2 1639.6M2583.2 1620.4L2499.2 1652.4M2583.2 1620.4L2546.4 1538.4M2619.4 1584.2L2537.4 1547.4M2619.4 1584.2L2651.4 1500.2M2670.6 1584.2L2638.6 1500.2M2670.6 1584.2L2752.6 1547.4M2706.8 1620.4L2743.6 1538.4M2706.8 1620.4L2790.8 1652.4M2645 1613L2652.6 1627.7M2652.6 1627.7L2668.3 1622.7M2668.3 1622.7L2663.3 1638.4M2663.3 1638.4L2678 1646M2678 1646L2663.3 1653.6M2663.3 1653.6L2668.3 1669.3M2668.3 1669.3L2652.6 1664.3M2652.6 1664.3L2645 1679M2645 1679L2637.4 1664.3M2637.4 1664.3L2621.7 1669.3M2621.7 1669.3L2626.7 1653.6M2626.7 1653.6L2612 1646M2612 1646L2626.7 1638.4M2626.7 1638.4L2621.7 1622.7M2621.7 1622.7L2637.4 1627.7M2637.4 1627.7L2645 1613M2583 1899L2707 1899M2583 1849L2707 1849M2583.5 1847.8L2671.2 1935.5M2618.8 1812.5L2706.5 1900.2M2620 1812L2620 1936M2670 1812L2670 1936M2671.2 1812.5L2583.5 1900.2M2706.5 1847.8L2618.8 1935.5M2706.8 1899.6L2790.8 1867.6M2706.8 1899.6L2743.6 1981.6M2670.6 1935.8L2752.6 1972.6M2670.6 1935.8L2638.6 2019.8M2619.4 1935.8L2651.4 2019.8M2619.4 1935.8L2537.4 1972.6M2583.2 1899.6L2546.4 1981.6M2583.2 1899.6L2499.2 1867.6M2583.2 1848.4L2499.2 1880.4M2583.2 1848.4L2546.4 1766.4M2619.4 1812.2L2537.4 1775.4M2619.4 1812.2L2651.4 1728.2M2670.6 1812.2L2638.6 1728.2M2670.6 1812.2L2752.6 1775.4M2706.8 1848.4L2743.6 1766.4M2706.8 1848.4L2790.8 1880.4M2645 1841L2652.6 1855.7M2652.6 1855.7L2668.3 1850.7M2668.3 1850.7L2663.3 1866.4M2663.3 1866.4L2678 1874M2678 1874L2663.3 1881.6M2663.3 1881.6L2668.3 1897.3M2668.3 1897.3L2652.6 1892.3M2652.6 1892.3L2645 1907M2645 1907L2637.4 1892.3M2637.4 1892.3L2621.7 1897.3M2621.7 1897.3L2626.7 1881.6M2626.7 1881.6L2612 1874M2612 1874L2626.7 1866.4M2626.7 1866.4L2621.7 1850.7M2621.7 1850.7L2637.4 1855.7M2637.4 1855.7L2645 1841M2583 2127L2707 2127M2583 2077L2707 2077M2583.5 2075.8L2671.2 2163.5M2618.8 2040.5L2706.5 2128.2M2620 2040L2620 2164M2670 2040L2670 2164M2671.2 2040.5L2583.5 2128.2M2706.5 2075.8L2618.8 2163.5M2706.8 2127.6L2790.8 2095.6M2706.8 2127.6L2743.6 2209.6M2670.6 2163.8L2752.6 2200.6M2670.6 2163.8L2638.6 2247.8M2619.4 2163.8L2651.4 2247.8M2619.4 2163.8L2537.4 2200.6M2583.2 2127.6L2546.4 2209.6M2583.2 2127.6L2499.2 2095.6M2583.2 2076.4L2499.2 2108.4M2583.2 2076.4L2546.4 1994.4M2619.4 2040.2L2537.4 2003.4M2619.4 2040.2L2651.4 1956.2M2670.6 2040.2L2638.6 1956.2M2670.6 2040.2L2752.6 2003.4M2706.8 2076.4L2743.6 1994.4M2706.8 2076.4L2790.8 2108.4M2645 2069L2652.6 2083.7M2652.6 2083.7L2668.3 2078.7M2668.3 2078.7L2663.3 2094.4M2663.3 2094.4L2678 2102M2678 2102L2663.3 2109.6M2663.3 2109.6L2668.3 2125.3M2668.3 2125.3L2652.6 2120.3M2652.6 2120.3L2645 2135M2645 2135L2637.4 2120.3M2637.4 2120.3L2621.7 2125.3M2621.7 2125.3L2626.7 2109.6M2626.7 2109.6L2612 2102M2612 2102L2626.7 2094.4M2626.7 2094.4L2621.7 2078.7M2621.7 2078.7L2637.4 2083.7M2637.4 2083.7L2645 2069M2583 2355L2707 2355M2583 2305L2707 2305M2583.5 2303.8L2671.2 2391.5M2618.8 2268.5L2706.5 2356.2M2620 2268L2620 2392M2670 2268L2670 2392M2671.2 2268.5L2583.5 2356.2M2706.5 2303.8L2618.8 2391.5M2706.8 2355.6L2790.8 2323.6M2706.8 2355.6L2743.6 2437.6M2670.6 2391.8L2752.6 2428.6M2670.6 2391.8L2638.6 2475.8M2619.4 2391.8L2651.4 2475.8M2619.4 2391.8L2537.4 2428.6M2583.2 2355.6L2546.4 2437.6M2583.2 2355.6L2499.2 2323.6M2583.2 2304.4L2499.2 2336.4M2583.2 2304.4L2546.4 2222.4M2619.4 2268.2L2537.4 2231.4M2619.4 2268.2L2651.4 2184.2M2670.6 2268.2L2638.6 2184.2M2670.6 2268.2L2752.6 2231.4M2706.8 2304.4L2743.6 2222.4M2706.8 2304.4L2790.8 2336.4M2645 2297L2652.6 2311.7M2652.6 2311.7L2668.3 2306.7M2668.3 2306.7L2663.3 2322.4M2663.3 2322.4L2678 2330M2678 2330L2663.3 2337.6M2663.3 2337.6L2668.3 2353.3M2668.3 2353.3L2652.6 2348.3M2652.6 2348.3L2645 2363M2645 2363L2637.4 2348.3M2637.4 2348.3L2621.7 2353.3M2621.7 2353.3L2626.7 2337.6M2626.7 2337.6L2612 2330M2612 2330L2626.7 2322.4M2626.7 2322.4L2621.7 2306.7M2621.7 2306.7L2637.4 2311.7M2637.4 2311.7L2645 2297M2583 2583L2707 2583M2583 2533L2707 2533M2583.5 2531.8L2671.2 2619.5M2618.8 2496.5L2706.5 2584.2M2620 2496L2620 2620M2670 2496L2670 2620M2671.2 2496.5L2583.5 2584.2M2706.5 2531.8L2618.8 2619.5M2706.8 2583.6L2790.8 2551.6M2706.8 2583.6L2743.6 2665.6M2670.6 2619.8L2752.6 2656.6M2670.6 2619.8L2638.6 2703.8M2619.4 2619.8L2651.4 2703.8M2619.4 2619.8L2537.4 2656.6M2583.2 2583.6L2546.4 2665.6M2583.2 2583.6L2499.2 2551.6M2583.2 2532.4L2499.2 2564.4M2583.2 2532.4L2546.4 2450.4M2619.4 2496.2L2537.4 2459.4M2619.4 2496.2L2651.4 2412.2M2670.6 2496.2L2638.6 2412.2M2670.6 2496.2L2752.6 2459.4M2706.8 2532.4L2743.6 2450.4M2706.8 2532.4L2790.8 2564.4M2645 2525L2652.6 2539.7M2652.6 2539.7L2668.3 2534.7M2668.3 2534.7L2663.3 2550.4M2663.3 2550.4L2678 2558M2678 2558L2663.3 2565.6M2663.3 2565.6L2668.3 2581.3M2668.3 2581.3L2652.6 2576.3M2652.6 2576.3L2645 2591M2645 2591L2637.4 2576.3M2637.4 2576.3L2621.7 2581.3M2621.7 2581.3L2626.7 2565.6M2626.7 2565.6L2612 2558M2612 2558L2626.7 2550.4M2626.7 2550.4L2621.7 2534.7M2621.7 2534.7L2637.4 2539.7M2637.4 2539.7L2645 2525M2583 2811L2707 2811M2583 2761L2707 2761M2583.5 2759.8L2671.2 2847.5M2618.8 2724.5L2706.5 2812.2M2620 2724L2620 2848M2670 2724L2670 2848M2671.2 2724.5L2583.5 2812.2M2706.5 2759.8L2618.8 2847.5M2706.8 2811.6L2790.8 2779.6M2706.8 2811.6L2743.6 2893.6M2670.6 2847.8L2752.6 2884.6M2670.6 2847.8L2638.6 2931.8M2619.4 2847.8L2651.4 2931.8M2619.4 2847.8L2537.4 2884.6M2583.2 2811.6L2546.4 2893.6M2583.2 2811.6L2499.2 2779.6M2583.2 2760.4L2499.2 2792.4M2583.2 2760.4L2546.4 2678.4M2619.4 2724.2L2537.4 2687.4M2619.4 2724.2L2651.4 2640.2M2670.6 2724.2L2638.6 2640.2M2670.6 2724.2L2752.6 2687.4M2706.8 2760.4L2743.6 2678.4M2706.8 2760.4L2790.8 2792.4M2645 2753L2652.6 2767.7M2652.6 2767.7L2668.3 2762.7M2668.3 2762.7L2663.3 2778.4M2663.3 2778.4L2678 2786M2678 2786L2663.3 2793.6M2663.3 2793.6L2668.3 2809.3M2668.3 2809.3L2652.6 2804.3M2652.6 2804.3L2645 2819M2645 2819L2637.4 2804.3M2637.4 2804.3L2621.7 2809.3M2621.7 2809.3L2626.7 2793.6M2626.7 2793.6L2612 2786M2612 2786L2626.7 2778.4M2626.7 2778.4L2621.7 2762.7M2621.7 2762.7L2637.4 2767.7M2637.4 2767.7L2645 2753M2583 3039L2707 3039M2583 2989L2707 2989M2583.5 2987.8L2671.2 3075.5M2618.8 2952.5L2706.5 3040.2M2620 2952L2620 3076M2670 2952L2670 3076M2671.2 2952.5L2583.5 3040.2M2706.5 2987.8L2618.8 3075.5M2706.8 3039.6L2790.8 3007.6M2706.8 3039.6L2743.6 3121.6M2670.6 3075.8L2752.6 3112.6M2670.6 3075.8L2638.6 3159.8M2619.4 3075.8L2651.4 3159.8M2619.4 3075.8L2537.4 3112.6M2583.2 3039.6L2546.4 3121.6M2583.2 3039.6L2499.2 3007.6M2583.2 2988.4L2499.2 3020.4M2583.2 2988.4L2546.4 2906.4M2619.4 2952.2L2537.4 2915.4M2619.4 2952.2L2651.4 2868.2M2670.6 2952.2L2638.6 2868.2M2670.6 2952.2L2752.6 2915.4M2706.8 2988.4L2743.6 2906.4M2706.8 2988.4L2790.8 3020.4M2645 2981L2652.6 2995.7M2652.6 2995.7L2668.3 2990.7M2668.3 2990.7L2663.3 3006.4M2663.3 3006.4L2678 3014M2678 3014L2663.3 3021.6M2663.3 3021.6L2668.3 3037.3M2668.3 3037.3L2652.6 3032.3M2652.6 3032.3L2645 3047M2645 3047L2637.4 3032.3M2637.4 3032.3L2621.7 3037.3M2621.7 3037.3L2626.7 3021.6M2626.7 3021.6L2612 3014M2612 3014L2626.7 3006.4M2626.7 3006.4L2621.7 2990.7M2621.7 2990.7L2637.4 2995.7M2637.4 2995.7L2645 2981M2583 3267L2707 3267M2583 3217L2707 3217M2583.5 3215.8L2671.2 3303.5M2618.8 3180.5L2706.5 3268.2M2620 3180L2620 3304M2670 3180L2670 3304M2671.2 3180.5L2583.5 3268.2M2706.5 3215.8L2618.8 3303.5M2706.8 3267.6L2790.8 3235.6M2706.8 3267.6L2743.6 3349.6M2670.6 3303.8L2752.6 3340.6M2670.6 3303.8L2638.6 3387.8M2619.4 3303.8L2651.4 3387.8M2619.4 3303.8L2537.4 3340.6M2583.2 3267.6L2546.4 3349.6M2583.2 3267.6L2499.2 3235.6M2583.2 3216.4L2499.2 3248.4M2583.2 3216.4L2546.4 3134.4M2619.4 3180.2L2537.4 3143.4M2619.4 3180.2L2651.4 3096.2M2670.6 3180.2L2638.6 3096.2M2670.6 3180.2L2752.6 3143.4M2706.8 3216.4L2743.6 3134.4M2706.8 3216.4L2790.8 3248.4M2645 3209L2652.6 3223.7M2652.6 3223.7L2668.3 3218.7M2668.3 3218.7L2663.3 3234.4M2663.3 3234.4L2678 3242M2678 3242L2663.3 3249.6M2663.3 3249.6L2668.3 3265.3M2668.3 3265.3L2652.6 3260.3M2652.6 3260.3L2645 3275M2645 3275L2637.4 3260.3M2637.4 3260.3L2621.7 3265.3M2621.7 3265.3L2626.7 3249.6M2626.7 3249.6L2612 3242M2612 3242L2626.7 3234.4M2626.7 3234.4L2621.7 3218.7M2621.7 3218.7L2637.4 3223.7M2637.4 3223.7L2645 3209M2583 3495L2707 3495M2583 3445L2707 3445M2583.5 3443.8L2671.2 3531.5M2618.8 3408.5L2706.5 3496.2M2620 3408L2620 3532M2670 3408L2670 3532M2671.2 3408.5L2583.5 3496.2M2706.5 3443.8L2618.8 3531.5M2706.8 3495.6L2790.8 3463.6M2706.8 3495.6L2743.6 3577.6M2670.6 3531.8L2752.6 3568.6M2670.6 3531.8L2638.6 3615.8M2619.4 3531.8L2651.4 3615.8M2619.4 3531.8L2537.4 3568.6M2583.2 3495.6L2546.4 3577.6M2583.2 3495.6L2499.2 3463.6M2583.2 3444.4L2499.2 3476.4M2583.2 3444.4L2546.4 3362.4M2619.4 3408.2L2537.4 3371.4M2619.4 3408.2L2651.4 3324.2M2670.6 3408.2L2638.6 3324.2M2670.6 3408.2L2752.6 3371.4M2706.8 3444.4L2743.6 3362.4M2706.8 3444.4L2790.8 3476.4M2645 3437L2652.6 3451.7M2652.6 3451.7L2668.3 3446.7M2668.3 3446.7L2663.3 3462.4M2663.3 3462.4L2678 3470M2678 3470L2663.3 3477.6M2663.3 3477.6L2668.3 3493.3M2668.3 3493.3L2652.6 3488.3M2652.6 3488.3L2645 3503M2645 3503L2637.4 3488.3M2637.4 3488.3L2621.7 3493.3M2621.7 3493.3L2626.7 3477.6M2626.7 3477.6L2612 3470M2612 3470L2626.7 3462.4M2626.7 3462.4L2621.7 3446.7M2621.7 3446.7L2637.4 3451.7M2637.4 3451.7L2645 3437M2583 3723L2707 3723M2583 3673L2707 3673M2583.5 3671.8L2671.2 3759.5M2618.8 3636.5L2706.5 3724.2M2620 3636L2620 3760M2670 3636L2670 3760M2671.2 3636.5L2583.5 3724.2M2706.5 3671.8L2618.8 3759.5M2706.8 3723.6L2790.8 3691.6M2706.8 3723.6L2743.6 3805.6M2670.6 3759.8L2752.6 3796.6M2670.6 3759.8L2638.6 3843.8M2619.4 3759.8L2651.4 3843.8M2619.4 3759.8L2537.4 3796.6M2583.2 3723.6L2546.4 3805.6M2583.2 3723.6L2499.2 3691.6M2583.2 3672.4L2499.2 3704.4M2583.2 3672.4L2546.4 3590.4M2619.4 3636.2L2537.4 3599.4M2619.4 3636.2L2651.4 3552.2M2670.6 3636.2L2638.6 3552.2M2670.6 3636.2L2752.6 3599.4M2706.8 3672.4L2743.6 3590.4M2706.8 3672.4L2790.8 3704.4M2645 3665L2652.6 3679.7M2652.6 3679.7L2668.3 3674.7M2668.3 3674.7L2663.3 3690.4M2663.3 3690.4L2678 3698M2678 3698L2663.3 3705.6M2663.3 3705.6L2668.3 3721.3M2668.3 3721.3L2652.6 3716.3M2652.6 3716.3L2645 3731M2645 3731L2637.4 3716.3M2637.4 3716.3L2621.7 3721.3M2621.7 3721.3L2626.7 3705.6M2626.7 3705.6L2612 3698M2612 3698L2626.7 3690.4M2626.7 3690.4L2621.7 3674.7M2621.7 3674.7L2637.4 3679.7M2637.4 3679.7L2645 3665" fill="none" stroke="#d0e2dd" stroke-width="7" stroke-linecap="round" stroke-linejoin="round"/>

<g>
 <mask id="cm"><rect x="0" y="0" width="600" height="600" fill="#fff"/><circle cx="272.8" cy="182.4" r="105.3" fill="#000"/></mask>
 <mask id="cm2"><rect x="0" y="0" width="600" height="600" fill="#fff"/><circle cx="272.8" cy="182.4" r="101.3" fill="#000"/></mask>
 <circle cx="245" cy="215" r="124.5" fill="#fff" mask="url(#cm2)"/>
 <circle cx="245" cy="215" r="120.5" fill="#23b05e" mask="url(#cm)"/>
 <path d="M324 104 L331.3 117.9 L346.3 113.2 L341.6 128.2 L355.5 135.5 L341.6 142.8 L346.3 157.8 L331.3 153.1 L324 167 L316.7 153.1 L301.7 157.8 L306.4 142.8 L292.5 135.5 L306.4 128.2 L301.7 113.2 L316.7 117.9Z" fill="#fff" stroke="#fff" stroke-width="9" stroke-linejoin="miter"/>
 <path d="M324 104 L331.3 117.9 L346.3 113.2 L341.6 128.2 L355.5 135.5 L341.6 142.8 L346.3 157.8 L331.3 153.1 L324 167 L316.7 153.1 L301.7 157.8 L306.4 142.8 L292.5 135.5 L306.4 128.2 L301.7 113.2 L316.7 117.9Z" fill="#23b05e"/>
</g>
<path d="M1240 36 C1238.2 42.3 1234 63.3 1229 74 C1224 84.7 1216 91.5 1210 100 C1204 108.5 1202.8 114.5 1193 125 C1183.2 135.5 1164.9 152.5 1151 163 C1137.1 173.5 1123.4 181 1109.5 188 C1095.6 195 1088.5 199.5 1067.6 205 C1046.7 210.5 1008.6 217.8 984 221 C959.4 224.2 940.5 224.2 920 224 C899.5 223.8 895.5 221.5 861 220 C826.5 218.5 756.2 214.8 713 215 C669.8 215.2 632.8 216.3 602 221 C571.2 225.7 549.7 232 528 243 C506.3 254 488 269.8 472 287 C456 304.2 442.2 323.8 432 346 C421.8 368.2 415.3 395.3 411 420 C406.7 444.7 406.8 481.7 406 494 L332 494 C326.3 495.3 309.8 497.8 298 502 C286.2 506.2 272.2 512 261 519 C249.8 526 239.2 535 231 544 C222.8 553 217.1 562.3 212 573 C206.9 583.7 202.7 597.2 200.5 608 C198.3 618.8 198.8 628.2 199 638 C199.2 647.8 200.3 658 202 667 C203.7 676 205.8 684.2 209 692 C212.2 699.8 217.3 707.2 221.5 714 C225.7 720.8 231.9 729.8 234 733 L180 733 C173 734.5 150.5 737.3 138 742 C125.5 746.7 115.2 753.3 105 761 C94.8 768.7 84.3 779 77 788 C69.7 797 65 806 61 815 C57 824 54.7 833 53 842 C51.3 851 51.3 861 51 869 C50.7 877 51 886.5 51 890 L51 3520 L2429 3520 C2429 886.5 2429.3 877 2429 869 C2428.7 861 2428.7 851 2427 842 C2425.3 833 2423 824 2419 815 C2415 806 2410.3 797 2403 788 C2395.7 779 2385.2 768.7 2375 761 C2364.8 753.3 2354.5 746.7 2342 742 C2329.5 737.3 2307 734.5 2300 733 L2246 733 C2248.1 729.8 2254.3 720.8 2258.5 714 C2262.7 707.2 2267.8 699.8 2271 692 C2274.2 684.2 2276.3 676 2278 667 C2279.7 658 2280.8 647.8 2281 638 C2281.2 628.2 2281.7 618.8 2279.5 608 C2277.3 597.2 2273.1 583.7 2268 573 C2262.9 562.3 2257.2 553 2249 544 C2240.8 535 2230.2 526 2219 519 C2207.8 512 2193.8 506.2 2182 502 C2170.2 497.8 2153.7 495.3 2148 494 L2074 494 C2073.2 481.7 2073.3 444.7 2069 420 C2064.7 395.3 2058.2 368.2 2048 346 C2037.8 323.8 2024 304.2 2008 287 C1992 269.8 1973.7 254 1952 243 C1930.3 232 1908.8 225.7 1878 221 C1847.2 216.3 1810.2 215.2 1767 215 C1723.8 214.8 1653.5 218.5 1619 220 C1584.5 221.5 1580.5 223.8 1560 224 C1539.5 224.2 1520.6 224.2 1496 221 C1471.4 217.8 1433.3 210.5 1412.4 205 C1391.5 199.5 1384.4 195 1370.5 188 C1356.6 181 1342.9 173.5 1329 163 C1315.1 152.5 1296.8 135.5 1287 125 C1277.2 114.5 1276 108.5 1270 100 C1264 91.5 1256 84.7 1251 74 C1246 63.3 1241.8 42.3 1240 36 Z" fill="#fff" stroke="#fff" stroke-width="9" stroke-linejoin="miter" stroke-miterlimit="10"/>
<path d="M1240 36 C1238.2 42.3 1234 63.3 1229 74 C1224 84.7 1216 91.5 1210 100 C1204 108.5 1202.8 114.5 1193 125 C1183.2 135.5 1164.9 152.5 1151 163 C1137.1 173.5 1123.4 181 1109.5 188 C1095.6 195 1088.5 199.5 1067.6 205 C1046.7 210.5 1008.6 217.8 984 221 C959.4 224.2 940.5 224.2 920 224 C899.5 223.8 895.5 221.5 861 220 C826.5 218.5 756.2 214.8 713 215 C669.8 215.2 632.8 216.3 602 221 C571.2 225.7 549.7 232 528 243 C506.3 254 488 269.8 472 287 C456 304.2 442.2 323.8 432 346 C421.8 368.2 415.3 395.3 411 420 C406.7 444.7 406.8 481.7 406 494 L332 494 C326.3 495.3 309.8 497.8 298 502 C286.2 506.2 272.2 512 261 519 C249.8 526 239.2 535 231 544 C222.8 553 217.1 562.3 212 573 C206.9 583.7 202.7 597.2 200.5 608 C198.3 618.8 198.8 628.2 199 638 C199.2 647.8 200.3 658 202 667 C203.7 676 205.8 684.2 209 692 C212.2 699.8 217.3 707.2 221.5 714 C225.7 720.8 231.9 729.8 234 733 L180 733 C173 734.5 150.5 737.3 138 742 C125.5 746.7 115.2 753.3 105 761 C94.8 768.7 84.3 779 77 788 C69.7 797 65 806 61 815 C57 824 54.7 833 53 842 C51.3 851 51.3 861 51 869 C50.7 877 51 886.5 51 890 L51 3503.5 L2429 3503.5 C2429 886.5 2429.3 877 2429 869 C2428.7 861 2428.7 851 2427 842 C2425.3 833 2423 824 2419 815 C2415 806 2410.3 797 2403 788 C2395.7 779 2385.2 768.7 2375 761 C2364.8 753.3 2354.5 746.7 2342 742 C2329.5 737.3 2307 734.5 2300 733 L2246 733 C2248.1 729.8 2254.3 720.8 2258.5 714 C2262.7 707.2 2267.8 699.8 2271 692 C2274.2 684.2 2276.3 676 2278 667 C2279.7 658 2280.8 647.8 2281 638 C2281.2 628.2 2281.7 618.8 2279.5 608 C2277.3 597.2 2273.1 583.7 2268 573 C2262.9 562.3 2257.2 553 2249 544 C2240.8 535 2230.2 526 2219 519 C2207.8 512 2193.8 506.2 2182 502 C2170.2 497.8 2153.7 495.3 2148 494 L2074 494 C2073.2 481.7 2073.3 444.7 2069 420 C2064.7 395.3 2058.2 368.2 2048 346 C2037.8 323.8 2024 304.2 2008 287 C1992 269.8 1973.7 254 1952 243 C1930.3 232 1908.8 225.7 1878 221 C1847.2 216.3 1810.2 215.2 1767 215 C1723.8 214.8 1653.5 218.5 1619 220 C1584.5 221.5 1580.5 223.8 1560 224 C1539.5 224.2 1520.6 224.2 1496 221 C1471.4 217.8 1433.3 210.5 1412.4 205 C1391.5 199.5 1384.4 195 1370.5 188 C1356.6 181 1342.9 173.5 1329 163 C1315.1 152.5 1296.8 135.5 1287 125 C1277.2 114.5 1276 108.5 1270 100 C1264 91.5 1256 84.7 1251 74 C1246 63.3 1241.8 42.3 1240 36 Z" fill="#23b05e"/>
<path d="M1240 171 C1227.3 171 1213.3 177.3 1202 184 C1190.7 190.7 1184 202.7 1172 211 C1160 219.3 1147.3 227 1130 234 C1112.7 241 1092.3 247.7 1068 253 C1043.7 258.3 1008.7 263.5 984 266 C959.3 268.5 940.5 268.3 920 268 C899.5 267.7 895.5 265.4 861 264 C826.5 262.6 753.2 258.7 713 259.5 C672.8 260.3 647.8 263.1 620 269 C592.2 274.9 565.7 284 546 295 C526.3 306 513.7 319.7 502 335 C490.3 350.3 481.8 369.7 476 387 C470.2 404.3 468.9 420.2 467 439 C465.1 457.8 464.8 480.3 464.3 500 C463.9 519.7 464.3 547.5 464.3 557 L335 557 C329.7 557.8 312 558.8 303 562 C294 565.2 287.2 570 281 576 C274.8 582 269.8 589.3 266 598 C262.2 606.7 259 618.5 258 628 C257 637.5 258.3 646 260 655 C261.7 664 265 675 268 682 C271 689 276.3 694.5 278 697 L362 793 L182 793 C177 794.2 160.3 796.8 152 800 C143.7 803.2 137.7 806.8 132 812 C126.3 817.2 121.5 823.7 118 831 C114.5 838.3 112.6 848.5 111 856 C109.4 863.5 109 868.7 108.6 876 C108.2 883.3 108.6 896 108.6 900 L108.6 3520 L2371.4 3520 C2371.4 896 2371.8 883.3 2371.4 876 C2371 868.7 2370.6 863.5 2369 856 C2367.4 848.5 2365.5 838.3 2362 831 C2358.5 823.7 2353.7 817.2 2348 812 C2342.3 806.8 2336.3 803.2 2328 800 C2319.7 796.8 2303 794.2 2298 793 L2118 793 L2202 697 C2203.7 694.5 2209 689 2212 682 C2215 675 2218.3 664 2220 655 C2221.7 646 2223 637.5 2222 628 C2221 618.5 2217.8 606.7 2214 598 C2210.2 589.3 2205.2 582 2199 576 C2192.8 570 2186 565.2 2177 562 C2168 558.8 2150.3 557.8 2145 557 L2015.7 557 C2015.7 547.5 2016.2 519.7 2015.7 500 C2015.2 480.3 2015 457.8 2013 439 C2011 420.2 2009.8 404.3 2004 387 C1998.2 369.7 1989.7 350.3 1978 335 C1966.3 319.7 1953.7 306 1934 295 C1914.3 284 1887.8 274.9 1860 269 C1832.2 263.1 1807.2 260.3 1767 259.5 C1726.8 258.7 1653.5 262.6 1619 264 C1584.5 265.4 1580.5 267.7 1560 268 C1539.5 268.3 1520.7 268.5 1496 266 C1471.3 263.5 1436.3 258.3 1412 253 C1387.7 247.7 1367.3 241 1350 234 C1332.7 227 1320 219.3 1308 211 C1296 202.7 1289.3 190.7 1278 184 C1266.7 177.3 1252.7 171 1240 171 Z" fill="#fff"/>

<g>
 <line x1="2159.5" y1="0" x2="2159.5" y2="66" stroke="#fff" stroke-width="5"/>
 <circle cx="2159.5" cy="3" r="7" fill="#fff"/>
 <g stroke="#fff" stroke-width="8" stroke-linejoin="round">
  <path d="M2160 63 C2161.8 65 2166.5 70.3 2171 75 C2175.5 79.7 2181.8 85.7 2187 91 C2192.2 96.3 2197.7 101.7 2202 107 C2206.3 112.3 2210.5 117.3 2213 123 C2215.5 128.7 2216.7 135 2217 141 C2217.3 147 2216.5 153.5 2215 159 C2213.5 164.5 2208.2 170.2 2208 174 C2207.8 177.8 2212.2 179 2214 182 C2215.8 185 2218.5 188.3 2219 192 C2219.5 195.7 2218.8 200.8 2217 204 C2215.2 207.2 2209.5 209.8 2208 211 L2112 211 C2110.5 209.8 2104.8 207.2 2103 204 C2101.2 200.8 2100.5 195.7 2101 192 C2101.5 188.3 2104.2 185 2106 182 C2107.8 179 2112.2 177.8 2112 174 C2111.8 170.2 2106.5 164.5 2105 159 C2103.5 153.5 2102.7 147 2103 141 C2103.3 135 2104.5 128.7 2107 123 C2109.5 117.3 2113.7 112.3 2118 107 C2122.3 101.7 2127.8 96.3 2133 91 C2138.2 85.7 2144.5 79.7 2149 75 C2153.5 70.3 2158.2 65 2160 63 Z" fill="#fff"/>
  <rect x="2113" y="208" width="97" height="58" fill="#fff"/>
  <rect x="2105" y="270" width="113" height="42" rx="8" fill="#fff"/>
  <rect x="2112" y="300" width="98" height="190" fill="#fff"/>
 </g>
 <path d="M2160 63 C2161.8 65 2166.5 70.3 2171 75 C2175.5 79.7 2181.8 85.7 2187 91 C2192.2 96.3 2197.7 101.7 2202 107 C2206.3 112.3 2210.5 117.3 2213 123 C2215.5 128.7 2216.7 135 2217 141 C2217.3 147 2216.5 153.5 2215 159 C2213.5 164.5 2208.2 170.2 2208 174 C2207.8 177.8 2212.2 179 2214 182 C2215.8 185 2218.5 188.3 2219 192 C2219.5 195.7 2218.8 200.8 2217 204 C2215.2 207.2 2209.5 209.8 2208 211 L2112 211 C2110.5 209.8 2104.8 207.2 2103 204 C2101.2 200.8 2100.5 195.7 2101 192 C2101.5 188.3 2104.2 185 2106 182 C2107.8 179 2112.2 177.8 2112 174 C2111.8 170.2 2106.5 164.5 2105 159 C2103.5 153.5 2102.7 147 2103 141 C2103.3 135 2104.5 128.7 2107 123 C2109.5 117.3 2113.7 112.3 2118 107 C2122.3 101.7 2127.8 96.3 2133 91 C2138.2 85.7 2144.5 79.7 2149 75 C2153.5 70.3 2158.2 65 2160 63 Z" fill="#23b05e"/>
 <rect x="2113" y="208" width="97" height="58" fill="#23b05e"/>
 <rect x="2131" y="216" width="58" height="46" fill="#fff"/>
 <rect x="2116" y="213" width="12" height="24" fill="#fff"/>
 <rect x="2157" y="216" width="3" height="46" fill="#23b05e"/>
 <rect x="2204" y="212" width="6" height="54" fill="#fff"/>
 <rect x="2105" y="270" width="113" height="42" rx="8" fill="#23b05e"/>
 <rect x="2112" y="300" width="98" height="205" fill="#23b05e"/>
 <ellipse cx="2159.5" cy="29" rx="4" ry="3" fill="#23b05e" stroke="#fff" stroke-width="2"/>
 <ellipse cx="2159.5" cy="40" rx="4" ry="3" fill="#23b05e" stroke="#fff" stroke-width="2"/>
</g>
<g><rect x="954.5" y="950" width="194" height="79.8" fill="#ff9f9f"/><rect x="1933.5" y="950" width="195" height="79.8" fill="#a0fda0"/><rect x="155" y="1029.8" width="258.5" height="79.8" fill="#a0fda0"/><rect x="413.5" y="1029.8" width="389.5" height="79.8" fill="#a0fda0"/><rect x="803" y="1029.8" width="151.5" height="79.8" fill="#a0fda0"/><rect x="954.5" y="1029.8" width="194" height="79.8" fill="#ff9f9f"/><rect x="1148.5" y="1029.8" width="194" height="79.8" fill="#a0fda0"/><rect x="1342.5" y="1029.8" width="195.5" height="79.8" fill="#a0fda0"/><rect x="1538" y="1029.8" width="201" height="79.8" fill="#a0fda0"/><rect x="1739" y="1029.8" width="194.5" height="79.8" fill="#a0fda0"/><rect x="1933.5" y="1029.8" width="195" height="79.8" fill="#a0fda0"/><rect x="2128.5" y="1029.8" width="194.5" height="79.8" fill="#a0fda0"/><rect x="954.5" y="1109.7" width="194" height="79.8" fill="#ff9f9f"/><rect x="1933.5" y="1109.7" width="195" height="79.8" fill="#a0fda0"/><rect x="155" y="1189.5" width="258.5" height="79.8" fill="#ff9f9f"/><rect x="413.5" y="1189.5" width="389.5" height="79.8" fill="#ff9f9f"/><rect x="803" y="1189.5" width="151.5" height="79.8" fill="#ff9f9f"/><rect x="954.5" y="1189.5" width="194" height="79.8" fill="#ff9f9f"/><rect x="1148.5" y="1189.5" width="194" height="79.8" fill="#ff9f9f"/><rect x="1342.5" y="1189.5" width="195.5" height="79.8" fill="#ff9f9f"/><rect x="1538" y="1189.5" width="201" height="79.8" fill="#ff9f9f"/><rect x="1739" y="1189.5" width="194.5" height="79.8" fill="#ff9f9f"/><rect x="1933.5" y="1189.5" width="195" height="79.8" fill="#a0fda0"/><rect x="2128.5" y="1189.5" width="194.5" height="79.8" fill="#ff9f9f"/><rect x="954.5" y="1269.3" width="194" height="79.8" fill="#ff9f9f"/><rect x="1933.5" y="1269.3" width="195" height="79.8" fill="#a0fda0"/><rect x="954.5" y="1349.2" width="194" height="79.8" fill="#ff9f9f"/><rect x="1933.5" y="1349.2" width="195" height="79.8" fill="#a0fda0"/><rect x="954.5" y="1429" width="194" height="79.8" fill="#ff9f9f"/><rect x="1933.5" y="1429" width="195" height="79.8" fill="#a0fda0"/><rect x="954.5" y="1508.8" width="194" height="79.8" fill="#ff9f9f"/><rect x="1933.5" y="1508.8" width="195" height="79.8" fill="#a0fda0"/><rect x="155" y="1588.7" width="258.5" height="79.8" fill="#a0fda0"/><rect x="413.5" y="1588.7" width="389.5" height="79.8" fill="#a0fda0"/><rect x="803" y="1588.7" width="151.5" height="79.8" fill="#a0fda0"/><rect x="954.5" y="1588.7" width="194" height="79.8" fill="#ff9f9f"/><rect x="1148.5" y="1588.7" width="194" height="79.8" fill="#a0fda0"/><rect x="1342.5" y="1588.7" width="195.5" height="79.8" fill="#a0fda0"/><rect x="1538" y="1588.7" width="201" height="79.8" fill="#a0fda0"/><rect x="1739" y="1588.7" width="194.5" height="79.8" fill="#a0fda0"/><rect x="1933.5" y="1588.7" width="195" height="79.8" fill="#a0fda0"/><rect x="2128.5" y="1588.7" width="194.5" height="79.8" fill="#a0fda0"/><rect x="954.5" y="1668.5" width="194" height="79.8" fill="#ff9f9f"/><rect x="1933.5" y="1668.5" width="195" height="79.8" fill="#a0fda0"/><rect x="155" y="1748.3" width="258.5" height="79.8" fill="#ff9f9f"/><rect x="413.5" y="1748.3" width="389.5" height="79.8" fill="#ff9f9f"/><rect x="803" y="1748.3" width="151.5" height="79.8" fill="#ff9f9f"/><rect x="954.5" y="1748.3" width="194" height="79.8" fill="#ff9f9f"/><rect x="1148.5" y="1748.3" width="194" height="79.8" fill="#ff9f9f"/><rect x="1342.5" y="1748.3" width="195.5" height="79.8" fill="#ff9f9f"/><rect x="1538" y="1748.3" width="201" height="79.8" fill="#ff9f9f"/><rect x="1739" y="1748.3" width="194.5" height="79.8" fill="#ff9f9f"/><rect x="1933.5" y="1748.3" width="195" height="79.8" fill="#a0fda0"/><rect x="2128.5" y="1748.3" width="194.5" height="79.8" fill="#ff9f9f"/><rect x="954.5" y="1828.2" width="194" height="79.8" fill="#ff9f9f"/><rect x="1933.5" y="1828.2" width="195" height="79.8" fill="#a0fda0"/><rect x="954.5" y="1908" width="194" height="79.8" fill="#ff9f9f"/><rect x="1933.5" y="1908" width="195" height="79.8" fill="#a0fda0"/><rect x="954.5" y="1987.8" width="194" height="79.8" fill="#ff9f9f"/><rect x="1933.5" y="1987.8" width="195" height="79.8" fill="#a0fda0"/><rect x="954.5" y="2067.7" width="194" height="79.8" fill="#ff9f9f"/><rect x="1933.5" y="2067.7" width="195" height="79.8" fill="#a0fda0"/><rect x="155" y="2147.5" width="258.5" height="79.8" fill="#a0fda0"/><rect x="413.5" y="2147.5" width="389.5" height="79.8" fill="#a0fda0"/><rect x="803" y="2147.5" width="151.5" height="79.8" fill="#a0fda0"/><rect x="954.5" y="2147.5" width="194" height="79.8" fill="#ff9f9f"/><rect x="1148.5" y="2147.5" width="194" height="79.8" fill="#a0fda0"/><rect x="1342.5" y="2147.5" width="195.5" height="79.8" fill="#a0fda0"/><rect x="1538" y="2147.5" width="201" height="79.8" fill="#a0fda0"/><rect x="1739" y="2147.5" width="194.5" height="79.8" fill="#a0fda0"/><rect x="1933.5" y="2147.5" width="195" height="79.8" fill="#a0fda0"/><rect x="2128.5" y="2147.5" width="194.5" height="79.8" fill="#a0fda0"/><rect x="954.5" y="2227.3" width="194" height="79.8" fill="#ff9f9f"/><rect x="1933.5" y="2227.3" width="195" height="79.8" fill="#a0fda0"/><rect x="155" y="2307.2" width="258.5" height="79.8" fill="#ff9f9f"/><rect x="413.5" y="2307.2" width="389.5" height="79.8" fill="#ff9f9f"/><rect x="803" y="2307.2" width="151.5" height="79.8" fill="#ff9f9f"/><rect x="954.5" y="2307.2" width="194" height="79.8" fill="#ff9f9f"/><rect x="1148.5" y="2307.2" width="194" height="79.8" fill="#ff9f9f"/><rect x="1342.5" y="2307.2" width="195.5" height="79.8" fill="#ff9f9f"/><rect x="1538" y="2307.2" width="201" height="79.8" fill="#ff9f9f"/><rect x="1739" y="2307.2" width="194.5" height="79.8" fill="#ff9f9f"/><rect x="1933.5" y="2307.2" width="195" height="79.8" fill="#a0fda0"/><rect x="2128.5" y="2307.2" width="194.5" height="79.8" fill="#ff9f9f"/><rect x="954.5" y="2387" width="194" height="79.8" fill="#ff9f9f"/><rect x="1933.5" y="2387" width="195" height="79.8" fill="#a0fda0"/><rect x="954.5" y="2466.8" width="194" height="79.8" fill="#ff9f9f"/><rect x="1933.5" y="2466.8" width="195" height="79.8" fill="#a0fda0"/><rect x="954.5" y="2546.7" width="194" height="79.8" fill="#ff9f9f"/><rect x="1933.5" y="2546.7" width="195" height="79.8" fill="#a0fda0"/><rect x="954.5" y="2626.5" width="194" height="79.8" fill="#ff9f9f"/><rect x="1933.5" y="2626.5" width="195" height="79.8" fill="#a0fda0"/><rect x="155" y="2706.3" width="258.5" height="79.8" fill="#a0fda0"/><rect x="413.5" y="2706.3" width="389.5" height="79.8" fill="#a0fda0"/><rect x="803" y="2706.3" width="151.5" height="79.8" fill="#a0fda0"/><rect x="954.5" y="2706.3" width="194" height="79.8" fill="#ff9f9f"/><rect x="1148.5" y="2706.3" width="194" height="79.8" fill="#a0fda0"/><rect x="1342.5" y="2706.3" width="195.5" height="79.8" fill="#a0fda0"/><rect x="1538" y="2706.3" width="201" height="79.8" fill="#a0fda0"/><rect x="1739" y="2706.3" width="194.5" height="79.8" fill="#a0fda0"/><rect x="1933.5" y="2706.3" width="195" height="79.8" fill="#a0fda0"/><rect x="2128.5" y="2706.3" width="194.5" height="79.8" fill="#a0fda0"/><rect x="954.5" y="2786.2" width="194" height="79.8" fill="#ff9f9f"/><rect x="1933.5" y="2786.2" width="195" height="79.8" fill="#a0fda0"/><rect x="155" y="2866" width="258.5" height="79.8" fill="#ff9f9f"/><rect x="413.5" y="2866" width="389.5" height="79.8" fill="#ff9f9f"/><rect x="803" y="2866" width="151.5" height="79.8" fill="#ff9f9f"/><rect x="954.5" y="2866" width="194" height="79.8" fill="#ff9f9f"/><rect x="1148.5" y="2866" width="194" height="79.8" fill="#ff9f9f"/><rect x="1342.5" y="2866" width="195.5" height="79.8" fill="#ff9f9f"/><rect x="1538" y="2866" width="201" height="79.8" fill="#ff9f9f"/><rect x="1739" y="2866" width="194.5" height="79.8" fill="#ff9f9f"/><rect x="1933.5" y="2866" width="195" height="79.8" fill="#a0fda0"/><rect x="2128.5" y="2866" width="194.5" height="79.8" fill="#ff9f9f"/><rect x="954.5" y="2945.8" width="194" height="79.8" fill="#ff9f9f"/><rect x="1933.5" y="2945.8" width="195" height="79.8" fill="#a0fda0"/><rect x="954.5" y="3025.7" width="194" height="79.8" fill="#ff9f9f"/><rect x="1933.5" y="3025.7" width="195" height="79.8" fill="#a0fda0"/><rect x="954.5" y="3105.5" width="194" height="79.8" fill="#ff9f9f"/><rect x="1933.5" y="3105.5" width="195" height="79.8" fill="#a0fda0"/><rect x="954.5" y="3185.3" width="194" height="79.8" fill="#ff9f9f"/><rect x="1933.5" y="3185.3" width="195" height="79.8" fill="#a0fda0"/><rect x="155" y="3265.2" width="2168" height="79.8" fill="#a0fda0"/></g>
<g fill="#676767"><rect x="153.2" y="826.7" width="2171.6" height="3.6"/><rect x="153.2" y="948.2" width="2171.6" height="3.6"/><rect x="153.2" y="1028" width="2171.6" height="3.6"/><rect x="153.2" y="1107.9" width="2171.6" height="3.6"/><rect x="153.2" y="1187.7" width="2171.6" height="3.6"/><rect x="153.2" y="1267.5" width="2171.6" height="3.6"/><rect x="153.2" y="1347.4" width="2171.6" height="3.6"/><rect x="153.2" y="1427.2" width="2171.6" height="3.6"/><rect x="153.2" y="1507" width="2171.6" height="3.6"/><rect x="153.2" y="1586.9" width="2171.6" height="3.6"/><rect x="153.2" y="1666.7" width="2171.6" height="3.6"/><rect x="153.2" y="1746.5" width="2171.6" height="3.6"/><rect x="153.2" y="1826.4" width="2171.6" height="3.6"/><rect x="153.2" y="1906.2" width="2171.6" height="3.6"/><rect x="153.2" y="1986" width="2171.6" height="3.6"/><rect x="153.2" y="2065.9" width="2171.6" height="3.6"/><rect x="153.2" y="2145.7" width="2171.6" height="3.6"/><rect x="153.2" y="2225.5" width="2171.6" height="3.6"/><rect x="153.2" y="2305.4" width="2171.6" height="3.6"/><rect x="153.2" y="2385.2" width="2171.6" height="3.6"/><rect x="153.2" y="2465" width="2171.6" height="3.6"/><rect x="153.2" y="2544.9" width="2171.6" height="3.6"/><rect x="153.2" y="2624.7" width="2171.6" height="3.6"/><rect x="153.2" y="2704.5" width="2171.6" height="3.6"/><rect x="153.2" y="2784.4" width="2171.6" height="3.6"/><rect x="153.2" y="2864.2" width="2171.6" height="3.6"/><rect x="153.2" y="2944" width="2171.6" height="3.6"/><rect x="153.2" y="3023.9" width="2171.6" height="3.6"/><rect x="153.2" y="3103.7" width="2171.6" height="3.6"/><rect x="153.2" y="3183.5" width="2171.6" height="3.6"/><rect x="153.2" y="3263.4" width="2171.6" height="3.6"/><rect x="153.2" y="3343.2" width="2171.6" height="3.6"/><rect x="153.2" y="826.7" width="3.6" height="2518.3"/><rect x="411.7" y="826.7" width="3.6" height="2518.3"/><rect x="801.2" y="826.7" width="3.6" height="2518.3"/><rect x="952.7" y="826.7" width="3.6" height="2518.3"/><rect x="1146.7" y="826.7" width="3.6" height="2438.5"/><rect x="1340.7" y="826.7" width="3.6" height="2438.5"/><rect x="1536.2" y="826.7" width="3.6" height="2438.5"/><rect x="1737.2" y="826.7" width="3.6" height="2438.5"/><rect x="1931.7" y="826.7" width="3.6" height="2438.5"/><rect x="2126.7" y="826.7" width="3.6" height="2438.5"/><rect x="2321.2" y="826.7" width="3.6" height="2518.3"/></g>
<g><text transform="translate(211.8 905) scale(1.0227 1)" style="font-family:'Liberation Serif';font-weight:700;font-size:50px" fill="#000">Miladi</text>
<text transform="translate(545.8 905) scale(1.0833 1)" style="font-family:'Liberation Serif';font-weight:700;font-size:50px" fill="#000">Həftə</text>
<text transform="translate(821.2 905) scale(1.0345 1)" style="font-family:'Liberation Serif';font-weight:700;font-size:50px" fill="#000">Hicri</text>
<text transform="translate(979.7 905) scale(1.0674 1)" style="font-family:'Liberation Serif';font-weight:700;font-size:50px" fill="#000">İmsak</text>
<text transform="translate(1186.4 905) scale(1.0418 1)" style="font-family:'Liberation Serif';font-weight:700;font-size:50px" fill="#000">Sübh</text>
<text transform="translate(1367.4 905) scale(1.0583 1)" style="font-family:'Liberation Serif';font-weight:700;font-size:50px" fill="#000">Günəş</text>
<text transform="translate(1542.4 905) scale(1.0367 1)" style="font-family:'Liberation Serif';font-weight:700;font-size:50px" fill="#000">Günorta</text>
<text transform="translate(1768.2 905) scale(1.0326 1)" style="font-family:'Liberation Serif';font-weight:700;font-size:50px" fill="#000">İkindi</text>
<text transform="translate(2169.8 905) scale(1.0599 1)" style="font-family:'Liberation Serif';font-weight:700;font-size:50px" fill="#000">Yatsı</text>
<text transform="translate(1958 878) scale(1.0016 1)" style="font-family:'Liberation Serif';font-weight:700;font-size:50px" fill="#000">Axşam</text>
<text transform="translate(1960.3 932.5) scale(1.0648 1)" style="font-family:'Liberation Serif';font-weight:700;font-size:50px" fill="#000">(İftar)</text>
<text transform="translate(194 1008.3) scale(0.9093 1)" style="font-family:'Liberation Sans';font-weight:400;font-size:47.5px" fill="#000" stroke="#fff" stroke-width="0.7">19 Fevral</text>
<text transform="translate(485.6 1008.3) scale(0.8438 1)" style="font-family:'Liberation Sans';font-weight:400;font-size:47.5px" fill="#000" stroke="#fff" stroke-width="0.7">Cümə axşamı</text>
<text transform="translate(864.4 1009.1) scale(0.9000 1)" style="font-family:'Liberation Sans';font-weight:400;font-size:54px" fill="#000" stroke="#fff" stroke-width="0.8">1</text>
<text transform="translate(990.7 1009.1) scale(0.9000 1)" style="font-family:'Liberation Sans';font-weight:400;font-size:54px" fill="#000" stroke="#ff9f9f" stroke-width="0.8">06:18</text>
<text transform="translate(1184.7 1009.1) scale(0.9000 1)" style="font-family:'Liberation Sans';font-weight:400;font-size:54px" fill="#000" stroke="#fff" stroke-width="0.8">06:23</text>
<text transform="translate(1379 1009.1) scale(0.9000 1)" style="font-family:'Liberation Sans';font-weight:400;font-size:54px" fill="#000" stroke="#fff" stroke-width="0.8">07:44</text>
<text transform="translate(1576.8 1009.1) scale(0.9000 1)" style="font-family:'Liberation Sans';font-weight:400;font-size:54px" fill="#000" stroke="#fff" stroke-width="0.8">13:08</text>
<text transform="translate(1774.6 1009.1) scale(0.9000 1)" style="font-family:'Liberation Sans';font-weight:400;font-size:54px" fill="#000" stroke="#fff" stroke-width="0.8">16:50</text>
<text transform="translate(1969.3 1009.1) scale(0.9000 1)" style="font-family:'Liberation Sans';font-weight:400;font-size:54px" fill="#000" stroke="#a0fda0" stroke-width="0.8">18:47</text>
<text transform="translate(2164.1 1009.1) scale(0.9000 1)" style="font-family:'Liberation Sans';font-weight:400;font-size:54px" fill="#000" stroke="#fff" stroke-width="0.8">19:49</text>
<text transform="translate(195.9 1088.1) scale(0.8673 1)" style="font-family:'Liberation Sans';font-weight:700;font-size:47.5px" stroke="#111" stroke-width="2.6" fill="#70b170" stroke-linejoin="round">20 Fevral</text>
<text transform="translate(557 1088.1) scale(0.7796 1)" style="font-family:'Liberation Sans';font-weight:700;font-size:47.5px" stroke="#111" stroke-width="2.6" fill="#70b170" stroke-linejoin="round">Cümə</text>
<text transform="translate(864.8 1088.9) scale(0.9600 1)" style="font-family:'Liberation Sans';font-weight:700;font-size:54px" fill="#000">2</text>
<text transform="translate(984.7 1088.9) scale(0.9600 1)" style="font-family:'Liberation Sans';font-weight:700;font-size:54px" fill="#000">06:16</text>
<text transform="translate(1178.7 1088.9) scale(0.9600 1)" style="font-family:'Liberation Sans';font-weight:700;font-size:54px" fill="#000">06:21</text>
<text transform="translate(1373.5 1088.9) scale(0.9600 1)" style="font-family:'Liberation Sans';font-weight:700;font-size:54px" fill="#000">07:43</text>
<text transform="translate(1571.3 1088.9) scale(0.9600 1)" style="font-family:'Liberation Sans';font-weight:700;font-size:54px" fill="#000">13:08</text>
<text transform="translate(1769 1088.9) scale(0.9600 1)" style="font-family:'Liberation Sans';font-weight:700;font-size:54px" fill="#000">16:51</text>
<text transform="translate(1963.8 1088.9) scale(0.9600 1)" style="font-family:'Liberation Sans';font-weight:700;font-size:54px" fill="#000">18:48</text>
<text transform="translate(2159 1088.9) scale(0.9600 1)" style="font-family:'Liberation Sans';font-weight:700;font-size:54px" fill="#000">19:50</text>
<text transform="translate(194.9 1168) scale(0.9046 1)" style="font-family:'Liberation Sans';font-weight:400;font-size:47.5px" fill="#000" stroke="#fff" stroke-width="0.7">21 Fevral</text>
<text transform="translate(551.1 1168) scale(0.8288 1)" style="font-family:'Liberation Sans';font-weight:400;font-size:47.5px" fill="#000" stroke="#fff" stroke-width="0.7">Şənbə</text>
<text transform="translate(865.2 1168.8) scale(0.9000 1)" style="font-family:'Liberation Sans';font-weight:400;font-size:54px" fill="#000" stroke="#fff" stroke-width="0.8">3</text>
<text transform="translate(990.7 1168.8) scale(0.9000 1)" style="font-family:'Liberation Sans';font-weight:400;font-size:54px" fill="#000" stroke="#ff9f9f" stroke-width="0.8">06:15</text>
<text transform="translate(1184.7 1168.8) scale(0.9000 1)" style="font-family:'Liberation Sans';font-weight:400;font-size:54px" fill="#000" stroke="#fff" stroke-width="0.8">06:20</text>
<text transform="translate(1379.5 1168.8) scale(0.9000 1)" style="font-family:'Liberation Sans';font-weight:400;font-size:54px" fill="#000" stroke="#fff" stroke-width="0.8">07:41</text>
<text transform="translate(1576.8 1168.8) scale(0.9000 1)" style="font-family:'Liberation Sans';font-weight:400;font-size:54px" fill="#000" stroke="#fff" stroke-width="0.8">13:08</text>
<text transform="translate(1774.6 1168.8) scale(0.9000 1)" style="font-family:'Liberation Sans';font-weight:400;font-size:54px" fill="#000" stroke="#fff" stroke-width="0.8">16:52</text>
<text transform="translate(1969.3 1168.8) scale(0.9000 1)" style="font-family:'Liberation Sans';font-weight:400;font-size:54px" fill="#000" stroke="#a0fda0" stroke-width="0.8">18:50</text>
<text transform="translate(2164.1 1168.8) scale(0.9000 1)" style="font-family:'Liberation Sans';font-weight:400;font-size:54px" fill="#000" stroke="#fff" stroke-width="0.8">19:51</text>
<text transform="translate(194.9 1247.8) scale(0.9046 1)" style="font-family:'Liberation Sans';font-weight:400;font-size:47.5px" fill="#000" stroke="#ff9f9f" stroke-width="0.7">22 Fevral</text>
<text transform="translate(553.7 1247.8) scale(0.8576 1)" style="font-family:'Liberation Sans';font-weight:400;font-size:47.5px" fill="#000" stroke="#ff9f9f" stroke-width="0.7">Bazar</text>
<text transform="translate(865.2 1248.6) scale(0.9000 1)" style="font-family:'Liberation Sans';font-weight:400;font-size:54px" fill="#000" stroke="#ff9f9f" stroke-width="0.8">4</text>
<text transform="translate(990.3 1248.6) scale(0.9000 1)" style="font-family:'Liberation Sans';font-weight:400;font-size:54px" fill="#000" stroke="#ff9f9f" stroke-width="0.8">06:14</text>
<text transform="translate(1184.7 1248.6) scale(0.9000 1)" style="font-family:'Liberation Sans';font-weight:400;font-size:54px" fill="#000" stroke="#ff9f9f" stroke-width="0.8">06:19</text>
<text transform="translate(1379.5 1248.6) scale(0.9000 1)" style="font-family:'Liberation Sans';font-weight:400;font-size:54px" fill="#000" stroke="#ff9f9f" stroke-width="0.8">07:40</text>
<text transform="translate(1576.8 1248.6) scale(0.9000 1)" style="font-family:'Liberation Sans';font-weight:400;font-size:54px" fill="#000" stroke="#ff9f9f" stroke-width="0.8">13:08</text>
<text transform="translate(1774.6 1248.6) scale(0.9000 1)" style="font-family:'Liberation Sans';font-weight:400;font-size:54px" fill="#000" stroke="#ff9f9f" stroke-width="0.8">16:53</text>
<text transform="translate(1969.3 1248.6) scale(0.9000 1)" style="font-family:'Liberation Sans';font-weight:400;font-size:54px" fill="#000" stroke="#a0fda0" stroke-width="0.8">18:51</text>
<text transform="translate(2164.1 1248.6) scale(0.9000 1)" style="font-family:'Liberation Sans';font-weight:400;font-size:54px" fill="#000" stroke="#ff9f9f" stroke-width="0.8">19:52</text>
<text transform="translate(194.9 1327.6) scale(0.9046 1)" style="font-family:'Liberation Sans';font-weight:400;font-size:47.5px" fill="#000" stroke="#fff" stroke-width="0.7">23 Fevral</text>
<text transform="translate(495.1 1327.6) scale(0.8916 1)" style="font-family:'Liberation Sans';font-weight:400;font-size:47.5px" fill="#000" stroke="#fff" stroke-width="0.7">Bazar ertəsi</text>
<text transform="translate(865.2 1328.4) scale(0.9000 1)" style="font-family:'Liberation Sans';font-weight:400;font-size:54px" fill="#000" stroke="#fff" stroke-width="0.8">5</text>
<text transform="translate(990.7 1328.4) scale(0.9000 1)" style="font-family:'Liberation Sans';font-weight:400;font-size:54px" fill="#000" stroke="#ff9f9f" stroke-width="0.8">06:12</text>
<text transform="translate(1184.7 1328.4) scale(0.9000 1)" style="font-family:'Liberation Sans';font-weight:400;font-size:54px" fill="#000" stroke="#fff" stroke-width="0.8">06:17</text>
<text transform="translate(1379.5 1328.4) scale(0.9000 1)" style="font-family:'Liberation Sans';font-weight:400;font-size:54px" fill="#000" stroke="#fff" stroke-width="0.8">07:39</text>
<text transform="translate(1576.8 1328.4) scale(0.9000 1)" style="font-family:'Liberation Sans';font-weight:400;font-size:54px" fill="#000" stroke="#fff" stroke-width="0.8">13:08</text>
<text transform="translate(1774.1 1328.4) scale(0.9000 1)" style="font-family:'Liberation Sans';font-weight:400;font-size:54px" fill="#000" stroke="#fff" stroke-width="0.8">16:54</text>
<text transform="translate(1969.3 1328.4) scale(0.9000 1)" style="font-family:'Liberation Sans';font-weight:400;font-size:54px" fill="#000" stroke="#a0fda0" stroke-width="0.8">18:52</text>
<text transform="translate(2164.1 1328.4) scale(0.9000 1)" style="font-family:'Liberation Sans';font-weight:400;font-size:54px" fill="#000" stroke="#fff" stroke-width="0.8">19:53</text>
<text transform="translate(194.9 1407.5) scale(0.9046 1)" style="font-family:'Liberation Sans';font-weight:400;font-size:47.5px" fill="#000" stroke="#fff" stroke-width="0.7">24 Fevral</text>
<text transform="translate(453.1 1407.5) scale(0.8387 1)" style="font-family:'Liberation Sans';font-weight:400;font-size:47.5px" fill="#000" stroke="#fff" stroke-width="0.7">Çərşənbə axşamı</text>
<text transform="translate(865.2 1408.3) scale(0.9000 1)" style="font-family:'Liberation Sans';font-weight:400;font-size:54px" fill="#000" stroke="#fff" stroke-width="0.8">6</text>
<text transform="translate(992.5 1408.3) scale(0.9000 1)" style="font-family:'Liberation Sans';font-weight:400;font-size:54px" fill="#000" stroke="#ff9f9f" stroke-width="0.8">06:11</text>
<text transform="translate(1184.7 1408.3) scale(0.9000 1)" style="font-family:'Liberation Sans';font-weight:400;font-size:54px" fill="#000" stroke="#fff" stroke-width="0.8">06:16</text>
<text transform="translate(1379.5 1408.3) scale(0.9000 1)" style="font-family:'Liberation Sans';font-weight:400;font-size:54px" fill="#000" stroke="#fff" stroke-width="0.8">07:37</text>
<text transform="translate(1576.8 1408.3) scale(0.9000 1)" style="font-family:'Liberation Sans';font-weight:400;font-size:54px" fill="#000" stroke="#fff" stroke-width="0.8">13:08</text>
<text transform="translate(1774.6 1408.3) scale(0.9000 1)" style="font-family:'Liberation Sans';font-weight:400;font-size:54px" fill="#000" stroke="#fff" stroke-width="0.8">16:55</text>
<text transform="translate(1969.3 1408.3) scale(0.9000 1)" style="font-family:'Liberation Sans';font-weight:400;font-size:54px" fill="#000" stroke="#a0fda0" stroke-width="0.8">18:53</text>
<text transform="translate(2163.6 1408.3) scale(0.9000 1)" style="font-family:'Liberation Sans';font-weight:400;font-size:54px" fill="#000" stroke="#fff" stroke-width="0.8">19:54</text>
<text transform="translate(194.9 1487.3) scale(0.9046 1)" style="font-family:'Liberation Sans';font-weight:400;font-size:47.5px" fill="#000" stroke="#fff" stroke-width="0.7">25 Fevral</text>
<text transform="translate(523.1 1487.3) scale(0.8245 1)" style="font-family:'Liberation Sans';font-weight:400;font-size:47.5px" fill="#000" stroke="#fff" stroke-width="0.7">Çərşənbə</text>
<text transform="translate(865.2 1488.1) scale(0.9000 1)" style="font-family:'Liberation Sans';font-weight:400;font-size:54px" fill="#000" stroke="#fff" stroke-width="0.8">7</text>
<text transform="translate(990.7 1488.1) scale(0.9000 1)" style="font-family:'Liberation Sans';font-weight:400;font-size:54px" fill="#000" stroke="#ff9f9f" stroke-width="0.8">06:10</text>
<text transform="translate(1184.7 1488.1) scale(0.9000 1)" style="font-family:'Liberation Sans';font-weight:400;font-size:54px" fill="#000" stroke="#fff" stroke-width="0.8">06:15</text>
<text transform="translate(1379.5 1488.1) scale(0.9000 1)" style="font-family:'Liberation Sans';font-weight:400;font-size:54px" fill="#000" stroke="#fff" stroke-width="0.8">07:36</text>
<text transform="translate(1576.8 1488.1) scale(0.9000 1)" style="font-family:'Liberation Sans';font-weight:400;font-size:54px" fill="#000" stroke="#fff" stroke-width="0.8">13:08</text>
<text transform="translate(1774.6 1488.1) scale(0.9000 1)" style="font-family:'Liberation Sans';font-weight:400;font-size:54px" fill="#000" stroke="#fff" stroke-width="0.8">16:56</text>
<text transform="translate(1968.9 1488.1) scale(0.9000 1)" style="font-family:'Liberation Sans';font-weight:400;font-size:54px" fill="#000" stroke="#a0fda0" stroke-width="0.8">18:54</text>
<text transform="translate(2164.1 1488.1) scale(0.9000 1)" style="font-family:'Liberation Sans';font-weight:400;font-size:54px" fill="#000" stroke="#fff" stroke-width="0.8">19:56</text>
<text transform="translate(194.9 1567.1) scale(0.9046 1)" style="font-family:'Liberation Sans';font-weight:400;font-size:47.5px" fill="#000" stroke="#fff" stroke-width="0.7">26 Fevral</text>
<text transform="translate(485.6 1567.1) scale(0.8438 1)" style="font-family:'Liberation Sans';font-weight:400;font-size:47.5px" fill="#000" stroke="#fff" stroke-width="0.7">Cümə axşamı</text>
<text transform="translate(865.2 1567.9) scale(0.9000 1)" style="font-family:'Liberation Sans';font-weight:400;font-size:54px" fill="#000" stroke="#fff" stroke-width="0.8">8</text>
<text transform="translate(990.7 1567.9) scale(0.9000 1)" style="font-family:'Liberation Sans';font-weight:400;font-size:54px" fill="#000" stroke="#ff9f9f" stroke-width="0.8">06:08</text>
<text transform="translate(1184.7 1567.9) scale(0.9000 1)" style="font-family:'Liberation Sans';font-weight:400;font-size:54px" fill="#000" stroke="#fff" stroke-width="0.8">06:13</text>
<text transform="translate(1379 1567.9) scale(0.9000 1)" style="font-family:'Liberation Sans';font-weight:400;font-size:54px" fill="#000" stroke="#fff" stroke-width="0.8">07:34</text>
<text transform="translate(1576.8 1567.9) scale(0.9000 1)" style="font-family:'Liberation Sans';font-weight:400;font-size:54px" fill="#000" stroke="#fff" stroke-width="0.8">13:08</text>
<text transform="translate(1774.6 1567.9) scale(0.9000 1)" style="font-family:'Liberation Sans';font-weight:400;font-size:54px" fill="#000" stroke="#fff" stroke-width="0.8">16:57</text>
<text transform="translate(1969.3 1567.9) scale(0.9000 1)" style="font-family:'Liberation Sans';font-weight:400;font-size:54px" fill="#000" stroke="#a0fda0" stroke-width="0.8">18:55</text>
<text transform="translate(2164.1 1567.9) scale(0.9000 1)" style="font-family:'Liberation Sans';font-weight:400;font-size:54px" fill="#000" stroke="#fff" stroke-width="0.8">19:57</text>
<text transform="translate(195.9 1647) scale(0.8673 1)" style="font-family:'Liberation Sans';font-weight:700;font-size:47.5px" stroke="#111" stroke-width="2.6" fill="#70b170" stroke-linejoin="round">27 Fevral</text>
<text transform="translate(557 1647) scale(0.7796 1)" style="font-family:'Liberation Sans';font-weight:700;font-size:47.5px" stroke="#111" stroke-width="2.6" fill="#70b170" stroke-linejoin="round">Cümə</text>
<text transform="translate(864.3 1647.8) scale(0.9600 1)" style="font-family:'Liberation Sans';font-weight:700;font-size:54px" fill="#000">9</text>
<text transform="translate(985.2 1647.8) scale(0.9600 1)" style="font-family:'Liberation Sans';font-weight:700;font-size:54px" fill="#000">06:07</text>
<text transform="translate(1179.2 1647.8) scale(0.9600 1)" style="font-family:'Liberation Sans';font-weight:700;font-size:54px" fill="#000">06:12</text>
<text transform="translate(1373.5 1647.8) scale(0.9600 1)" style="font-family:'Liberation Sans';font-weight:700;font-size:54px" fill="#000">07:33</text>
<text transform="translate(1571.7 1647.8) scale(0.9600 1)" style="font-family:'Liberation Sans';font-weight:700;font-size:54px" fill="#000">13:07</text>
<text transform="translate(1769 1647.8) scale(0.9600 1)" style="font-family:'Liberation Sans';font-weight:700;font-size:54px" fill="#000">16:59</text>
<text transform="translate(1964.2 1647.8) scale(0.9600 1)" style="font-family:'Liberation Sans';font-weight:700;font-size:54px" fill="#000">18:57</text>
<text transform="translate(2158.5 1647.8) scale(0.9600 1)" style="font-family:'Liberation Sans';font-weight:700;font-size:54px" fill="#000">19:58</text>
<text transform="translate(194.9 1726.8) scale(0.9046 1)" style="font-family:'Liberation Sans';font-weight:400;font-size:47.5px" fill="#000" stroke="#fff" stroke-width="0.7">28 Fevral</text>
<text transform="translate(551.1 1726.8) scale(0.8288 1)" style="font-family:'Liberation Sans';font-weight:400;font-size:47.5px" fill="#000" stroke="#fff" stroke-width="0.7">Şənbə</text>
<text transform="translate(850.8 1727.6) scale(0.9000 1)" style="font-family:'Liberation Sans';font-weight:400;font-size:54px" fill="#000" stroke="#fff" stroke-width="0.8">10</text>
<text transform="translate(990.7 1727.6) scale(0.9000 1)" style="font-family:'Liberation Sans';font-weight:400;font-size:54px" fill="#000" stroke="#ff9f9f" stroke-width="0.8">06:05</text>
<text transform="translate(1184.7 1727.6) scale(0.9000 1)" style="font-family:'Liberation Sans';font-weight:400;font-size:54px" fill="#000" stroke="#fff" stroke-width="0.8">06:10</text>
<text transform="translate(1379.5 1727.6) scale(0.9000 1)" style="font-family:'Liberation Sans';font-weight:400;font-size:54px" fill="#000" stroke="#fff" stroke-width="0.8">07:31</text>
<text transform="translate(1576.8 1727.6) scale(0.9000 1)" style="font-family:'Liberation Sans';font-weight:400;font-size:54px" fill="#000" stroke="#fff" stroke-width="0.8">13:07</text>
<text transform="translate(1774.6 1727.6) scale(0.9000 1)" style="font-family:'Liberation Sans';font-weight:400;font-size:54px" fill="#000" stroke="#fff" stroke-width="0.8">17:00</text>
<text transform="translate(1969.3 1727.6) scale(0.9000 1)" style="font-family:'Liberation Sans';font-weight:400;font-size:54px" fill="#000" stroke="#a0fda0" stroke-width="0.8">18:58</text>
<text transform="translate(2164.1 1727.6) scale(0.9000 1)" style="font-family:'Liberation Sans';font-weight:400;font-size:54px" fill="#000" stroke="#fff" stroke-width="0.8">19:59</text>
<text transform="translate(218.4 1806.6) scale(0.9588 1)" style="font-family:'Liberation Sans';font-weight:400;font-size:47.5px" fill="#000" stroke="#ff9f9f" stroke-width="0.7">1 Mart</text>
<text transform="translate(553.7 1806.6) scale(0.8576 1)" style="font-family:'Liberation Sans';font-weight:400;font-size:47.5px" fill="#000" stroke="#ff9f9f" stroke-width="0.7">Bazar</text>
<text transform="translate(852.6 1807.4) scale(0.9000 1)" style="font-family:'Liberation Sans';font-weight:400;font-size:54px" fill="#000" stroke="#ff9f9f" stroke-width="0.8">11</text>
<text transform="translate(990.7 1807.4) scale(0.9000 1)" style="font-family:'Liberation Sans';font-weight:400;font-size:54px" fill="#000" stroke="#ff9f9f" stroke-width="0.8">06:02</text>
<text transform="translate(1184.7 1807.4) scale(0.9000 1)" style="font-family:'Liberation Sans';font-weight:400;font-size:54px" fill="#000" stroke="#ff9f9f" stroke-width="0.8">06:07</text>
<text transform="translate(1379.5 1807.4) scale(0.9000 1)" style="font-family:'Liberation Sans';font-weight:400;font-size:54px" fill="#000" stroke="#ff9f9f" stroke-width="0.8">07:28</text>
<text transform="translate(1576.8 1807.4) scale(0.9000 1)" style="font-family:'Liberation Sans';font-weight:400;font-size:54px" fill="#000" stroke="#ff9f9f" stroke-width="0.8">13:07</text>
<text transform="translate(1774.6 1807.4) scale(0.9000 1)" style="font-family:'Liberation Sans';font-weight:400;font-size:54px" fill="#000" stroke="#ff9f9f" stroke-width="0.8">17:02</text>
<text transform="translate(1969.3 1807.4) scale(0.9000 1)" style="font-family:'Liberation Sans';font-weight:400;font-size:54px" fill="#000" stroke="#a0fda0" stroke-width="0.8">19:00</text>
<text transform="translate(2165 1807.4) scale(0.9000 1)" style="font-family:'Liberation Sans';font-weight:400;font-size:54px" fill="#000" stroke="#ff9f9f" stroke-width="0.8">20:01</text>
<text transform="translate(219.3 1886.5) scale(0.9515 1)" style="font-family:'Liberation Sans';font-weight:400;font-size:47.5px" fill="#000" stroke="#fff" stroke-width="0.7">2 Mart</text>
<text transform="translate(495.1 1886.5) scale(0.8916 1)" style="font-family:'Liberation Sans';font-weight:400;font-size:47.5px" fill="#000" stroke="#fff" stroke-width="0.7">Bazar ertəsi</text>
<text transform="translate(850.8 1887.3) scale(0.9000 1)" style="font-family:'Liberation Sans';font-weight:400;font-size:54px" fill="#000" stroke="#fff" stroke-width="0.8">12</text>
<text transform="translate(990.7 1887.3) scale(0.9000 1)" style="font-family:'Liberation Sans';font-weight:400;font-size:54px" fill="#000" stroke="#ff9f9f" stroke-width="0.8">06:01</text>
<text transform="translate(1184.7 1887.3) scale(0.9000 1)" style="font-family:'Liberation Sans';font-weight:400;font-size:54px" fill="#000" stroke="#fff" stroke-width="0.8">06:06</text>
<text transform="translate(1379.5 1887.3) scale(0.9000 1)" style="font-family:'Liberation Sans';font-weight:400;font-size:54px" fill="#000" stroke="#fff" stroke-width="0.8">07:26</text>
<text transform="translate(1576.8 1887.3) scale(0.9000 1)" style="font-family:'Liberation Sans';font-weight:400;font-size:54px" fill="#000" stroke="#fff" stroke-width="0.8">13:07</text>
<text transform="translate(1774.6 1887.3) scale(0.9000 1)" style="font-family:'Liberation Sans';font-weight:400;font-size:54px" fill="#000" stroke="#fff" stroke-width="0.8">17:03</text>
<text transform="translate(1969.3 1887.3) scale(0.9000 1)" style="font-family:'Liberation Sans';font-weight:400;font-size:54px" fill="#000" stroke="#a0fda0" stroke-width="0.8">19:01</text>
<text transform="translate(2165 1887.3) scale(0.9000 1)" style="font-family:'Liberation Sans';font-weight:400;font-size:54px" fill="#000" stroke="#fff" stroke-width="0.8">20:02</text>
<text transform="translate(220.3 1966.3) scale(0.9444 1)" style="font-family:'Liberation Sans';font-weight:400;font-size:47.5px" fill="#000" stroke="#fff" stroke-width="0.7">3 Mart</text>
<text transform="translate(453.1 1966.3) scale(0.8387 1)" style="font-family:'Liberation Sans';font-weight:400;font-size:47.5px" fill="#000" stroke="#fff" stroke-width="0.7">Çərşənbə axşamı</text>
<text transform="translate(850.8 1967.1) scale(0.9000 1)" style="font-family:'Liberation Sans';font-weight:400;font-size:54px" fill="#000" stroke="#fff" stroke-width="0.8">13</text>
<text transform="translate(990.7 1967.1) scale(0.9000 1)" style="font-family:'Liberation Sans';font-weight:400;font-size:54px" fill="#000" stroke="#ff9f9f" stroke-width="0.8">05:59</text>
<text transform="translate(1184.3 1967.1) scale(0.9000 1)" style="font-family:'Liberation Sans';font-weight:400;font-size:54px" fill="#000" stroke="#fff" stroke-width="0.8">06:04</text>
<text transform="translate(1379.5 1967.1) scale(0.9000 1)" style="font-family:'Liberation Sans';font-weight:400;font-size:54px" fill="#000" stroke="#fff" stroke-width="0.8">07:25</text>
<text transform="translate(1576.8 1967.1) scale(0.9000 1)" style="font-family:'Liberation Sans';font-weight:400;font-size:54px" fill="#000" stroke="#fff" stroke-width="0.8">13:06</text>
<text transform="translate(1774.1 1967.1) scale(0.9000 1)" style="font-family:'Liberation Sans';font-weight:400;font-size:54px" fill="#000" stroke="#fff" stroke-width="0.8">17:04</text>
<text transform="translate(1969.3 1967.1) scale(0.9000 1)" style="font-family:'Liberation Sans';font-weight:400;font-size:54px" fill="#000" stroke="#a0fda0" stroke-width="0.8">19:02</text>
<text transform="translate(2164.5 1967.1) scale(0.9000 1)" style="font-family:'Liberation Sans';font-weight:400;font-size:54px" fill="#000" stroke="#fff" stroke-width="0.8">20:04</text>
<text transform="translate(220.3 2046.1) scale(0.9444 1)" style="font-family:'Liberation Sans';font-weight:400;font-size:47.5px" fill="#000" stroke="#fff" stroke-width="0.7">4 Mart</text>
<text transform="translate(523.1 2046.1) scale(0.8245 1)" style="font-family:'Liberation Sans';font-weight:400;font-size:47.5px" fill="#000" stroke="#fff" stroke-width="0.7">Çərşənbə</text>
<text transform="translate(850.4 2046.9) scale(0.9000 1)" style="font-family:'Liberation Sans';font-weight:400;font-size:54px" fill="#000" stroke="#fff" stroke-width="0.8">14</text>
<text transform="translate(990.7 2046.9) scale(0.9000 1)" style="font-family:'Liberation Sans';font-weight:400;font-size:54px" fill="#000" stroke="#ff9f9f" stroke-width="0.8">05:58</text>
<text transform="translate(1184.7 2046.9) scale(0.9000 1)" style="font-family:'Liberation Sans';font-weight:400;font-size:54px" fill="#000" stroke="#fff" stroke-width="0.8">06:03</text>
<text transform="translate(1379.5 2046.9) scale(0.9000 1)" style="font-family:'Liberation Sans';font-weight:400;font-size:54px" fill="#000" stroke="#fff" stroke-width="0.8">07:23</text>
<text transform="translate(1576.8 2046.9) scale(0.9000 1)" style="font-family:'Liberation Sans';font-weight:400;font-size:54px" fill="#000" stroke="#fff" stroke-width="0.8">13:06</text>
<text transform="translate(1774.6 2046.9) scale(0.9000 1)" style="font-family:'Liberation Sans';font-weight:400;font-size:54px" fill="#000" stroke="#fff" stroke-width="0.8">17:05</text>
<text transform="translate(1969.3 2046.9) scale(0.9000 1)" style="font-family:'Liberation Sans';font-weight:400;font-size:54px" fill="#000" stroke="#a0fda0" stroke-width="0.8">19:03</text>
<text transform="translate(2165 2046.9) scale(0.9000 1)" style="font-family:'Liberation Sans';font-weight:400;font-size:54px" fill="#000" stroke="#fff" stroke-width="0.8">20:05</text>
<text transform="translate(220.3 2126) scale(0.9444 1)" style="font-family:'Liberation Sans';font-weight:400;font-size:47.5px" fill="#000" stroke="#fff" stroke-width="0.7">5 Mart</text>
<text transform="translate(485.6 2126) scale(0.8438 1)" style="font-family:'Liberation Sans';font-weight:400;font-size:47.5px" fill="#000" stroke="#fff" stroke-width="0.7">Cümə axşamı</text>
<text transform="translate(850.8 2126.8) scale(0.9000 1)" style="font-family:'Liberation Sans';font-weight:400;font-size:54px" fill="#000" stroke="#fff" stroke-width="0.8">15</text>
<text transform="translate(990.7 2126.8) scale(0.9000 1)" style="font-family:'Liberation Sans';font-weight:400;font-size:54px" fill="#000" stroke="#ff9f9f" stroke-width="0.8">05:56</text>
<text transform="translate(1184.7 2126.8) scale(0.9000 1)" style="font-family:'Liberation Sans';font-weight:400;font-size:54px" fill="#000" stroke="#fff" stroke-width="0.8">06:01</text>
<text transform="translate(1379.5 2126.8) scale(0.9000 1)" style="font-family:'Liberation Sans';font-weight:400;font-size:54px" fill="#000" stroke="#fff" stroke-width="0.8">07:22</text>
<text transform="translate(1576.8 2126.8) scale(0.9000 1)" style="font-family:'Liberation Sans';font-weight:400;font-size:54px" fill="#000" stroke="#fff" stroke-width="0.8">13:06</text>
<text transform="translate(1774.6 2126.8) scale(0.9000 1)" style="font-family:'Liberation Sans';font-weight:400;font-size:54px" fill="#000" stroke="#fff" stroke-width="0.8">17:05</text>
<text transform="translate(1968.9 2126.8) scale(0.9000 1)" style="font-family:'Liberation Sans';font-weight:400;font-size:54px" fill="#000" stroke="#a0fda0" stroke-width="0.8">19:04</text>
<text transform="translate(2165 2126.8) scale(0.9000 1)" style="font-family:'Liberation Sans';font-weight:400;font-size:54px" fill="#000" stroke="#fff" stroke-width="0.8">20:06</text>
<text transform="translate(220.3 2205.8) scale(0.9059 1)" style="font-family:'Liberation Sans';font-weight:700;font-size:47.5px" stroke="#111" stroke-width="2.6" fill="#70b170" stroke-linejoin="round">6 Mart</text>
<text transform="translate(557 2205.8) scale(0.7796 1)" style="font-family:'Liberation Sans';font-weight:700;font-size:47.5px" stroke="#111" stroke-width="2.6" fill="#70b170" stroke-linejoin="round">Cümə</text>
<text transform="translate(849 2206.6) scale(0.9600 1)" style="font-family:'Liberation Sans';font-weight:700;font-size:54px" fill="#000">16</text>
<text transform="translate(984.3 2206.6) scale(0.9600 1)" style="font-family:'Liberation Sans';font-weight:700;font-size:54px" fill="#000">05:54</text>
<text transform="translate(1178.7 2206.6) scale(0.9600 1)" style="font-family:'Liberation Sans';font-weight:700;font-size:54px" fill="#000">05:59</text>
<text transform="translate(1374 2206.6) scale(0.9600 1)" style="font-family:'Liberation Sans';font-weight:700;font-size:54px" fill="#000">07:20</text>
<text transform="translate(1571.3 2206.6) scale(0.9600 1)" style="font-family:'Liberation Sans';font-weight:700;font-size:54px" fill="#000">13:06</text>
<text transform="translate(1769 2206.6) scale(0.9600 1)" style="font-family:'Liberation Sans';font-weight:700;font-size:54px" fill="#000">17:06</text>
<text transform="translate(1963.8 2206.6) scale(0.9600 1)" style="font-family:'Liberation Sans';font-weight:700;font-size:54px" fill="#000">19:06</text>
<text transform="translate(2160 2206.6) scale(0.9600 1)" style="font-family:'Liberation Sans';font-weight:700;font-size:54px" fill="#000">20:07</text>
<text transform="translate(219.3 2285.6) scale(0.9515 1)" style="font-family:'Liberation Sans';font-weight:400;font-size:47.5px" fill="#000" stroke="#fff" stroke-width="0.7">7 Mart</text>
<text transform="translate(551.1 2285.6) scale(0.8288 1)" style="font-family:'Liberation Sans';font-weight:400;font-size:47.5px" fill="#000" stroke="#fff" stroke-width="0.7">Şənbə</text>
<text transform="translate(850.8 2286.4) scale(0.9000 1)" style="font-family:'Liberation Sans';font-weight:400;font-size:54px" fill="#000" stroke="#fff" stroke-width="0.8">17</text>
<text transform="translate(990.7 2286.4) scale(0.9000 1)" style="font-family:'Liberation Sans';font-weight:400;font-size:54px" fill="#000" stroke="#ff9f9f" stroke-width="0.8">05:53</text>
<text transform="translate(1184.7 2286.4) scale(0.9000 1)" style="font-family:'Liberation Sans';font-weight:400;font-size:54px" fill="#000" stroke="#fff" stroke-width="0.8">05:58</text>
<text transform="translate(1379.5 2286.4) scale(0.9000 1)" style="font-family:'Liberation Sans';font-weight:400;font-size:54px" fill="#000" stroke="#fff" stroke-width="0.8">07:19</text>
<text transform="translate(1576.8 2286.4) scale(0.9000 1)" style="font-family:'Liberation Sans';font-weight:400;font-size:54px" fill="#000" stroke="#fff" stroke-width="0.8">13:05</text>
<text transform="translate(1774.6 2286.4) scale(0.9000 1)" style="font-family:'Liberation Sans';font-weight:400;font-size:54px" fill="#000" stroke="#fff" stroke-width="0.8">17:07</text>
<text transform="translate(1969.3 2286.4) scale(0.9000 1)" style="font-family:'Liberation Sans';font-weight:400;font-size:54px" fill="#000" stroke="#a0fda0" stroke-width="0.8">19:07</text>
<text transform="translate(2165 2286.4) scale(0.9000 1)" style="font-family:'Liberation Sans';font-weight:400;font-size:54px" fill="#000" stroke="#fff" stroke-width="0.8">20:08</text>
<text transform="translate(219.3 2365.5) scale(0.9515 1)" style="font-family:'Liberation Sans';font-weight:400;font-size:47.5px" fill="#000" stroke="#ff9f9f" stroke-width="0.7">8 Mart</text>
<text transform="translate(553.7 2365.5) scale(0.8576 1)" style="font-family:'Liberation Sans';font-weight:400;font-size:47.5px" fill="#000" stroke="#ff9f9f" stroke-width="0.7">Bazar</text>
<text transform="translate(850.8 2366.3) scale(0.9000 1)" style="font-family:'Liberation Sans';font-weight:400;font-size:54px" fill="#000" stroke="#ff9f9f" stroke-width="0.8">18</text>
<text transform="translate(990.7 2366.3) scale(0.9000 1)" style="font-family:'Liberation Sans';font-weight:400;font-size:54px" fill="#000" stroke="#ff9f9f" stroke-width="0.8">05:51</text>
<text transform="translate(1184.7 2366.3) scale(0.9000 1)" style="font-family:'Liberation Sans';font-weight:400;font-size:54px" fill="#000" stroke="#ff9f9f" stroke-width="0.8">05:56</text>
<text transform="translate(1379.5 2366.3) scale(0.9000 1)" style="font-family:'Liberation Sans';font-weight:400;font-size:54px" fill="#000" stroke="#ff9f9f" stroke-width="0.8">07:17</text>
<text transform="translate(1576.8 2366.3) scale(0.9000 1)" style="font-family:'Liberation Sans';font-weight:400;font-size:54px" fill="#000" stroke="#ff9f9f" stroke-width="0.8">13:05</text>
<text transform="translate(1774.6 2366.3) scale(0.9000 1)" style="font-family:'Liberation Sans';font-weight:400;font-size:54px" fill="#000" stroke="#ff9f9f" stroke-width="0.8">17:08</text>
<text transform="translate(1969.3 2366.3) scale(0.9000 1)" style="font-family:'Liberation Sans';font-weight:400;font-size:54px" fill="#000" stroke="#a0fda0" stroke-width="0.8">19:08</text>
<text transform="translate(2165 2366.3) scale(0.9000 1)" style="font-family:'Liberation Sans';font-weight:400;font-size:54px" fill="#000" stroke="#ff9f9f" stroke-width="0.8">20:09</text>
<text transform="translate(219.3 2445.3) scale(0.9515 1)" style="font-family:'Liberation Sans';font-weight:400;font-size:47.5px" fill="#000" stroke="#fff" stroke-width="0.7">9 Mart</text>
<text transform="translate(495.1 2445.3) scale(0.8916 1)" style="font-family:'Liberation Sans';font-weight:400;font-size:47.5px" fill="#000" stroke="#fff" stroke-width="0.7">Bazar ertəsi</text>
<text transform="translate(850.8 2446.1) scale(0.9000 1)" style="font-family:'Liberation Sans';font-weight:400;font-size:54px" fill="#000" stroke="#fff" stroke-width="0.8">19</text>
<text transform="translate(990.7 2446.1) scale(0.9000 1)" style="font-family:'Liberation Sans';font-weight:400;font-size:54px" fill="#000" stroke="#ff9f9f" stroke-width="0.8">05:50</text>
<text transform="translate(1184.7 2446.1) scale(0.9000 1)" style="font-family:'Liberation Sans';font-weight:400;font-size:54px" fill="#000" stroke="#fff" stroke-width="0.8">05:55</text>
<text transform="translate(1379.5 2446.1) scale(0.9000 1)" style="font-family:'Liberation Sans';font-weight:400;font-size:54px" fill="#000" stroke="#fff" stroke-width="0.8">07:15</text>
<text transform="translate(1576.8 2446.1) scale(0.9000 1)" style="font-family:'Liberation Sans';font-weight:400;font-size:54px" fill="#000" stroke="#fff" stroke-width="0.8">13:05</text>
<text transform="translate(1774.6 2446.1) scale(0.9000 1)" style="font-family:'Liberation Sans';font-weight:400;font-size:54px" fill="#000" stroke="#fff" stroke-width="0.8">17:09</text>
<text transform="translate(1969.3 2446.1) scale(0.9000 1)" style="font-family:'Liberation Sans';font-weight:400;font-size:54px" fill="#000" stroke="#a0fda0" stroke-width="0.8">19:09</text>
<text transform="translate(2165 2446.1) scale(0.9000 1)" style="font-family:'Liberation Sans';font-weight:400;font-size:54px" fill="#000" stroke="#fff" stroke-width="0.8">20:10</text>
<text transform="translate(206.4 2525.1) scale(0.9504 1)" style="font-family:'Liberation Sans';font-weight:400;font-size:47.5px" fill="#000" stroke="#fff" stroke-width="0.7">10 Mart</text>
<text transform="translate(453.1 2525.1) scale(0.8387 1)" style="font-family:'Liberation Sans';font-weight:400;font-size:47.5px" fill="#000" stroke="#fff" stroke-width="0.7">Çərşənbə axşamı</text>
<text transform="translate(851.7 2525.9) scale(0.9000 1)" style="font-family:'Liberation Sans';font-weight:400;font-size:54px" fill="#000" stroke="#fff" stroke-width="0.8">20</text>
<text transform="translate(990.7 2525.9) scale(0.9000 1)" style="font-family:'Liberation Sans';font-weight:400;font-size:54px" fill="#000" stroke="#ff9f9f" stroke-width="0.8">05:48</text>
<text transform="translate(1184.7 2525.9) scale(0.9000 1)" style="font-family:'Liberation Sans';font-weight:400;font-size:54px" fill="#000" stroke="#fff" stroke-width="0.8">05:53</text>
<text transform="translate(1379 2525.9) scale(0.9000 1)" style="font-family:'Liberation Sans';font-weight:400;font-size:54px" fill="#000" stroke="#fff" stroke-width="0.8">07:14</text>
<text transform="translate(1576.8 2525.9) scale(0.9000 1)" style="font-family:'Liberation Sans';font-weight:400;font-size:54px" fill="#000" stroke="#fff" stroke-width="0.8">13:05</text>
<text transform="translate(1774.6 2525.9) scale(0.9000 1)" style="font-family:'Liberation Sans';font-weight:400;font-size:54px" fill="#000" stroke="#fff" stroke-width="0.8">17:10</text>
<text transform="translate(1969.3 2525.9) scale(0.9000 1)" style="font-family:'Liberation Sans';font-weight:400;font-size:54px" fill="#000" stroke="#a0fda0" stroke-width="0.8">19:10</text>
<text transform="translate(2166.8 2525.9) scale(0.9000 1)" style="font-family:'Liberation Sans';font-weight:400;font-size:54px" fill="#000" stroke="#fff" stroke-width="0.8">20:11</text>
<text transform="translate(206.3 2605) scale(0.9721 1)" style="font-family:'Liberation Sans';font-weight:400;font-size:47.5px" fill="#000" stroke="#fff" stroke-width="0.7">11 Mart</text>
<text transform="translate(523.1 2605) scale(0.8245 1)" style="font-family:'Liberation Sans';font-weight:400;font-size:47.5px" fill="#000" stroke="#fff" stroke-width="0.7">Çərşənbə</text>
<text transform="translate(851.7 2605.8) scale(0.9000 1)" style="font-family:'Liberation Sans';font-weight:400;font-size:54px" fill="#000" stroke="#fff" stroke-width="0.8">21</text>
<text transform="translate(990.7 2605.8) scale(0.9000 1)" style="font-family:'Liberation Sans';font-weight:400;font-size:54px" fill="#000" stroke="#ff9f9f" stroke-width="0.8">05:46</text>
<text transform="translate(1184.7 2605.8) scale(0.9000 1)" style="font-family:'Liberation Sans';font-weight:400;font-size:54px" fill="#000" stroke="#fff" stroke-width="0.8">05:51</text>
<text transform="translate(1379.5 2605.8) scale(0.9000 1)" style="font-family:'Liberation Sans';font-weight:400;font-size:54px" fill="#000" stroke="#fff" stroke-width="0.8">07:12</text>
<text transform="translate(1576.4 2605.8) scale(0.9000 1)" style="font-family:'Liberation Sans';font-weight:400;font-size:54px" fill="#000" stroke="#fff" stroke-width="0.8">13:04</text>
<text transform="translate(1776.4 2605.8) scale(0.9000 1)" style="font-family:'Liberation Sans';font-weight:400;font-size:54px" fill="#000" stroke="#fff" stroke-width="0.8">17:11</text>
<text transform="translate(1971.1 2605.8) scale(0.9000 1)" style="font-family:'Liberation Sans';font-weight:400;font-size:54px" fill="#000" stroke="#a0fda0" stroke-width="0.8">19:11</text>
<text transform="translate(2165 2605.8) scale(0.9000 1)" style="font-family:'Liberation Sans';font-weight:400;font-size:54px" fill="#000" stroke="#fff" stroke-width="0.8">20:13</text>
<text transform="translate(206.4 2684.8) scale(0.9504 1)" style="font-family:'Liberation Sans';font-weight:400;font-size:47.5px" fill="#000" stroke="#fff" stroke-width="0.7">12 Mart</text>
<text transform="translate(485.6 2684.8) scale(0.8438 1)" style="font-family:'Liberation Sans';font-weight:400;font-size:47.5px" fill="#000" stroke="#fff" stroke-width="0.7">Cümə axşamı</text>
<text transform="translate(851.7 2685.6) scale(0.9000 1)" style="font-family:'Liberation Sans';font-weight:400;font-size:54px" fill="#000" stroke="#fff" stroke-width="0.8">22</text>
<text transform="translate(990.3 2685.6) scale(0.9000 1)" style="font-family:'Liberation Sans';font-weight:400;font-size:54px" fill="#000" stroke="#ff9f9f" stroke-width="0.8">05:44</text>
<text transform="translate(1184.7 2685.6) scale(0.9000 1)" style="font-family:'Liberation Sans';font-weight:400;font-size:54px" fill="#000" stroke="#fff" stroke-width="0.8">05:49</text>
<text transform="translate(1379.5 2685.6) scale(0.9000 1)" style="font-family:'Liberation Sans';font-weight:400;font-size:54px" fill="#000" stroke="#fff" stroke-width="0.8">07:10</text>
<text transform="translate(1576.4 2685.6) scale(0.9000 1)" style="font-family:'Liberation Sans';font-weight:400;font-size:54px" fill="#000" stroke="#fff" stroke-width="0.8">13:04</text>
<text transform="translate(1774.6 2685.6) scale(0.9000 1)" style="font-family:'Liberation Sans';font-weight:400;font-size:54px" fill="#000" stroke="#fff" stroke-width="0.8">17:12</text>
<text transform="translate(1969.3 2685.6) scale(0.9000 1)" style="font-family:'Liberation Sans';font-weight:400;font-size:54px" fill="#000" stroke="#a0fda0" stroke-width="0.8">19:12</text>
<text transform="translate(2164.5 2685.6) scale(0.9000 1)" style="font-family:'Liberation Sans';font-weight:400;font-size:54px" fill="#000" stroke="#fff" stroke-width="0.8">20:14</text>
<text transform="translate(207.4 2764.6) scale(0.9118 1)" style="font-family:'Liberation Sans';font-weight:700;font-size:47.5px" stroke="#111" stroke-width="2.6" fill="#70b170" stroke-linejoin="round">13 Mart</text>
<text transform="translate(557 2764.6) scale(0.7796 1)" style="font-family:'Liberation Sans';font-weight:700;font-size:47.5px" stroke="#111" stroke-width="2.6" fill="#70b170" stroke-linejoin="round">Cümə</text>
<text transform="translate(849.9 2765.4) scale(0.9600 1)" style="font-family:'Liberation Sans';font-weight:700;font-size:54px" fill="#000">23</text>
<text transform="translate(984.7 2765.4) scale(0.9600 1)" style="font-family:'Liberation Sans';font-weight:700;font-size:54px" fill="#000">05:43</text>
<text transform="translate(1178.7 2765.4) scale(0.9600 1)" style="font-family:'Liberation Sans';font-weight:700;font-size:54px" fill="#000">05:48</text>
<text transform="translate(1373.5 2765.4) scale(0.9600 1)" style="font-family:'Liberation Sans';font-weight:700;font-size:54px" fill="#000">07:09</text>
<text transform="translate(1570.8 2765.4) scale(0.9600 1)" style="font-family:'Liberation Sans';font-weight:700;font-size:54px" fill="#000">13:04</text>
<text transform="translate(1769 2765.4) scale(0.9600 1)" style="font-family:'Liberation Sans';font-weight:700;font-size:54px" fill="#000">17:13</text>
<text transform="translate(1963.8 2765.4) scale(0.9600 1)" style="font-family:'Liberation Sans';font-weight:700;font-size:54px" fill="#000">19:13</text>
<text transform="translate(2159.5 2765.4) scale(0.9600 1)" style="font-family:'Liberation Sans';font-weight:700;font-size:54px" fill="#000">20:15</text>
<text transform="translate(206.4 2844.5) scale(0.9504 1)" style="font-family:'Liberation Sans';font-weight:400;font-size:47.5px" fill="#000" stroke="#fff" stroke-width="0.7">14 Mart</text>
<text transform="translate(551.1 2844.5) scale(0.8288 1)" style="font-family:'Liberation Sans';font-weight:400;font-size:47.5px" fill="#000" stroke="#fff" stroke-width="0.7">Şənbə</text>
<text transform="translate(851.3 2845.3) scale(0.9000 1)" style="font-family:'Liberation Sans';font-weight:400;font-size:54px" fill="#000" stroke="#fff" stroke-width="0.8">24</text>
<text transform="translate(990.7 2845.3) scale(0.9000 1)" style="font-family:'Liberation Sans';font-weight:400;font-size:54px" fill="#000" stroke="#ff9f9f" stroke-width="0.8">05:41</text>
<text transform="translate(1184.7 2845.3) scale(0.9000 1)" style="font-family:'Liberation Sans';font-weight:400;font-size:54px" fill="#000" stroke="#fff" stroke-width="0.8">05:46</text>
<text transform="translate(1379.5 2845.3) scale(0.9000 1)" style="font-family:'Liberation Sans';font-weight:400;font-size:54px" fill="#000" stroke="#fff" stroke-width="0.8">07:07</text>
<text transform="translate(1576.4 2845.3) scale(0.9000 1)" style="font-family:'Liberation Sans';font-weight:400;font-size:54px" fill="#000" stroke="#fff" stroke-width="0.8">13:04</text>
<text transform="translate(1774.1 2845.3) scale(0.9000 1)" style="font-family:'Liberation Sans';font-weight:400;font-size:54px" fill="#000" stroke="#fff" stroke-width="0.8">17:14</text>
<text transform="translate(1969.3 2845.3) scale(0.9000 1)" style="font-family:'Liberation Sans';font-weight:400;font-size:54px" fill="#000" stroke="#a0fda0" stroke-width="0.8">19:15</text>
<text transform="translate(2165 2845.3) scale(0.9000 1)" style="font-family:'Liberation Sans';font-weight:400;font-size:54px" fill="#000" stroke="#fff" stroke-width="0.8">20:16</text>
<text transform="translate(206.4 2924.3) scale(0.9504 1)" style="font-family:'Liberation Sans';font-weight:400;font-size:47.5px" fill="#000" stroke="#ff9f9f" stroke-width="0.7">15 Mart</text>
<text transform="translate(553.7 2924.3) scale(0.8576 1)" style="font-family:'Liberation Sans';font-weight:400;font-size:47.5px" fill="#000" stroke="#ff9f9f" stroke-width="0.7">Bazar</text>
<text transform="translate(851.7 2925.1) scale(0.9000 1)" style="font-family:'Liberation Sans';font-weight:400;font-size:54px" fill="#000" stroke="#ff9f9f" stroke-width="0.8">25</text>
<text transform="translate(990.7 2925.1) scale(0.9000 1)" style="font-family:'Liberation Sans';font-weight:400;font-size:54px" fill="#000" stroke="#ff9f9f" stroke-width="0.8">05:39</text>
<text transform="translate(1184.3 2925.1) scale(0.9000 1)" style="font-family:'Liberation Sans';font-weight:400;font-size:54px" fill="#000" stroke="#ff9f9f" stroke-width="0.8">05:44</text>
<text transform="translate(1379.5 2925.1) scale(0.9000 1)" style="font-family:'Liberation Sans';font-weight:400;font-size:54px" fill="#000" stroke="#ff9f9f" stroke-width="0.8">07:05</text>
<text transform="translate(1576.8 2925.1) scale(0.9000 1)" style="font-family:'Liberation Sans';font-weight:400;font-size:54px" fill="#000" stroke="#ff9f9f" stroke-width="0.8">13:03</text>
<text transform="translate(1774.6 2925.1) scale(0.9000 1)" style="font-family:'Liberation Sans';font-weight:400;font-size:54px" fill="#000" stroke="#ff9f9f" stroke-width="0.8">17:15</text>
<text transform="translate(1969.3 2925.1) scale(0.9000 1)" style="font-family:'Liberation Sans';font-weight:400;font-size:54px" fill="#000" stroke="#a0fda0" stroke-width="0.8">19:16</text>
<text transform="translate(2165 2925.1) scale(0.9000 1)" style="font-family:'Liberation Sans';font-weight:400;font-size:54px" fill="#000" stroke="#ff9f9f" stroke-width="0.8">20:17</text>
<text transform="translate(206.4 3004.1) scale(0.9504 1)" style="font-family:'Liberation Sans';font-weight:400;font-size:47.5px" fill="#000" stroke="#fff" stroke-width="0.7">16 Mart</text>
<text transform="translate(495.1 3004.1) scale(0.8916 1)" style="font-family:'Liberation Sans';font-weight:400;font-size:47.5px" fill="#000" stroke="#fff" stroke-width="0.7">Bazar ertəsi</text>
<text transform="translate(851.7 3004.9) scale(0.9000 1)" style="font-family:'Liberation Sans';font-weight:400;font-size:54px" fill="#000" stroke="#fff" stroke-width="0.8">26</text>
<text transform="translate(990.7 3004.9) scale(0.9000 1)" style="font-family:'Liberation Sans';font-weight:400;font-size:54px" fill="#000" stroke="#ff9f9f" stroke-width="0.8">05:38</text>
<text transform="translate(1184.7 3004.9) scale(0.9000 1)" style="font-family:'Liberation Sans';font-weight:400;font-size:54px" fill="#000" stroke="#fff" stroke-width="0.8">05:43</text>
<text transform="translate(1379 3004.9) scale(0.9000 1)" style="font-family:'Liberation Sans';font-weight:400;font-size:54px" fill="#000" stroke="#fff" stroke-width="0.8">07:04</text>
<text transform="translate(1576.8 3004.9) scale(0.9000 1)" style="font-family:'Liberation Sans';font-weight:400;font-size:54px" fill="#000" stroke="#fff" stroke-width="0.8">13:03</text>
<text transform="translate(1774.6 3004.9) scale(0.9000 1)" style="font-family:'Liberation Sans';font-weight:400;font-size:54px" fill="#000" stroke="#fff" stroke-width="0.8">17:15</text>
<text transform="translate(1969.3 3004.9) scale(0.9000 1)" style="font-family:'Liberation Sans';font-weight:400;font-size:54px" fill="#000" stroke="#a0fda0" stroke-width="0.8">19:17</text>
<text transform="translate(2165 3004.9) scale(0.9000 1)" style="font-family:'Liberation Sans';font-weight:400;font-size:54px" fill="#000" stroke="#fff" stroke-width="0.8">20:18</text>
<text transform="translate(206.4 3084) scale(0.9504 1)" style="font-family:'Liberation Sans';font-weight:400;font-size:47.5px" fill="#000" stroke="#fff" stroke-width="0.7">17 Mart</text>
<text transform="translate(453.1 3084) scale(0.8387 1)" style="font-family:'Liberation Sans';font-weight:400;font-size:47.5px" fill="#000" stroke="#fff" stroke-width="0.7">Çərşənbə axşamı</text>
<text transform="translate(851.7 3084.8) scale(0.9000 1)" style="font-family:'Liberation Sans';font-weight:400;font-size:54px" fill="#000" stroke="#fff" stroke-width="0.8">27</text>
<text transform="translate(990.7 3084.8) scale(0.9000 1)" style="font-family:'Liberation Sans';font-weight:400;font-size:54px" fill="#000" stroke="#ff9f9f" stroke-width="0.8">05:36</text>
<text transform="translate(1184.7 3084.8) scale(0.9000 1)" style="font-family:'Liberation Sans';font-weight:400;font-size:54px" fill="#000" stroke="#fff" stroke-width="0.8">05:41</text>
<text transform="translate(1379.5 3084.8) scale(0.9000 1)" style="font-family:'Liberation Sans';font-weight:400;font-size:54px" fill="#000" stroke="#fff" stroke-width="0.8">07:02</text>
<text transform="translate(1576.8 3084.8) scale(0.9000 1)" style="font-family:'Liberation Sans';font-weight:400;font-size:54px" fill="#000" stroke="#fff" stroke-width="0.8">13:03</text>
<text transform="translate(1774.6 3084.8) scale(0.9000 1)" style="font-family:'Liberation Sans';font-weight:400;font-size:54px" fill="#000" stroke="#fff" stroke-width="0.8">17:16</text>
<text transform="translate(1969.3 3084.8) scale(0.9000 1)" style="font-family:'Liberation Sans';font-weight:400;font-size:54px" fill="#000" stroke="#a0fda0" stroke-width="0.8">19:18</text>
<text transform="translate(2165 3084.8) scale(0.9000 1)" style="font-family:'Liberation Sans';font-weight:400;font-size:54px" fill="#000" stroke="#fff" stroke-width="0.8">20:20</text>
<text transform="translate(206.4 3163.8) scale(0.9504 1)" style="font-family:'Liberation Sans';font-weight:400;font-size:47.5px" fill="#000" stroke="#fff" stroke-width="0.7">18 Mart</text>
<text transform="translate(523.1 3163.8) scale(0.8245 1)" style="font-family:'Liberation Sans';font-weight:400;font-size:47.5px" fill="#000" stroke="#fff" stroke-width="0.7">Çərşənbə</text>
<text transform="translate(851.7 3164.6) scale(0.9000 1)" style="font-family:'Liberation Sans';font-weight:400;font-size:54px" fill="#000" stroke="#fff" stroke-width="0.8">28</text>
<text transform="translate(990.3 3164.6) scale(0.9000 1)" style="font-family:'Liberation Sans';font-weight:400;font-size:54px" fill="#000" stroke="#ff9f9f" stroke-width="0.8">05:34</text>
<text transform="translate(1184.7 3164.6) scale(0.9000 1)" style="font-family:'Liberation Sans';font-weight:400;font-size:54px" fill="#000" stroke="#fff" stroke-width="0.8">05:39</text>
<text transform="translate(1379.5 3164.6) scale(0.9000 1)" style="font-family:'Liberation Sans';font-weight:400;font-size:54px" fill="#000" stroke="#fff" stroke-width="0.8">07:00</text>
<text transform="translate(1576.8 3164.6) scale(0.9000 1)" style="font-family:'Liberation Sans';font-weight:400;font-size:54px" fill="#000" stroke="#fff" stroke-width="0.8">13:02</text>
<text transform="translate(1774.6 3164.6) scale(0.9000 1)" style="font-family:'Liberation Sans';font-weight:400;font-size:54px" fill="#000" stroke="#fff" stroke-width="0.8">17:17</text>
<text transform="translate(1969.3 3164.6) scale(0.9000 1)" style="font-family:'Liberation Sans';font-weight:400;font-size:54px" fill="#000" stroke="#a0fda0" stroke-width="0.8">19:19</text>
<text transform="translate(2165 3164.6) scale(0.9000 1)" style="font-family:'Liberation Sans';font-weight:400;font-size:54px" fill="#000" stroke="#fff" stroke-width="0.8">20:21</text>
<text transform="translate(206.4 3243.6) scale(0.9504 1)" style="font-family:'Liberation Sans';font-weight:400;font-size:47.5px" fill="#000" stroke="#fff" stroke-width="0.7">19 Mart</text>
<text transform="translate(485.6 3243.6) scale(0.8438 1)" style="font-family:'Liberation Sans';font-weight:400;font-size:47.5px" fill="#000" stroke="#fff" stroke-width="0.7">Cümə axşamı</text>
<text transform="translate(851.7 3244.4) scale(0.9000 1)" style="font-family:'Liberation Sans';font-weight:400;font-size:54px" fill="#000" stroke="#fff" stroke-width="0.8">29</text>
<text transform="translate(990.7 3244.4) scale(0.9000 1)" style="font-family:'Liberation Sans';font-weight:400;font-size:54px" fill="#000" stroke="#ff9f9f" stroke-width="0.8">05:32</text>
<text transform="translate(1184.7 3244.4) scale(0.9000 1)" style="font-family:'Liberation Sans';font-weight:400;font-size:54px" fill="#000" stroke="#fff" stroke-width="0.8">05:37</text>
<text transform="translate(1379.5 3244.4) scale(0.9000 1)" style="font-family:'Liberation Sans';font-weight:400;font-size:54px" fill="#000" stroke="#fff" stroke-width="0.8">06:59</text>
<text transform="translate(1576.8 3244.4) scale(0.9000 1)" style="font-family:'Liberation Sans';font-weight:400;font-size:54px" fill="#000" stroke="#fff" stroke-width="0.8">13:02</text>
<text transform="translate(1774.6 3244.4) scale(0.9000 1)" style="font-family:'Liberation Sans';font-weight:400;font-size:54px" fill="#000" stroke="#fff" stroke-width="0.8">17:18</text>
<text transform="translate(1969.3 3244.4) scale(0.9000 1)" style="font-family:'Liberation Sans';font-weight:400;font-size:54px" fill="#000" stroke="#a0fda0" stroke-width="0.8">19:20</text>
<text transform="translate(2165 3244.4) scale(0.9000 1)" style="font-family:'Liberation Sans';font-weight:400;font-size:54px" fill="#000" stroke="#fff" stroke-width="0.8">20:22</text>
<text transform="translate(207.8 3323.5) scale(0.9124 1)" style="font-family:'Liberation Sans';font-weight:700;font-size:47.5px" stroke="#111" stroke-width="2.6" fill="#70b170" stroke-linejoin="round">20 Mart</text>
<text transform="translate(557 3323.5) scale(0.7796 1)" style="font-family:'Liberation Sans';font-weight:700;font-size:47.5px" stroke="#111" stroke-width="2.6" fill="#70b170" stroke-linejoin="round">Cümə</text>
<text transform="translate(863.4 3324.3) scale(0.9600 1)" style="font-family:'Liberation Sans';font-weight:700;font-size:54px" fill="#000">1</text>
<text transform="translate(1158.4 3328) scale(0.8608 1)" style="font-family:'Liberation Sans';font-weight:700;font-size:53px" fill="#000">RAMAZAN BAYRAMINIZ MÜBARƏK OLSUN!</text>
<text transform="translate(755.3 400) scale(0.8942 1)" style="font-family:'Liberation Sans';font-weight:400;font-size:82px" fill="#1e5e9b" stroke="#fff" stroke-width="2">Qafqaz Müsəlmanları İdarəsi</text>
<text transform="translate(657.5 518) scale(0.8917 1)" style="font-family:'Liberation Sans';font-weight:700;font-size:84px" fill="#1e5e9b">RAMAZAN TƏQVİMİ</text>
<text transform="translate(1391.5 518) scale(0.8455 1)" style="font-family:'Liberation Sans';font-weight:700;font-size:84px" fill="#1e5e9b">-</text>
<text transform="translate(1437.8 518) scale(0.8458 1)" style="font-family:'Liberation Sans';font-weight:700;font-size:84px" fill="#138832">BALAKƏN</text>
<text transform="translate(760.3 634) scale(0.9069 1)" style="font-family:'Liberation Sans';font-weight:400;font-size:82px" fill="#433838" stroke="#fff" stroke-width="2">Miladi:</text>
<text transform="translate(992 634) scale(0.9983 1)" style="font-family:'Liberation Sans';font-weight:700;font-size:82px" fill="#7d1014">Fevral - Mart 2026</text>
<text transform="translate(727 751) scale(0.8934 1)" style="font-family:'Liberation Sans';font-weight:400;font-size:82px" fill="#433838" stroke="#fff" stroke-width="2">Hicri-Qəməri:</text>
<text transform="translate(1172.7 751) scale(0.9671 1)" style="font-family:'Liberation Sans';font-weight:700;font-size:82px" fill="#138832">Ramazan 1447</text>
<text transform="translate(153 3477) scale(1.0643 1)" style="font-family:'Liberation Serif';font-weight:400;font-size:52px" fill="#222">http://namaz.minber.az</text>
<text transform="translate(2004 3477) scale(1.0099 1)" style="font-family:'Liberation Serif';font-weight:400;font-size:52px" fill="#222">www.minber.az</text></g>
</svg>
</body></html>
